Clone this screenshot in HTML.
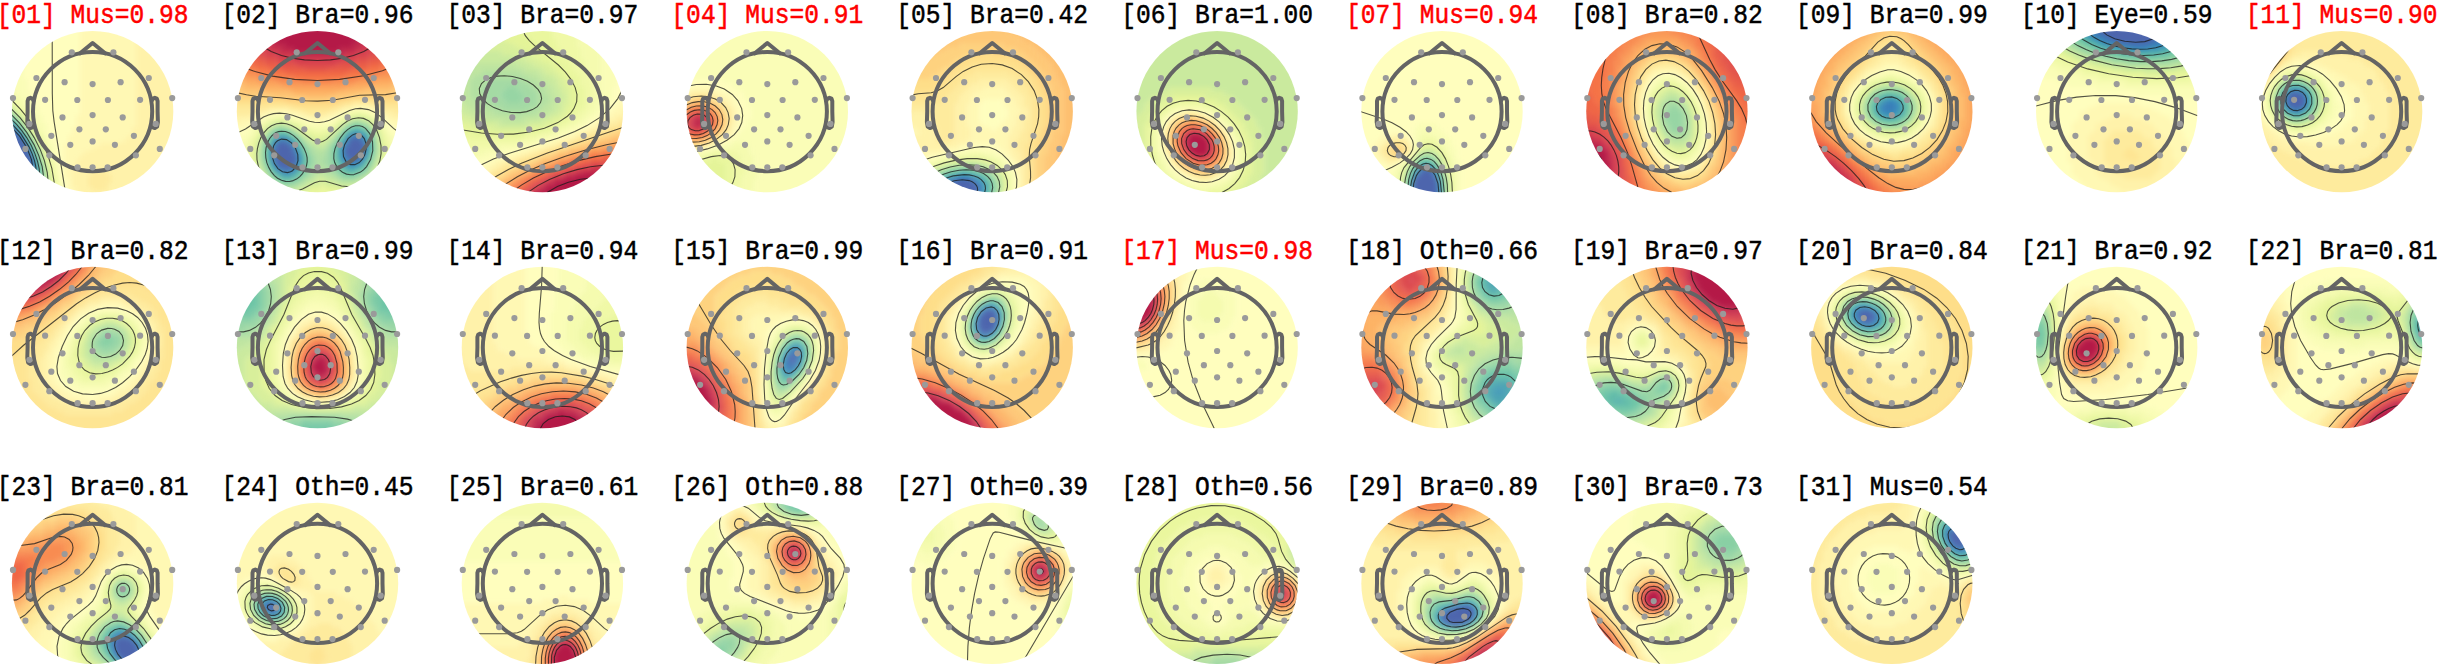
<!DOCTYPE html><html><head><meta charset="utf-8"><style>html,body{margin:0;padding:0;background:#fff;width:2438px;height:667px;overflow:hidden}svg{display:block}.ho{fill:none;stroke:#646464;stroke-width:4;stroke-linejoin:round;stroke-linecap:round}.el{fill:#9a9a9a}.fd path{fill:none;stroke-width:4}.ct{fill:none;stroke:#1a1a1a;stroke-opacity:.75;stroke-width:1.1}.tt{font-family:"Liberation Mono",monospace;font-size:24.6px;text-anchor:middle;fill:#000;stroke:#000;stroke-width:.45}.rd{fill:#f00;stroke:#f00}</style></head><body>
<svg width="2438" height="667" viewBox="0 0 2438 667">
<defs><clipPath id="dc"><circle r="80.7"/></clipPath><filter id="bl" x="-20%" y="-20%" width="140%" height="140%" color-interpolation-filters="sRGB"><feGaussianBlur stdDeviation="2.6"/></filter><g id="hd"><g class="ho"><circle r="59.6"/><path d="M-12.5 -58.3L0 -68.6L12.5 -58.3"/><path d="M-59.2 -11 -60.3 -13 -62.2 -13.8 -64.2 -13 -65 -10.5 -65 0 -65.3 10.5 -64.5 15 -62.2 16.5 -59.6 15.6"/><path d="M59.2 -11 60.3 -13 62.2 -13.8 64.2 -13 65 -10.5 65 0 65.3 10.5 64.5 15 62.2 16.5 59.6 15.6"/></g><g class="el"><circle cx="-20.8" cy="-59.3" r="3.1"/><circle cx="20.8" cy="-59.3" r="3.1"/><circle cx="-56.2" cy="-33.6" r="3.1"/><circle cx="56.2" cy="-33.6" r="3.1"/><circle cx="-28" cy="-29.4" r="3.1"/><circle cx="28" cy="-29.4" r="3.1"/><circle cx="0" cy="-27.5" r="3.1"/><circle cx="-79.6" cy="-13.5" r="3.1"/><circle cx="79.6" cy="-13.5" r="3.1"/><circle cx="-47.5" cy="-11.8" r="3.1"/><circle cx="47.5" cy="-11.8" r="3.1"/><circle cx="-15.3" cy="-11.6" r="3.1"/><circle cx="15.3" cy="-11.6" r="3.1"/><circle cx="-63.2" cy="12.3" r="3.1"/><circle cx="63.2" cy="12.3" r="3.1"/><circle cx="-30.1" cy="5.8" r="3.1"/><circle cx="30.1" cy="5.8" r="3.1"/><circle cx="0" cy="3.5" r="3.1"/><circle cx="-41.3" cy="24.2" r="3.1"/><circle cx="41.3" cy="24.2" r="3.1"/><circle cx="-13.2" cy="17.7" r="3.1"/><circle cx="13.2" cy="17.7" r="3.1"/><circle cx="-67.2" cy="37.3" r="3.1"/><circle cx="67.2" cy="37.3" r="3.1"/><circle cx="-22.3" cy="33.2" r="3.1"/><circle cx="22.3" cy="33.2" r="3.1"/><circle cx="0" cy="29.8" r="3.1"/><circle cx="-43.3" cy="43.7" r="3.1"/><circle cx="43.3" cy="43.7" r="3.1"/><circle cx="-15" cy="55.7" r="3.1"/><circle cx="15" cy="55.7" r="3.1"/><circle cx="0" cy="55.7" r="3.1"/></g></g></defs>
<g transform="translate(92.6 111.6)">
<g clip-path="url(#dc)"><g filter="url(#bl)" class="fd">
<path stroke="#4d65ad" d="M-84.7 17.3h4M-84.7 21.3h8M-84.7 25.3h12M-80.7 29.3h12M-80.7 33.3h12M-76.7 37.3h12M-76.7 41.3h12M-72.7 45.3h12M-72.7 49.3h12M-68.7 53.3h8M-64.7 57.3h4"/>
<path stroke="#4273b3" d="M-80.7 17.3h4M-68.7 33.3h4"/>
<path stroke="#3a7eb8" d="M-84.7 13.3h4M-76.7 21.3h4M-64.7 41.3h4M-60.7 53.3h4M-60.7 57.3h4M-60.7 61.3h4"/>
<path stroke="#3389bd" d="M-72.7 25.3h4M-60.7 49.3h4"/>
<path stroke="#3f97b7" d="M-68.7 29.3h4M-64.7 37.3h4"/>
<path stroke="#49a2b2" d="M-84.7 9.3h4M-80.7 13.3h4M-76.7 17.3h4M-60.7 45.3h4"/>
<path stroke="#54aead" d="M-72.7 21.3h4M-56.7 57.3h4M-56.7 61.3h4M-56.7 65.3h4"/>
<path stroke="#60bba8" d="M-68.7 25.3h4M-64.7 33.3h4M-60.7 41.3h4M-56.7 53.3h4"/>
<path stroke="#6bc4a5" d="M-80.7 9.3h4M-56.7 49.3h4"/>
<path stroke="#79c9a5" d="M-84.7 5.3h4M-76.7 13.3h4M-72.7 17.3h4M-64.7 29.3h4M-60.7 37.3h4"/>
<path stroke="#89d0a4" d="M-68.7 21.3h4M-56.7 45.3h4M-52.7 61.3h4M-52.7 65.3h4M-52.7 69.3h4"/>
<path stroke="#97d5a4" d="M-80.7 5.3h4M-76.7 9.3h4M-60.7 33.3h4M-56.7 41.3h4M-52.7 53.3h4M-52.7 57.3h4"/>
<path stroke="#a4daa4" d="M-84.7 1.3h4M-72.7 13.3h4M-64.7 25.3h4"/>
<path stroke="#b3e0a2" d="M-68.7 17.3h4M-60.7 29.3h4M-56.7 37.3h4M-52.7 49.3h4M-48.7 65.3h4M-48.7 69.3h4"/>
<path stroke="#bfe5a0" d="M-84.7 -2.7h4M-80.7 1.3h4M-76.7 5.3h4M-72.7 9.3h4M-64.7 21.3h4M-52.7 45.3h4M-48.7 57.3h4M-48.7 61.3h4"/>
<path stroke="#caea9e" d="M-68.7 13.3h4M-60.7 25.3h4M-56.7 33.3h4M-52.7 41.3h4M-48.7 53.3h4"/>
<path stroke="#d8ef9b" d="M-84.7 -6.7h4M-80.7 -2.7h4M-76.7 1.3h4M-72.7 5.3h4M-64.7 17.3h4M-56.7 29.3h4M-52.7 37.3h4M-48.7 49.3h4M-44.7 65.3h4M-44.7 69.3h4M-44.7 73.3h4"/>
<path stroke="#e4f498" d="M-68.7 9.3h4M-64.7 13.3h4M-60.7 21.3h4M-52.7 33.3h4M-48.7 45.3h4M-44.7 57.3h4M-44.7 61.3h4"/>
<path stroke="#eaf79e" d="M-84.7 -10.7h4M-80.7 -6.7h4M-76.7 -2.7h4M-72.7 1.3h4M-68.7 5.3h4M-64.7 9.3h4M-60.7 17.3h4M-56.7 25.3h4M-52.7 29.3h4M-48.7 41.3h4M-44.7 49.3h4M-44.7 53.3h4M-40.7 69.3h4M-40.7 73.3h4M-40.7 77.3h4"/>
<path stroke="#f0f9a7" d="M-84.7 -14.7h4M-80.7 -10.7h4M-76.7 -6.7h4M-72.7 -2.7h4M-68.7 1.3h4M-64.7 5.3h4M-60.7 13.3h4M-56.7 21.3h4M-52.7 25.3h4M-48.7 33.3h4M-48.7 37.3h4M-44.7 45.3h4M-40.7 57.3h4M-40.7 61.3h4M-40.7 65.3h4"/>
<path stroke="#f5fbaf" d="M-84.7 -22.7h4M-84.7 -18.7h8M-80.7 -14.7h8M-76.7 -10.7h8M-72.7 -6.7h4M-68.7 -2.7h4M-64.7 1.3h4M-60.7 5.3h4M-60.7 9.3h4M-56.7 13.3h4M-56.7 17.3h4M-52.7 21.3h4M-48.7 29.3h4M-44.7 37.3h4M-44.7 41.3h4M-40.7 49.3h4M-40.7 53.3h4M-36.7 65.3h4M-36.7 69.3h4M-36.7 73.3h4M-36.7 77.3h4"/>
<path stroke="#fafdb7" d="M-72.7 -46.7h4M-76.7 -42.7h8M-76.7 -38.7h8M-80.7 -34.7h12M-80.7 -30.7h16M-80.7 -26.7h16M-80.7 -22.7h16M-76.7 -18.7h16M-72.7 -14.7h12M-68.7 -10.7h12M-68.7 -6.7h12M-64.7 -2.7h12M-60.7 1.3h8M-56.7 5.3h8M-56.7 9.3h8M-52.7 13.3h8M-52.7 17.3h8M-48.7 21.3h4M-48.7 25.3h8M-44.7 29.3h4M-44.7 33.3h8M-40.7 37.3h4M-40.7 41.3h4M-40.7 45.3h4M-36.7 49.3h4M-36.7 53.3h4M-36.7 57.3h4M-36.7 61.3h4M-32.7 73.3h4M-32.7 77.3h4"/>
<path stroke="#fffebe" d="M-24.7 -82.7h12M-36.7 -78.7h24M-44.7 -74.7h32M-48.7 -70.7h36M-56.7 -66.7h44M-60.7 -62.7h48M-64.7 -58.7h52M-68.7 -54.7h56M-68.7 -50.7h56M-68.7 -46.7h56M-68.7 -42.7h56M-68.7 -38.7h56M-68.7 -34.7h56M-64.7 -30.7h52M-64.7 -26.7h52M-64.7 -22.7h52M-60.7 -18.7h48M-60.7 -14.7h48M-56.7 -10.7h44M-56.7 -6.7h44M-52.7 -2.7h40M-52.7 1.3h40M-48.7 5.3h32M-48.7 9.3h32M-44.7 13.3h28M-44.7 17.3h24M-44.7 21.3h24M-40.7 25.3h16M-40.7 29.3h16M-36.7 33.3h8M-36.7 37.3h8M-36.7 41.3h8M-36.7 45.3h8M-32.7 49.3h4M-32.7 53.3h4M-32.7 57.3h4M-32.7 61.3h4M-32.7 65.3h4M-32.7 69.3h8M-28.7 73.3h4M-28.7 77.3h4M-28.7 81.3h4"/>
<path stroke="#fff8b4" d="M-12.7 -82.7h40M-12.7 -78.7h48M-12.7 -74.7h56M-12.7 -70.7h56M-12.7 -66.7h56M-12.7 -62.7h56M-12.7 -58.7h56M-12.7 -54.7h56M-12.7 -50.7h56M-12.7 -46.7h56M-12.7 -42.7h56M-12.7 -38.7h56M-12.7 -34.7h56M-12.7 -30.7h56M-12.7 -26.7h56M-12.7 -22.7h56M-12.7 -18.7h56M-12.7 -14.7h56M-12.7 -10.7h56M-12.7 -6.7h56M-12.7 -2.7h56M-12.7 1.3h56M-16.7 5.3h60M-16.7 9.3h60M-16.7 13.3h60M-20.7 17.3h60M-20.7 21.3h60M-24.7 25.3h60M-24.7 29.3h56M-28.7 33.3h36M-28.7 37.3h28M-28.7 41.3h20M-28.7 45.3h16M-28.7 49.3h12M-28.7 53.3h12M-28.7 57.3h8M-28.7 61.3h8M-28.7 65.3h8M-24.7 69.3h4M-24.7 73.3h4M-24.7 77.3h8M-24.7 81.3h8"/>
<path stroke="#fff2aa" d="M43.3 -70.7h8M43.3 -66.7h12M43.3 -62.7h16M43.3 -58.7h20M43.3 -54.7h24M43.3 -50.7h28M43.3 -46.7h28M43.3 -42.7h32M43.3 -38.7h36M43.3 -34.7h36M43.3 -30.7h36M43.3 -26.7h40M43.3 -22.7h40M43.3 -18.7h40M43.3 -14.7h44M43.3 -10.7h44M43.3 -6.7h44M43.3 -2.7h44M43.3 1.3h44M43.3 5.3h44M43.3 9.3h44M43.3 13.3h44M39.3 17.3h44M39.3 21.3h44M35.3 25.3h48M31.3 29.3h52M7.3 33.3h72M-0.7 37.3h80M-8.7 41.3h84M-12.7 45.3h88M-16.7 49.3h88M-16.7 53.3h84M-20.7 57.3h84M-20.7 61.3h20M15.3 61.3h48M-20.7 65.3h16M19.3 65.3h36M-20.7 69.3h16M19.3 69.3h32M-20.7 73.3h16M15.3 73.3h32M-16.7 77.3h16M15.3 77.3h24M-16.7 81.3h48M-16.7 85.3h32"/>
<path stroke="#feeb9d" d="M-0.7 61.3h16M-4.7 65.3h24M-4.7 69.3h24M-4.7 73.3h20M-0.7 77.3h16"/>
</g>
<path class="ct" d="M-81 64.3 -77 67.3 -73 69.4 -69 70.4 -66 70.2 -63 68.7 -61 66 -59.8 62 -59.5 58 -61.1 48 -65.8 36 -73 24.5 -81 15.9M-81 68.1 -76 71.8 -71 74.2 -67 75.2 -63 74.7 -60 72.9 -57.9 70 -56.7 66 -56.3 61 -56.8 55 -58.1 49 -60.5 42 -63.7 35 -71.8 22 -81 12.1M-81 72.2 -75 76.5 -70 79 -65 80.2 -61 79.9 -57.5 78 -55 74.9 -53.3 70 -52.8 64 -53.4 57 -55 50 -57.7 42 -61.3 34 -65.9 26 -70.8 19 -76 12.8 -81 8M-52.2 81 -49.7 75 -48.9 66 -50.4 55 -53.8 44 -58.6 33 -65.7 21 -73 11.5 -81 3.3M-81 76.8 -75.4 81M-45.3 81 -44.3 72 -45.3 61 -48.2 49 -52.3 38 -58.4 26 -64.7 16 -72.6 6 -81 -2.5M-38.2 81 -38.5 70 -40.7 57 -44.5 44 -49.5 32 -56.5 19 -63.7 8 -72 -2.3 -81 -11.6M-27.1 81 -38.5 10 -39.8 -1 -40.3 -18 -40.4 -81"/>
</g>
<use href="#hd"/>
</g>
<text x="92.6" y="0" class="tt rd" transform="translate(0 22.9) scale(1 1.12) translate(0 0)">[01] Mus=0.98</text>
<g transform="translate(317.5 111.6)">
<g clip-path="url(#dc)"><g filter="url(#bl)" class="fd">
<path stroke="#4d65ad" d="M31.3 29.3h12M-40.7 33.3h12M31.3 33.3h16M-40.7 37.3h16M27.3 37.3h20M-44.7 41.3h20M27.3 41.3h16M-40.7 45.3h20M31.3 45.3h12M-40.7 49.3h20M-40.7 53.3h16M-32.7 57.3h4"/>
<path stroke="#4273b3" d="M35.3 25.3h8M-36.7 29.3h4M43.3 29.3h4M-28.7 33.3h4M27.3 33.3h4M-44.7 37.3h4M-24.7 41.3h4M43.3 41.3h4M-44.7 45.3h4M27.3 45.3h4M-44.7 49.3h4M31.3 49.3h8M-24.7 53.3h4M-36.7 57.3h4M-28.7 57.3h4"/>
<path stroke="#3a7eb8" d="M31.3 25.3h4M-40.7 29.3h4M-32.7 29.3h4M-44.7 33.3h4M-24.7 37.3h4M43.3 45.3h4M27.3 49.3h4M39.3 49.3h4M-40.7 57.3h4"/>
<path stroke="#3389bd" d="M43.3 25.3h4M27.3 29.3h4M47.3 33.3h4M23.3 37.3h4M47.3 37.3h4M23.3 41.3h4M-20.7 45.3h4M23.3 45.3h4M-20.7 49.3h4M-44.7 53.3h4M31.3 53.3h8M-24.7 57.3h4M-32.7 61.3h4"/>
<path stroke="#3f97b7" d="M35.3 21.3h8M-36.7 25.3h4M-44.7 29.3h4M-28.7 29.3h4M47.3 29.3h4M-24.7 33.3h4M23.3 33.3h4M-48.7 41.3h4M-20.7 41.3h4M47.3 41.3h4M-48.7 45.3h4M23.3 49.3h4M43.3 49.3h4M-20.7 53.3h4M27.3 53.3h4M39.3 53.3h4M-36.7 61.3h4M-28.7 61.3h4"/>
<path stroke="#49a2b2" d="M31.3 21.3h4M43.3 21.3h4M-40.7 25.3h4M-32.7 25.3h4M27.3 25.3h4M47.3 25.3h4M-48.7 37.3h4M-20.7 37.3h4M47.3 45.3h4M-48.7 49.3h4M-44.7 57.3h4M-20.7 57.3h4M31.3 57.3h4M-40.7 61.3h4M-24.7 61.3h4"/>
<path stroke="#54aead" d="M-24.7 29.3h4M23.3 29.3h4M-48.7 33.3h4M19.3 37.3h4M19.3 41.3h4M-16.7 45.3h4M19.3 45.3h4M-16.7 49.3h4M-48.7 53.3h4M23.3 53.3h4M43.3 53.3h4M27.3 57.3h4M35.3 57.3h4M-36.7 65.3h12"/>
<path stroke="#60bba8" d="M35.3 17.3h8M27.3 21.3h4M47.3 21.3h4M-44.7 25.3h4M-28.7 25.3h4M-48.7 29.3h4M-20.7 33.3h4M19.3 33.3h4M51.3 33.3h4M51.3 37.3h4M-16.7 41.3h4M19.3 49.3h4M47.3 49.3h4M-16.7 53.3h4M23.3 57.3h4M39.3 57.3h4M-44.7 61.3h4M-20.7 61.3h4M-24.7 65.3h4"/>
<path stroke="#6bc4a5" d="M31.3 17.3h4M43.3 17.3h4M-40.7 21.3h12M23.3 25.3h4M51.3 29.3h4M-52.7 37.3h4M-16.7 37.3h4M-52.7 41.3h4M51.3 41.3h4M-52.7 45.3h4M19.3 53.3h4M-48.7 57.3h4M-16.7 57.3h4M43.3 57.3h4M27.3 61.3h12M-40.7 65.3h4"/>
<path stroke="#79c9a5" d="M-44.7 21.3h4M-48.7 25.3h4M-24.7 25.3h4M51.3 25.3h4M-20.7 29.3h4M19.3 29.3h4M-52.7 33.3h4M15.3 37.3h4M15.3 41.3h4M-12.7 45.3h4M15.3 45.3h4M51.3 45.3h4M-52.7 49.3h4M-12.7 49.3h4M15.3 49.3h4M-12.7 53.3h4M47.3 53.3h4M19.3 57.3h4M-16.7 61.3h4M23.3 61.3h4M39.3 61.3h4M-20.7 65.3h4M-36.7 69.3h12"/>
<path stroke="#89d0a4" d="M35.3 13.3h8M27.3 17.3h4M47.3 17.3h4M-28.7 21.3h4M23.3 21.3h4M51.3 21.3h4M-52.7 29.3h4M-16.7 33.3h4M15.3 33.3h4M-12.7 41.3h4M51.3 49.3h4M-52.7 53.3h4M15.3 53.3h4M-12.7 57.3h4M47.3 57.3h4M-48.7 61.3h4M-44.7 65.3h4M31.3 65.3h4M-40.7 69.3h4M-24.7 69.3h4"/>
<path stroke="#97d5a4" d="M31.3 13.3h4M43.3 13.3h4M-40.7 17.3h8M-48.7 21.3h4M-20.7 25.3h4M19.3 25.3h4M55.3 29.3h4M55.3 33.3h4M-12.7 37.3h4M11.3 37.3h4M55.3 37.3h4M11.3 41.3h4M55.3 41.3h4M-8.7 45.3h4M11.3 45.3h4M-8.7 49.3h4M11.3 49.3h4M-8.7 53.3h4M11.3 53.3h4M51.3 53.3h4M-52.7 57.3h4M15.3 57.3h4M-12.7 61.3h4M19.3 61.3h4M43.3 61.3h4M-16.7 65.3h4M23.3 65.3h8M35.3 65.3h4M-20.7 69.3h4M-32.7 73.3h4"/>
<path stroke="#a4daa4" d="M47.3 13.3h4M-44.7 17.3h4M-32.7 17.3h4M51.3 17.3h4M-24.7 21.3h4M-52.7 25.3h4M55.3 25.3h4M-16.7 29.3h4M15.3 29.3h4M-56.7 33.3h4M-12.7 33.3h4M11.3 33.3h4M-56.7 37.3h4M-8.7 37.3h4M-56.7 41.3h4M-8.7 41.3h4M7.3 41.3h4M-56.7 45.3h4M-4.7 45.3h4M7.3 45.3h4M55.3 45.3h4M-56.7 49.3h4M-4.7 49.3h4M3.3 49.3h8M-4.7 53.3h4M7.3 53.3h4M-8.7 57.3h4M11.3 57.3h4M-8.7 61.3h4M15.3 61.3h4M47.3 61.3h4M-48.7 65.3h4M-12.7 65.3h4M19.3 65.3h4M39.3 65.3h4M-44.7 69.3h4M-16.7 69.3h4M-36.7 73.3h4M-28.7 73.3h8"/>
<path stroke="#b3e0a2" d="M35.3 9.3h8M27.3 13.3h4M-28.7 17.3h4M23.3 17.3h4M19.3 21.3h4M55.3 21.3h4M15.3 25.3h4M-56.7 29.3h4M-4.7 37.3h4M7.3 37.3h4M-4.7 41.3h12M-0.7 45.3h8M-0.7 49.3h4M55.3 49.3h4M-56.7 53.3h4M-0.7 53.3h8M-4.7 57.3h16M51.3 57.3h4M-52.7 61.3h4M-4.7 61.3h4M7.3 61.3h8M-8.7 65.3h4M15.3 65.3h4M43.3 65.3h4M23.3 69.3h16M-40.7 73.3h4M-20.7 73.3h4"/>
<path stroke="#bfe5a0" d="M31.3 9.3h4M43.3 9.3h4M-40.7 13.3h8M51.3 13.3h4M-48.7 17.3h4M-52.7 21.3h4M-20.7 21.3h4M-16.7 25.3h4M-12.7 29.3h4M11.3 29.3h4M-8.7 33.3h8M7.3 33.3h4M59.3 33.3h4M-0.7 37.3h8M59.3 37.3h4M-60.7 41.3h4M59.3 41.3h4M-60.7 45.3h4M55.3 53.3h4M-56.7 57.3h4M-0.7 61.3h8M51.3 61.3h4M-52.7 65.3h4M-4.7 65.3h4M7.3 65.3h8M47.3 65.3h4M-48.7 69.3h4M-12.7 69.3h8M19.3 69.3h4M39.3 69.3h4M-44.7 73.3h4M-16.7 73.3h4M-36.7 77.3h16"/>
<path stroke="#caea9e" d="M47.3 9.3h4M-44.7 13.3h4M-32.7 13.3h4M23.3 13.3h4M-24.7 17.3h4M19.3 17.3h4M55.3 17.3h4M15.3 21.3h4M-56.7 25.3h4M-12.7 25.3h4M11.3 25.3h4M59.3 25.3h4M-8.7 29.3h4M7.3 29.3h4M59.3 29.3h4M-60.7 33.3h4M-0.7 33.3h8M-60.7 37.3h4M59.3 45.3h4M-60.7 49.3h4M59.3 49.3h4M-60.7 53.3h4M55.3 57.3h4M-56.7 61.3h4M-0.7 65.3h8M-4.7 69.3h4M7.3 69.3h12M43.3 69.3h4M-12.7 73.3h4M19.3 73.3h20M-40.7 77.3h4M-20.7 77.3h4"/>
<path stroke="#d8ef9b" d="M39.3 5.3h4M27.3 9.3h4M51.3 9.3h4M-48.7 13.3h4M-28.7 13.3h4M-52.7 17.3h4M-20.7 17.3h4M-56.7 21.3h4M-16.7 21.3h4M59.3 21.3h4M-8.7 25.3h4M7.3 25.3h4M-60.7 29.3h4M-4.7 29.3h12M63.3 37.3h4M63.3 41.3h4M59.3 53.3h4M-60.7 57.3h4M59.3 57.3h4M55.3 61.3h4M-56.7 65.3h4M51.3 65.3h4M-52.7 69.3h4M-0.7 69.3h8M47.3 69.3h4M-8.7 73.3h12M7.3 73.3h12M39.3 73.3h8M-16.7 77.3h8M27.3 77.3h8M-28.7 81.3h12"/>
<path stroke="#e4f498" d="M31.3 5.3h8M43.3 5.3h8M-40.7 9.3h8M-24.7 13.3h4M19.3 13.3h4M55.3 13.3h4M15.3 17.3h4M59.3 17.3h4M-12.7 21.3h4M11.3 21.3h4M-60.7 25.3h4M-4.7 25.3h12M63.3 29.3h4M-64.7 33.3h4M63.3 33.3h4M-64.7 37.3h4M-64.7 41.3h4M-64.7 45.3h4M63.3 45.3h4M-64.7 49.3h4M63.3 49.3h4M-64.7 53.3h4M63.3 53.3h4M-64.7 57.3h4M-60.7 61.3h4M59.3 61.3h4M3.3 73.3h4M-8.7 77.3h12M7.3 77.3h20M35.3 77.3h4M-16.7 81.3h8"/>
<path stroke="#eaf79e" d="M-44.7 9.3h4M-32.7 9.3h4M23.3 9.3h4M55.3 9.3h4M-52.7 13.3h4M-20.7 13.3h4M-56.7 17.3h4M-16.7 17.3h4M11.3 17.3h4M-60.7 21.3h4M-8.7 21.3h8M3.3 21.3h8M63.3 21.3h4M63.3 25.3h4M-64.7 29.3h4M67.3 33.3h4M-68.7 37.3h4M67.3 37.3h4M-68.7 41.3h4M67.3 41.3h4M-68.7 45.3h4M67.3 45.3h4M-68.7 49.3h4M67.3 49.3h4M-68.7 53.3h4M3.3 77.3h4M-8.7 81.3h40M-16.7 85.3h4"/>
<path stroke="#f0f9a7" d="M35.3 1.3h12M27.3 5.3h4M51.3 5.3h4M-48.7 9.3h4M-28.7 9.3h4M19.3 9.3h4M-56.7 13.3h4M-16.7 13.3h4M15.3 13.3h4M59.3 13.3h4M-60.7 17.3h4M-12.7 17.3h8M7.3 17.3h4M63.3 17.3h4M-0.7 21.3h4M-64.7 25.3h4M67.3 25.3h4M-68.7 29.3h4M67.3 29.3h4M-68.7 33.3h4M-72.7 37.3h4M71.3 37.3h4M-72.7 41.3h4M71.3 41.3h4M-72.7 45.3h4M71.3 45.3h4M-72.7 49.3h4M-12.7 85.3h28"/>
<path stroke="#f5fbaf" d="M31.3 1.3h4M47.3 1.3h4M-44.7 5.3h16M23.3 5.3h4M55.3 5.3h4M-52.7 9.3h4M-24.7 9.3h8M59.3 9.3h4M-60.7 13.3h4M-12.7 13.3h4M11.3 13.3h4M63.3 13.3h4M-64.7 17.3h4M-4.7 17.3h12M-64.7 21.3h4M67.3 21.3h4M-68.7 25.3h4M71.3 25.3h4M-72.7 29.3h4M71.3 29.3h4M-76.7 33.3h8M71.3 33.3h8M-76.7 37.3h4M75.3 37.3h4M-76.7 41.3h4"/>
<path stroke="#fafdb7" d="M27.3 1.3h4M51.3 1.3h4M-52.7 5.3h8M-28.7 5.3h4M19.3 5.3h4M59.3 5.3h4M-56.7 9.3h4M-16.7 9.3h4M15.3 9.3h4M63.3 9.3h4M-64.7 13.3h4M-8.7 13.3h20M67.3 13.3h4M-68.7 17.3h4M67.3 17.3h4M-72.7 21.3h8M71.3 21.3h4M-80.7 25.3h12M75.3 25.3h8M-80.7 29.3h8M75.3 29.3h8M-80.7 33.3h4"/>
<path stroke="#fffebe" d="M35.3 -2.7h16M-44.7 1.3h16M23.3 1.3h4M55.3 1.3h4M-56.7 5.3h4M-24.7 5.3h8M15.3 5.3h4M63.3 5.3h4M-64.7 9.3h8M-12.7 9.3h12M3.3 9.3h12M67.3 9.3h4M-68.7 13.3h4M71.3 13.3h4M-80.7 17.3h12M71.3 17.3h12M-84.7 21.3h12M75.3 21.3h8M-84.7 25.3h4"/>
<path stroke="#fff8b4" d="M27.3 -2.7h8M51.3 -2.7h8M-52.7 1.3h8M-28.7 1.3h8M19.3 1.3h4M59.3 1.3h4M-64.7 5.3h8M-16.7 5.3h8M7.3 5.3h8M67.3 5.3h4M-76.7 9.3h12M-0.7 9.3h4M71.3 9.3h12M-84.7 13.3h16M75.3 13.3h12M-84.7 17.3h4"/>
<path stroke="#fff2aa" d="M35.3 -6.7h16M-48.7 -2.7h20M23.3 -2.7h4M59.3 -2.7h4M-64.7 1.3h12M-20.7 1.3h8M11.3 1.3h8M63.3 1.3h12M-84.7 5.3h20M-8.7 5.3h16M71.3 5.3h16M-84.7 9.3h8M83.3 9.3h4"/>
<path stroke="#feeb9d" d="M27.3 -6.7h8M51.3 -6.7h12M-84.7 -2.7h36M-28.7 -2.7h12M15.3 -2.7h8M63.3 -2.7h24M-84.7 1.3h20M-12.7 1.3h24M75.3 1.3h12"/>
<path stroke="#fee593" d="M35.3 -10.7h24M-84.7 -6.7h60M19.3 -6.7h8M63.3 -6.7h24M-16.7 -2.7h32"/>
<path stroke="#fede89" d="M-84.7 -14.7h4M79.3 -14.7h8M-84.7 -10.7h52M23.3 -10.7h12M59.3 -10.7h28M-24.7 -6.7h44"/>
<path stroke="#fed27f" d="M-84.7 -18.7h8M75.3 -18.7h8M-80.7 -14.7h36M31.3 -14.7h48M-32.7 -10.7h56"/>
<path stroke="#fec877" d="M-84.7 -22.7h8M75.3 -22.7h8M-76.7 -18.7h24M39.3 -18.7h36M-44.7 -14.7h32M11.3 -14.7h20"/>
<path stroke="#fdbf6f" d="M-80.7 -26.7h8M75.3 -26.7h8M-76.7 -22.7h20M47.3 -22.7h28M-52.7 -18.7h28M19.3 -18.7h20M-12.7 -14.7h24"/>
<path stroke="#fdb365" d="M-80.7 -30.7h8M75.3 -30.7h4M-72.7 -26.7h16M55.3 -26.7h20M-56.7 -22.7h28M27.3 -22.7h20M-24.7 -18.7h44"/>
<path stroke="#fca85e" d="M-80.7 -34.7h8M75.3 -34.7h4M-72.7 -30.7h12M59.3 -30.7h16M-56.7 -26.7h20M35.3 -26.7h20M-28.7 -22.7h56"/>
<path stroke="#fa9b58" d="M-76.7 -38.7h4M75.3 -38.7h4M-72.7 -34.7h12M59.3 -34.7h16M-60.7 -30.7h20M39.3 -30.7h20M-36.7 -26.7h72"/>
<path stroke="#f88c51" d="M-76.7 -42.7h4M71.3 -42.7h4M-72.7 -38.7h12M63.3 -38.7h12M-60.7 -34.7h16M43.3 -34.7h16M-40.7 -30.7h24M15.3 -30.7h24"/>
<path stroke="#f67f4b" d="M-72.7 -42.7h12M63.3 -42.7h8M-60.7 -38.7h12M47.3 -38.7h16M-44.7 -34.7h20M27.3 -34.7h16M-16.7 -30.7h32"/>
<path stroke="#f57245" d="M-72.7 -46.7h8M63.3 -46.7h8M-60.7 -42.7h12M51.3 -42.7h12M-48.7 -38.7h16M31.3 -38.7h16M-24.7 -34.7h52"/>
<path stroke="#ef6645" d="M-68.7 -50.7h8M63.3 -50.7h8M-64.7 -46.7h12M51.3 -46.7h12M-48.7 -42.7h12M35.3 -42.7h16M-32.7 -38.7h64"/>
<path stroke="#e95c47" d="M-68.7 -54.7h8M63.3 -54.7h4M-60.7 -50.7h8M51.3 -50.7h12M-52.7 -46.7h12M39.3 -46.7h12M-36.7 -42.7h24M11.3 -42.7h24"/>
<path stroke="#e3534a" d="M-64.7 -58.7h4M59.3 -58.7h4M-60.7 -54.7h8M51.3 -54.7h12M-52.7 -50.7h12M39.3 -50.7h12M-40.7 -46.7h20M19.3 -46.7h20M-12.7 -42.7h24"/>
<path stroke="#dc484c" d="M-60.7 -62.7h4M-60.7 -58.7h8M51.3 -58.7h8M-52.7 -54.7h12M39.3 -54.7h12M-40.7 -50.7h16M23.3 -50.7h16M-20.7 -46.7h40"/>
<path stroke="#d63f4f" d="M-56.7 -66.7h4M-56.7 -62.7h8M47.3 -62.7h12M-52.7 -58.7h12M39.3 -58.7h12M-40.7 -54.7h16M27.3 -54.7h12M-24.7 -50.7h48"/>
<path stroke="#cb334d" d="M-52.7 -66.7h8M43.3 -66.7h12M-48.7 -62.7h12M39.3 -62.7h8M-40.7 -58.7h16M27.3 -58.7h12M-24.7 -54.7h52"/>
<path stroke="#be254a" d="M-48.7 -70.7h8M39.3 -70.7h12M-44.7 -66.7h12M35.3 -66.7h8M-36.7 -62.7h12M23.3 -62.7h16M-24.7 -58.7h52"/>
<path stroke="#b41947" d="M-24.7 -82.7h52M-36.7 -78.7h72M-44.7 -74.7h88M-40.7 -70.7h80M-32.7 -66.7h68M-24.7 -62.7h48"/>
</g>
<path class="ct" d="M37.7 53 41.8 51 45 47.6 47.4 43 48.7 37 48.5 32 46.8 27 44 23.7 40 22.1 38 22.2 35 23.3 30.6 27 27.1 33 25.6 39 26 45 28.5 50 30.8 52 33 53 37.7 53M-30 61 -27 60.2 -25 59.1 -21.4 55 -19.5 49 -19.7 43 -22 36.6 -26 31.3 -31 28 -36 27.5 -40 29.2 -42 31.1 -43.8 34 -45.3 40 -45 46 -43.1 52 -39.6 57 -35 60.2 -30 61M36.6 63 43 60.5 46 58.3 49.1 55 53.1 48 55.3 39 55 30 52.3 22 48 16.8 45 14.9 42 14.1 38 14.2 34 15.5 30.1 18 26.8 21 22.9 26 20 31 17.5 37 16.4 42 16.3 47 17.2 51 19.2 55 21.7 58 25 60.7 29 62.5 33 63.2 36.6 63M-24.2 69 -21 67.5 -17.7 65 -15 62 -12.5 58 -11 54 -10.3 50 -10.4 46 -11.3 42 -13.4 37 -16.4 32 -20 27.5 -23.9 24 -28 21.4 -32 19.9 -36 19.6 -39 20 -42 21.2 -45.6 24 -48 27.1 -50 31.1 -51.4 36 -52 41 -51.7 46 -50.7 51 -48.7 56 -46.4 60 -43.1 64 -40 66.6 -36 68.7 -32 69.8 -28 69.9 -24.2 69M-21.7 80 -15 77.5 -3 71.2 2 69.6 8 69.6 24 74.4 32 75.2 37 74.6 42 73.1 47 70.5 51 67.5 56.1 62 59.8 56 62.4 49 63.6 42 63.5 34 62 26 59.3 19 55.4 13 51 9.1 46 6.8 41 6.1 35 7.2 30 9.5 25 13 9 27.8 5 30 2 30.6 -1 30.2 -5 28.4 -21 16.7 -26 14 -31 12.2 -36 11.5 -41 12.1 -46 14.1 -50 17 -53.5 21 -56.6 26 -58.6 31 -60.1 37 -60.7 42 -60.5 48 -59.3 54 -57.4 59 -54.8 64 -51.1 69 -47 73.1 -42 76.8 -37 79.2 -32 80.5 -27 80.8 -21.7 80M81 20.4 76 16.8 64.4 6 58 1.2 51 -2 43 -3.2 38 -2.8 32 -1.2 12 8.6 7 10.2 2 10.9 -3 10.7 -8 9.7 -25 3.7 -31 2.2 -38 1.5 -44 2 -49 3.4 -54 5.5 -72 17.3 -81 21.6M81 -19.1 68 -17 42 -16.4 15 -11.4 0 -10.5 -12 -10.9 -37 -13.9 -62 -15.4 -71 -16.8 -81 -19M81 -47.6 65 -40.9 46 -35.9 22 -32.2 0 -31.1 -23 -32.2 -45 -35.5 -64 -40.5 -73 -43.9 -81 -47.6M64.7 -81 63.5 -75 60.3 -70 54.9 -65 46.3 -60 36 -56.1 25 -53.4 13 -51.7 0 -51.1 -13 -51.7 -25 -53.4 -36 -56.1 -46.3 -60 -54.9 -65 -60.3 -70 -63.5 -75 -64.7 -81"/>
</g>
<use href="#hd"/>
</g>
<text x="317.5" y="0" class="tt" transform="translate(0 22.9) scale(1 1.12) translate(0 0)">[02] Bra=0.96</text>
<g transform="translate(542.4 111.6)">
<g clip-path="url(#dc)"><g filter="url(#bl)" class="fd">
<path stroke="#97d5a4" d="M-36.7 -22.7h12M-40.7 -18.7h20M-40.7 -14.7h24M-36.7 -10.7h16"/>
<path stroke="#a4daa4" d="M-52.7 -30.7h32M-56.7 -26.7h44M-60.7 -22.7h24M-24.7 -22.7h16M-60.7 -18.7h20M-20.7 -18.7h16M-56.7 -14.7h16M-16.7 -14.7h12M-56.7 -10.7h20M-20.7 -10.7h16M-48.7 -6.7h44M-40.7 -2.7h28"/>
<path stroke="#b3e0a2" d="M-60.7 -38.7h40M-68.7 -34.7h56M-72.7 -30.7h20M-20.7 -30.7h16M-72.7 -26.7h16M-12.7 -26.7h12M-72.7 -22.7h12M-8.7 -22.7h12M-72.7 -18.7h12M-4.7 -18.7h8M-72.7 -14.7h16M-4.7 -14.7h12M-68.7 -10.7h12M-4.7 -10.7h12M-64.7 -6.7h16M-4.7 -6.7h8M-56.7 -2.7h16M-12.7 -2.7h12M-48.7 1.3h44M-28.7 5.3h8"/>
<path stroke="#bfe5a0" d="M-72.7 -46.7h48M-76.7 -42.7h60M-76.7 -38.7h16M-20.7 -38.7h16M-80.7 -34.7h12M-12.7 -34.7h12M-80.7 -30.7h8M-4.7 -30.7h8M-80.7 -26.7h8M-0.7 -26.7h8M-84.7 -22.7h12M3.3 -22.7h8M-84.7 -18.7h12M3.3 -18.7h8M-84.7 -14.7h12M7.3 -14.7h8M-80.7 -10.7h12M7.3 -10.7h8M-76.7 -6.7h12M3.3 -6.7h8M-72.7 -2.7h16M-0.7 -2.7h12M-64.7 1.3h16M-4.7 1.3h12M-56.7 5.3h28M-20.7 5.3h20M-40.7 9.3h24"/>
<path stroke="#caea9e" d="M-64.7 -58.7h24M-68.7 -54.7h40M-68.7 -50.7h52M-24.7 -46.7h16M-16.7 -42.7h16M-4.7 -38.7h8M-0.7 -34.7h12M3.3 -30.7h12M7.3 -26.7h8M11.3 -22.7h8M11.3 -18.7h8M15.3 -14.7h8M-84.7 -10.7h4M15.3 -10.7h4M-84.7 -6.7h8M11.3 -6.7h8M-84.7 -2.7h12M11.3 -2.7h8M-80.7 1.3h16M7.3 1.3h8M-72.7 5.3h16M-0.7 5.3h8M-60.7 9.3h20M-16.7 9.3h16M-44.7 13.3h32"/>
<path stroke="#d8ef9b" d="M-44.7 -74.7h4M-48.7 -70.7h12M-56.7 -66.7h28M-60.7 -62.7h40M-40.7 -58.7h28M-28.7 -54.7h20M-16.7 -50.7h16M-8.7 -46.7h16M-0.7 -42.7h12M3.3 -38.7h12M11.3 -34.7h8M15.3 -30.7h8M15.3 -26.7h8M19.3 -22.7h8M19.3 -18.7h8M23.3 -14.7h4M19.3 -10.7h8M19.3 -6.7h8M19.3 -2.7h4M-84.7 1.3h4M15.3 1.3h8M-84.7 5.3h12M7.3 5.3h12M-84.7 9.3h24M-0.7 9.3h12M-72.7 13.3h28M-12.7 13.3h16M-52.7 17.3h40"/>
<path stroke="#e4f498" d="M-24.7 -82.7h8M-36.7 -78.7h20M-40.7 -74.7h28M-36.7 -70.7h28M-28.7 -66.7h24M-20.7 -62.7h20M-12.7 -58.7h16M-8.7 -54.7h16M-0.7 -50.7h12M7.3 -46.7h12M11.3 -42.7h12M15.3 -38.7h8M19.3 -34.7h8M23.3 -30.7h8M23.3 -26.7h8M27.3 -22.7h8M27.3 -18.7h8M27.3 -14.7h8M27.3 -10.7h8M27.3 -6.7h8M23.3 -2.7h8M23.3 1.3h8M19.3 5.3h4M11.3 9.3h8M-84.7 13.3h12M3.3 13.3h8M-84.7 17.3h32M-12.7 17.3h16M-68.7 21.3h52"/>
<path stroke="#eaf79e" d="M-16.7 -82.7h28M-16.7 -78.7h28M-12.7 -74.7h24M-8.7 -70.7h24M-4.7 -66.7h20M-0.7 -62.7h20M3.3 -58.7h16M7.3 -54.7h16M11.3 -50.7h16M19.3 -46.7h12M23.3 -42.7h8M23.3 -38.7h12M27.3 -34.7h12M31.3 -30.7h8M31.3 -26.7h8M35.3 -22.7h8M35.3 -18.7h8M35.3 -14.7h8M35.3 -10.7h8M35.3 -6.7h8M31.3 -2.7h8M31.3 1.3h4M23.3 5.3h8M19.3 9.3h8M11.3 13.3h8M3.3 17.3h8M-84.7 21.3h16M-16.7 21.3h16M-84.7 25.3h68M-80.7 29.3h4"/>
<path stroke="#f0f9a7" d="M11.3 -82.7h16M11.3 -78.7h24M11.3 -74.7h28M15.3 -70.7h20M15.3 -66.7h20M19.3 -62.7h20M19.3 -58.7h20M23.3 -54.7h16M27.3 -50.7h16M31.3 -46.7h12M31.3 -42.7h12M35.3 -38.7h12M39.3 -34.7h8M39.3 -30.7h12M39.3 -26.7h12M43.3 -22.7h8M43.3 -18.7h8M43.3 -14.7h8M43.3 -10.7h8M43.3 -6.7h4M39.3 -2.7h8M35.3 1.3h8M31.3 5.3h8M27.3 9.3h8M19.3 13.3h8M11.3 17.3h8M-0.7 21.3h12M-16.7 25.3h12M-76.7 29.3h56M-80.7 33.3h36M-76.7 37.3h8"/>
<path stroke="#f5fbaf" d="M39.3 -74.7h4M35.3 -70.7h16M35.3 -66.7h20M39.3 -62.7h20M39.3 -58.7h20M39.3 -54.7h20M43.3 -50.7h16M43.3 -46.7h16M43.3 -42.7h16M47.3 -38.7h12M47.3 -34.7h12M51.3 -30.7h8M51.3 -26.7h8M51.3 -22.7h8M51.3 -18.7h8M51.3 -14.7h8M51.3 -10.7h8M47.3 -6.7h8M47.3 -2.7h8M43.3 1.3h8M39.3 5.3h8M35.3 9.3h8M27.3 13.3h8M19.3 17.3h8M11.3 21.3h8M-4.7 25.3h12M-20.7 29.3h16M-44.7 33.3h24M-68.7 37.3h28M-76.7 41.3h20M-72.7 45.3h8"/>
<path stroke="#fafdb7" d="M59.3 -58.7h4M59.3 -54.7h8M59.3 -50.7h12M59.3 -46.7h12M59.3 -42.7h16M59.3 -38.7h16M59.3 -34.7h16M59.3 -30.7h16M59.3 -26.7h16M59.3 -22.7h12M59.3 -18.7h12M59.3 -14.7h12M59.3 -10.7h8M55.3 -6.7h12M55.3 -2.7h8M51.3 1.3h8M47.3 5.3h8M43.3 9.3h4M35.3 13.3h8M27.3 17.3h8M19.3 21.3h8M7.3 25.3h8M-4.7 29.3h8M-20.7 33.3h12M-40.7 37.3h16M-56.7 41.3h20M-64.7 45.3h16M-72.7 49.3h12"/>
<path stroke="#fffebe" d="M75.3 -38.7h4M75.3 -34.7h4M75.3 -30.7h4M75.3 -26.7h8M71.3 -22.7h12M71.3 -18.7h12M71.3 -14.7h12M67.3 -10.7h12M67.3 -6.7h8M63.3 -2.7h8M59.3 1.3h8M55.3 5.3h8M47.3 9.3h8M43.3 13.3h8M35.3 17.3h8M27.3 21.3h4M15.3 25.3h8M3.3 29.3h8M-8.7 33.3h8M-24.7 37.3h12M-36.7 41.3h12M-48.7 45.3h12M-60.7 49.3h12M-68.7 53.3h12"/>
<path stroke="#fff8b4" d="M83.3 -14.7h4M79.3 -10.7h8M75.3 -6.7h12M71.3 -2.7h12M67.3 1.3h12M63.3 5.3h8M55.3 9.3h8M51.3 13.3h4M43.3 17.3h4M31.3 21.3h8M23.3 25.3h8M11.3 29.3h8M-0.7 33.3h8M-12.7 37.3h8M-24.7 41.3h8M-36.7 45.3h8M-48.7 49.3h12M-56.7 53.3h8M-64.7 57.3h12"/>
<path stroke="#fff2aa" d="M83.3 -2.7h4M79.3 1.3h8M71.3 5.3h12M63.3 9.3h12M55.3 13.3h12M47.3 17.3h8M39.3 21.3h8M31.3 25.3h4M19.3 29.3h8M7.3 33.3h8M-4.7 37.3h8M-16.7 41.3h8M-28.7 45.3h8M-36.7 49.3h8M-48.7 53.3h8M-52.7 57.3h8M-60.7 61.3h8"/>
<path stroke="#feeb9d" d="M83.3 5.3h4M75.3 9.3h8M67.3 13.3h8M55.3 17.3h8M47.3 21.3h8M35.3 25.3h8M27.3 29.3h4M15.3 33.3h8M3.3 37.3h8M-8.7 41.3h8M-20.7 45.3h8M-28.7 49.3h4M-40.7 53.3h8M-44.7 57.3h4M-52.7 61.3h4M-56.7 65.3h4"/>
<path stroke="#fee593" d="M83.3 9.3h4M75.3 13.3h12M63.3 17.3h12M55.3 21.3h8M43.3 25.3h8M31.3 29.3h8M23.3 33.3h4M11.3 37.3h4M-0.7 41.3h4M-12.7 45.3h8M-24.7 49.3h8M-32.7 53.3h8M-40.7 57.3h8M-48.7 61.3h8M-52.7 65.3h4"/>
<path stroke="#fede89" d="M75.3 17.3h8M63.3 21.3h8M51.3 25.3h8M39.3 29.3h8M27.3 33.3h8M15.3 37.3h8M3.3 41.3h8M-4.7 45.3h4M-16.7 49.3h8M-24.7 53.3h4M-32.7 57.3h4M-40.7 61.3h4M-48.7 65.3h8M-52.7 69.3h4"/>
<path stroke="#fed27f" d="M71.3 21.3h12M59.3 25.3h8M47.3 29.3h8M35.3 33.3h8M23.3 37.3h4M11.3 41.3h4M-0.7 45.3h8M-8.7 49.3h4M-20.7 53.3h8M-28.7 57.3h4M-36.7 61.3h4M-40.7 65.3h4M-48.7 69.3h4"/>
<path stroke="#fec877" d="M67.3 25.3h12M55.3 29.3h8M43.3 33.3h4M27.3 37.3h8M15.3 41.3h8M7.3 45.3h4M-4.7 49.3h4M-12.7 53.3h4M-24.7 57.3h8M-32.7 61.3h8M-36.7 65.3h4M-44.7 69.3h4"/>
<path stroke="#fdbf6f" d="M79.3 25.3h4M63.3 29.3h8M47.3 33.3h8M35.3 37.3h8M23.3 41.3h4M11.3 45.3h4M-0.7 49.3h8M-8.7 53.3h4M-16.7 57.3h4M-24.7 61.3h4M-32.7 65.3h4M-40.7 69.3h4M-44.7 73.3h4"/>
<path stroke="#fdb365" d="M71.3 29.3h12M55.3 33.3h12M43.3 37.3h4M27.3 41.3h8M15.3 45.3h8M7.3 49.3h4M-4.7 53.3h4M-12.7 57.3h4M-20.7 61.3h4M-28.7 65.3h4M-36.7 69.3h4M-40.7 73.3h4"/>
<path stroke="#fca85e" d="M67.3 33.3h12M47.3 37.3h12M35.3 41.3h8M23.3 45.3h4M11.3 49.3h4M-0.7 53.3h8M-8.7 57.3h4M-16.7 61.3h4M-24.7 65.3h4M-32.7 69.3h4M-36.7 73.3h4"/>
<path stroke="#fa9b58" d="M59.3 37.3h8M43.3 41.3h4M27.3 45.3h8M15.3 49.3h8M7.3 53.3h4M-4.7 57.3h4M-12.7 61.3h4M-20.7 65.3h4M-28.7 69.3h4M-32.7 73.3h4M-40.7 77.3h4"/>
<path stroke="#f88c51" d="M67.3 37.3h12M47.3 41.3h12M35.3 45.3h4M23.3 49.3h4M11.3 53.3h4M-0.7 57.3h4M-8.7 61.3h4M-16.7 65.3h4M-24.7 69.3h4M-28.7 73.3h4M-36.7 77.3h4"/>
<path stroke="#f67f4b" d="M59.3 41.3h12M39.3 45.3h8M27.3 49.3h4M15.3 53.3h4M3.3 57.3h8M-4.7 61.3h4M-12.7 65.3h4M-20.7 69.3h4M-24.7 73.3h4M-32.7 77.3h4"/>
<path stroke="#f57245" d="M71.3 41.3h4M47.3 45.3h12M31.3 49.3h8M19.3 53.3h8M11.3 57.3h4M-0.7 61.3h4M-8.7 65.3h4M-16.7 69.3h4M-20.7 73.3h4M-28.7 77.3h4"/>
<path stroke="#ef6645" d="M59.3 45.3h16M39.3 49.3h8M27.3 53.3h4M15.3 57.3h4M3.3 61.3h4M-4.7 65.3h4M-12.7 69.3h4M-24.7 77.3h4M-28.7 81.3h4"/>
<path stroke="#e95c47" d="M47.3 49.3h12M31.3 53.3h8M19.3 57.3h4M7.3 61.3h4M-0.7 65.3h4M-8.7 69.3h4M-16.7 73.3h4M-20.7 77.3h4M-24.7 81.3h4"/>
<path stroke="#e3534a" d="M59.3 49.3h12M39.3 53.3h8M23.3 57.3h8M11.3 61.3h8M3.3 65.3h4M-4.7 69.3h4M-12.7 73.3h4M-16.7 77.3h4"/>
<path stroke="#dc484c" d="M47.3 53.3h20M31.3 57.3h4M19.3 61.3h4M7.3 65.3h4M-0.7 69.3h4M-8.7 73.3h4M-12.7 77.3h4M-20.7 81.3h4"/>
<path stroke="#d63f4f" d="M35.3 57.3h12M23.3 61.3h8M11.3 65.3h8M3.3 69.3h4M-4.7 73.3h4M-8.7 77.3h4M-16.7 81.3h4"/>
<path stroke="#cb334d" d="M47.3 57.3h16M31.3 61.3h8M19.3 65.3h4M7.3 69.3h4M-0.7 73.3h4M-4.7 77.3h4M-12.7 81.3h4M-16.7 85.3h4"/>
<path stroke="#be254a" d="M39.3 61.3h24M23.3 65.3h8M11.3 69.3h8M3.3 73.3h8M-0.7 77.3h4M-8.7 81.3h4M-12.7 85.3h4"/>
<path stroke="#b41947" d="M31.3 65.3h24M19.3 69.3h32M11.3 73.3h36M3.3 77.3h36M-4.7 81.3h36M-8.7 85.3h24"/>
</g>
<path class="ct" d="M-22.1 1 -15.7 0 -9.9 -2 -5.1 -5 -1.9 -9 -0.8 -13 -1.8 -18 -4.2 -22 -9 -26.6 -15 -30.3 -22 -33.2 -30 -35.1 -38 -35.9 -45 -35.5 -52 -33.8 -57 -31.4 -60.9 -28 -63.1 -23 -62.7 -18 -60 -13 -55 -8 -48.5 -4 -40 -0.8 -31 0.9 -22.1 1M-81 18.2 -61 21.4 -45 22.7 -29 22.5 -13 20.4 2 16.6 15.5 11 25 4.6 28.6 1 31.5 -3 34.3 -10 34.6 -17 32.8 -24 28.7 -32 23 -39.5 16 -46.6 -7.8 -66 -13.1 -71 -17.1 -76 -19.3 -81M-81 65.4 -65 55.2 -49 47.5 -33 41.7 16 26.5 32.4 20 44.6 14 57.2 6 67.6 -3 75.4 -13 81 -24.1M-68.6 81 -58 72.6 -46 64.6 -34 57.8 -21 51.6 5 41.5 81 15.6M-48.3 81 -37.7 73 -25 65.1 -12 58.4 3 51.9 23 44.7 44 38.2 64 33.1 81 29.9M-31.4 81 -21 73.5 -9 66.5 5 59.9 20 54.1 37 48.8 53 45 68 42.6 81 41.8M-14.9 81 -4.6 74 7 67.9 21 62.2 34.6 58 48 55.1 61 53.6 72 53.8 81 55.7M4.6 81 15 75 26 70.6 38 67.6 49 66.5 54 66.8 58 67.7 60.8 69 62.9 71 63.8 73 63.7 76 61.1 81"/>
</g>
<use href="#hd"/>
</g>
<text x="542.4" y="0" class="tt" transform="translate(0 22.9) scale(1 1.12) translate(0 0)">[03] Bra=0.97</text>
<g transform="translate(767.3 111.6)">
<g clip-path="url(#dc)"><g filter="url(#bl)" class="fd">
<path stroke="#e4f498" d="M-56.7 49.3h8M-68.7 53.3h28M-64.7 57.3h24M-60.7 61.3h20M-56.7 65.3h16M-52.7 69.3h12"/>
<path stroke="#eaf79e" d="M-60.7 45.3h24M-72.7 49.3h16M-48.7 49.3h16M-40.7 53.3h8M-40.7 57.3h8M-40.7 61.3h8M-40.7 65.3h8M-40.7 69.3h8M-44.7 73.3h12M-40.7 77.3h4"/>
<path stroke="#f0f9a7" d="M-56.7 41.3h28M-68.7 45.3h8M-36.7 45.3h12M-32.7 49.3h8M-32.7 53.3h8M-32.7 57.3h12M-32.7 61.3h12M-32.7 65.3h8M-32.7 69.3h8M-32.7 73.3h8M-36.7 77.3h8"/>
<path stroke="#f5fbaf" d="M-36.7 33.3h16M-48.7 37.3h32M-64.7 41.3h8M-28.7 41.3h12M-72.7 45.3h4M-24.7 45.3h12M-24.7 49.3h12M-24.7 53.3h12M-20.7 57.3h12M-20.7 61.3h12M-24.7 65.3h16M-24.7 69.3h12M-24.7 73.3h12M-28.7 77.3h16M-28.7 81.3h12"/>
<path stroke="#fafdb7" d="M-24.7 -82.7h52M-36.7 -78.7h72M-44.7 -74.7h88M-48.7 -70.7h100M-56.7 -66.7h112M-60.7 -62.7h120M-64.7 -58.7h128M-68.7 -54.7h136M-68.7 -50.7h140M-72.7 -46.7h144M-76.7 -42.7h152M-76.7 -38.7h156M-80.7 -34.7h160M-44.7 -30.7h124M-36.7 -26.7h120M-32.7 -22.7h116M-24.7 -18.7h108M-24.7 -14.7h112M-20.7 -10.7h108M-20.7 -6.7h108M-16.7 -2.7h104M-16.7 1.3h104M-16.7 5.3h104M-20.7 9.3h108M-20.7 13.3h108M-24.7 17.3h108M-28.7 21.3h112M-32.7 25.3h116M-36.7 29.3h120M-44.7 33.3h8M-20.7 33.3h100M-56.7 37.3h8M-16.7 37.3h96M-72.7 41.3h8M-16.7 41.3h92M-12.7 45.3h88M-12.7 49.3h84M-12.7 53.3h80M-8.7 57.3h72M-8.7 61.3h72M-8.7 65.3h64M-12.7 69.3h64M-12.7 73.3h60M-12.7 77.3h52M-16.7 81.3h48M-16.7 85.3h32"/>
<path stroke="#fffebe" d="M-80.7 -30.7h36M-80.7 -26.7h44M-84.7 -22.7h8M-52.7 -22.7h20M-44.7 -18.7h20M-36.7 -14.7h12M-32.7 -10.7h12M-32.7 -6.7h12M-28.7 -2.7h12M-28.7 1.3h12M-28.7 5.3h12M-28.7 9.3h8M-28.7 13.3h8M-32.7 17.3h8M-32.7 21.3h4M-36.7 25.3h4M-44.7 29.3h8M-52.7 33.3h8M-64.7 37.3h8M-76.7 41.3h4"/>
<path stroke="#fff8b4" d="M-76.7 -22.7h24M-84.7 -18.7h8M-52.7 -18.7h8M-44.7 -14.7h8M-40.7 -10.7h8M-36.7 -6.7h4M-32.7 -2.7h4M-32.7 1.3h4M-32.7 5.3h4M-32.7 9.3h4M-32.7 13.3h4M-36.7 17.3h4M-36.7 21.3h4M-40.7 25.3h4M-48.7 29.3h4M-56.7 33.3h4M-68.7 37.3h4"/>
<path stroke="#fff2aa" d="M-76.7 -18.7h24M-84.7 -14.7h4M-52.7 -14.7h8M-44.7 -10.7h4M-40.7 -6.7h4M-36.7 -2.7h4M-36.7 1.3h4M-36.7 5.3h4M-36.7 9.3h4M-36.7 13.3h4M-40.7 21.3h4M-44.7 25.3h4M-60.7 33.3h4M-76.7 37.3h8"/>
<path stroke="#feeb9d" d="M-80.7 -14.7h4M-56.7 -14.7h4M-48.7 -10.7h4M-44.7 -6.7h4M-40.7 -2.7h4M-40.7 1.3h4M-40.7 13.3h4M-40.7 17.3h4M-44.7 21.3h4M-48.7 25.3h4M-52.7 29.3h4M-64.7 33.3h4"/>
<path stroke="#fee593" d="M-76.7 -14.7h20M-84.7 -10.7h4M-52.7 -10.7h4M-44.7 -2.7h4M-40.7 5.3h4M-40.7 9.3h4M-56.7 29.3h4M-68.7 33.3h4"/>
<path stroke="#fede89" d="M-80.7 -10.7h4M-56.7 -10.7h4M-48.7 -6.7h4M-44.7 1.3h4M-44.7 17.3h4M-48.7 21.3h4M-52.7 25.3h4M-60.7 29.3h4M-80.7 33.3h12"/>
<path stroke="#fed27f" d="M-76.7 -10.7h4M-60.7 -10.7h4M-52.7 -6.7h4M-48.7 -2.7h4M-44.7 5.3h4M-44.7 9.3h4M-44.7 13.3h4"/>
<path stroke="#fec877" d="M-72.7 -10.7h12M-84.7 -6.7h4M-48.7 17.3h4M-52.7 21.3h4M-56.7 25.3h4M-64.7 29.3h4"/>
<path stroke="#fdbf6f" d="M-80.7 -6.7h4M-56.7 -6.7h4M-52.7 -2.7h4M-48.7 1.3h4M-48.7 5.3h4M-48.7 13.3h4M-80.7 29.3h16"/>
<path stroke="#fdb365" d="M-76.7 -6.7h4M-60.7 -6.7h4M-84.7 -2.7h4M-48.7 9.3h4M-60.7 25.3h4"/>
<path stroke="#fca85e" d="M-72.7 -6.7h12M-56.7 -2.7h4M-52.7 1.3h4M-52.7 17.3h4M-56.7 21.3h4M-84.7 25.3h4"/>
<path stroke="#fa9b58" d="M-80.7 -2.7h4M-52.7 5.3h4M-52.7 13.3h4M-80.7 25.3h4M-64.7 25.3h4"/>
<path stroke="#f88c51" d="M-60.7 -2.7h4M-84.7 1.3h4M-56.7 1.3h4M-52.7 9.3h4M-60.7 21.3h4M-76.7 25.3h12"/>
<path stroke="#f67f4b" d="M-76.7 -2.7h8M-64.7 -2.7h4M-56.7 17.3h4M-84.7 21.3h4"/>
<path stroke="#f57245" d="M-68.7 -2.7h4M-80.7 1.3h4M-84.7 5.3h4M-56.7 5.3h4M-56.7 13.3h4M-64.7 21.3h4"/>
<path stroke="#ef6645" d="M-60.7 1.3h4M-56.7 9.3h4M-84.7 17.3h4M-60.7 17.3h4M-80.7 21.3h4"/>
<path stroke="#e95c47" d="M-76.7 1.3h4M-64.7 1.3h4M-84.7 9.3h4M-84.7 13.3h4M-76.7 21.3h12"/>
<path stroke="#e3534a" d="M-72.7 1.3h8M-80.7 5.3h4M-60.7 5.3h4M-60.7 13.3h4M-80.7 17.3h4"/>
<path stroke="#dc484c" d="M-80.7 9.3h4M-60.7 9.3h4M-64.7 17.3h4"/>
<path stroke="#d63f4f" d="M-76.7 5.3h4M-64.7 5.3h4M-80.7 13.3h4M-64.7 13.3h4M-76.7 17.3h12"/>
<path stroke="#cb334d" d="M-72.7 5.3h8M-76.7 9.3h4M-64.7 9.3h4M-76.7 13.3h4"/>
<path stroke="#be254a" d="M-72.7 9.3h8M-72.7 13.3h8"/>
</g>
<path class="ct" d="M-43.1 81 -38 76.6 -34.4 71 -32.4 65 -32.2 58 -33.9 52 -37 47.5 -41 45 -47 43.9 -56 45 -67 48.1 -74.8 52 -78.6 56 -79.9 59 -80.4 62 -79.4 69 -75.4 76 -69.9 81M-81 -25.1 -71 -27.1 -61 -27.3 -51 -25.6 -43 -22.5 -35 -17.1 -29.5 -11 -25.6 -3 -24.6 4 -25.5 11 -28.2 17 -33.1 23 -40 28.4 -49 33.3 -60 37.3 -70 39.7 -81 40.8M-81 -12.6 -74 -14.8 -66 -15.6 -59 -14.9 -52 -12.6 -46 -8.8 -41.6 -4 -39.2 1 -38.1 7 -39 13 -41.1 18 -45 23 -51 27.8 -58 31.4 -66 33.8 -74 34.8 -81 34.4M-81 -6.7 -75 -9 -69 -10 -63 -9.8 -57 -8.3 -52 -5.6 -48 -1.8 -45.4 3 -44.5 8 -45.2 13 -47.6 18 -51 22.1 -56 25.8 -62 28.6 -68 30.2 -75 30.5 -81 29.5M-81 -1.7 -76 -4.3 -71 -5.6 -65 -5.7 -60 -4.6 -55.2 -2 -52.2 1 -50.1 5 -49.5 9 -50.2 13 -52.1 17 -55.7 21 -60.2 24 -65 25.9 -71 26.9 -76 26.6 -81 25.1M-81 3.4 -77 0.4 -73 -1.2 -68 -1.9 -64 -1.5 -60 0 -57 2.4 -55 5.4 -54.2 9 -54.8 13 -57 16.8 -60 19.7 -64 21.9 -68 23 -73 23.3 -77 22.4 -81 20.2M-68 19 -72 19.2 -76 18 -78.4 16 -79.7 13 -79.3 9 -77.3 6 -74 3.6 -70 2.4 -66 2.6 -63 3.7 -60.5 6 -59.3 9 -59.5 12 -61.2 15 -64 17.4 -68 19"/>
</g>
<use href="#hd"/>
</g>
<text x="767.3" y="0" class="tt rd" transform="translate(0 22.9) scale(1 1.12) translate(0 0)">[04] Mus=0.91</text>
<g transform="translate(992.2 111.6)">
<g clip-path="url(#dc)"><g filter="url(#bl)" class="fd">
<path stroke="#4d65ad" d="M-36.7 69.3h16M-44.7 73.3h28M-40.7 77.3h28M-28.7 81.3h12"/>
<path stroke="#4273b3" d="M-40.7 69.3h4M-20.7 69.3h4M-16.7 73.3h4M-16.7 81.3h4"/>
<path stroke="#3a7eb8" d="M-44.7 69.3h4M-16.7 85.3h4"/>
<path stroke="#3389bd" d="M-36.7 65.3h16M-48.7 69.3h4M-16.7 69.3h4M-12.7 73.3h4M-12.7 77.3h4M-12.7 81.3h4"/>
<path stroke="#3f97b7" d="M-40.7 65.3h4M-20.7 65.3h4M-12.7 69.3h4"/>
<path stroke="#49a2b2" d="M-44.7 65.3h4M-16.7 65.3h4M-52.7 69.3h4M-8.7 73.3h4M-8.7 77.3h4M-8.7 81.3h4M-12.7 85.3h4"/>
<path stroke="#54aead" d="M-32.7 61.3h8M-48.7 65.3h4M-12.7 65.3h4M-8.7 69.3h4"/>
<path stroke="#60bba8" d="M-36.7 61.3h4M-24.7 61.3h8M-4.7 73.3h4M-4.7 77.3h4M-8.7 85.3h4"/>
<path stroke="#6bc4a5" d="M-44.7 61.3h8M-16.7 61.3h4M-52.7 65.3h4M-8.7 65.3h4M-4.7 69.3h4M-4.7 81.3h4"/>
<path stroke="#79c9a5" d="M-12.7 61.3h4M-56.7 65.3h4M-4.7 85.3h4"/>
<path stroke="#89d0a4" d="M-32.7 57.3h16M-48.7 61.3h4M-8.7 61.3h4M-4.7 65.3h4M-0.7 69.3h4M-0.7 73.3h4M-0.7 77.3h4M-0.7 81.3h4"/>
<path stroke="#97d5a4" d="M-40.7 57.3h8M-16.7 57.3h4M-52.7 61.3h4"/>
<path stroke="#a4daa4" d="M-44.7 57.3h4M-12.7 57.3h4M-56.7 61.3h4M-4.7 61.3h4M-0.7 65.3h4M3.3 73.3h4M3.3 77.3h4M-0.7 85.3h4"/>
<path stroke="#b3e0a2" d="M-28.7 53.3h12M-48.7 57.3h4M-8.7 57.3h4M-0.7 61.3h4M3.3 69.3h4M3.3 81.3h4"/>
<path stroke="#bfe5a0" d="M-36.7 53.3h8M-16.7 53.3h8M-52.7 57.3h4M-4.7 57.3h4M-60.7 61.3h4M3.3 65.3h4M7.3 73.3h4M3.3 85.3h4"/>
<path stroke="#caea9e" d="M-44.7 53.3h8M-8.7 53.3h4M-56.7 57.3h4M-0.7 57.3h4M3.3 61.3h4M7.3 65.3h4M7.3 69.3h4M7.3 77.3h4M7.3 81.3h4"/>
<path stroke="#d8ef9b" d="M-28.7 49.3h16M-48.7 53.3h4M-4.7 53.3h4M-60.7 57.3h4M3.3 57.3h4M7.3 85.3h4"/>
<path stroke="#e4f498" d="M-40.7 49.3h12M-12.7 49.3h8M-52.7 53.3h4M-0.7 53.3h4M-64.7 57.3h4M7.3 61.3h4M11.3 65.3h4M11.3 69.3h4M11.3 73.3h4M11.3 77.3h4"/>
<path stroke="#eaf79e" d="M-44.7 49.3h4M-4.7 49.3h4M-56.7 53.3h4M3.3 53.3h4M7.3 57.3h4M11.3 61.3h4M11.3 81.3h4"/>
<path stroke="#f0f9a7" d="M-36.7 45.3h32M-52.7 49.3h8M-0.7 49.3h8M-64.7 53.3h8M7.3 53.3h4M11.3 57.3h4M15.3 65.3h4M15.3 69.3h4M15.3 73.3h4M15.3 77.3h4M11.3 85.3h4"/>
<path stroke="#f5fbaf" d="M-24.7 41.3h16M-44.7 45.3h8M-4.7 45.3h8M-56.7 49.3h4M7.3 49.3h4M-68.7 53.3h4M11.3 53.3h4M15.3 61.3h4M15.3 81.3h4"/>
<path stroke="#fafdb7" d="M-36.7 41.3h12M-8.7 41.3h12M-52.7 45.3h8M3.3 45.3h8M-64.7 49.3h8M11.3 49.3h4M15.3 53.3h4M15.3 57.3h4M19.3 61.3h4M19.3 65.3h4M19.3 69.3h4M19.3 73.3h4M19.3 77.3h4M19.3 81.3h4"/>
<path stroke="#fffebe" d="M-8.7 -10.7h20M-12.7 -6.7h24M-12.7 -2.7h28M-12.7 1.3h28M-12.7 5.3h28M-12.7 9.3h24M-8.7 13.3h16M-0.7 17.3h4M-16.7 33.3h20M-32.7 37.3h40M-48.7 41.3h12M3.3 41.3h8M-64.7 45.3h12M11.3 45.3h4M-72.7 49.3h8M15.3 49.3h4M19.3 53.3h4M19.3 57.3h4M23.3 65.3h4M23.3 69.3h4M23.3 73.3h4"/>
<path stroke="#fff8b4" d="M-8.7 -22.7h20M-16.7 -18.7h32M-20.7 -14.7h40M-20.7 -10.7h12M11.3 -10.7h12M-24.7 -6.7h12M11.3 -6.7h12M-24.7 -2.7h12M15.3 -2.7h12M-24.7 1.3h12M15.3 1.3h12M-24.7 5.3h12M15.3 5.3h8M-24.7 9.3h12M11.3 9.3h12M-24.7 13.3h16M7.3 13.3h16M-80.7 17.3h4M-20.7 17.3h20M3.3 17.3h16M-80.7 21.3h8M-20.7 21.3h40M-20.7 25.3h36M-24.7 29.3h40M-32.7 33.3h16M3.3 33.3h12M-48.7 37.3h16M7.3 37.3h8M-72.7 41.3h24M11.3 41.3h8M-72.7 45.3h8M15.3 45.3h4M19.3 49.3h4M23.3 53.3h4M23.3 57.3h4M23.3 61.3h4M23.3 77.3h4M23.3 81.3h4"/>
<path stroke="#fff2aa" d="M-12.7 -30.7h28M-20.7 -26.7h40M-24.7 -22.7h16M11.3 -22.7h12M-28.7 -18.7h12M15.3 -18.7h12M-32.7 -14.7h12M19.3 -14.7h12M-32.7 -10.7h12M23.3 -10.7h8M-36.7 -6.7h12M23.3 -6.7h8M-36.7 -2.7h12M27.3 -2.7h8M-80.7 1.3h12M-36.7 1.3h12M27.3 1.3h8M-84.7 5.3h20M-36.7 5.3h12M23.3 5.3h12M-84.7 9.3h24M-36.7 9.3h12M23.3 9.3h8M-84.7 13.3h24M-36.7 13.3h12M23.3 13.3h8M-84.7 17.3h4M-76.7 17.3h20M-36.7 17.3h16M19.3 17.3h12M-84.7 21.3h4M-72.7 21.3h16M-36.7 21.3h16M19.3 21.3h8M-84.7 25.3h28M-36.7 25.3h16M15.3 25.3h12M-80.7 29.3h24M-40.7 29.3h16M15.3 29.3h8M-80.7 33.3h48M15.3 33.3h8M-76.7 37.3h28M15.3 37.3h8M-76.7 41.3h4M19.3 41.3h8M19.3 45.3h8M23.3 49.3h4M27.3 53.3h4M27.3 57.3h4M27.3 61.3h4M27.3 65.3h4M27.3 69.3h4M27.3 73.3h4M27.3 77.3h4"/>
<path stroke="#feeb9d" d="M-16.7 -38.7h32M-24.7 -34.7h48M-28.7 -30.7h16M15.3 -30.7h12M-32.7 -26.7h12M19.3 -26.7h12M-36.7 -22.7h12M23.3 -22.7h12M-40.7 -18.7h12M27.3 -18.7h8M-44.7 -14.7h12M31.3 -14.7h8M-48.7 -10.7h16M31.3 -10.7h8M-84.7 -6.7h48M31.3 -6.7h8M-84.7 -2.7h48M35.3 -2.7h4M-84.7 1.3h4M-68.7 1.3h32M35.3 1.3h4M-64.7 5.3h28M35.3 5.3h4M-60.7 9.3h24M31.3 9.3h8M-60.7 13.3h24M31.3 13.3h8M-56.7 17.3h20M31.3 17.3h8M-56.7 21.3h20M27.3 21.3h8M-56.7 25.3h20M27.3 25.3h8M-56.7 29.3h16M23.3 29.3h12M23.3 33.3h8M23.3 37.3h8M27.3 41.3h4M27.3 45.3h4M27.3 49.3h4M31.3 53.3h4M31.3 57.3h4M31.3 61.3h4M31.3 65.3h4M31.3 69.3h4M31.3 73.3h4M31.3 77.3h4M27.3 81.3h4"/>
<path stroke="#fee593" d="M-20.7 -46.7h36M-28.7 -42.7h52M-36.7 -38.7h20M15.3 -38.7h16M-40.7 -34.7h16M23.3 -34.7h12M-44.7 -30.7h16M27.3 -30.7h12M-48.7 -26.7h16M31.3 -26.7h8M-56.7 -22.7h20M35.3 -22.7h8M-80.7 -18.7h40M35.3 -18.7h8M-84.7 -14.7h40M39.3 -14.7h8M-84.7 -10.7h36M39.3 -10.7h8M39.3 -6.7h8M39.3 -2.7h8M39.3 1.3h8M39.3 5.3h8M39.3 9.3h8M39.3 13.3h8M39.3 17.3h8M35.3 21.3h8M35.3 25.3h8M35.3 29.3h4M31.3 33.3h8M31.3 37.3h8M31.3 41.3h8M31.3 45.3h8M31.3 49.3h8M35.3 53.3h4M35.3 57.3h4M35.3 61.3h4M35.3 65.3h4M35.3 69.3h4M35.3 73.3h4"/>
<path stroke="#fede89" d="M-8.7 -58.7h8M-28.7 -54.7h48M-36.7 -50.7h64M-40.7 -46.7h20M15.3 -46.7h16M-48.7 -42.7h20M23.3 -42.7h12M-52.7 -38.7h16M31.3 -38.7h8M-60.7 -34.7h20M35.3 -34.7h8M-76.7 -30.7h32M39.3 -30.7h8M-80.7 -26.7h32M39.3 -26.7h8M-84.7 -22.7h28M43.3 -22.7h8M-84.7 -18.7h4M43.3 -18.7h8M47.3 -14.7h8M47.3 -10.7h8M47.3 -6.7h8M47.3 -2.7h8M47.3 1.3h8M47.3 5.3h8M47.3 9.3h8M47.3 13.3h8M47.3 17.3h4M43.3 21.3h8M43.3 25.3h8M39.3 29.3h8M39.3 33.3h8M39.3 37.3h8M39.3 41.3h8M39.3 45.3h4M39.3 49.3h4M39.3 53.3h4M39.3 57.3h4M39.3 61.3h4M39.3 65.3h4M39.3 69.3h4M39.3 73.3h4M35.3 77.3h4"/>
<path stroke="#fed27f" d="M-32.7 -66.7h44M-44.7 -62.7h68M-52.7 -58.7h44M-0.7 -58.7h32M-60.7 -54.7h32M19.3 -54.7h16M-68.7 -50.7h32M27.3 -50.7h12M-72.7 -46.7h32M31.3 -46.7h12M-76.7 -42.7h28M35.3 -42.7h12M-76.7 -38.7h24M39.3 -38.7h12M-80.7 -34.7h20M43.3 -34.7h12M-80.7 -30.7h4M47.3 -30.7h8M47.3 -26.7h12M51.3 -22.7h8M51.3 -18.7h8M55.3 -14.7h8M55.3 -10.7h8M55.3 -6.7h8M55.3 -2.7h8M55.3 1.3h8M55.3 5.3h8M55.3 9.3h8M55.3 13.3h8M51.3 17.3h12M51.3 21.3h8M51.3 25.3h8M47.3 29.3h12M47.3 33.3h8M47.3 37.3h8M47.3 41.3h8M43.3 45.3h8M43.3 49.3h8M43.3 53.3h8M43.3 57.3h8M43.3 61.3h8M43.3 65.3h8M43.3 69.3h4M43.3 73.3h4"/>
<path stroke="#fec877" d="M-24.7 -82.7h32M-36.7 -78.7h56M-44.7 -74.7h72M-48.7 -70.7h80M-56.7 -66.7h24M11.3 -66.7h28M-60.7 -62.7h16M23.3 -62.7h20M-64.7 -58.7h12M31.3 -58.7h16M-68.7 -54.7h8M35.3 -54.7h16M39.3 -50.7h16M43.3 -46.7h16M47.3 -42.7h12M51.3 -38.7h12M55.3 -34.7h8M55.3 -30.7h12M59.3 -26.7h8M59.3 -22.7h12M59.3 -18.7h12M63.3 -14.7h8M63.3 -10.7h8M63.3 -6.7h8M63.3 -2.7h8M63.3 1.3h8M63.3 5.3h8M63.3 9.3h8M63.3 13.3h8M63.3 17.3h8M59.3 21.3h12M59.3 25.3h8M59.3 29.3h8M55.3 33.3h12M55.3 37.3h8M55.3 41.3h8M51.3 45.3h12M51.3 49.3h12M51.3 53.3h8M51.3 57.3h8M51.3 61.3h8M51.3 65.3h4M47.3 69.3h4"/>
<path stroke="#fdbf6f" d="M7.3 -82.7h20M19.3 -78.7h16M27.3 -74.7h16M31.3 -70.7h20M39.3 -66.7h16M43.3 -62.7h16M47.3 -58.7h16M51.3 -54.7h16M55.3 -50.7h16M59.3 -46.7h12M59.3 -42.7h16M63.3 -38.7h12M63.3 -34.7h16M67.3 -30.7h12M67.3 -26.7h12M71.3 -22.7h12M71.3 -18.7h12M71.3 -14.7h12M71.3 -10.7h12M71.3 -6.7h12M71.3 -2.7h12M71.3 1.3h12M71.3 5.3h12M71.3 9.3h12M71.3 13.3h12M71.3 17.3h12M71.3 21.3h12M67.3 25.3h16M67.3 29.3h12M67.3 33.3h12M63.3 37.3h16M63.3 41.3h12M63.3 45.3h12M63.3 49.3h8M59.3 53.3h8M59.3 57.3h4M59.3 61.3h4"/>
<path stroke="#fdb365" d="M75.3 -38.7h4M79.3 -26.7h4M83.3 -14.7h4M83.3 -10.7h4M83.3 -6.7h4M83.3 -2.7h4M83.3 1.3h4M83.3 5.3h4M83.3 9.3h4M83.3 13.3h4M79.3 29.3h4"/>
</g>
<path class="ct" d="M-15.3 81 -14.6 78 -14.8 76 -15.7 74 -17.3 72 -20 70.2 -23 69 -30 68.1 -38 69.2 -45.1 72 -50.3 76 -52 78.4 -52.9 81M-7.6 81 -6.7 77 -7 74 -8.3 71 -11 68 -14 66 -18 64.4 -23 63.3 -28 63 -39 64.3 -45 66.2 -50 68.6 -53.8 71 -57.1 74 -59.3 77 -60.9 81M-0.6 81 0.5 76 0 72 -1.8 68 -4.4 65 -8.6 62 -13.4 60 -19 58.7 -26 58.2 -33 58.6 -41 60.1 -48 62.3 -54 65.1 -59 68.3 -63.2 72 -66.2 76 -68.2 81M6.3 81 7.6 75 7.1 70 4.9 65 1.4 61 -3 57.8 -9 55.2 -16 53.6 -24 53.1 -33 53.7 -42 55.4 -51 58.2 -59 61.9 -65.2 66 -70 70.5 -73.7 76 -75.5 81M13.7 81 15.3 75 15.1 69 13.1 63 10 58.4 5 53.8 -1 50.4 -7 48.3 -15 47 -25 47 -36 48.5 -48 51.3 -58 54.7 -66 58.6 -72 62.9 -77 68 -81 74M22.6 81 24.4 75 24.7 68 23.3 61 20.7 55 16 48.4 10 42.5 4 38.4 -3 35.7 -10 35 -18 35.9 -60 45.6 -66 47.6 -72 50.5 -77 54.2 -81 58.1M35 81 37.3 74 38.4 66 38.3 59 37 45 37.4 38 38.8 32 45.4 12 46.5 5 46.7 -2 45.2 -12 41.9 -21 36.1 -30 29.2 -37 20 -43 10 -46.7 0 -48.1 -11 -47.3 -20 -44.7 -29 -40.2 -36.2 -35 -49 -24 -55 -20.5 -61 -18.9 -74 -17.9 -81 -16.5M81 -30.9 76.5 -43 69.8 -56 61.7 -68 51 -81M64.3 81 69.7 67 81 31.9"/>
</g>
<use href="#hd"/>
</g>
<text x="992.2" y="0" class="tt" transform="translate(0 22.9) scale(1 1.12) translate(0 0)">[05] Bra=0.42</text>
<g transform="translate(1217.1 111.6)">
<g clip-path="url(#dc)"><g filter="url(#bl)" class="fd">
<path stroke="#caea9e" d="M-24.7 -82.7h52M-36.7 -78.7h72M-44.7 -74.7h88M-48.7 -70.7h100M-56.7 -66.7h112M-60.7 -62.7h120M-64.7 -58.7h128M-68.7 -54.7h136M-68.7 -50.7h140M-72.7 -46.7h144M-76.7 -42.7h152M-76.7 -38.7h156M-80.7 -34.7h160M-80.7 -30.7h160M-80.7 -26.7h164M-84.7 -22.7h36M-4.7 -22.7h88M-84.7 -18.7h28M7.3 -18.7h76M-84.7 -14.7h20M15.3 -14.7h72M-84.7 -10.7h16M19.3 -10.7h68M-84.7 -6.7h12M23.3 -6.7h64M-84.7 -2.7h12M27.3 -2.7h60M-84.7 1.3h8M31.3 1.3h56M-84.7 5.3h4M35.3 5.3h52M-84.7 9.3h4M39.3 9.3h48M-84.7 13.3h4M39.3 13.3h48M43.3 17.3h40M43.3 21.3h40M43.3 25.3h40M47.3 29.3h36M47.3 33.3h32M47.3 37.3h32M47.3 41.3h28M47.3 45.3h28M47.3 49.3h24M47.3 53.3h20M47.3 57.3h16M47.3 61.3h16M43.3 65.3h12M43.3 69.3h8M43.3 73.3h4"/>
<path stroke="#d8ef9b" d="M-48.7 -22.7h44M-56.7 -18.7h64M-64.7 -14.7h20M-12.7 -14.7h28M-68.7 -10.7h16M-0.7 -10.7h20M-72.7 -6.7h16M7.3 -6.7h16M-72.7 -2.7h12M11.3 -2.7h16M-76.7 1.3h12M15.3 1.3h16M-80.7 5.3h12M19.3 5.3h16M-80.7 9.3h12M23.3 9.3h16M-80.7 13.3h8M27.3 13.3h12M-84.7 17.3h12M27.3 17.3h16M-84.7 21.3h12M31.3 21.3h12M-84.7 25.3h12M31.3 25.3h12M-80.7 29.3h8M35.3 29.3h12M-80.7 33.3h8M35.3 33.3h12M-76.7 37.3h4M35.3 37.3h12M-76.7 41.3h4M35.3 41.3h12M35.3 45.3h12M35.3 49.3h12M35.3 53.3h12M35.3 57.3h12M35.3 61.3h12M31.3 65.3h12M31.3 69.3h12M27.3 73.3h16M23.3 77.3h16M19.3 81.3h12"/>
<path stroke="#e4f498" d="M-44.7 -14.7h32M-52.7 -10.7h12M-16.7 -10.7h16M-56.7 -6.7h8M-4.7 -6.7h12M-60.7 -2.7h4M3.3 -2.7h8M-64.7 1.3h4M7.3 1.3h8M-68.7 5.3h8M11.3 5.3h8M-68.7 9.3h4M15.3 9.3h8M-72.7 13.3h8M19.3 13.3h8M-72.7 17.3h4M23.3 17.3h4M-72.7 21.3h4M23.3 21.3h8M-72.7 25.3h4M27.3 25.3h4M-72.7 29.3h4M27.3 29.3h8M-72.7 33.3h4M27.3 33.3h8M-72.7 37.3h4M31.3 37.3h4M-72.7 41.3h4M31.3 41.3h4M-72.7 45.3h8M31.3 45.3h4M-72.7 49.3h8M31.3 49.3h4M-68.7 53.3h4M27.3 53.3h8M-64.7 57.3h4M27.3 57.3h8M27.3 61.3h8M23.3 65.3h8M23.3 69.3h8M19.3 73.3h8M15.3 77.3h8M7.3 81.3h12M-0.7 85.3h16"/>
<path stroke="#eaf79e" d="M-40.7 -10.7h24M-48.7 -6.7h8M-12.7 -6.7h8M-56.7 -2.7h8M-4.7 -2.7h8M-60.7 1.3h8M3.3 1.3h4M-60.7 5.3h4M7.3 5.3h4M-64.7 9.3h4M11.3 9.3h4M-64.7 13.3h4M15.3 13.3h4M-68.7 17.3h4M19.3 17.3h4M-68.7 21.3h4M19.3 21.3h4M-68.7 25.3h4M23.3 25.3h4M-68.7 29.3h4M23.3 29.3h4M-68.7 33.3h4M23.3 33.3h4M-68.7 37.3h4M27.3 37.3h4M-68.7 41.3h8M27.3 41.3h4M-64.7 45.3h4M27.3 45.3h4M-64.7 49.3h4M27.3 49.3h4M-64.7 53.3h8M23.3 53.3h4M-60.7 57.3h4M23.3 57.3h4M-60.7 61.3h8M23.3 61.3h4M-56.7 65.3h8M19.3 65.3h4M-52.7 69.3h8M15.3 69.3h8M-44.7 73.3h4M11.3 73.3h8M-40.7 77.3h8M7.3 77.3h8M-28.7 81.3h8M-8.7 81.3h16M-16.7 85.3h16"/>
<path stroke="#f0f9a7" d="M-40.7 -6.7h28M-48.7 -2.7h4M-8.7 -2.7h4M-52.7 1.3h4M-0.7 1.3h4M-56.7 5.3h4M3.3 5.3h4M-60.7 9.3h4M7.3 9.3h4M-60.7 13.3h4M11.3 13.3h4M-64.7 17.3h4M15.3 17.3h4M-64.7 21.3h4M15.3 21.3h4M-64.7 25.3h4M19.3 25.3h4M-64.7 29.3h4M19.3 29.3h4M-64.7 33.3h4M-64.7 37.3h4M23.3 37.3h4M23.3 41.3h4M-60.7 45.3h4M23.3 45.3h4M-60.7 49.3h4M23.3 49.3h4M-56.7 53.3h4M-56.7 57.3h4M19.3 57.3h4M-52.7 61.3h4M19.3 61.3h4M-48.7 65.3h4M15.3 65.3h4M-44.7 69.3h4M11.3 69.3h4M-40.7 73.3h8M3.3 73.3h8M-32.7 77.3h12M-8.7 77.3h16M-20.7 81.3h12"/>
<path stroke="#f5fbaf" d="M-44.7 -2.7h8M-16.7 -2.7h8M-48.7 1.3h4M-4.7 1.3h4M-0.7 5.3h4M-56.7 9.3h4M3.3 9.3h4M7.3 13.3h4M-60.7 17.3h4M11.3 17.3h4M-60.7 21.3h4M-60.7 25.3h4M15.3 25.3h4M-60.7 29.3h4M-60.7 33.3h4M19.3 33.3h4M-60.7 37.3h4M19.3 37.3h4M-60.7 41.3h4M19.3 41.3h4M-56.7 45.3h4M19.3 45.3h4M-56.7 49.3h4M19.3 49.3h4M-52.7 53.3h4M19.3 53.3h4M-52.7 57.3h4M15.3 57.3h4M-48.7 61.3h4M15.3 61.3h4M-44.7 65.3h4M11.3 65.3h4M-40.7 69.3h8M7.3 69.3h4M-32.7 73.3h8M-4.7 73.3h8M-20.7 77.3h12"/>
<path stroke="#fafdb7" d="M-36.7 -2.7h20M-8.7 1.3h4M-52.7 5.3h4M-4.7 5.3h4M-56.7 13.3h4M11.3 21.3h4M15.3 29.3h4M-56.7 41.3h4M-52.7 49.3h4M15.3 53.3h4M-48.7 57.3h4M-44.7 61.3h4M11.3 61.3h4M-40.7 65.3h4M7.3 65.3h4M-32.7 69.3h4M-0.7 69.3h8M-24.7 73.3h20"/>
<path stroke="#fffebe" d="M-44.7 1.3h8M-12.7 1.3h4M-48.7 5.3h4M-52.7 9.3h4M-0.7 9.3h4M3.3 13.3h4M-56.7 17.3h4M7.3 17.3h4M-56.7 21.3h4M-56.7 25.3h4M11.3 25.3h4M-56.7 29.3h4M-56.7 33.3h4M15.3 33.3h4M-56.7 37.3h4M15.3 37.3h4M15.3 41.3h4M-52.7 45.3h4M15.3 45.3h4M15.3 49.3h4M-48.7 53.3h4M-44.7 57.3h4M11.3 57.3h4M-40.7 61.3h4M7.3 61.3h4M-36.7 65.3h8M3.3 65.3h4M-28.7 69.3h8M-4.7 69.3h4"/>
<path stroke="#fff8b4" d="M-36.7 1.3h4M-20.7 1.3h8M-44.7 5.3h4M-8.7 5.3h4M-52.7 13.3h4M7.3 21.3h4M11.3 29.3h4M-52.7 41.3h4M-48.7 49.3h4M11.3 53.3h4M-36.7 61.3h4M-28.7 65.3h4M-0.7 65.3h4M-20.7 69.3h16"/>
<path stroke="#fff2aa" d="M-32.7 1.3h12M-12.7 5.3h4M-48.7 9.3h4M-4.7 9.3h4M-0.7 13.3h4M-52.7 17.3h4M3.3 17.3h4M11.3 33.3h4M-52.7 37.3h4M11.3 37.3h4M-48.7 45.3h4M11.3 45.3h4M11.3 49.3h4M-44.7 53.3h4M-40.7 57.3h4M7.3 57.3h4M-32.7 61.3h4M3.3 61.3h4M-24.7 65.3h4M-4.7 65.3h4"/>
<path stroke="#feeb9d" d="M-40.7 5.3h4M-16.7 5.3h4M-8.7 9.3h4M-48.7 13.3h4M-52.7 21.3h4M-52.7 25.3h4M7.3 25.3h4M-52.7 29.3h4M-52.7 33.3h4M11.3 41.3h4M-44.7 49.3h4M-40.7 53.3h4M7.3 53.3h4M-36.7 57.3h4M-0.7 61.3h4M-20.7 65.3h16"/>
<path stroke="#fee593" d="M-36.7 5.3h4M-20.7 5.3h4M-44.7 9.3h4M-4.7 13.3h4M-0.7 17.3h4M3.3 21.3h4M7.3 29.3h4M-48.7 41.3h4M7.3 49.3h4M3.3 57.3h4M-28.7 61.3h4M-4.7 61.3h4"/>
<path stroke="#fede89" d="M-32.7 5.3h12M-40.7 9.3h4M-12.7 9.3h4M-48.7 17.3h4M7.3 33.3h4M-48.7 37.3h4M7.3 37.3h4M7.3 41.3h4M-44.7 45.3h4M7.3 45.3h4M3.3 53.3h4M-32.7 57.3h4M-0.7 57.3h4M-24.7 61.3h8M-8.7 61.3h4"/>
<path stroke="#fed27f" d="M-44.7 13.3h4M-48.7 21.3h4M-48.7 25.3h4M3.3 25.3h4M-48.7 29.3h4M-48.7 33.3h4M-40.7 49.3h4M-36.7 53.3h4M-28.7 57.3h4M-16.7 61.3h8"/>
<path stroke="#fec877" d="M-36.7 9.3h4M-16.7 9.3h4M-8.7 13.3h4M-44.7 17.3h4M-4.7 17.3h4M-0.7 21.3h4M3.3 29.3h4M-44.7 41.3h4M3.3 49.3h4M-4.7 57.3h4"/>
<path stroke="#fdbf6f" d="M-32.7 9.3h4M-20.7 9.3h4M-40.7 13.3h4M3.3 33.3h4M-44.7 37.3h4M-40.7 45.3h4M3.3 45.3h4M-36.7 49.3h4M-32.7 53.3h4M-0.7 53.3h4M-24.7 57.3h4M-8.7 57.3h4"/>
<path stroke="#fdb365" d="M-28.7 9.3h8M-12.7 13.3h4M-44.7 21.3h4M-0.7 25.3h4M-44.7 33.3h4M3.3 37.3h4M3.3 41.3h4M-20.7 57.3h12"/>
<path stroke="#fca85e" d="M-36.7 13.3h4M-40.7 17.3h4M-8.7 17.3h4M-4.7 21.3h4M-44.7 25.3h4M-44.7 29.3h4M-40.7 41.3h4M-0.7 49.3h4M-28.7 53.3h4M-4.7 53.3h4"/>
<path stroke="#fa9b58" d="M-16.7 13.3h4M-0.7 29.3h4M-36.7 45.3h4M-0.7 45.3h4M-32.7 49.3h4M-24.7 53.3h4M-8.7 53.3h4"/>
<path stroke="#f88c51" d="M-32.7 13.3h4M-20.7 13.3h4M-40.7 21.3h4M-0.7 33.3h4M-40.7 37.3h4M-0.7 41.3h4M-4.7 49.3h4"/>
<path stroke="#f67f4b" d="M-28.7 13.3h8M-36.7 17.3h4M-12.7 17.3h4M-8.7 21.3h4M-40.7 25.3h4M-4.7 25.3h4M-40.7 33.3h4M-0.7 37.3h4M-28.7 49.3h4M-20.7 53.3h12"/>
<path stroke="#f57245" d="M-40.7 29.3h4M-36.7 41.3h4M-32.7 45.3h4"/>
<path stroke="#ef6645" d="M-32.7 17.3h4M-16.7 17.3h4M-36.7 21.3h4M-4.7 29.3h4M-4.7 45.3h4M-24.7 49.3h4M-8.7 49.3h4"/>
<path stroke="#e95c47" d="M-28.7 17.3h4M-20.7 17.3h4M-12.7 21.3h4M-8.7 25.3h4M-4.7 33.3h4M-36.7 37.3h4M-4.7 41.3h4M-20.7 49.3h4M-12.7 49.3h4"/>
<path stroke="#e3534a" d="M-24.7 17.3h4M-36.7 25.3h4M-36.7 33.3h4M-4.7 37.3h4M-32.7 41.3h4M-28.7 45.3h4M-8.7 45.3h4M-16.7 49.3h4"/>
<path stroke="#dc484c" d="M-32.7 21.3h4M-36.7 29.3h4"/>
<path stroke="#d63f4f" d="M-16.7 21.3h4M-12.7 25.3h4M-8.7 29.3h4M-32.7 37.3h4M-8.7 41.3h4M-24.7 45.3h4M-12.7 45.3h4"/>
<path stroke="#cb334d" d="M-28.7 21.3h4M-20.7 21.3h4M-32.7 25.3h4M-8.7 33.3h4M-8.7 37.3h4M-28.7 41.3h4M-20.7 45.3h8"/>
<path stroke="#be254a" d="M-24.7 21.3h4M-32.7 29.3h4M-32.7 33.3h4"/>
<path stroke="#b41947" d="M-28.7 25.3h16M-28.7 29.3h20M-28.7 33.3h20M-28.7 37.3h20M-24.7 41.3h16"/>
</g>
<path class="ct" d="M-35.9 81 -43 77 -49 72 -54.3 66 -58.8 59 -62.4 51 -64.8 43 -66.3 34 -66.4 25 -65.4 18 -63.3 11 -59.5 4 -55.3 -1 -50 -5.3 -44 -8.3 -37 -10.4 -29 -11.2 -21 -10.6 -12 -8.4 -3 -4.5 4 -0.2 11 5.6 16.9 12 21.6 19 25.4 27 27.7 35 28.6 43 28.1 51 26 59 22.5 66 17.7 72 12 76.9 4.8 81M-5 70.1 -11 70.9 -18 70.5 -25 68.9 -31 66.3 -37 62.5 -42 58.2 -46.5 53 -50.3 47 -53.3 40 -54.9 34 -55.6 27 -55.1 21 -53.4 15 -50.8 10 -47 5.5 -42 1.9 -35 -0.8 -28 -1.7 -20 -0.9 -12 1.4 -4 5.6 2 10.2 7.6 16 12.3 23 15.5 30 17.3 38 17.3 46 15.5 53 12.3 59 7.6 64 2 67.7 -5 70.1M-7 63.1 -12 63.7 -17 63.4 -22 62.3 -28 59.9 -33 56.9 -37.7 53 -41.3 49 -44.6 44 -47.3 38 -48.7 33 -49.3 27 -48.8 22 -47.2 17 -44.9 13 -42 9.8 -38 7 -33 5 -27 4.2 -21 4.6 -14 6.5 -8 9.5 -2 13.9 2.9 19 6.9 25 9.5 31 10.8 37 10.9 43 9.6 49 7 54 3.4 58 -1.1 61 -7 63.1M-10 58.1 -14 58.4 -19 57.8 -27 54.9 -31 52.3 -35 48.9 -38.3 45 -40.9 41 -42.6 37 -44 32 -44 24 -42.9 20 -41 16.5 -38 13.2 -35 11.2 -31 9.6 -26 8.8 -21 9.1 -15 10.8 -10 13.2 -5 16.9 -1 21 2.4 26 4.6 31 5.9 37 5.8 42 4.5 47 2.2 51 -1 54.3 -5 56.6 -10 58.1M-10 53.2 -17 53.6 -24 51.6 -31 47 -36.1 41 -39.2 34 -39.9 30 -39.8 26 -37.7 20 -35.2 17 -33 15.3 -30 13.9 -26 13.1 -22 13.1 -17 14.2 -12.8 16 -8.3 19 -5 22.2 -2.1 26 -0.1 30 1.3 35 1.6 39 0.9 43 -1 47 -3 49.4 -6 51.7 -10 53.2M-13 49.2 -19 49 -24.3 47 -29.6 43 -33.3 38 -35.4 32 -35.5 27 -33.4 22 -30 18.9 -27 17.6 -24 17.1 -17 18.2 -10.4 22 -5.3 28 -3.9 31 -2.9 35 -2.9 39 -3.7 42 -5 44.4 -7 46.5 -10 48.3 -13 49.2M-13 44.1 -17 44.6 -21 43.8 -25 41.5 -28.4 38 -30.4 34 -31 30 -30 26 -27.2 23 -23 21.6 -18 22.3 -13.1 25 -10 28.3 -7.8 33 -7.7 38 -9.8 42 -13 44.1"/>
</g>
<use href="#hd"/>
</g>
<text x="1217.1" y="0" class="tt" transform="translate(0 22.9) scale(1 1.12) translate(0 0)">[06] Bra=1.00</text>
<g transform="translate(1442 111.6)">
<g clip-path="url(#dc)"><g filter="url(#bl)" class="fd">
<path stroke="#4d65ad" d="M-20.7 61.3h12M-24.7 65.3h16M-28.7 69.3h24M-28.7 73.3h24M-28.7 77.3h24M-28.7 81.3h24M-16.7 85.3h12"/>
<path stroke="#4273b3" d="M-20.7 57.3h8M-24.7 61.3h4M-8.7 65.3h4"/>
<path stroke="#3a7eb8" d="M-28.7 65.3h4M-4.7 81.3h4"/>
<path stroke="#3389bd" d="M-12.7 57.3h4M-8.7 61.3h4M-4.7 73.3h4M-4.7 77.3h4M-4.7 85.3h4"/>
<path stroke="#3f97b7" d="M-24.7 57.3h4M-32.7 77.3h4"/>
<path stroke="#49a2b2" d="M-20.7 53.3h8M-28.7 61.3h4M-4.7 69.3h4M-32.7 73.3h4"/>
<path stroke="#54aead" d="M-12.7 53.3h4M-8.7 57.3h4M-4.7 65.3h4M-32.7 69.3h4"/>
<path stroke="#60bba8" d="M-24.7 53.3h4M-28.7 57.3h4M-32.7 65.3h4"/>
<path stroke="#6bc4a5" d="M-20.7 49.3h8M-8.7 53.3h4M-4.7 61.3h4"/>
<path stroke="#79c9a5" d="M-12.7 49.3h4M-32.7 61.3h4M-0.7 73.3h4M-0.7 77.3h4M-0.7 81.3h4M-0.7 85.3h4"/>
<path stroke="#89d0a4" d="M-24.7 49.3h4M-28.7 53.3h4M-4.7 57.3h4M-0.7 69.3h4M-36.7 77.3h4"/>
<path stroke="#97d5a4" d="M-16.7 45.3h4M-8.7 49.3h4M-32.7 57.3h4M-0.7 65.3h4M-36.7 69.3h4M-36.7 73.3h4"/>
<path stroke="#a4daa4" d="M-20.7 45.3h4M-12.7 45.3h4M-4.7 53.3h4M-0.7 61.3h4M-36.7 65.3h4"/>
<path stroke="#b3e0a2" d="M-24.7 45.3h4M-8.7 45.3h4M-28.7 49.3h4M-36.7 61.3h4"/>
<path stroke="#bfe5a0" d="M-20.7 41.3h12M-4.7 49.3h4M-32.7 53.3h4M-0.7 57.3h4M3.3 69.3h4M3.3 73.3h4M3.3 77.3h4M3.3 81.3h4M3.3 85.3h4"/>
<path stroke="#caea9e" d="M-8.7 41.3h4M-4.7 45.3h4M-0.7 53.3h4M-36.7 57.3h4M3.3 65.3h4M-40.7 69.3h4M-40.7 73.3h4M-40.7 77.3h4"/>
<path stroke="#d8ef9b" d="M-16.7 37.3h8M-24.7 41.3h4M-28.7 45.3h4M-32.7 49.3h4M-0.7 49.3h4M3.3 61.3h4M-40.7 65.3h4"/>
<path stroke="#e4f498" d="M-20.7 37.3h4M-8.7 37.3h4M-4.7 41.3h4M-0.7 45.3h4M-36.7 53.3h4M3.3 57.3h4M-40.7 61.3h4M7.3 73.3h4M7.3 77.3h4M7.3 81.3h4M7.3 85.3h4"/>
<path stroke="#eaf79e" d="M-20.7 33.3h16M-24.7 37.3h4M-4.7 37.3h4M-0.7 41.3h4M3.3 49.3h4M3.3 53.3h4M-40.7 57.3h4M7.3 65.3h4M-44.7 69.3h4M7.3 69.3h4M-44.7 73.3h4"/>
<path stroke="#f0f9a7" d="M-20.7 29.3h16M-24.7 33.3h4M-4.7 33.3h4M-0.7 37.3h4M-28.7 41.3h4M-32.7 45.3h4M3.3 45.3h4M-36.7 49.3h4M7.3 53.3h4M7.3 57.3h4M-44.7 61.3h4M7.3 61.3h4M-44.7 65.3h4"/>
<path stroke="#f5fbaf" d="M-20.7 21.3h8M-24.7 25.3h20M-24.7 29.3h4M-4.7 29.3h4M-0.7 33.3h4M-28.7 37.3h4M3.3 37.3h4M3.3 41.3h4M7.3 45.3h4M7.3 49.3h4M-40.7 53.3h4M-44.7 57.3h4M11.3 57.3h4M11.3 61.3h4M-48.7 65.3h4M11.3 65.3h4M-48.7 69.3h4M11.3 69.3h4M11.3 73.3h4M11.3 77.3h4M11.3 81.3h4M11.3 85.3h4"/>
<path stroke="#fafdb7" d="M-24.7 13.3h20M-28.7 17.3h28M-28.7 21.3h8M-12.7 21.3h16M-28.7 25.3h4M-4.7 25.3h12M-28.7 29.3h4M-0.7 29.3h12M-28.7 33.3h4M3.3 33.3h8M7.3 37.3h8M7.3 41.3h8M11.3 45.3h4M11.3 49.3h8M-44.7 53.3h4M11.3 53.3h8M-48.7 57.3h4M15.3 57.3h4M-52.7 61.3h8M15.3 61.3h4M-52.7 65.3h4M15.3 65.3h4M-52.7 69.3h4M15.3 69.3h4M15.3 73.3h4M15.3 77.3h4M15.3 81.3h8"/>
<path stroke="#fffebe" d="M-24.7 -82.7h52M-36.7 -78.7h72M-44.7 -74.7h88M-48.7 -70.7h100M-56.7 -66.7h112M-60.7 -62.7h120M-64.7 -58.7h128M-68.7 -54.7h136M-68.7 -50.7h140M-72.7 -46.7h144M-76.7 -42.7h152M-76.7 -38.7h156M-80.7 -34.7h160M-80.7 -30.7h160M-80.7 -26.7h164M-84.7 -22.7h168M-84.7 -18.7h168M-84.7 -14.7h172M-84.7 -10.7h172M-84.7 -6.7h172M-84.7 -2.7h172M-84.7 1.3h172M-84.7 5.3h172M-84.7 9.3h172M-84.7 13.3h60M-4.7 13.3h92M-84.7 17.3h56M-0.7 17.3h84M-84.7 21.3h36M-44.7 21.3h16M3.3 21.3h80M-84.7 25.3h24M-32.7 25.3h4M7.3 25.3h76M-80.7 29.3h16M-32.7 29.3h4M11.3 29.3h72M-80.7 33.3h12M11.3 33.3h68M-76.7 37.3h8M15.3 37.3h64M-76.7 41.3h8M-32.7 41.3h4M15.3 41.3h60M-72.7 45.3h4M-36.7 45.3h4M15.3 45.3h60M-72.7 49.3h8M-40.7 49.3h4M19.3 49.3h52M-68.7 53.3h12M-48.7 53.3h4M19.3 53.3h48M-64.7 57.3h16M19.3 57.3h44M-60.7 61.3h8M19.3 61.3h44M-56.7 65.3h4M19.3 65.3h36M19.3 69.3h32M19.3 73.3h28M19.3 77.3h20M23.3 81.3h8"/>
<path stroke="#fff8b4" d="M-48.7 21.3h4M-60.7 25.3h12M-40.7 25.3h8M-64.7 29.3h8M-68.7 33.3h8M-32.7 33.3h4M-68.7 37.3h4M-32.7 37.3h4M-68.7 41.3h4M-68.7 45.3h8M-64.7 49.3h8M-44.7 49.3h4M-56.7 53.3h8"/>
<path stroke="#fff2aa" d="M-48.7 25.3h8M-56.7 29.3h4M-36.7 29.3h4M-60.7 33.3h4M-64.7 37.3h4M-64.7 41.3h4M-60.7 45.3h4M-40.7 45.3h4M-56.7 49.3h12"/>
<path stroke="#feeb9d" d="M-52.7 29.3h16M-56.7 33.3h4M-36.7 33.3h4M-60.7 37.3h4M-60.7 41.3h4M-36.7 41.3h4M-56.7 45.3h4"/>
<path stroke="#fee593" d="M-52.7 33.3h4M-40.7 33.3h4M-56.7 37.3h4M-36.7 37.3h4M-56.7 41.3h4M-52.7 45.3h12"/>
<path stroke="#fede89" d="M-48.7 33.3h8M-52.7 37.3h4M-40.7 37.3h4M-52.7 41.3h4M-40.7 41.3h4"/>
<path stroke="#fed27f" d="M-48.7 37.3h8M-48.7 41.3h8"/>
</g>
<path class="ct" d="M-3.1 81 -4 72 -7 63.4 -11 58.3 -13 57.1 -16 56.4 -19 57 -21 58.2 -23.7 61 -25.6 64 -28.3 72 -29.1 81M-0.5 81 -1.6 70 -3 65 -5 60.2 -7 57 -10 53.9 -13 52.2 -16 51.7 -19 52.3 -22 54 -25 57 -27.1 60 -30.4 69 -31.4 75 -31.7 81M2.3 81 1 68 -0.7 62 -2.7 57 -5.2 53 -8 49.8 -11 47.8 -15 46.7 -18 47.2 -22 49.1 -26 52.7 -29.2 57 -31.6 62 -33.3 68 -34.6 81M5.6 81 5.3 73 4.2 66 2.3 59 -0.1 53 -3.1 48 -6.8 44 -10 41.9 -14 40.9 -18 41.6 -22 44 -28 49.5 -32.2 55 -34.7 60 -36.4 66 -37.5 73 -37.9 81M10.4 81 9.9 71 8.7 63 6.6 55 3.4 47 -0.1 41 -5 35.7 -10 32.7 -14 32.1 -18 33.2 -21 35.6 -38 56 -40.3 61 -41.5 66 -42.7 81M-81 0.1 -59 7.3 -50 11.2 -42 15.7 -36 20.1 -32 24.4 -29.4 29 -28.6 33 -29.4 38 -31.6 42 -36 46.8 -42 51.3 -50 55.7 -59 59.7 -81 66.8M-44 45.2 -48 45.2 -51.3 44 -53.6 42 -54.7 39 -54 36 -52.5 34 -49.4 32 -46 31.1 -42 31.1 -39.2 32 -37 33.7 -35.8 36 -36 39 -38 42 -41 44.1 -44 45.2"/>
</g>
<use href="#hd"/>
</g>
<text x="1442" y="0" class="tt rd" transform="translate(0 22.9) scale(1 1.12) translate(0 0)">[07] Mus=0.94</text>
<g transform="translate(1666.9 111.6)">
<g clip-path="url(#dc)"><g filter="url(#bl)" class="fd">
<path stroke="#97d5a4" d="M3.3 -2.7h8M-0.7 1.3h16M-0.7 5.3h16M-0.7 9.3h16M3.3 13.3h12M3.3 17.3h12"/>
<path stroke="#a4daa4" d="M-0.7 -6.7h12M-0.7 -2.7h4M11.3 -2.7h4M-4.7 1.3h4M15.3 1.3h4M-4.7 5.3h4M15.3 5.3h4M-4.7 9.3h4M15.3 9.3h4M-0.7 13.3h4M15.3 13.3h4M-0.7 17.3h4M15.3 17.3h4M3.3 21.3h16"/>
<path stroke="#b3e0a2" d="M-0.7 -10.7h12M-4.7 -6.7h4M11.3 -6.7h4M-4.7 -2.7h4M15.3 -2.7h4M19.3 5.3h4M19.3 9.3h4M-4.7 13.3h4M19.3 13.3h4M-4.7 17.3h4M19.3 17.3h4M-0.7 21.3h4M3.3 25.3h16"/>
<path stroke="#bfe5a0" d="M-0.7 -14.7h12M-4.7 -10.7h4M11.3 -10.7h4M-8.7 -6.7h4M15.3 -6.7h4M-8.7 -2.7h4M-8.7 1.3h4M19.3 1.3h4M-8.7 5.3h4M-8.7 9.3h4M-8.7 13.3h4M-4.7 21.3h4M19.3 21.3h4M-0.7 25.3h4M19.3 25.3h4M3.3 29.3h16"/>
<path stroke="#caea9e" d="M-0.7 -18.7h12M-4.7 -14.7h4M11.3 -14.7h4M-8.7 -10.7h4M15.3 -10.7h4M19.3 -6.7h4M-12.7 -2.7h4M19.3 -2.7h4M-12.7 1.3h4M-12.7 5.3h4M23.3 5.3h4M23.3 9.3h4M23.3 13.3h4M-8.7 17.3h4M23.3 17.3h4M23.3 21.3h4M-4.7 25.3h4M23.3 25.3h4M-0.7 29.3h4M19.3 29.3h4M3.3 33.3h16"/>
<path stroke="#d8ef9b" d="M-0.7 -22.7h8M-8.7 -18.7h8M11.3 -18.7h4M-8.7 -14.7h4M15.3 -14.7h4M-12.7 -10.7h4M19.3 -10.7h4M-12.7 -6.7h4M23.3 -2.7h4M23.3 1.3h4M-12.7 9.3h4M-12.7 13.3h4M-8.7 21.3h4M-4.7 29.3h4M23.3 29.3h4M-0.7 33.3h4M19.3 33.3h4M7.3 37.3h12"/>
<path stroke="#e4f498" d="M-4.7 -22.7h4M7.3 -22.7h4M15.3 -18.7h4M-12.7 -14.7h4M23.3 -6.7h4M-16.7 -2.7h4M-16.7 1.3h4M-16.7 5.3h4M27.3 5.3h4M27.3 9.3h4M27.3 13.3h4M-12.7 17.3h4M27.3 17.3h4M27.3 21.3h4M-8.7 25.3h4M27.3 25.3h4M-4.7 33.3h4M23.3 33.3h4M-0.7 37.3h8M19.3 37.3h4M7.3 41.3h12"/>
<path stroke="#eaf79e" d="M-4.7 -26.7h16M-8.7 -22.7h4M11.3 -22.7h4M-12.7 -18.7h4M-16.7 -14.7h4M19.3 -14.7h4M-16.7 -10.7h4M23.3 -10.7h4M-16.7 -6.7h4M27.3 -2.7h4M27.3 1.3h4M-16.7 9.3h4M-16.7 13.3h4M-12.7 21.3h4M-12.7 25.3h4M-8.7 29.3h4M27.3 29.3h4M27.3 33.3h4M23.3 37.3h4M3.3 41.3h4M19.3 41.3h4"/>
<path stroke="#f0f9a7" d="M-4.7 -30.7h12M-8.7 -26.7h4M11.3 -26.7h4M-12.7 -22.7h4M15.3 -22.7h4M-16.7 -18.7h4M19.3 -18.7h4M23.3 -14.7h4M27.3 -6.7h4M-20.7 -2.7h4M-20.7 1.3h4M31.3 5.3h4M31.3 9.3h4M31.3 13.3h4M-16.7 17.3h4M31.3 17.3h4M31.3 21.3h4M31.3 25.3h4M31.3 29.3h4M-8.7 33.3h4M-4.7 37.3h4M27.3 37.3h4M-0.7 41.3h4M23.3 41.3h4M3.3 45.3h20"/>
<path stroke="#f5fbaf" d="M-8.7 -30.7h4M7.3 -30.7h4M-12.7 -26.7h4M15.3 -26.7h4M-16.7 -22.7h4M19.3 -22.7h4M-20.7 -14.7h4M-20.7 -10.7h4M27.3 -10.7h4M-20.7 -6.7h4M31.3 -2.7h4M31.3 1.3h4M-20.7 5.3h4M-20.7 9.3h4M-20.7 13.3h4M-16.7 21.3h4M-12.7 29.3h4M31.3 33.3h4M-8.7 37.3h4M-4.7 41.3h4M27.3 41.3h4M-0.7 45.3h4M23.3 45.3h4M7.3 49.3h12"/>
<path stroke="#fafdb7" d="M-8.7 -34.7h20M-12.7 -30.7h4M11.3 -30.7h4M-16.7 -26.7h4M-20.7 -18.7h4M23.3 -18.7h4M27.3 -14.7h4M31.3 -6.7h4M35.3 5.3h4M35.3 9.3h4M35.3 13.3h4M-20.7 17.3h4M35.3 17.3h4M35.3 21.3h4M-16.7 25.3h4M35.3 25.3h4M35.3 29.3h4M-12.7 33.3h4M31.3 37.3h4M-8.7 41.3h4M31.3 41.3h4M-4.7 45.3h4M27.3 45.3h4M3.3 49.3h4M19.3 49.3h8"/>
<path stroke="#fffebe" d="M-4.7 -38.7h12M-12.7 -34.7h4M11.3 -34.7h4M-16.7 -30.7h4M15.3 -30.7h4M-20.7 -26.7h4M19.3 -26.7h4M-20.7 -22.7h4M23.3 -22.7h4M27.3 -18.7h4M-24.7 -14.7h4M-24.7 -10.7h4M31.3 -10.7h4M-24.7 -6.7h4M-24.7 -2.7h4M-24.7 1.3h4M35.3 1.3h4M-24.7 5.3h4M-24.7 9.3h4M-20.7 21.3h4M-16.7 29.3h4M35.3 33.3h4M-12.7 37.3h4M35.3 37.3h4M31.3 45.3h4M-0.7 49.3h4M27.3 49.3h4M3.3 53.3h24"/>
<path stroke="#fff8b4" d="M-12.7 -38.7h8M7.3 -38.7h4M-16.7 -34.7h4M15.3 -34.7h4M-20.7 -30.7h4M19.3 -30.7h4M23.3 -26.7h4M-24.7 -22.7h4M-24.7 -18.7h4M31.3 -14.7h4M35.3 -6.7h4M35.3 -2.7h4M39.3 9.3h4M-24.7 13.3h4M39.3 13.3h4M-24.7 17.3h4M39.3 17.3h4M39.3 21.3h4M-20.7 25.3h4M39.3 25.3h4M39.3 29.3h4M-16.7 33.3h4M-12.7 41.3h4M35.3 41.3h4M-8.7 45.3h4M-4.7 49.3h4M31.3 49.3h4M-0.7 53.3h4M27.3 53.3h4M7.3 57.3h16"/>
<path stroke="#fff2aa" d="M-12.7 -42.7h24M-16.7 -38.7h4M11.3 -38.7h4M-20.7 -34.7h4M19.3 -34.7h4M-24.7 -26.7h4M27.3 -22.7h4M-28.7 -18.7h4M31.3 -18.7h4M-28.7 -14.7h4M-28.7 -10.7h4M35.3 -10.7h4M-28.7 -6.7h4M-28.7 -2.7h4M-28.7 1.3h4M39.3 1.3h4M-28.7 5.3h4M39.3 5.3h4M-28.7 9.3h4M-24.7 21.3h4M-20.7 29.3h4M39.3 33.3h4M-16.7 37.3h4M39.3 37.3h4M-12.7 45.3h4M35.3 45.3h4M-8.7 49.3h4M-4.7 53.3h4M31.3 53.3h4M3.3 57.3h4M23.3 57.3h8M11.3 61.3h8"/>
<path stroke="#feeb9d" d="M-8.7 -46.7h16M-16.7 -42.7h4M11.3 -42.7h4M-20.7 -38.7h4M15.3 -38.7h4M-24.7 -34.7h4M-24.7 -30.7h4M23.3 -30.7h4M-28.7 -26.7h4M27.3 -26.7h4M-28.7 -22.7h4M35.3 -14.7h4M39.3 -2.7h4M43.3 9.3h4M-28.7 13.3h4M43.3 13.3h4M43.3 17.3h4M43.3 21.3h4M-24.7 25.3h4M43.3 25.3h4M43.3 29.3h4M-20.7 33.3h4M43.3 33.3h4M-16.7 41.3h4M39.3 41.3h4M39.3 45.3h4M35.3 49.3h4M-8.7 53.3h4M35.3 53.3h4M-0.7 57.3h4M31.3 57.3h4M3.3 61.3h8M19.3 61.3h8"/>
<path stroke="#fee593" d="M-4.7 -50.7h8M-16.7 -46.7h8M7.3 -46.7h8M-20.7 -42.7h4M15.3 -42.7h4M-24.7 -38.7h4M19.3 -38.7h4M23.3 -34.7h4M-28.7 -30.7h4M27.3 -30.7h4M31.3 -22.7h4M-32.7 -18.7h4M35.3 -18.7h4M-32.7 -14.7h4M-32.7 -10.7h4M39.3 -10.7h4M-32.7 -6.7h4M39.3 -6.7h4M-32.7 -2.7h4M-32.7 1.3h4M43.3 1.3h4M-32.7 5.3h4M43.3 5.3h4M-28.7 17.3h4M-28.7 21.3h4M-24.7 29.3h4M-20.7 37.3h4M43.3 37.3h4M43.3 41.3h4M-16.7 45.3h4M-12.7 49.3h4M39.3 49.3h4M-4.7 57.3h4M35.3 57.3h4M-0.7 61.3h4M27.3 61.3h8M7.3 65.3h20"/>
<path stroke="#fede89" d="M-16.7 -50.7h12M3.3 -50.7h8M-20.7 -46.7h4M15.3 -46.7h4M-24.7 -42.7h4M19.3 -42.7h4M-28.7 -38.7h4M23.3 -38.7h4M-28.7 -34.7h4M27.3 -34.7h4M-32.7 -26.7h4M31.3 -26.7h4M-32.7 -22.7h4M35.3 -22.7h4M39.3 -14.7h4M43.3 -2.7h4M-32.7 9.3h4M47.3 9.3h4M-32.7 13.3h4M47.3 13.3h4M47.3 17.3h4M47.3 21.3h4M-28.7 25.3h4M47.3 25.3h4M47.3 29.3h4M-24.7 33.3h4M47.3 33.3h4M-20.7 41.3h4M43.3 45.3h4M-16.7 49.3h4M43.3 49.3h4M-12.7 53.3h4M39.3 53.3h4M-8.7 57.3h4M-4.7 61.3h4M35.3 61.3h4M-0.7 65.3h8M27.3 65.3h8M7.3 69.3h20"/>
<path stroke="#fed27f" d="M-16.7 -54.7h28M-20.7 -50.7h4M11.3 -50.7h4M-24.7 -46.7h4M19.3 -46.7h4M-28.7 -42.7h4M23.3 -42.7h4M-32.7 -34.7h4M-32.7 -30.7h4M31.3 -30.7h4M35.3 -26.7h4M-36.7 -22.7h4M-36.7 -18.7h4M39.3 -18.7h4M-36.7 -14.7h4M-36.7 -10.7h4M43.3 -10.7h4M-36.7 -6.7h4M43.3 -6.7h4M-36.7 -2.7h4M-36.7 1.3h4M47.3 1.3h4M-36.7 5.3h4M47.3 5.3h4M-32.7 17.3h4M-32.7 21.3h4M-28.7 29.3h4M-24.7 37.3h4M47.3 37.3h4M47.3 41.3h4M-20.7 45.3h4M47.3 45.3h4M-16.7 53.3h4M43.3 53.3h4M-12.7 57.3h4M39.3 57.3h4M-8.7 61.3h4M39.3 61.3h4M-4.7 65.3h4M35.3 65.3h4M3.3 69.3h4M27.3 69.3h8M11.3 73.3h12"/>
<path stroke="#fec877" d="M-16.7 -58.7h24M-20.7 -54.7h4M11.3 -54.7h4M-24.7 -50.7h4M15.3 -50.7h4M-28.7 -46.7h4M-32.7 -42.7h4M-32.7 -38.7h4M27.3 -38.7h4M-36.7 -34.7h4M31.3 -34.7h4M-36.7 -30.7h4M-36.7 -26.7h4M39.3 -22.7h4M-40.7 -14.7h4M43.3 -14.7h4M-40.7 -10.7h4M-40.7 -6.7h4M47.3 -6.7h4M47.3 -2.7h4M-36.7 9.3h4M51.3 9.3h4M-36.7 13.3h4M51.3 13.3h4M51.3 17.3h4M51.3 21.3h4M-32.7 25.3h4M51.3 25.3h4M51.3 29.3h4M-28.7 33.3h4M51.3 33.3h4M51.3 37.3h4M-24.7 41.3h4M51.3 41.3h4M-24.7 45.3h4M-20.7 49.3h4M47.3 49.3h4M47.3 53.3h4M-16.7 57.3h4M43.3 57.3h4M-12.7 61.3h4M43.3 61.3h4M-8.7 65.3h4M39.3 65.3h4M-4.7 69.3h8M35.3 69.3h4M3.3 73.3h8M23.3 73.3h12M15.3 77.3h8"/>
<path stroke="#fdbf6f" d="M-16.7 -62.7h24M-20.7 -58.7h4M7.3 -58.7h8M-28.7 -54.7h8M15.3 -54.7h4M-28.7 -50.7h4M19.3 -50.7h4M-32.7 -46.7h4M23.3 -46.7h4M-36.7 -42.7h4M27.3 -42.7h4M-36.7 -38.7h4M31.3 -38.7h4M-40.7 -30.7h4M35.3 -30.7h4M-40.7 -26.7h4M39.3 -26.7h4M-40.7 -22.7h4M-40.7 -18.7h4M43.3 -18.7h4M47.3 -10.7h4M-40.7 -2.7h4M51.3 -2.7h4M-40.7 1.3h4M51.3 1.3h4M-40.7 5.3h4M51.3 5.3h4M-40.7 9.3h4M-36.7 17.3h4M55.3 17.3h4M-36.7 21.3h4M55.3 21.3h4M55.3 25.3h4M-32.7 29.3h4M55.3 29.3h4M55.3 33.3h4M-28.7 37.3h4M-28.7 41.3h4M51.3 45.3h4M-24.7 49.3h4M51.3 49.3h4M-20.7 53.3h4M51.3 53.3h4M47.3 57.3h4M-16.7 61.3h4M47.3 61.3h4M-12.7 65.3h4M43.3 65.3h4M-8.7 69.3h4M39.3 69.3h4M-4.7 73.3h8M35.3 73.3h4M3.3 77.3h12M23.3 77.3h12M19.3 81.3h4"/>
<path stroke="#fdb365" d="M-16.7 -66.7h24M-24.7 -62.7h8M7.3 -62.7h8M-28.7 -58.7h8M15.3 -58.7h4M-32.7 -54.7h4M19.3 -54.7h4M-32.7 -50.7h4M23.3 -50.7h4M-36.7 -46.7h4M27.3 -46.7h4M31.3 -42.7h4M-40.7 -38.7h4M-40.7 -34.7h4M35.3 -34.7h4M39.3 -30.7h4M-44.7 -26.7h4M-44.7 -22.7h4M43.3 -22.7h4M-44.7 -18.7h4M-44.7 -14.7h4M47.3 -14.7h4M-44.7 -10.7h4M-44.7 -6.7h4M51.3 -6.7h4M-44.7 -2.7h4M-44.7 1.3h4M55.3 1.3h4M55.3 5.3h4M55.3 9.3h4M-40.7 13.3h4M55.3 13.3h4M-40.7 17.3h4M-36.7 25.3h4M-32.7 33.3h4M-32.7 37.3h4M55.3 37.3h4M55.3 41.3h4M-28.7 45.3h4M55.3 45.3h4M55.3 49.3h4M-24.7 53.3h4M-20.7 57.3h4M51.3 57.3h4M-20.7 61.3h4M51.3 61.3h4M-16.7 65.3h4M47.3 65.3h4M-12.7 69.3h4M43.3 69.3h4M-8.7 73.3h4M39.3 73.3h8M-4.7 77.3h8M35.3 77.3h4M3.3 81.3h16M23.3 81.3h8"/>
<path stroke="#fca85e" d="M-20.7 -70.7h32M-24.7 -66.7h8M7.3 -66.7h8M-32.7 -62.7h8M15.3 -62.7h8M-32.7 -58.7h4M19.3 -58.7h8M-36.7 -54.7h4M23.3 -54.7h4M-40.7 -50.7h8M27.3 -50.7h4M-40.7 -46.7h4M31.3 -46.7h4M-44.7 -42.7h8M35.3 -42.7h4M-44.7 -38.7h4M35.3 -38.7h4M-44.7 -34.7h4M39.3 -34.7h4M-44.7 -30.7h4M-48.7 -26.7h4M43.3 -26.7h4M-48.7 -22.7h4M47.3 -22.7h4M-48.7 -18.7h4M47.3 -18.7h4M-48.7 -14.7h4M51.3 -14.7h4M-48.7 -10.7h4M51.3 -10.7h4M-48.7 -6.7h4M55.3 -6.7h4M55.3 -2.7h4M-44.7 5.3h4M59.3 5.3h4M-44.7 9.3h4M59.3 9.3h4M59.3 13.3h4M59.3 17.3h4M-40.7 21.3h4M59.3 21.3h4M59.3 25.3h4M-36.7 29.3h4M59.3 29.3h4M-36.7 33.3h4M59.3 33.3h4M59.3 37.3h4M-32.7 41.3h4M59.3 41.3h4M59.3 45.3h4M-28.7 49.3h4M59.3 49.3h4M55.3 53.3h4M-24.7 57.3h4M55.3 57.3h4M55.3 61.3h4M-20.7 65.3h4M51.3 65.3h4M-16.7 69.3h4M47.3 69.3h4M-12.7 73.3h4M-8.7 77.3h4M-4.7 81.3h8M-0.7 85.3h16"/>
<path stroke="#fa9b58" d="M-16.7 -78.7h20M-24.7 -74.7h36M-28.7 -70.7h8M11.3 -70.7h8M-32.7 -66.7h8M15.3 -66.7h8M-36.7 -62.7h4M23.3 -62.7h4M-40.7 -58.7h8M27.3 -58.7h4M-44.7 -54.7h8M27.3 -54.7h4M-44.7 -50.7h4M31.3 -50.7h4M-44.7 -46.7h4M35.3 -46.7h4M-48.7 -42.7h4M-48.7 -38.7h4M39.3 -38.7h4M-48.7 -34.7h4M43.3 -34.7h4M-48.7 -30.7h4M43.3 -30.7h4M-52.7 -26.7h4M47.3 -26.7h4M-52.7 -22.7h4M-52.7 -18.7h4M51.3 -18.7h4M-52.7 -14.7h4M-52.7 -10.7h4M55.3 -10.7h4M-52.7 -6.7h4M-48.7 -2.7h4M59.3 -2.7h4M-48.7 1.3h4M59.3 1.3h4M-48.7 5.3h4M63.3 9.3h4M-44.7 13.3h4M63.3 13.3h4M-44.7 17.3h4M63.3 17.3h4M63.3 21.3h4M-40.7 25.3h4M63.3 25.3h4M-40.7 29.3h4M63.3 29.3h4M63.3 33.3h4M-36.7 37.3h4M63.3 37.3h4M63.3 41.3h4M-32.7 45.3h4M63.3 45.3h4M63.3 49.3h4M-28.7 53.3h4M59.3 53.3h4M-28.7 57.3h4M59.3 57.3h4M-24.7 61.3h4M59.3 61.3h4M-24.7 65.3h4M-20.7 69.3h4M-20.7 73.3h8M-16.7 77.3h8M-12.7 81.3h8M-8.7 85.3h8"/>
<path stroke="#f88c51" d="M-24.7 -82.7h36M-32.7 -78.7h16M3.3 -78.7h16M-36.7 -74.7h12M11.3 -74.7h12M-40.7 -70.7h12M19.3 -70.7h8M-44.7 -66.7h12M23.3 -66.7h4M-44.7 -62.7h8M27.3 -62.7h4M-48.7 -58.7h8M31.3 -58.7h4M-48.7 -54.7h4M31.3 -54.7h4M-52.7 -50.7h8M35.3 -50.7h4M-52.7 -46.7h8M-52.7 -42.7h4M39.3 -42.7h4M-52.7 -38.7h4M43.3 -38.7h4M-56.7 -34.7h8M-56.7 -30.7h8M47.3 -30.7h4M-56.7 -26.7h4M51.3 -26.7h4M-56.7 -22.7h4M51.3 -22.7h4M-56.7 -18.7h4M55.3 -18.7h4M-56.7 -14.7h4M55.3 -14.7h4M-56.7 -10.7h4M59.3 -10.7h4M-56.7 -6.7h4M59.3 -6.7h4M-52.7 -2.7h4M63.3 -2.7h4M-52.7 1.3h4M63.3 1.3h4M-52.7 5.3h4M63.3 5.3h8M-48.7 9.3h4M67.3 9.3h4M-48.7 13.3h4M67.3 13.3h4M67.3 17.3h4M-44.7 21.3h4M67.3 21.3h4M-44.7 25.3h4M67.3 25.3h4M67.3 29.3h4M-40.7 33.3h4M67.3 33.3h4M67.3 37.3h4M-36.7 41.3h4M67.3 41.3h4M-36.7 45.3h4M67.3 45.3h4M-32.7 49.3h4M67.3 49.3h4M-32.7 53.3h4M63.3 53.3h4M-28.7 61.3h4M-28.7 65.3h4M-24.7 69.3h4M-24.7 73.3h4M-20.7 77.3h4M-20.7 81.3h8M-16.7 85.3h8"/>
<path stroke="#f67f4b" d="M11.3 -82.7h12M-36.7 -78.7h4M19.3 -78.7h8M-44.7 -74.7h8M23.3 -74.7h8M-48.7 -70.7h8M27.3 -70.7h4M-52.7 -66.7h8M27.3 -66.7h8M-56.7 -62.7h12M31.3 -62.7h4M-56.7 -58.7h8M35.3 -58.7h4M-56.7 -54.7h8M35.3 -54.7h4M-60.7 -50.7h8M39.3 -50.7h4M-60.7 -46.7h8M39.3 -46.7h4M-60.7 -42.7h8M43.3 -42.7h4M-60.7 -38.7h8M-60.7 -34.7h4M47.3 -34.7h4M-64.7 -30.7h8M51.3 -30.7h4M-64.7 -26.7h8M-64.7 -22.7h8M55.3 -22.7h4M-64.7 -18.7h8M59.3 -18.7h4M-60.7 -14.7h4M59.3 -14.7h8M-60.7 -10.7h4M63.3 -10.7h4M-60.7 -6.7h4M63.3 -6.7h8M-60.7 -2.7h8M67.3 -2.7h4M-56.7 1.3h4M67.3 1.3h8M-56.7 5.3h4M71.3 5.3h4M-52.7 9.3h4M71.3 9.3h4M-52.7 13.3h4M71.3 13.3h8M-48.7 17.3h4M71.3 17.3h8M-48.7 21.3h4M71.3 21.3h8M71.3 25.3h8M-44.7 29.3h4M71.3 29.3h8M71.3 33.3h8M-40.7 37.3h4M71.3 37.3h8M71.3 41.3h4M71.3 45.3h4M-36.7 49.3h4M-32.7 57.3h4M-32.7 61.3h4M-32.7 65.3h4M-28.7 69.3h4M-28.7 73.3h4M-28.7 77.3h8M-24.7 81.3h4"/>
<path stroke="#f57245" d="M23.3 -82.7h4M27.3 -78.7h8M31.3 -74.7h8M31.3 -70.7h8M-56.7 -66.7h4M35.3 -66.7h4M-60.7 -62.7h4M35.3 -62.7h8M-64.7 -58.7h8M39.3 -58.7h4M-68.7 -54.7h12M39.3 -54.7h4M-68.7 -50.7h8M43.3 -50.7h4M-72.7 -46.7h12M43.3 -46.7h4M-76.7 -42.7h16M47.3 -42.7h4M-76.7 -38.7h16M47.3 -38.7h4M-76.7 -34.7h16M51.3 -34.7h4M-76.7 -30.7h12M55.3 -30.7h4M-76.7 -26.7h12M55.3 -26.7h8M-76.7 -22.7h12M59.3 -22.7h4M-76.7 -18.7h12M63.3 -18.7h4M-72.7 -14.7h12M67.3 -14.7h4M-72.7 -10.7h12M67.3 -10.7h8M-68.7 -6.7h8M71.3 -6.7h8M-64.7 -2.7h4M71.3 -2.7h12M-64.7 1.3h8M75.3 1.3h12M-60.7 5.3h4M75.3 5.3h12M-56.7 9.3h4M75.3 9.3h12M-56.7 13.3h4M79.3 13.3h8M-52.7 17.3h4M79.3 17.3h4M79.3 21.3h4M-48.7 25.3h4M79.3 25.3h4M79.3 29.3h4M-44.7 33.3h4M-44.7 37.3h4M-40.7 41.3h4M-40.7 45.3h4M-36.7 53.3h4M-36.7 57.3h4M-36.7 61.3h4M-32.7 69.3h4M-32.7 73.3h4M-32.7 77.3h4M-28.7 81.3h4"/>
<path stroke="#ef6645" d="M39.3 -74.7h4M39.3 -70.7h8M39.3 -66.7h8M43.3 -62.7h4M43.3 -58.7h4M43.3 -54.7h4M47.3 -50.7h4M47.3 -46.7h4M51.3 -42.7h4M51.3 -38.7h8M-80.7 -34.7h4M55.3 -34.7h4M-80.7 -30.7h4M59.3 -30.7h4M-80.7 -26.7h4M63.3 -26.7h4M-84.7 -22.7h8M63.3 -22.7h12M-84.7 -18.7h8M67.3 -18.7h16M-84.7 -14.7h12M71.3 -14.7h16M-84.7 -10.7h12M75.3 -10.7h12M-84.7 -6.7h16M79.3 -6.7h8M-84.7 -2.7h20M83.3 -2.7h4M-76.7 1.3h12M-68.7 5.3h8M-64.7 9.3h8M-60.7 13.3h4M-56.7 17.3h4M-52.7 21.3h4M-52.7 25.3h4M-48.7 29.3h4M-48.7 33.3h4M-44.7 41.3h4M-40.7 49.3h4M-40.7 53.3h4M-40.7 57.3h4M-40.7 61.3h4M-36.7 65.3h4M-36.7 69.3h4M-36.7 73.3h4M-36.7 77.3h4"/>
<path stroke="#e95c47" d="M47.3 -70.7h4M47.3 -66.7h8M47.3 -62.7h4M47.3 -58.7h8M47.3 -54.7h8M51.3 -50.7h4M51.3 -46.7h8M55.3 -42.7h4M59.3 -38.7h4M59.3 -34.7h8M63.3 -30.7h12M67.3 -26.7h16M75.3 -22.7h8M-84.7 1.3h8M-84.7 5.3h16M-76.7 9.3h12M-68.7 13.3h8M-60.7 17.3h4M-56.7 21.3h4M-56.7 25.3h4M-52.7 29.3h4M-48.7 37.3h4M-44.7 45.3h4M-44.7 49.3h4M-44.7 53.3h4M-40.7 65.3h4M-40.7 69.3h4M-44.7 73.3h8M-40.7 77.3h4"/>
<path stroke="#e3534a" d="M51.3 -62.7h8M55.3 -58.7h8M55.3 -54.7h8M55.3 -50.7h8M59.3 -46.7h8M59.3 -42.7h12M63.3 -38.7h16M67.3 -34.7h12M75.3 -30.7h4M-84.7 9.3h8M-84.7 13.3h16M-68.7 17.3h8M-64.7 21.3h8M-60.7 25.3h4M-56.7 29.3h4M-52.7 33.3h4M-52.7 37.3h4M-48.7 41.3h4M-48.7 45.3h4M-44.7 57.3h4M-44.7 61.3h4M-44.7 65.3h4M-44.7 69.3h4"/>
<path stroke="#dc484c" d="M63.3 -54.7h4M63.3 -50.7h8M67.3 -46.7h4M71.3 -42.7h4M-84.7 17.3h16M-72.7 21.3h8M-64.7 25.3h4M-60.7 29.3h4M-56.7 33.3h4M-52.7 41.3h4M-48.7 49.3h4M-48.7 53.3h4M-48.7 57.3h4M-48.7 61.3h4M-48.7 65.3h4M-48.7 69.3h4"/>
<path stroke="#d63f4f" d="M-84.7 21.3h12M-72.7 25.3h8M-64.7 29.3h4M-60.7 33.3h4M-56.7 37.3h4M-56.7 41.3h4M-52.7 45.3h4M-52.7 49.3h4M-52.7 53.3h4M-52.7 57.3h4M-52.7 61.3h4M-52.7 65.3h4M-52.7 69.3h4"/>
<path stroke="#cb334d" d="M-84.7 25.3h12M-72.7 29.3h8M-64.7 33.3h4M-60.7 37.3h4M-56.7 45.3h4M-56.7 49.3h4M-56.7 53.3h4M-56.7 57.3h4M-56.7 61.3h4M-56.7 65.3h4"/>
<path stroke="#be254a" d="M-80.7 29.3h8M-72.7 33.3h8M-64.7 37.3h4M-60.7 41.3h4M-60.7 45.3h4M-60.7 49.3h4M-60.7 61.3h4"/>
<path stroke="#b41947" d="M-80.7 33.3h8M-76.7 37.3h12M-76.7 41.3h16M-72.7 45.3h12M-72.7 49.3h12M-68.7 53.3h12M-64.7 57.3h8"/>
</g>
<path class="ct" d="M14.4 26 18 22.8 20.1 18 20.7 11 19.5 4 16.2 -3 12 -7.8 7 -10.3 3 -10.3 -1 -7.7 -2.8 -5 -3.9 -2 -4.6 5 -3.1 13 0.4 20 5 24.7 10 26.7 14.4 26M18.6 41 23 38.3 25.9 35 28.2 31 29.9 26 31 20 31.1 14 30.5 8 29 1.6 27 -4 24 -10 20 -15.7 16 -19.9 11.8 -23 7 -25.1 3 -25.7 -1 -25.3 -5 -23.5 -8.9 -20 -11.5 -16 -13.5 -11 -14.7 -5 -15 1 -14.3 8 -12.7 15 -10.1 22 -7 27.7 -3 33.2 1 37 5 39.7 10 41.6 14 42 18.6 41M20.2 54 25.1 52 30.1 48 34 42.8 37.1 36 39 28 39.7 20 39.2 11 37.5 2 34.5 -7 30.6 -15 26 -22.2 20 -29.1 14 -33.9 8 -37 2 -38.3 -4 -37.8 -9 -35.8 -14 -31.8 -18.2 -26 -21.2 -19 -23 -11 -23.5 -3 -22.9 6 -21 15 -18 24 -14 32.4 -9 40 -4 45.7 2 50.4 8 53.3 14 54.6 20.2 54M23.5 67 30.6 64 36.6 59 41.7 52 45.2 44 47.7 34 48.7 23 48 12 45.8 1 42.1 -10 36.6 -21 29.3 -32 22 -40.3 15 -46 7 -50 -1 -51.5 -8 -50.6 -15 -47.5 -21 -42.2 -26 -35 -29.4 -27 -31.7 -17 -32.4 -7 -31.6 4 -29.3 15 -25.3 27 -19.7 39 -14 48.3 -7 56.5 0 62.2 8 66.1 16 67.7 23.5 67M33.9 81 41 76.3 47.8 69 53 60 56.7 50 59.1 38 59.8 26 59.1 14 56.7 2 52.5 -10 45.4 -24 34.7 -41 25 -53.3 18 -59.7 10 -64.7 2 -67.3 -7 -67.8 -15 -66 -22 -62.4 -29 -56.1 -34.2 -49 -38.5 -40 -41.7 -29 -43.3 -17 -43.1 -6 -41.2 6 -37.4 19 -29.6 39 -22 54.6 -16 63.9 -10 70.8 -3 76.5 5 81M-47.8 -81 -52 -75 -55.8 -68 -59.2 -60 -61.8 -52 -63.9 -43 -65.2 -34 -65.6 -26 -65.1 -18 -63.5 -10 -60.5 -2 -46 25.9 -39.4 41 -35.1 54 -27.5 81M81 15.8 78.5 6 74.6 -3 69.7 -11 56 -29.9 48.2 -42 42.8 -52 33 -73.4 28.8 -81M73.4 81 77.7 69 81 54M-81 19.1 -76 19.4 -72 20.4 -67 22.7 -63 25.5 -59 29.3 -56 33.2 -53 38.3 -50.5 44 -49 49.5 -48.2 55 -48.1 60 -48.7 65 -50.2 70 -52.3 74 -55 77.6 -58.7 81M-81 39.4 -78 38.9 -75 39.3 -72 40.4 -69.5 42 -65.7 47 -64.2 53 -65.4 59 -69 63.7 -72 65.5 -75 66.3 -81 65.9"/>
</g>
<use href="#hd"/>
</g>
<text x="1666.9" y="0" class="tt" transform="translate(0 22.9) scale(1 1.12) translate(0 0)">[08] Bra=0.82</text>
<g transform="translate(1891.8 111.6)">
<g clip-path="url(#dc)"><g filter="url(#bl)" class="fd">
<path stroke="#3a7eb8" d="M-8.7 -6.7h12M-8.7 -2.7h12"/>
<path stroke="#3389bd" d="M-4.7 -10.7h8M3.3 -6.7h4M-12.7 -2.7h4M3.3 -2.7h4M-8.7 1.3h12"/>
<path stroke="#3f97b7" d="M-8.7 -10.7h4M3.3 -10.7h4M-12.7 -6.7h4M-12.7 1.3h4M3.3 1.3h4"/>
<path stroke="#49a2b2" d="M-12.7 -10.7h4M-16.7 -6.7h4M7.3 -6.7h4M-16.7 -2.7h4M7.3 -2.7h4M7.3 1.3h4M-8.7 5.3h12"/>
<path stroke="#54aead" d="M-8.7 -14.7h12M7.3 -10.7h4M-16.7 1.3h4M-12.7 5.3h4M3.3 5.3h4"/>
<path stroke="#60bba8" d="M-12.7 -14.7h4M3.3 -14.7h4M-16.7 -10.7h4M11.3 -6.7h4M11.3 -2.7h4M11.3 1.3h4M7.3 5.3h4M-4.7 9.3h4"/>
<path stroke="#6bc4a5" d="M-4.7 -18.7h4M7.3 -14.7h4M11.3 -10.7h4M-20.7 -6.7h4M-20.7 -2.7h4M-20.7 1.3h4M-16.7 5.3h4M-8.7 9.3h4M-0.7 9.3h8"/>
<path stroke="#79c9a5" d="M-8.7 -18.7h4M-0.7 -18.7h8M-16.7 -14.7h4M-20.7 -10.7h4M15.3 -6.7h4M15.3 -2.7h4M11.3 5.3h4M-12.7 9.3h4"/>
<path stroke="#89d0a4" d="M-12.7 -18.7h4M7.3 -18.7h4M-20.7 -14.7h4M11.3 -14.7h4M15.3 -10.7h4M-24.7 -6.7h4M-24.7 -2.7h4M15.3 1.3h4M-20.7 5.3h4M-16.7 9.3h4M7.3 9.3h4"/>
<path stroke="#97d5a4" d="M-16.7 -18.7h4M-24.7 -10.7h4M-24.7 1.3h4M15.3 5.3h4M11.3 9.3h4M-8.7 13.3h16"/>
<path stroke="#a4daa4" d="M-8.7 -22.7h16M11.3 -18.7h4M15.3 -14.7h4M19.3 -6.7h4M19.3 -2.7h4M19.3 1.3h4M-24.7 5.3h4M-20.7 9.3h4M-12.7 13.3h4M7.3 13.3h4"/>
<path stroke="#b3e0a2" d="M-12.7 -22.7h4M7.3 -22.7h4M-20.7 -18.7h4M-24.7 -14.7h4M19.3 -10.7h4M-28.7 -6.7h4M-28.7 -2.7h4M-28.7 1.3h4M19.3 5.3h4M15.3 9.3h4M-16.7 13.3h4"/>
<path stroke="#bfe5a0" d="M-16.7 -22.7h4M11.3 -22.7h4M15.3 -18.7h4M19.3 -14.7h4M-28.7 -10.7h4M23.3 -6.7h4M23.3 -2.7h4M-28.7 5.3h4M-24.7 9.3h4M-20.7 13.3h4M11.3 13.3h4M-8.7 17.3h16"/>
<path stroke="#caea9e" d="M-12.7 -26.7h20M-20.7 -22.7h4M-24.7 -18.7h4M-28.7 -14.7h4M23.3 -10.7h4M-32.7 -2.7h4M23.3 1.3h4M19.3 9.3h4M15.3 13.3h4M-12.7 17.3h4M7.3 17.3h4"/>
<path stroke="#d8ef9b" d="M-16.7 -26.7h4M7.3 -26.7h4M15.3 -22.7h4M19.3 -18.7h4M23.3 -14.7h4M-32.7 -10.7h4M-32.7 -6.7h4M-32.7 1.3h4M23.3 5.3h4M-28.7 9.3h4M-24.7 13.3h4M-16.7 17.3h4M11.3 17.3h4"/>
<path stroke="#e4f498" d="M-8.7 -30.7h12M-20.7 -26.7h4M11.3 -26.7h4M-24.7 -22.7h4M19.3 -22.7h4M-28.7 -18.7h4M23.3 -18.7h4M-32.7 -14.7h4M27.3 -10.7h4M27.3 -6.7h4M27.3 -2.7h4M27.3 1.3h4M-32.7 5.3h4M23.3 9.3h4M19.3 13.3h4M-20.7 17.3h4M15.3 17.3h4M-12.7 21.3h20"/>
<path stroke="#eaf79e" d="M-12.7 -30.7h4M3.3 -30.7h8M15.3 -26.7h4M-28.7 -22.7h4M-32.7 -18.7h4M27.3 -14.7h4M-36.7 -10.7h4M-36.7 -6.7h4M-36.7 -2.7h4M-36.7 1.3h4M27.3 5.3h4M-32.7 9.3h4M-28.7 13.3h4M23.3 13.3h4M-24.7 17.3h4M-16.7 21.3h4M7.3 21.3h8"/>
<path stroke="#f0f9a7" d="M-4.7 -34.7h8M-20.7 -30.7h8M11.3 -30.7h4M-24.7 -26.7h4M19.3 -26.7h4M23.3 -22.7h4M27.3 -18.7h4M-36.7 -14.7h4M31.3 -10.7h4M31.3 -6.7h4M31.3 -2.7h4M31.3 1.3h4M-36.7 5.3h4M27.3 9.3h4M19.3 17.3h4M-20.7 21.3h4M15.3 21.3h4M-8.7 25.3h16"/>
<path stroke="#f5fbaf" d="M-12.7 -34.7h8M3.3 -34.7h8M-24.7 -30.7h4M15.3 -30.7h4M-28.7 -26.7h4M23.3 -26.7h4M-32.7 -22.7h4M27.3 -22.7h4M-36.7 -18.7h4M31.3 -14.7h4M-40.7 -6.7h4M-40.7 -2.7h4M31.3 5.3h4M-36.7 9.3h4M-32.7 13.3h4M27.3 13.3h4M-28.7 17.3h4M23.3 17.3h4M-24.7 21.3h4M19.3 21.3h4M-16.7 25.3h8M7.3 25.3h8"/>
<path stroke="#fafdb7" d="M-8.7 -38.7h16M-20.7 -34.7h8M11.3 -34.7h8M19.3 -30.7h4M-32.7 -26.7h4M31.3 -18.7h4M-40.7 -14.7h4M-40.7 -10.7h4M35.3 -10.7h4M35.3 -6.7h4M35.3 -2.7h4M-40.7 1.3h4M35.3 1.3h4M-40.7 5.3h4M31.3 9.3h4M-36.7 13.3h4M-32.7 17.3h4M27.3 17.3h4M-28.7 21.3h4M23.3 21.3h4M-20.7 25.3h4M15.3 25.3h4M-8.7 29.3h16"/>
<path stroke="#fffebe" d="M-8.7 -42.7h16M-16.7 -38.7h8M7.3 -38.7h8M-24.7 -34.7h4M19.3 -34.7h4M-28.7 -30.7h4M23.3 -30.7h4M27.3 -26.7h4M-36.7 -22.7h4M31.3 -22.7h4M-40.7 -18.7h4M35.3 -18.7h4M35.3 -14.7h4M-44.7 -6.7h4M-44.7 -2.7h4M-44.7 1.3h4M35.3 5.3h4M-40.7 9.3h4M35.3 9.3h4M31.3 13.3h4M-24.7 25.3h4M19.3 25.3h4M-16.7 29.3h8M7.3 29.3h8"/>
<path stroke="#fff8b4" d="M-8.7 -46.7h16M-16.7 -42.7h8M7.3 -42.7h8M-24.7 -38.7h8M15.3 -38.7h8M-28.7 -34.7h4M23.3 -34.7h4M-32.7 -30.7h4M27.3 -30.7h4M-36.7 -26.7h4M31.3 -26.7h4M-40.7 -22.7h4M35.3 -22.7h4M-44.7 -14.7h4M39.3 -14.7h4M-44.7 -10.7h4M39.3 -10.7h4M39.3 -6.7h4M39.3 -2.7h4M39.3 1.3h4M-44.7 5.3h4M39.3 5.3h4M-40.7 13.3h4M35.3 13.3h4M-36.7 17.3h4M31.3 17.3h4M-32.7 21.3h4M27.3 21.3h4M-28.7 25.3h4M23.3 25.3h4M-20.7 29.3h4M15.3 29.3h8M-12.7 33.3h28"/>
<path stroke="#fff2aa" d="M-0.7 -58.7h4M-8.7 -54.7h16M-12.7 -50.7h24M-16.7 -46.7h8M7.3 -46.7h8M-24.7 -42.7h8M15.3 -42.7h8M-28.7 -38.7h4M23.3 -38.7h4M-32.7 -34.7h4M27.3 -34.7h4M-36.7 -30.7h4M31.3 -30.7h4M-40.7 -26.7h4M35.3 -26.7h4M-44.7 -22.7h4M-44.7 -18.7h4M39.3 -18.7h4M-48.7 -10.7h4M43.3 -10.7h4M-48.7 -6.7h4M43.3 -6.7h4M-48.7 -2.7h4M43.3 -2.7h4M-48.7 1.3h4M43.3 1.3h4M-44.7 9.3h4M39.3 9.3h4M39.3 13.3h4M-40.7 17.3h4M35.3 17.3h4M-36.7 21.3h4M31.3 21.3h4M-32.7 25.3h4M27.3 25.3h4M-24.7 29.3h4M23.3 29.3h4M-20.7 33.3h8M15.3 33.3h8M-8.7 37.3h20"/>
<path stroke="#feeb9d" d="M-8.7 -62.7h16M-12.7 -58.7h12M3.3 -58.7h8M-16.7 -54.7h8M7.3 -54.7h8M-20.7 -50.7h8M11.3 -50.7h8M-24.7 -46.7h8M15.3 -46.7h8M-28.7 -42.7h4M23.3 -42.7h4M-32.7 -38.7h4M27.3 -38.7h4M-36.7 -34.7h4M31.3 -34.7h4M-40.7 -30.7h4M35.3 -30.7h4M-44.7 -26.7h4M39.3 -26.7h4M39.3 -22.7h4M-48.7 -18.7h4M43.3 -18.7h4M-48.7 -14.7h4M43.3 -14.7h4M-48.7 5.3h4M43.3 5.3h4M-48.7 9.3h4M43.3 9.3h4M-44.7 13.3h4M43.3 13.3h4M-44.7 17.3h4M39.3 17.3h4M-40.7 21.3h4M35.3 21.3h4M-36.7 25.3h4M31.3 25.3h8M-32.7 29.3h8M27.3 29.3h8M-24.7 33.3h4M23.3 33.3h4M-16.7 37.3h8M11.3 37.3h12M-4.7 41.3h12"/>
<path stroke="#fee593" d="M-4.7 -70.7h8M-12.7 -66.7h24M-16.7 -62.7h8M7.3 -62.7h8M-16.7 -58.7h4M11.3 -58.7h8M-20.7 -54.7h4M15.3 -54.7h8M-24.7 -50.7h4M19.3 -50.7h4M-28.7 -46.7h4M23.3 -46.7h8M-32.7 -42.7h4M27.3 -42.7h8M-36.7 -38.7h4M31.3 -38.7h8M-40.7 -34.7h4M35.3 -34.7h8M-44.7 -30.7h4M39.3 -30.7h4M-48.7 -26.7h4M43.3 -26.7h4M-48.7 -22.7h4M43.3 -22.7h4M-52.7 -18.7h4M47.3 -18.7h4M-52.7 -14.7h4M47.3 -14.7h4M-52.7 -10.7h4M47.3 -10.7h4M-52.7 -6.7h4M47.3 -6.7h4M-52.7 -2.7h4M47.3 -2.7h4M-52.7 1.3h4M47.3 1.3h4M-52.7 5.3h4M47.3 5.3h4M47.3 9.3h4M-48.7 13.3h4M43.3 17.3h4M39.3 21.3h4M-40.7 25.3h4M39.3 25.3h4M35.3 29.3h4M-28.7 33.3h4M27.3 33.3h8M-24.7 37.3h8M23.3 37.3h8M-16.7 41.3h12M7.3 41.3h16M-0.7 45.3h8"/>
<path stroke="#fede89" d="M-4.7 -74.7h12M-12.7 -70.7h8M3.3 -70.7h8M-16.7 -66.7h4M11.3 -66.7h4M-20.7 -62.7h4M15.3 -62.7h4M-24.7 -58.7h8M19.3 -58.7h4M-28.7 -54.7h8M23.3 -54.7h4M-32.7 -50.7h8M23.3 -50.7h8M-36.7 -46.7h8M31.3 -46.7h4M-40.7 -42.7h8M35.3 -42.7h4M-44.7 -38.7h8M39.3 -38.7h4M-48.7 -34.7h8M43.3 -34.7h4M-48.7 -30.7h4M43.3 -30.7h4M-52.7 -26.7h4M47.3 -26.7h4M-52.7 -22.7h4M47.3 -22.7h4M-56.7 -18.7h4M51.3 -18.7h4M-56.7 -14.7h4M51.3 -14.7h4M-56.7 -10.7h4M51.3 -10.7h4M-56.7 -6.7h4M51.3 -6.7h4M-56.7 -2.7h4M51.3 -2.7h4M-56.7 1.3h4M51.3 1.3h4M-56.7 5.3h4M51.3 5.3h4M-52.7 9.3h4M51.3 9.3h4M-52.7 13.3h4M47.3 13.3h4M-48.7 17.3h4M47.3 17.3h4M-44.7 21.3h4M43.3 21.3h8M43.3 25.3h4M-36.7 29.3h4M39.3 29.3h4M-32.7 33.3h4M35.3 33.3h4M-28.7 37.3h4M31.3 37.3h4M-20.7 41.3h4M23.3 41.3h8M-12.7 45.3h12M7.3 45.3h16M-0.7 49.3h12"/>
<path stroke="#fed27f" d="M-4.7 -78.7h8M-12.7 -74.7h8M7.3 -74.7h8M-16.7 -70.7h4M11.3 -70.7h8M-20.7 -66.7h4M15.3 -66.7h8M-24.7 -62.7h4M19.3 -62.7h8M-28.7 -58.7h4M23.3 -58.7h8M-32.7 -54.7h4M27.3 -54.7h8M-36.7 -50.7h4M31.3 -50.7h8M-40.7 -46.7h4M35.3 -46.7h8M-44.7 -42.7h4M39.3 -42.7h8M-48.7 -38.7h4M43.3 -38.7h4M-52.7 -34.7h4M47.3 -34.7h4M-52.7 -30.7h4M47.3 -30.7h8M-56.7 -26.7h4M51.3 -26.7h4M-56.7 -22.7h4M51.3 -22.7h8M-60.7 -18.7h4M55.3 -18.7h4M-60.7 -14.7h4M55.3 -14.7h4M-60.7 -10.7h4M55.3 -10.7h4M-60.7 -6.7h4M55.3 -6.7h4M-60.7 -2.7h4M55.3 -2.7h4M-60.7 1.3h4M55.3 1.3h4M55.3 5.3h4M-56.7 9.3h4M55.3 9.3h4M-56.7 13.3h4M51.3 13.3h8M-52.7 17.3h4M51.3 17.3h4M-48.7 21.3h4M51.3 21.3h4M-44.7 25.3h4M47.3 25.3h4M-40.7 29.3h4M43.3 29.3h8M-36.7 33.3h4M39.3 33.3h8M-32.7 37.3h4M35.3 37.3h8M-28.7 41.3h8M31.3 41.3h8M-20.7 45.3h8M23.3 45.3h12M-12.7 49.3h12M11.3 49.3h16M-0.7 53.3h16"/>
<path stroke="#fec877" d="M-4.7 -82.7h8M-12.7 -78.7h8M3.3 -78.7h12M-20.7 -74.7h8M15.3 -74.7h4M-24.7 -70.7h8M19.3 -70.7h4M-28.7 -66.7h8M23.3 -66.7h4M-32.7 -62.7h8M27.3 -62.7h4M-36.7 -58.7h8M31.3 -58.7h4M-40.7 -54.7h8M35.3 -54.7h4M-44.7 -50.7h8M39.3 -50.7h4M-48.7 -46.7h8M43.3 -46.7h4M-52.7 -42.7h8M47.3 -42.7h4M-56.7 -38.7h8M47.3 -38.7h8M-56.7 -34.7h4M51.3 -34.7h4M-60.7 -30.7h8M55.3 -30.7h4M-60.7 -26.7h4M55.3 -26.7h4M-60.7 -22.7h4M59.3 -22.7h4M-64.7 -18.7h4M59.3 -18.7h4M-64.7 -14.7h4M59.3 -14.7h4M-64.7 -10.7h4M59.3 -10.7h4M-64.7 -6.7h4M59.3 -6.7h4M-64.7 -2.7h4M59.3 -2.7h4M-64.7 1.3h4M59.3 1.3h4M-60.7 5.3h4M59.3 5.3h4M-60.7 9.3h4M59.3 9.3h4M59.3 13.3h4M-56.7 17.3h4M55.3 17.3h8M-52.7 21.3h4M55.3 21.3h4M-48.7 25.3h4M51.3 25.3h8M-44.7 29.3h4M51.3 29.3h4M-40.7 33.3h4M47.3 33.3h4M-36.7 37.3h4M43.3 37.3h8M-32.7 41.3h4M39.3 41.3h8M-24.7 45.3h4M35.3 45.3h8M-20.7 49.3h8M27.3 49.3h8M-12.7 53.3h12M15.3 53.3h16M-4.7 57.3h24"/>
<path stroke="#fdbf6f" d="M-16.7 -82.7h12M3.3 -82.7h12M-20.7 -78.7h8M15.3 -78.7h4M-24.7 -74.7h4M19.3 -74.7h8M-32.7 -70.7h8M23.3 -70.7h8M-36.7 -66.7h8M27.3 -66.7h8M-40.7 -62.7h8M31.3 -62.7h8M-44.7 -58.7h8M35.3 -58.7h8M-48.7 -54.7h8M39.3 -54.7h8M-52.7 -50.7h8M43.3 -50.7h8M-56.7 -46.7h8M47.3 -46.7h8M-56.7 -42.7h4M51.3 -42.7h8M-60.7 -38.7h4M55.3 -38.7h4M-64.7 -34.7h8M55.3 -34.7h8M-64.7 -30.7h4M59.3 -30.7h4M-64.7 -26.7h4M59.3 -26.7h8M-68.7 -22.7h8M63.3 -22.7h4M-68.7 -18.7h4M63.3 -18.7h4M-68.7 -14.7h4M63.3 -14.7h8M-68.7 -10.7h4M63.3 -10.7h8M-68.7 -6.7h4M63.3 -6.7h8M-68.7 -2.7h4M63.3 -2.7h8M-68.7 1.3h4M63.3 1.3h8M-64.7 5.3h4M63.3 5.3h8M-64.7 9.3h4M63.3 9.3h4M-60.7 13.3h4M63.3 13.3h4M-60.7 17.3h4M63.3 17.3h4M-56.7 21.3h4M59.3 21.3h8M-52.7 25.3h4M59.3 25.3h4M-48.7 29.3h4M55.3 29.3h8M-44.7 33.3h4M51.3 33.3h8M-40.7 37.3h4M51.3 37.3h4M-36.7 41.3h4M47.3 41.3h8M-28.7 45.3h4M43.3 45.3h8M-24.7 49.3h4M35.3 49.3h12M-20.7 53.3h8M31.3 53.3h8M-12.7 57.3h8M19.3 57.3h16M-4.7 61.3h28"/>
<path stroke="#fdb365" d="M-24.7 -82.7h8M15.3 -82.7h8M-28.7 -78.7h8M19.3 -78.7h8M-32.7 -74.7h8M27.3 -74.7h8M-40.7 -70.7h8M31.3 -70.7h8M-44.7 -66.7h8M35.3 -66.7h8M-48.7 -62.7h8M39.3 -62.7h8M-52.7 -58.7h8M43.3 -58.7h8M-56.7 -54.7h8M47.3 -54.7h8M-60.7 -50.7h8M51.3 -50.7h8M-64.7 -46.7h8M55.3 -46.7h8M-64.7 -42.7h8M59.3 -42.7h8M-68.7 -38.7h8M59.3 -38.7h8M-68.7 -34.7h4M63.3 -34.7h8M-72.7 -30.7h8M63.3 -30.7h8M-72.7 -26.7h8M67.3 -26.7h4M-72.7 -22.7h4M67.3 -22.7h8M-72.7 -18.7h4M67.3 -18.7h8M-76.7 -14.7h8M71.3 -14.7h4M-76.7 -10.7h8M71.3 -10.7h4M-72.7 -6.7h4M71.3 -6.7h4M-72.7 -2.7h4M71.3 -2.7h4M-72.7 1.3h4M71.3 1.3h4M-72.7 5.3h8M71.3 5.3h4M-68.7 9.3h4M67.3 9.3h8M-64.7 13.3h4M67.3 13.3h8M-64.7 17.3h4M67.3 17.3h4M-60.7 21.3h4M67.3 21.3h4M-56.7 25.3h4M63.3 25.3h8M-52.7 29.3h4M63.3 29.3h4M-48.7 33.3h4M59.3 33.3h8M-44.7 37.3h4M55.3 37.3h8M55.3 41.3h4M-32.7 45.3h4M51.3 45.3h8M-28.7 49.3h4M47.3 49.3h8M-24.7 53.3h4M39.3 53.3h12M-16.7 57.3h4M35.3 57.3h8M-12.7 61.3h8M23.3 61.3h16M-4.7 65.3h36"/>
<path stroke="#fca85e" d="M23.3 -82.7h4M-36.7 -78.7h8M27.3 -78.7h8M-44.7 -74.7h12M35.3 -74.7h8M-48.7 -70.7h8M39.3 -70.7h12M-52.7 -66.7h8M43.3 -66.7h12M-56.7 -62.7h8M47.3 -62.7h12M-60.7 -58.7h8M51.3 -58.7h12M-64.7 -54.7h8M55.3 -54.7h12M-68.7 -50.7h8M59.3 -50.7h8M-72.7 -46.7h8M63.3 -46.7h8M-72.7 -42.7h8M67.3 -42.7h4M-76.7 -38.7h8M67.3 -38.7h8M-76.7 -34.7h8M71.3 -34.7h4M-76.7 -30.7h4M71.3 -30.7h8M-80.7 -26.7h8M71.3 -26.7h8M-80.7 -22.7h8M75.3 -22.7h4M-80.7 -18.7h8M75.3 -18.7h8M-80.7 -14.7h4M75.3 -14.7h8M-80.7 -10.7h4M75.3 -10.7h8M-80.7 -6.7h8M75.3 -6.7h8M-80.7 -2.7h8M75.3 -2.7h8M-76.7 1.3h4M75.3 1.3h8M-76.7 5.3h4M75.3 5.3h8M-72.7 9.3h4M75.3 9.3h8M-72.7 13.3h8M75.3 13.3h4M-68.7 17.3h4M71.3 17.3h8M-64.7 21.3h4M71.3 21.3h8M-60.7 25.3h4M71.3 25.3h8M-56.7 29.3h4M67.3 29.3h8M-52.7 33.3h4M67.3 33.3h8M63.3 37.3h8M-40.7 41.3h4M59.3 41.3h8M-36.7 45.3h4M59.3 45.3h8M-32.7 49.3h4M55.3 49.3h8M-28.7 53.3h4M51.3 53.3h8M-20.7 57.3h4M43.3 57.3h12M-16.7 61.3h4M39.3 61.3h12M-12.7 65.3h8M31.3 65.3h12M-4.7 69.3h44M3.3 73.3h24"/>
<path stroke="#fa9b58" d="M-56.7 -66.7h4M-60.7 -62.7h4M-64.7 -58.7h4M-68.7 -54.7h4M67.3 -50.7h4M-76.7 -42.7h4M71.3 -42.7h4M75.3 -38.7h4M-80.7 -34.7h4M75.3 -34.7h4M-80.7 -30.7h4M79.3 -26.7h4M-84.7 -22.7h4M79.3 -22.7h4M-84.7 -18.7h4M-84.7 -14.7h4M83.3 -14.7h4M-84.7 -10.7h4M83.3 -10.7h4M-84.7 -6.7h4M83.3 -6.7h4M-84.7 -2.7h4M83.3 -2.7h4M-84.7 1.3h8M83.3 1.3h4M-80.7 5.3h4M83.3 5.3h4M-80.7 9.3h8M83.3 9.3h4M-76.7 13.3h4M79.3 13.3h8M-72.7 17.3h4M79.3 17.3h4M-68.7 21.3h4M79.3 21.3h4M-64.7 25.3h4M79.3 25.3h4M-60.7 29.3h4M75.3 29.3h8M75.3 33.3h4M-48.7 37.3h4M71.3 37.3h8M-44.7 41.3h4M67.3 41.3h8M-40.7 45.3h4M67.3 45.3h8M-36.7 49.3h4M63.3 49.3h8M-32.7 53.3h4M59.3 53.3h8M-24.7 57.3h4M55.3 57.3h8M-20.7 61.3h4M51.3 61.3h12M-16.7 65.3h4M43.3 65.3h12M-12.7 69.3h8M39.3 69.3h12M-4.7 73.3h8M27.3 73.3h20M-0.7 77.3h40M11.3 81.3h16"/>
<path stroke="#f88c51" d="M-84.7 5.3h4M-84.7 9.3h4M-80.7 13.3h4M-76.7 17.3h4M-72.7 21.3h4M-68.7 25.3h4M-64.7 29.3h4M-56.7 33.3h4M-52.7 37.3h4M-48.7 41.3h4M-44.7 45.3h4M-40.7 49.3h4M-28.7 57.3h4M-24.7 61.3h4M-20.7 65.3h4M-16.7 69.3h4M-12.7 73.3h8M-8.7 77.3h8M-0.7 81.3h12M27.3 81.3h4M3.3 85.3h12"/>
<path stroke="#f67f4b" d="M-84.7 13.3h4M-84.7 17.3h8M-76.7 21.3h4M-72.7 25.3h4M-68.7 29.3h4M-60.7 33.3h4M-56.7 37.3h4M-52.7 41.3h4M-36.7 53.3h4M-32.7 57.3h4M-28.7 61.3h4M-24.7 65.3h4M-20.7 69.3h4M-16.7 73.3h4M-12.7 77.3h4M-8.7 81.3h8M-4.7 85.3h8"/>
<path stroke="#f57245" d="M-84.7 21.3h8M-76.7 25.3h4M-72.7 29.3h4M-64.7 33.3h4M-60.7 37.3h4M-48.7 45.3h4M-44.7 49.3h4M-40.7 53.3h4M-36.7 57.3h4M-32.7 61.3h4M-28.7 65.3h4M-24.7 69.3h4M-20.7 73.3h4M-16.7 77.3h4M-16.7 81.3h8M-12.7 85.3h8"/>
<path stroke="#ef6645" d="M-84.7 25.3h8M-76.7 29.3h4M-68.7 33.3h4M-64.7 37.3h4M-56.7 41.3h4M-52.7 45.3h4M-48.7 49.3h4M-44.7 53.3h4M-40.7 57.3h4M-36.7 61.3h4M-32.7 65.3h4M-28.7 69.3h4M-24.7 73.3h4M-20.7 77.3h4M-20.7 81.3h4M-16.7 85.3h4"/>
<path stroke="#e95c47" d="M-80.7 29.3h4M-76.7 33.3h8M-68.7 37.3h4M-60.7 41.3h4M-56.7 45.3h4M-52.7 49.3h4M-36.7 65.3h4M-32.7 69.3h4M-28.7 73.3h4M-24.7 77.3h4M-24.7 81.3h4"/>
<path stroke="#e3534a" d="M-80.7 33.3h4M-72.7 37.3h4M-64.7 41.3h4M-60.7 45.3h4M-48.7 53.3h4M-44.7 57.3h4M-40.7 61.3h4M-36.7 69.3h4M-32.7 73.3h4M-28.7 77.3h4M-28.7 81.3h4"/>
<path stroke="#dc484c" d="M-76.7 37.3h4M-72.7 41.3h8M-64.7 45.3h4M-56.7 49.3h4M-52.7 53.3h4M-48.7 57.3h4M-44.7 61.3h4M-40.7 65.3h4M-36.7 73.3h4M-32.7 77.3h4"/>
<path stroke="#d63f4f" d="M-76.7 41.3h4M-72.7 45.3h8M-64.7 49.3h8M-56.7 53.3h4M-52.7 57.3h4M-48.7 61.3h4M-44.7 65.3h4M-40.7 69.3h4M-40.7 73.3h4M-36.7 77.3h4"/>
<path stroke="#cb334d" d="M-68.7 49.3h4M-60.7 53.3h4M-56.7 57.3h4M-52.7 61.3h4M-48.7 65.3h4M-44.7 69.3h4M-44.7 73.3h4M-40.7 77.3h4"/>
<path stroke="#be254a" d="M-72.7 49.3h4M-68.7 53.3h8M-60.7 57.3h4M-56.7 61.3h4M-52.7 65.3h4M-48.7 69.3h4"/>
<path stroke="#b41947" d="M-64.7 57.3h4M-60.7 61.3h4M-56.7 65.3h4M-52.7 69.3h4"/>
</g>
<path class="ct" d="M2.7 6 8 3.1 10.9 -1 11.4 -3 11.2 -6 9.2 -10 5 -13.2 0 -14.7 -6 -14.3 -11 -12 -13.9 -9 -15.4 -5 -14.9 -1 -13.1 2 -10 4.6 -6 6.2 -2 6.7 2.7 6M5.3 13 10 11.2 13.5 9 16.6 6 19.1 2 20.3 -2 20.3 -6 19.1 -10 17.4 -13 14.8 -16 10.5 -19 6 -20.9 1 -21.9 -4 -22 -9 -21.1 -13 -19.6 -17 -17.3 -21.2 -13 -23.9 -7 -23.8 -1 -21.1 5 -16 9.8 -10 12.7 -2 13.9 5.3 13M3.2 21 9 19.8 15 17.3 19.9 14 23.9 10 27 5 28.7 0 29 -5 28.2 -10 26 -15 23 -19.2 18.8 -23 13 -26.5 7 -28.6 1 -29.6 -5 -29.5 -11 -28.4 -16 -26.6 -21 -23.8 -25.5 -20 -28.8 -16 -30.9 -12 -32.2 -7 -32.3 -2 -31.5 2 -29.8 6 -27 10.1 -23 14 -18.5 17 -13 19.4 -8 20.7 -2 21.3 3.2 21M5.7 31 13 29.3 20 26.3 26 22.4 31.7 17 35.8 11 38.3 5 39.6 -1 39.5 -8 37.7 -15 34.7 -21 30 -27 25 -31.5 17 -36.7 9 -40.2 2 -41.9 -4 -41.8 -12 -39.7 -20 -36 -27 -31.6 -33 -26.3 -37.8 -20 -40.6 -14 -42.1 -7 -42.1 -1 -40.3 6 -37.2 12 -32.3 18 -26 23.2 -19 27.2 -11 30.1 -3 31.3 5.7 31M12.1 49 21 46.5 30 41.9 38 35.8 45.2 28 50.7 19 54.2 10 56 0 55.8 -10 54.2 -18 51.2 -26 46.7 -34 41.2 -41 27 -55 16.5 -67 12.2 -71 9 -73.1 5 -74.8 -2 -75.4 -8 -73.6 -14 -69.5 -27 -55.1 -41 -41.7 -46.6 -35 -51.6 -27 -54.9 -19 -56.7 -10 -56.6 -2 -55.7 3 -54.1 8 -49.1 17 -41 26.5 -30 35.9 -19 43 -8 47.7 2 49.6 12.1 49M-40.5 -81 -55 -70.4 -66 -59.3 -74.6 -47 -78.2 -40 -81 -33M81 -33.2 74.6 -47 70.1 -54 65.4 -60 55 -70.4 40.5 -81M-81 1 -75.6 10 -65.8 21 -51.7 34 -25 56.8 -13 66.2 -4 72 4 75.8 12 77.8 21 78 31 75.8 41 71.6 52 64.5 61 56.7 69.3 47 75.7 37 81 25.1M-81 30.8 -73 34.4 -65 39 -56 45.3 -48 51.8 -40.3 59 -33 67 -27.7 74 -23.5 81M-55 78.1 -58 78 -62 76.8 -66 74.5 -70.1 71 -73.2 67 -75 63 -75.3 60 -74 57.6 -71 56.5 -66 57.5 -61 60.2 -56 64.5 -52.8 69 -51.4 73 -52 76.4 -53 77.4 -55 78.1"/>
</g>
<use href="#hd"/>
</g>
<text x="1891.8" y="0" class="tt" transform="translate(0 22.9) scale(1 1.12) translate(0 0)">[09] Bra=0.99</text>
<g transform="translate(2116.7 111.6)">
<g clip-path="url(#dc)"><g filter="url(#bl)" class="fd">
<path stroke="#4d65ad" d="M-16.7 -82.7h44M-16.7 -78.7h52M-8.7 -74.7h52M-0.7 -70.7h36"/>
<path stroke="#4273b3" d="M-24.7 -82.7h8M-20.7 -78.7h4M-12.7 -74.7h4M-4.7 -70.7h4M35.3 -70.7h8M11.3 -66.7h20"/>
<path stroke="#3a7eb8" d="M-24.7 -78.7h4M-20.7 -74.7h8M-12.7 -70.7h8M43.3 -70.7h4M3.3 -66.7h8M31.3 -66.7h8"/>
<path stroke="#3389bd" d="M-28.7 -78.7h4M-24.7 -74.7h4M-16.7 -70.7h4M47.3 -70.7h4M-4.7 -66.7h8M39.3 -66.7h8M15.3 -62.7h16"/>
<path stroke="#3f97b7" d="M-32.7 -78.7h4M-28.7 -74.7h4M-20.7 -70.7h4M-12.7 -66.7h8M47.3 -66.7h4M3.3 -62.7h12M31.3 -62.7h12"/>
<path stroke="#49a2b2" d="M-36.7 -78.7h4M-32.7 -74.7h4M-24.7 -70.7h4M-16.7 -66.7h4M51.3 -66.7h4M-4.7 -62.7h8M43.3 -62.7h8"/>
<path stroke="#54aead" d="M-28.7 -70.7h4M-20.7 -66.7h4M-8.7 -62.7h4M51.3 -62.7h4M7.3 -58.7h36"/>
<path stroke="#60bba8" d="M-36.7 -74.7h4M-32.7 -70.7h4M-24.7 -66.7h4M-16.7 -62.7h8M55.3 -62.7h4M-0.7 -58.7h8M43.3 -58.7h8"/>
<path stroke="#6bc4a5" d="M-40.7 -74.7h4M-36.7 -70.7h4M-28.7 -66.7h4M-20.7 -62.7h4M-8.7 -58.7h8M51.3 -58.7h8M15.3 -54.7h24"/>
<path stroke="#79c9a5" d="M-44.7 -74.7h4M-40.7 -70.7h4M-32.7 -66.7h4M-24.7 -62.7h4M-12.7 -58.7h4M59.3 -58.7h4M3.3 -54.7h12M39.3 -54.7h12"/>
<path stroke="#89d0a4" d="M-44.7 -70.7h4M-36.7 -66.7h4M-28.7 -62.7h4M-20.7 -58.7h8M-4.7 -54.7h8M51.3 -54.7h8"/>
<path stroke="#97d5a4" d="M-48.7 -70.7h4M-40.7 -66.7h4M-36.7 -62.7h8M-24.7 -58.7h4M-12.7 -54.7h8M59.3 -54.7h8M7.3 -50.7h44"/>
<path stroke="#a4daa4" d="M-48.7 -66.7h8M-40.7 -62.7h4M-32.7 -58.7h8M-20.7 -54.7h8M-4.7 -50.7h12M51.3 -50.7h12"/>
<path stroke="#b3e0a2" d="M-52.7 -66.7h4M-44.7 -62.7h4M-36.7 -58.7h4M-24.7 -54.7h4M-12.7 -50.7h8M63.3 -50.7h8M11.3 -46.7h44"/>
<path stroke="#bfe5a0" d="M-56.7 -66.7h4M-48.7 -62.7h4M-40.7 -58.7h4M-32.7 -54.7h8M-20.7 -50.7h8M-4.7 -46.7h16M55.3 -46.7h12"/>
<path stroke="#caea9e" d="M-56.7 -62.7h8M-48.7 -58.7h8M-40.7 -54.7h8M-28.7 -50.7h8M-12.7 -46.7h8M67.3 -46.7h4M7.3 -42.7h52"/>
<path stroke="#d8ef9b" d="M-60.7 -62.7h4M-52.7 -58.7h4M-44.7 -54.7h4M-36.7 -50.7h8M-24.7 -46.7h12M-4.7 -42.7h12M59.3 -42.7h16M27.3 -38.7h20"/>
<path stroke="#e4f498" d="M-60.7 -58.7h8M-52.7 -54.7h8M-44.7 -50.7h8M-32.7 -46.7h8M-20.7 -42.7h16M3.3 -38.7h24M47.3 -38.7h24"/>
<path stroke="#eaf79e" d="M-64.7 -58.7h4M-60.7 -54.7h8M-52.7 -50.7h8M-44.7 -46.7h12M-32.7 -42.7h12M-16.7 -38.7h20M71.3 -38.7h8M7.3 -34.7h64"/>
<path stroke="#f0f9a7" d="M-68.7 -54.7h8M-64.7 -50.7h12M-56.7 -46.7h12M-44.7 -42.7h12M-32.7 -38.7h16M-16.7 -34.7h24M71.3 -34.7h8M11.3 -30.7h64"/>
<path stroke="#f5fbaf" d="M-68.7 -50.7h4M-72.7 -46.7h16M-60.7 -42.7h16M-52.7 -38.7h20M-36.7 -34.7h20M-20.7 -30.7h32M75.3 -30.7h4M7.3 -26.7h76"/>
<path stroke="#fafdb7" d="M-76.7 -42.7h16M-76.7 -38.7h24M-72.7 -34.7h36M-60.7 -30.7h40M-48.7 -26.7h56M-20.7 -22.7h104M19.3 -18.7h64M47.3 -14.7h40"/>
<path stroke="#fffebe" d="M-80.7 -34.7h8M-80.7 -30.7h20M-80.7 -26.7h32M-84.7 -22.7h64M-84.7 -18.7h104M-84.7 -14.7h132M-84.7 -10.7h172M-84.7 -6.7h64M23.3 -6.7h64M-84.7 -2.7h56M35.3 -2.7h52M-84.7 1.3h48M43.3 1.3h44M-84.7 5.3h48M51.3 5.3h36M-84.7 9.3h44M55.3 9.3h32M-84.7 13.3h40M59.3 13.3h28M-84.7 17.3h40M63.3 17.3h20M-84.7 21.3h40M67.3 21.3h16M-84.7 25.3h36M67.3 25.3h16M-80.7 29.3h32M71.3 29.3h12M-80.7 33.3h32M71.3 33.3h8M-76.7 37.3h28M75.3 37.3h4M-76.7 41.3h28M-72.7 45.3h24M-72.7 49.3h24M-68.7 53.3h24M-64.7 57.3h20M-60.7 61.3h16M-56.7 65.3h16M-52.7 69.3h16M-44.7 73.3h12M-40.7 77.3h12M-28.7 81.3h4"/>
<path stroke="#fff8b4" d="M-20.7 -6.7h44M-28.7 -2.7h64M-36.7 1.3h80M-36.7 5.3h32M15.3 5.3h36M-40.7 9.3h28M27.3 9.3h28M-44.7 13.3h24M35.3 13.3h24M-44.7 17.3h24M39.3 17.3h24M-44.7 21.3h20M43.3 21.3h24M-48.7 25.3h20M47.3 25.3h20M-48.7 29.3h20M51.3 29.3h20M-48.7 33.3h20M51.3 33.3h20M-48.7 37.3h20M55.3 37.3h20M-48.7 41.3h20M55.3 41.3h20M-48.7 45.3h20M55.3 45.3h20M-48.7 49.3h24M59.3 49.3h12M-44.7 53.3h20M59.3 53.3h8M-44.7 57.3h24M59.3 57.3h4M-44.7 61.3h24M55.3 61.3h8M-40.7 65.3h24M-36.7 69.3h28M-32.7 73.3h28M-28.7 77.3h32M-24.7 81.3h48M27.3 81.3h4M-16.7 85.3h32"/>
<path stroke="#fff2aa" d="M-4.7 5.3h20M-12.7 9.3h40M-20.7 13.3h56M-20.7 17.3h60M-24.7 21.3h20M23.3 21.3h20M-28.7 25.3h20M27.3 25.3h20M-28.7 29.3h16M35.3 29.3h16M-28.7 33.3h16M35.3 33.3h16M-28.7 37.3h16M39.3 37.3h16M-28.7 41.3h16M43.3 41.3h12M-28.7 45.3h16M43.3 45.3h12M-24.7 49.3h12M43.3 49.3h16M-24.7 53.3h16M43.3 53.3h16M-20.7 57.3h16M43.3 57.3h16M-20.7 61.3h20M39.3 61.3h16M-16.7 65.3h24M35.3 65.3h20M-8.7 69.3h60M-4.7 73.3h52M3.3 77.3h36M23.3 81.3h4"/>
<path stroke="#feeb9d" d="M-4.7 21.3h28M-8.7 25.3h36M-12.7 29.3h48M-12.7 33.3h48M-12.7 37.3h24M15.3 37.3h24M-12.7 41.3h20M19.3 41.3h24M-12.7 45.3h20M23.3 45.3h20M-12.7 49.3h28M19.3 49.3h24M-8.7 53.3h52M-4.7 57.3h48M-0.7 61.3h40M7.3 65.3h28"/>
<path stroke="#fee593" d="M11.3 37.3h4M7.3 41.3h12M7.3 45.3h16M15.3 49.3h4"/>
</g>
<path class="ct" d="M-15 -81 -10 -76.7 -2 -72.9 8 -70.3 19 -69.3 28.1 -70 36 -72.5 38.3 -74 40.1 -76 40.9 -78 40.7 -81M-30.1 -81 -26.4 -77 -22.4 -74 -17 -71 -9.9 -68 -2 -65.6 6 -63.8 15 -62.7 23 -62.3 31 -62.6 39 -63.8 45 -65.5 50 -67.8 54 -71 56 -74 56.6 -77 55.8 -81M-43.3 -81 -38.9 -76 -33 -71.5 -25 -67.1 -16 -63.4 -6 -60.3 5 -58 16 -56.6 27 -56.1 37 -56.6 46 -57.9 54.1 -60 61 -63 66.4 -67 69.2 -71 70.3 -76 69 -81M-56.8 -81 -52.7 -76 -46.8 -71 -39 -66 -30.7 -62 -21 -58.2 -11 -55.3 0 -52.8 12 -51 24 -50 35 -50 45 -50.7 55 -52.2 64 -54.6 71 -57.5 76.6 -61 81 -65.3M-72.2 -81 -68 -75.7 -62 -70.2 -55 -65.2 -47 -60.7 -38 -56.6 -27 -52.5 -5 -46.8 19 -43.4 31 -42.8 43 -43 54 -43.9 64 -45.5 73 -47.7 81 -50.6M-81 -67.5 -74 -62.4 -66.8 -58 -49 -49.5 -29 -42.7 -8 -37.8 16 -34.4 40 -33 61 -33.9 81 -37.1M-81 -5.5 -60 -11 -40 -14.5 -21 -16.1 -1 -16 18.1 -14 38.2 -10 59.1 -4 81 4.1"/>
</g>
<use href="#hd"/>
</g>
<text x="2116.7" y="0" class="tt" transform="translate(0 22.9) scale(1 1.12) translate(0 0)">[10] Eye=0.59</text>
<g transform="translate(2341.6 111.6)">
<g clip-path="url(#dc)"><g filter="url(#bl)" class="fd">
<path stroke="#4d65ad" d="M-48.7 -18.7h4M-52.7 -14.7h16M-52.7 -10.7h16M-52.7 -6.7h16"/>
<path stroke="#4273b3" d="M-52.7 -18.7h4M-44.7 -18.7h4M-56.7 -10.7h4M-48.7 -2.7h8"/>
<path stroke="#3a7eb8" d="M-40.7 -18.7h4M-56.7 -14.7h4M-56.7 -6.7h4M-52.7 -2.7h4"/>
<path stroke="#3389bd" d="M-36.7 -14.7h4M-36.7 -10.7h4M-36.7 -6.7h4M-40.7 -2.7h4"/>
<path stroke="#3f97b7" d="M-52.7 -22.7h12M-56.7 -18.7h4M-56.7 -2.7h4M-48.7 1.3h8"/>
<path stroke="#49a2b2" d="M-40.7 -22.7h4M-36.7 -18.7h4M-60.7 -14.7h4M-60.7 -10.7h4M-36.7 -2.7h4M-52.7 1.3h4"/>
<path stroke="#54aead" d="M-32.7 -10.7h4M-60.7 -6.7h4M-40.7 1.3h4"/>
<path stroke="#60bba8" d="M-48.7 -26.7h4M-56.7 -22.7h4M-36.7 -22.7h4M-60.7 -18.7h4M-32.7 -14.7h4M-32.7 -6.7h4M-60.7 -2.7h4M-56.7 1.3h4"/>
<path stroke="#6bc4a5" d="M-52.7 -26.7h4M-44.7 -26.7h4M-32.7 -18.7h4M-32.7 -2.7h4M-36.7 1.3h4M-48.7 5.3h8"/>
<path stroke="#79c9a5" d="M-40.7 -26.7h4M-60.7 -22.7h4M-64.7 -14.7h4M-64.7 -10.7h4M-52.7 5.3h4M-40.7 5.3h4"/>
<path stroke="#89d0a4" d="M-56.7 -26.7h4M-32.7 -22.7h4M-28.7 -14.7h4M-28.7 -10.7h4M-64.7 -6.7h4M-28.7 -6.7h4M-60.7 1.3h4M-32.7 1.3h4"/>
<path stroke="#97d5a4" d="M-48.7 -30.7h4M-36.7 -26.7h4M-64.7 -18.7h4M-28.7 -18.7h4M-64.7 -2.7h4M-28.7 -2.7h4M-56.7 5.3h4M-36.7 5.3h4"/>
<path stroke="#a4daa4" d="M-52.7 -30.7h4M-44.7 -30.7h8M-60.7 -26.7h4M-48.7 9.3h8"/>
<path stroke="#b3e0a2" d="M-56.7 -30.7h4M-32.7 -26.7h4M-64.7 -22.7h4M-28.7 -22.7h4M-68.7 -14.7h4M-68.7 -10.7h4M-24.7 -10.7h4M-68.7 -6.7h4M-24.7 -6.7h4M-64.7 1.3h4M-28.7 1.3h4M-60.7 5.3h4M-32.7 5.3h4M-52.7 9.3h4M-40.7 9.3h4"/>
<path stroke="#bfe5a0" d="M-36.7 -30.7h4M-68.7 -18.7h4M-24.7 -18.7h4M-24.7 -14.7h4M-68.7 -2.7h4M-24.7 -2.7h4M-56.7 9.3h4M-36.7 9.3h4"/>
<path stroke="#caea9e" d="M-48.7 -34.7h8M-60.7 -30.7h4M-64.7 -26.7h4M-28.7 -26.7h4M-24.7 1.3h4M-64.7 5.3h4M-28.7 5.3h4M-32.7 9.3h4"/>
<path stroke="#d8ef9b" d="M-52.7 -34.7h4M-40.7 -34.7h4M-32.7 -30.7h4M-68.7 -22.7h4M-24.7 -22.7h4M-20.7 -14.7h4M-20.7 -10.7h4M-20.7 -6.7h4M-68.7 1.3h4M-60.7 9.3h4M-52.7 13.3h16"/>
<path stroke="#e4f498" d="M-56.7 -34.7h4M-36.7 -34.7h4M-64.7 -30.7h4M-28.7 -30.7h4M-24.7 -26.7h4M-20.7 -18.7h4M-72.7 -14.7h4M-72.7 -10.7h4M-72.7 -6.7h4M-20.7 -2.7h4M-24.7 5.3h4M-28.7 9.3h4M-56.7 13.3h4M-36.7 13.3h4"/>
<path stroke="#eaf79e" d="M-48.7 -38.7h8M-60.7 -34.7h4M-32.7 -34.7h4M-68.7 -26.7h4M-20.7 -22.7h4M-72.7 -18.7h4M-16.7 -14.7h4M-16.7 -10.7h4M-16.7 -6.7h4M-72.7 -2.7h4M-20.7 1.3h4M-68.7 5.3h4M-64.7 9.3h4M-24.7 9.3h4M-60.7 13.3h4M-32.7 13.3h4M-48.7 17.3h8"/>
<path stroke="#f0f9a7" d="M-56.7 -38.7h8M-40.7 -38.7h8M-28.7 -34.7h4M-24.7 -30.7h4M-20.7 -26.7h4M-72.7 -22.7h4M-16.7 -18.7h4M-76.7 -10.7h4M-16.7 -2.7h4M-72.7 1.3h4M-16.7 1.3h4M-20.7 5.3h4M-68.7 9.3h4M-28.7 13.3h4M-52.7 17.3h4M-40.7 17.3h8"/>
<path stroke="#f5fbaf" d="M-60.7 -38.7h4M-32.7 -38.7h4M-64.7 -34.7h4M-24.7 -34.7h4M-68.7 -30.7h4M-20.7 -30.7h4M-16.7 -22.7h4M-12.7 -18.7h4M-76.7 -14.7h4M-12.7 -14.7h4M-12.7 -10.7h4M-76.7 -6.7h4M-12.7 -6.7h4M-76.7 -2.7h4M-12.7 -2.7h4M-12.7 1.3h4M-72.7 5.3h4M-16.7 5.3h4M-20.7 9.3h8M-64.7 13.3h4M-24.7 13.3h4M-60.7 17.3h8M-32.7 17.3h8M-44.7 21.3h4"/>
<path stroke="#fafdb7" d="M-56.7 -42.7h24M-28.7 -38.7h4M-20.7 -34.7h4M-16.7 -30.7h4M-72.7 -26.7h4M-16.7 -26.7h4M-12.7 -22.7h4M-76.7 -18.7h4M-8.7 -18.7h4M-8.7 -14.7h4M-8.7 -10.7h4M-8.7 -6.7h8M-8.7 -2.7h8M-76.7 1.3h4M-8.7 1.3h4M-12.7 5.3h8M-72.7 9.3h4M-12.7 9.3h4M-68.7 13.3h4M-20.7 13.3h8M-64.7 17.3h4M-24.7 17.3h8M-56.7 21.3h12M-40.7 21.3h16"/>
<path stroke="#fffebe" d="M-48.7 -46.7h12M-32.7 -42.7h8M-64.7 -38.7h4M-24.7 -38.7h8M-68.7 -34.7h4M-16.7 -34.7h4M-72.7 -30.7h4M-12.7 -30.7h4M-12.7 -26.7h8M-76.7 -22.7h4M-8.7 -22.7h8M-4.7 -18.7h8M-80.7 -14.7h4M-4.7 -14.7h12M-80.7 -10.7h4M-4.7 -10.7h12M-80.7 -6.7h4M-0.7 -6.7h12M-80.7 -2.7h4M-0.7 -2.7h12M-80.7 1.3h4M-4.7 1.3h16M-76.7 5.3h4M-4.7 5.3h16M-76.7 9.3h4M-8.7 9.3h16M-72.7 13.3h4M-12.7 13.3h16M-68.7 17.3h4M-16.7 17.3h16M-60.7 21.3h4M-24.7 21.3h16M-52.7 25.3h32"/>
<path stroke="#fff8b4" d="M-48.7 -50.7h16M-56.7 -46.7h8M-36.7 -46.7h16M-60.7 -42.7h4M-24.7 -42.7h12M-16.7 -38.7h12M-12.7 -34.7h16M-8.7 -30.7h16M-76.7 -26.7h4M-4.7 -26.7h20M-0.7 -22.7h20M-80.7 -18.7h4M3.3 -18.7h16M7.3 -14.7h16M7.3 -10.7h16M-84.7 -6.7h4M11.3 -6.7h16M-84.7 -2.7h4M11.3 -2.7h16M-84.7 1.3h4M11.3 1.3h16M-80.7 5.3h4M11.3 5.3h16M-80.7 9.3h4M7.3 9.3h16M-76.7 13.3h4M3.3 13.3h20M-72.7 17.3h4M-0.7 17.3h24M-68.7 21.3h8M-8.7 21.3h28M-64.7 25.3h12M-20.7 25.3h36M-56.7 29.3h68M-32.7 33.3h32"/>
<path stroke="#fff2aa" d="M-40.7 -58.7h24M-48.7 -54.7h56M-52.7 -50.7h4M-32.7 -50.7h52M-60.7 -46.7h4M-20.7 -46.7h44M-64.7 -42.7h4M-12.7 -42.7h44M-68.7 -38.7h4M-4.7 -38.7h40M-72.7 -34.7h4M3.3 -34.7h32M7.3 -30.7h32M15.3 -26.7h28M-80.7 -22.7h4M19.3 -22.7h24M19.3 -18.7h28M-84.7 -14.7h4M23.3 -14.7h24M-84.7 -10.7h4M23.3 -10.7h24M27.3 -6.7h20M27.3 -2.7h20M27.3 1.3h20M-84.7 5.3h4M27.3 5.3h20M-84.7 9.3h4M23.3 9.3h24M-84.7 13.3h8M23.3 13.3h24M-84.7 17.3h12M23.3 17.3h24M-80.7 21.3h12M19.3 21.3h24M-76.7 25.3h12M15.3 25.3h28M-72.7 29.3h16M11.3 29.3h28M-68.7 33.3h36M-0.7 33.3h40M-60.7 37.3h96M-52.7 41.3h84M-44.7 45.3h72M-36.7 49.3h56M-28.7 53.3h40"/>
<path stroke="#feeb9d" d="M-24.7 -82.7h52M-36.7 -78.7h72M-40.7 -74.7h84M-40.7 -70.7h92M-44.7 -66.7h100M-48.7 -62.7h108M-48.7 -58.7h8M-16.7 -58.7h80M-52.7 -54.7h4M7.3 -54.7h60M-56.7 -50.7h4M19.3 -50.7h52M23.3 -46.7h48M31.3 -42.7h44M35.3 -38.7h44M35.3 -34.7h44M-76.7 -30.7h4M39.3 -30.7h40M43.3 -26.7h40M43.3 -22.7h40M47.3 -18.7h36M47.3 -14.7h40M47.3 -10.7h40M47.3 -6.7h40M47.3 -2.7h40M47.3 1.3h40M47.3 5.3h40M47.3 9.3h40M47.3 13.3h40M47.3 17.3h36M-84.7 21.3h4M43.3 21.3h40M-84.7 25.3h8M43.3 25.3h40M-80.7 29.3h8M39.3 29.3h44M-80.7 33.3h12M39.3 33.3h40M-76.7 37.3h16M35.3 37.3h44M-76.7 41.3h24M31.3 41.3h44M-72.7 45.3h28M27.3 45.3h48M-72.7 49.3h36M19.3 49.3h52M-68.7 53.3h40M11.3 53.3h56M-64.7 57.3h128M-60.7 61.3h124M-56.7 65.3h112M-52.7 69.3h104M-44.7 73.3h92M-40.7 77.3h80M-28.7 81.3h60M-16.7 85.3h32"/>
<path stroke="#fee593" d="M-44.7 -74.7h4M-44.7 -70.7h4M-48.7 -66.7h4M-52.7 -62.7h4M-52.7 -58.7h4M-56.7 -54.7h4M-60.7 -50.7h4M-64.7 -46.7h4M-68.7 -42.7h4M-80.7 -26.7h4M-84.7 -18.7h4"/>
<path stroke="#fede89" d="M-48.7 -70.7h4M-52.7 -66.7h4M-56.7 -58.7h4M-60.7 -54.7h4M-72.7 -38.7h4M-76.7 -34.7h4M-84.7 -22.7h4"/>
<path stroke="#fed27f" d="M-56.7 -62.7h4M-60.7 -58.7h4M-64.7 -50.7h4M-68.7 -46.7h4M-80.7 -30.7h4"/>
<path stroke="#fec877" d="M-56.7 -66.7h4M-64.7 -54.7h4M-72.7 -42.7h4M-76.7 -38.7h4M-80.7 -34.7h4"/>
<path stroke="#fdbf6f" d="M-60.7 -62.7h4M-64.7 -58.7h4M-68.7 -50.7h4M-72.7 -46.7h4M-76.7 -42.7h4"/>
<path stroke="#fdb365" d="M-68.7 -54.7h4"/>
</g>
<path class="ct" d="M-43.8 -1 -40 -2.3 -37 -5 -35.2 -9 -35.2 -13 -36.3 -16 -39 -19.1 -43 -21.1 -47 -21.2 -51 -19.8 -53.9 -17 -55.4 -14 -55.7 -10 -54.3 -6 -51.6 -3 -48 -1.2 -43.8 -1M-41.9 4 -36 1.5 -32 -2.6 -29.8 -8 -29.9 -14 -30.8 -17 -32.6 -20 -37 -24.1 -43 -26.3 -49 -26.1 -52 -25.1 -55 -23.2 -58.8 -19 -60.6 -14 -60.6 -8 -58 -2.2 -54 1.6 -48 4.1 -41.9 4M-40.8 9 -37 7.9 -33 5.9 -29.6 3 -27.2 0 -25.6 -3 -24.4 -7 -24.1 -11 -24.6 -15 -25.9 -19 -28 -22.5 -31 -25.9 -34 -28.2 -38 -30.1 -42 -31.2 -46 -31.4 -50 -30.9 -54 -29.5 -57 -27.8 -60 -25.3 -62.6 -22 -65.4 -15 -65.8 -11 -65.4 -7 -64.1 -3 -62.4 0 -60 3 -56.3 6 -53 7.8 -49 9 -45 9.4 -40.8 9M-39.7 15 -34 13.5 -29 11.1 -24.9 8 -21.4 4 -19.1 0 -17.5 -5 -17 -10 -17.6 -15 -19.2 -20 -22 -25 -25.4 -29 -30 -32.7 -35 -35.2 -40 -36.7 -45 -37.2 -50 -36.7 -55 -35.2 -60 -32.4 -63.8 -29 -67 -25 -69.1 -21 -70.8 -16 -71.4 -11 -70.9 -6 -69.4 -1 -67.2 3 -64 7.1 -60 10.4 -55 13.2 -50 14.7 -45 15.3 -39.7 15M-34.2 25 -26 23.4 -18 20.8 -10.2 17 -4.5 13 -0.7 9 2 4 3 -1 2.5 -7 -0.3 -15 -5.1 -23 -11.7 -31 -19 -37.4 -26 -41.7 -34 -44.7 -42 -46.1 -50 -45.4 -55 -43.7 -61 -39.9 -67 -34.3 -72 -28 -75.9 -21 -78.4 -14 -79.3 -8 -78.8 -2 -76.8 4 -73.1 10 -68.6 15 -63 19.2 -57 22.3 -50 24.4 -42 25.4 -34.2 25M-81 -62.8 -67.6 -81M-43 -81 -48.2 -70 -54.2 -60 -73.4 -36 -81 -25.5"/>
</g>
<use href="#hd"/>
</g>
<text x="2341.6" y="0" class="tt rd" transform="translate(0 22.9) scale(1 1.12) translate(0 0)">[11] Mus=0.90</text>
<g transform="translate(92.6 347.5)">
<g clip-path="url(#dc)"><g filter="url(#bl)" class="fd">
<path stroke="#89d0a4" d="M11.3 -10.7h8M7.3 -6.7h16M7.3 -2.7h12"/>
<path stroke="#97d5a4" d="M11.3 -14.7h8M7.3 -10.7h4M19.3 -10.7h8M3.3 -6.7h4M23.3 -6.7h4M3.3 -2.7h4M19.3 -2.7h8M7.3 1.3h16M11.3 5.3h4"/>
<path stroke="#a4daa4" d="M7.3 -14.7h4M19.3 -14.7h8M3.3 -10.7h4M27.3 -10.7h4M-0.7 -6.7h4M27.3 -6.7h4M-0.7 -2.7h4M27.3 -2.7h4M-0.7 1.3h8M23.3 1.3h4M3.3 5.3h8M15.3 5.3h8"/>
<path stroke="#b3e0a2" d="M7.3 -18.7h20M3.3 -14.7h4M27.3 -14.7h4M-0.7 -10.7h4M-4.7 -2.7h4M27.3 1.3h4M-0.7 5.3h4M23.3 5.3h4M3.3 9.3h20"/>
<path stroke="#bfe5a0" d="M11.3 -22.7h12M3.3 -18.7h4M27.3 -18.7h4M-0.7 -14.7h4M31.3 -14.7h4M-4.7 -10.7h4M31.3 -10.7h4M-4.7 -6.7h4M31.3 -6.7h4M31.3 -2.7h4M-4.7 1.3h4M31.3 1.3h4M-4.7 5.3h4M27.3 5.3h4M-4.7 9.3h8M23.3 9.3h4M-0.7 13.3h20"/>
<path stroke="#caea9e" d="M7.3 -22.7h4M23.3 -22.7h4M-0.7 -18.7h4M31.3 -18.7h4M-4.7 -14.7h4M35.3 -10.7h4M-8.7 -6.7h4M35.3 -6.7h4M-8.7 -2.7h4M35.3 -2.7h4M-8.7 1.3h4M-8.7 5.3h4M31.3 5.3h4M-8.7 9.3h4M27.3 9.3h4M-4.7 13.3h4M19.3 13.3h8M-0.7 17.3h20"/>
<path stroke="#d8ef9b" d="M11.3 -26.7h12M-0.7 -22.7h8M27.3 -22.7h4M-4.7 -18.7h4M-8.7 -14.7h4M35.3 -14.7h4M-8.7 -10.7h4M-12.7 -2.7h4M-12.7 1.3h4M35.3 1.3h4M-12.7 5.3h4M-12.7 9.3h4M31.3 9.3h4M-8.7 13.3h4M27.3 13.3h4M-8.7 17.3h8M19.3 17.3h4M-0.7 21.3h16"/>
<path stroke="#e4f498" d="M3.3 -26.7h8M23.3 -26.7h8M31.3 -22.7h4M35.3 -18.7h4M39.3 -14.7h4M-12.7 -10.7h4M39.3 -10.7h4M-12.7 -6.7h4M39.3 -6.7h4M39.3 -2.7h4M-16.7 1.3h4M39.3 1.3h4M-16.7 5.3h4M35.3 5.3h4M-16.7 9.3h4M35.3 9.3h4M-12.7 13.3h4M31.3 13.3h4M-12.7 17.3h4M23.3 17.3h8M-8.7 21.3h8M15.3 21.3h8M-4.7 25.3h20"/>
<path stroke="#eaf79e" d="M7.3 -30.7h20M-0.7 -26.7h4M31.3 -26.7h4M-4.7 -22.7h4M35.3 -22.7h4M-8.7 -18.7h4M39.3 -18.7h4M-12.7 -14.7h4M43.3 -10.7h4M-16.7 -6.7h4M43.3 -6.7h4M-16.7 -2.7h4M43.3 -2.7h4M-20.7 5.3h4M39.3 5.3h4M-20.7 9.3h4M-16.7 13.3h4M-16.7 17.3h4M31.3 17.3h4M-16.7 21.3h8M23.3 21.3h4M-12.7 25.3h8M15.3 25.3h8M-8.7 29.3h20"/>
<path stroke="#f0f9a7" d="M3.3 -30.7h4M27.3 -30.7h4M-4.7 -26.7h4M35.3 -26.7h4M-8.7 -22.7h4M39.3 -22.7h4M-12.7 -18.7h4M-16.7 -14.7h4M43.3 -14.7h4M-16.7 -10.7h4M-20.7 -6.7h4M-20.7 -2.7h4M-20.7 1.3h4M43.3 1.3h4M43.3 5.3h4M-24.7 9.3h4M39.3 9.3h4M-24.7 13.3h8M35.3 13.3h4M-24.7 17.3h8M-20.7 21.3h4M27.3 21.3h4M-20.7 25.3h8M23.3 25.3h4M-16.7 29.3h8M11.3 29.3h12M-12.7 33.3h24"/>
<path stroke="#f5fbaf" d="M7.3 -34.7h20M-4.7 -30.7h8M31.3 -30.7h4M-8.7 -26.7h4M39.3 -26.7h4M-12.7 -22.7h4M43.3 -22.7h4M-16.7 -18.7h4M43.3 -18.7h4M47.3 -14.7h4M-20.7 -10.7h4M47.3 -10.7h4M47.3 -6.7h4M-24.7 -2.7h4M47.3 -2.7h4M-24.7 1.3h4M47.3 1.3h4M-24.7 5.3h4M-28.7 9.3h4M43.3 9.3h4M-28.7 13.3h4M39.3 13.3h4M-28.7 17.3h4M35.3 17.3h4M-28.7 21.3h8M31.3 21.3h8M-24.7 25.3h4M27.3 25.3h4M-24.7 29.3h8M23.3 29.3h4M-20.7 33.3h8M11.3 33.3h12M-12.7 37.3h28"/>
<path stroke="#fafdb7" d="M-0.7 -34.7h8M27.3 -34.7h8M-8.7 -30.7h4M35.3 -30.7h8M-12.7 -26.7h4M43.3 -26.7h4M-16.7 -22.7h4M-20.7 -18.7h4M47.3 -18.7h4M-20.7 -14.7h4M-24.7 -10.7h4M51.3 -10.7h4M-24.7 -6.7h4M51.3 -6.7h4M-28.7 -2.7h4M51.3 -2.7h4M-28.7 1.3h4M-28.7 5.3h4M47.3 5.3h4M-32.7 9.3h4M47.3 9.3h4M-32.7 13.3h4M43.3 13.3h4M-32.7 17.3h4M39.3 17.3h4M-32.7 21.3h4M39.3 21.3h4M-32.7 25.3h8M31.3 25.3h8M-32.7 29.3h8M27.3 29.3h8M-28.7 33.3h8M23.3 33.3h4M-24.7 37.3h12M15.3 37.3h8M-16.7 41.3h32"/>
<path stroke="#fffebe" d="M3.3 -38.7h28M-4.7 -34.7h4M35.3 -34.7h4M-12.7 -30.7h4M43.3 -30.7h4M-16.7 -26.7h4M47.3 -26.7h4M-20.7 -22.7h4M47.3 -22.7h4M-24.7 -18.7h4M51.3 -18.7h4M-24.7 -14.7h4M51.3 -14.7h4M-28.7 -10.7h4M-28.7 -6.7h4M-32.7 -2.7h4M-32.7 1.3h4M51.3 1.3h4M-36.7 5.3h8M51.3 5.3h4M-36.7 9.3h4M51.3 9.3h4M-36.7 13.3h4M47.3 13.3h4M-36.7 17.3h4M43.3 17.3h4M-40.7 21.3h8M43.3 21.3h4M-36.7 25.3h4M39.3 25.3h4M-36.7 29.3h4M35.3 29.3h4M-36.7 33.3h8M27.3 33.3h8M-32.7 37.3h8M23.3 37.3h8M-28.7 41.3h12M15.3 41.3h8M-20.7 45.3h40M-8.7 49.3h12"/>
<path stroke="#fff8b4" d="M7.3 -42.7h24M-4.7 -38.7h8M31.3 -38.7h8M-12.7 -34.7h8M39.3 -34.7h8M-16.7 -30.7h4M47.3 -30.7h4M-20.7 -26.7h4M51.3 -26.7h4M-24.7 -22.7h4M51.3 -22.7h4M-28.7 -18.7h4M55.3 -18.7h4M-28.7 -14.7h4M55.3 -14.7h4M-32.7 -10.7h4M55.3 -10.7h4M-36.7 -6.7h8M55.3 -6.7h4M-36.7 -2.7h4M55.3 -2.7h4M-40.7 1.3h8M55.3 1.3h4M-40.7 5.3h4M55.3 5.3h4M-44.7 9.3h8M55.3 9.3h4M-44.7 13.3h8M51.3 13.3h4M-44.7 17.3h8M47.3 17.3h8M-44.7 21.3h4M47.3 21.3h4M-44.7 25.3h8M43.3 25.3h4M-44.7 29.3h8M39.3 29.3h8M-44.7 33.3h8M35.3 33.3h8M-40.7 37.3h8M31.3 37.3h8M-36.7 41.3h8M23.3 41.3h12M-32.7 45.3h12M19.3 45.3h8M-28.7 49.3h20M3.3 49.3h16M-16.7 53.3h28"/>
<path stroke="#fff2aa" d="M7.3 -46.7h24M-4.7 -42.7h12M31.3 -42.7h12M-12.7 -38.7h8M39.3 -38.7h8M-16.7 -34.7h4M47.3 -34.7h8M-20.7 -30.7h4M51.3 -30.7h4M-24.7 -26.7h4M55.3 -26.7h4M-28.7 -22.7h4M55.3 -22.7h8M-32.7 -18.7h4M59.3 -18.7h4M-36.7 -14.7h8M59.3 -14.7h4M-36.7 -10.7h4M59.3 -10.7h8M-40.7 -6.7h4M59.3 -6.7h8M-44.7 -2.7h8M59.3 -2.7h8M-44.7 1.3h4M59.3 1.3h4M-48.7 5.3h8M59.3 5.3h4M-48.7 9.3h4M59.3 9.3h4M-52.7 13.3h8M55.3 13.3h8M-52.7 17.3h8M55.3 17.3h4M-52.7 21.3h8M51.3 21.3h8M-52.7 25.3h8M47.3 25.3h8M-52.7 29.3h8M47.3 29.3h4M-52.7 33.3h8M43.3 33.3h8M-48.7 37.3h8M39.3 37.3h8M-48.7 41.3h12M35.3 41.3h8M-44.7 45.3h12M27.3 45.3h12M-40.7 49.3h12M19.3 49.3h16M-32.7 53.3h16M11.3 53.3h16M-24.7 57.3h44"/>
<path stroke="#feeb9d" d="M7.3 -50.7h32M-4.7 -46.7h12M31.3 -46.7h16M-8.7 -42.7h4M43.3 -42.7h12M-16.7 -38.7h4M47.3 -38.7h12M-20.7 -34.7h4M55.3 -34.7h8M-24.7 -30.7h4M55.3 -30.7h8M-28.7 -26.7h4M59.3 -26.7h8M-32.7 -22.7h4M63.3 -22.7h4M-36.7 -18.7h4M63.3 -18.7h8M-40.7 -14.7h4M63.3 -14.7h8M-44.7 -10.7h8M67.3 -10.7h4M-48.7 -6.7h8M67.3 -6.7h4M-52.7 -2.7h8M67.3 -2.7h4M-56.7 1.3h12M63.3 1.3h8M-56.7 5.3h8M63.3 5.3h8M-60.7 9.3h12M63.3 9.3h8M-60.7 13.3h8M63.3 13.3h4M-64.7 17.3h12M59.3 17.3h8M-64.7 21.3h12M59.3 21.3h8M-64.7 25.3h12M55.3 25.3h8M-64.7 29.3h12M51.3 29.3h12M-60.7 33.3h8M51.3 33.3h8M-60.7 37.3h12M47.3 37.3h8M-60.7 41.3h12M43.3 41.3h12M-56.7 45.3h12M39.3 45.3h12M-52.7 49.3h12M35.3 49.3h12M-48.7 53.3h16M27.3 53.3h16M-44.7 57.3h20M19.3 57.3h16M-36.7 61.3h68M-28.7 65.3h48"/>
<path stroke="#fee593" d="M11.3 -58.7h40M3.3 -54.7h56M-4.7 -50.7h12M39.3 -50.7h24M-12.7 -46.7h8M47.3 -46.7h20M-16.7 -42.7h8M55.3 -42.7h16M-20.7 -38.7h4M59.3 -38.7h16M-28.7 -34.7h8M63.3 -34.7h16M-32.7 -30.7h8M63.3 -30.7h16M-36.7 -26.7h8M67.3 -26.7h16M-40.7 -22.7h8M67.3 -22.7h16M-44.7 -18.7h8M71.3 -18.7h12M-52.7 -14.7h12M71.3 -14.7h16M-56.7 -10.7h12M71.3 -10.7h16M-60.7 -6.7h12M71.3 -6.7h16M-64.7 -2.7h12M71.3 -2.7h16M-68.7 1.3h12M71.3 1.3h16M-72.7 5.3h16M71.3 5.3h16M-76.7 9.3h16M71.3 9.3h16M-80.7 13.3h20M67.3 13.3h16M-80.7 17.3h16M67.3 17.3h16M-84.7 21.3h20M67.3 21.3h16M-84.7 25.3h20M63.3 25.3h20M-80.7 29.3h16M63.3 29.3h16M-80.7 33.3h20M59.3 33.3h20M-76.7 37.3h16M55.3 37.3h24M-76.7 41.3h16M55.3 41.3h20M-72.7 45.3h16M51.3 45.3h24M-72.7 49.3h20M47.3 49.3h24M-68.7 53.3h20M43.3 53.3h24M-64.7 57.3h20M35.3 57.3h28M-60.7 61.3h24M31.3 61.3h28M-56.7 65.3h28M19.3 65.3h36M-52.7 69.3h104M-44.7 73.3h88M-40.7 77.3h76M-28.7 81.3h52"/>
<path stroke="#fede89" d="M27.3 -78.7h8M23.3 -74.7h20M19.3 -70.7h32M11.3 -66.7h44M7.3 -62.7h52M-0.7 -58.7h12M51.3 -58.7h12M-4.7 -54.7h8M59.3 -54.7h8M-12.7 -50.7h8M63.3 -50.7h8M-16.7 -46.7h4M67.3 -46.7h4M-20.7 -42.7h4M71.3 -42.7h4M-28.7 -38.7h8M75.3 -38.7h4M-32.7 -34.7h4M-36.7 -30.7h4M-44.7 -26.7h8M-48.7 -22.7h8M-56.7 -18.7h12M-64.7 -14.7h12M-68.7 -10.7h12M-80.7 -6.7h20M-84.7 -2.7h20M-84.7 1.3h16M-84.7 5.3h12M-84.7 9.3h8M-84.7 13.3h4M83.3 13.3h4M-84.7 17.3h4M79.3 29.3h4M59.3 61.3h4M43.3 73.3h4M35.3 77.3h4M23.3 81.3h8M-16.7 85.3h32"/>
<path stroke="#fed27f" d="M19.3 -82.7h8M15.3 -78.7h12M11.3 -74.7h12M7.3 -70.7h12M3.3 -66.7h8M-0.7 -62.7h8M-4.7 -58.7h4M-12.7 -54.7h8M-16.7 -50.7h4M-20.7 -46.7h4M-28.7 -42.7h8M-32.7 -38.7h4M-40.7 -34.7h8M-44.7 -30.7h8M-52.7 -26.7h8M-56.7 -22.7h8M-68.7 -18.7h12M-76.7 -14.7h12M-84.7 -10.7h16M-84.7 -6.7h4"/>
<path stroke="#fec877" d="M11.3 -82.7h8M7.3 -78.7h8M7.3 -74.7h4M3.3 -70.7h4M-0.7 -66.7h4M-4.7 -62.7h4M-12.7 -58.7h8M-16.7 -54.7h4M-20.7 -50.7h4M-28.7 -46.7h8M-32.7 -42.7h4M-36.7 -38.7h4M-44.7 -34.7h4M-52.7 -30.7h8M-60.7 -26.7h8M-68.7 -22.7h12M-80.7 -18.7h12M-84.7 -14.7h8"/>
<path stroke="#fdbf6f" d="M7.3 -82.7h4M3.3 -78.7h4M-0.7 -74.7h8M-0.7 -70.7h4M-4.7 -66.7h4M-12.7 -62.7h8M-16.7 -58.7h4M-20.7 -54.7h4M-24.7 -50.7h4M-32.7 -46.7h4M-36.7 -42.7h4M-44.7 -38.7h8M-48.7 -34.7h4M-56.7 -30.7h4M-68.7 -26.7h8M-76.7 -22.7h8M-84.7 -18.7h4"/>
<path stroke="#fdb365" d="M3.3 -82.7h4M-0.7 -78.7h4M-4.7 -74.7h4M-4.7 -70.7h4M-8.7 -66.7h4M-20.7 -58.7h4M-24.7 -54.7h4M-28.7 -50.7h4M-36.7 -46.7h4M-40.7 -42.7h4M-48.7 -38.7h4M-56.7 -34.7h8M-64.7 -30.7h8M-76.7 -26.7h8M-84.7 -22.7h8"/>
<path stroke="#fca85e" d="M-0.7 -82.7h4M-4.7 -78.7h4M-8.7 -70.7h4M-12.7 -66.7h4M-16.7 -62.7h4M-28.7 -54.7h4M-32.7 -50.7h4M-40.7 -46.7h4M-44.7 -42.7h4M-52.7 -38.7h4M-60.7 -34.7h4M-72.7 -30.7h8M-80.7 -26.7h4"/>
<path stroke="#fa9b58" d="M-4.7 -82.7h4M-8.7 -74.7h4M-12.7 -70.7h4M-16.7 -66.7h4M-20.7 -62.7h4M-24.7 -58.7h4M-32.7 -54.7h4M-36.7 -50.7h4M-48.7 -42.7h4M-56.7 -38.7h4M-68.7 -34.7h8M-80.7 -30.7h8"/>
<path stroke="#f88c51" d="M-8.7 -78.7h4M-12.7 -74.7h4M-16.7 -70.7h4M-20.7 -66.7h4M-24.7 -62.7h4M-28.7 -58.7h4M-40.7 -50.7h4M-44.7 -46.7h4M-52.7 -42.7h4M-60.7 -38.7h4M-76.7 -34.7h8"/>
<path stroke="#f67f4b" d="M-8.7 -82.7h4M-12.7 -78.7h4M-32.7 -58.7h4M-36.7 -54.7h4M-44.7 -50.7h4M-48.7 -46.7h4M-56.7 -42.7h4M-68.7 -38.7h8M-80.7 -34.7h4"/>
<path stroke="#f57245" d="M-12.7 -82.7h4M-16.7 -74.7h4M-20.7 -70.7h4M-24.7 -66.7h4M-28.7 -62.7h4M-40.7 -54.7h4M-52.7 -46.7h4M-60.7 -42.7h4M-76.7 -38.7h8"/>
<path stroke="#ef6645" d="M-16.7 -78.7h4M-20.7 -74.7h4M-24.7 -70.7h4M-28.7 -66.7h4M-32.7 -62.7h4M-36.7 -58.7h4M-48.7 -50.7h4M-56.7 -46.7h4M-68.7 -42.7h8"/>
<path stroke="#e95c47" d="M-16.7 -82.7h4M-40.7 -58.7h4M-44.7 -54.7h4M-52.7 -50.7h4M-60.7 -46.7h4M-76.7 -42.7h8"/>
<path stroke="#e3534a" d="M-20.7 -78.7h4M-24.7 -74.7h4M-28.7 -70.7h4M-32.7 -66.7h4M-36.7 -62.7h4M-48.7 -54.7h4M-56.7 -50.7h4M-68.7 -46.7h8"/>
<path stroke="#dc484c" d="M-20.7 -82.7h4M-24.7 -78.7h4M-40.7 -62.7h4M-44.7 -58.7h4M-52.7 -54.7h4M-60.7 -50.7h4M-72.7 -46.7h4"/>
<path stroke="#d63f4f" d="M-28.7 -74.7h4M-32.7 -70.7h4M-36.7 -66.7h4M-48.7 -58.7h4M-56.7 -54.7h4M-68.7 -50.7h8"/>
<path stroke="#cb334d" d="M-24.7 -82.7h4M-28.7 -78.7h4M-40.7 -66.7h4M-44.7 -62.7h4M-52.7 -58.7h4M-60.7 -54.7h4"/>
<path stroke="#be254a" d="M-32.7 -74.7h4M-36.7 -70.7h4M-48.7 -62.7h4M-56.7 -58.7h4M-68.7 -54.7h8"/>
<path stroke="#b41947" d="M-36.7 -78.7h8M-44.7 -74.7h12M-48.7 -70.7h12M-56.7 -66.7h16M-60.7 -62.7h12M-64.7 -58.7h8"/>
</g>
<path class="ct" d="M12.4 10 18 9 23 6.6 27.1 3 30.1 -2 30.9 -7 29.6 -12 26.3 -16 22 -18.3 19 -19 15 -19.1 9 -17.4 4 -13.7 0.4 -8 -0.3 -5 -0.5 -1 0.2 2 1.8 5 6 8.6 9 9.7 12.4 10M9.3 26 15 24.6 20 22.6 25 19.9 30 16.4 37.1 9 40 4.4 41.8 0 42.8 -5 42.8 -9 41.9 -13 40.2 -17 37.3 -21 34 -24 30 -26.5 26 -28.1 20 -29.3 14 -29.2 8 -28 2 -25.4 -3 -22 -7.7 -17 -10.8 -12 -13.2 -6 -14.6 1 -14.8 8 -13.6 14 -11.2 19 -8 22.5 -3 25.2 3 26.4 9.3 26M-0.1 47 8 45.9 15 43.7 23 39.9 30 35.2 37 29.1 44 21.4 49.2 14 52.7 7 54.6 1 55.5 -6 54.9 -13 53 -19 49.5 -25 45 -30 40 -33.7 34 -36.8 25 -39.4 15 -39.9 5 -38.1 -4 -34.3 -12 -28.7 -19.4 -21 -25.2 -12 -30.4 -1 -34.2 10 -35.7 19 -35.1 26 -32.1 33 -26.8 39 -19 43.8 -10 46.4 -0.1 47M81 -38.9 75.3 -46 68 -52.8 60 -58.3 52 -62.2 44 -64.4 37 -65 30 -64.4 21 -62.3 12 -59.2 2 -54.6 -7 -49.6 -16 -43.8 -69.3 -2 -81 8.7M41 81 54 74 65 65.4 74.3 55 81 44.1M-81 56.4 -74.4 64 -67 70.4 -58 76.4 -49.1 81M3.2 -81 -4.2 -72 -13.4 -63 -25 -53.4 -37 -44.8 -49 -37.4 -59 -32.3 -70 -27.8 -81 -24.6M-10.4 -81 -16.8 -73 -24 -65.7 -33 -58.2 -43 -51.3 -53 -45.6 -63 -41.2 -72 -38.4 -81 -36.9M-81 -76.2 -76.8 -81M-21.2 -81 -26.6 -74 -33.7 -67 -41.4 -61 -50 -55.6 -59 -51.4 -67 -48.8 -75 -47.7 -81 -48.4M-32.6 -81 -35.3 -77 -39 -72.9 -43.4 -69 -49 -65.2 -59 -60.6 -64 -59.4 -68 -59.4 -71 -60.2 -73 -61.7 -74.1 -64 -74.2 -67 -73.4 -70 -71.3 -74 -65.4 -81"/>
</g>
<use href="#hd"/>
</g>
<text x="92.6" y="0" class="tt" transform="translate(0 258.8) scale(1 1.12) translate(0 0)">[12] Bra=0.82</text>
<g transform="translate(317.5 347.5)">
<g clip-path="url(#dc)"><g filter="url(#bl)" class="fd">
<path stroke="#6bc4a5" d="M-68.7 -54.7h4M63.3 -54.7h4M-68.7 -50.7h8M63.3 -50.7h8M-72.7 -46.7h12M63.3 -46.7h8M-76.7 -42.7h16M63.3 -42.7h12M-76.7 -38.7h12M63.3 -38.7h16M-76.7 -34.7h8M71.3 -34.7h4M-8.7 81.3h20"/>
<path stroke="#79c9a5" d="M-64.7 -58.7h4M59.3 -58.7h4M-64.7 -54.7h8M59.3 -54.7h4M-60.7 -50.7h4M55.3 -50.7h8M-60.7 -46.7h4M55.3 -46.7h8M-60.7 -42.7h4M55.3 -42.7h8M-64.7 -38.7h8M59.3 -38.7h4M-80.7 -34.7h4M-68.7 -34.7h8M59.3 -34.7h12M75.3 -34.7h4M-80.7 -30.7h16M67.3 -30.7h12M-16.7 77.3h32M-20.7 81.3h12M11.3 81.3h12M-16.7 85.3h32"/>
<path stroke="#89d0a4" d="M-60.7 -62.7h4M55.3 -62.7h4M-60.7 -58.7h8M55.3 -58.7h4M-56.7 -54.7h4M51.3 -54.7h8M-56.7 -50.7h4M51.3 -50.7h4M-56.7 -46.7h4M51.3 -46.7h4M-56.7 -42.7h4M51.3 -42.7h4M-56.7 -38.7h4M55.3 -38.7h4M-60.7 -34.7h4M55.3 -34.7h4M-64.7 -30.7h4M59.3 -30.7h8M-80.7 -26.7h16M63.3 -26.7h20M-16.7 73.3h32M-28.7 77.3h12M15.3 77.3h12M-28.7 81.3h8M23.3 81.3h8"/>
<path stroke="#97d5a4" d="M-56.7 -66.7h4M-56.7 -62.7h4M51.3 -62.7h4M-52.7 -58.7h4M51.3 -58.7h4M-52.7 -54.7h4M47.3 -54.7h4M-52.7 -50.7h4M47.3 -50.7h4M-52.7 -46.7h4M47.3 -46.7h4M-52.7 -42.7h4M47.3 -42.7h4M-52.7 -38.7h4M51.3 -38.7h4M-56.7 -34.7h4M51.3 -34.7h4M-60.7 -30.7h8M55.3 -30.7h4M-64.7 -26.7h8M59.3 -26.7h4M-84.7 -22.7h24M63.3 -22.7h20M-80.7 -18.7h8M71.3 -18.7h8M-28.7 73.3h12M15.3 73.3h12M-36.7 77.3h8M27.3 77.3h8"/>
<path stroke="#a4daa4" d="M-52.7 -66.7h4M47.3 -66.7h8M-52.7 -62.7h4M47.3 -62.7h4M-48.7 -58.7h4M47.3 -58.7h4M-48.7 -54.7h4M43.3 -54.7h4M-48.7 -50.7h4M43.3 -50.7h4M-48.7 -46.7h4M43.3 -46.7h4M-48.7 -42.7h4M47.3 -38.7h4M-52.7 -34.7h4M47.3 -34.7h4M-52.7 -30.7h4M51.3 -30.7h4M-56.7 -26.7h4M55.3 -26.7h4M-60.7 -22.7h4M55.3 -22.7h8M-84.7 -18.7h4M-72.7 -18.7h12M63.3 -18.7h8M79.3 -18.7h4M-84.7 -14.7h16M71.3 -14.7h16M-28.7 69.3h52M-40.7 73.3h12M27.3 73.3h12M-40.7 77.3h4M35.3 77.3h4"/>
<path stroke="#b3e0a2" d="M-48.7 -70.7h4M43.3 -70.7h8M-48.7 -66.7h4M43.3 -66.7h4M-48.7 -62.7h8M43.3 -62.7h4M-44.7 -58.7h4M43.3 -58.7h4M-44.7 -54.7h4M39.3 -54.7h4M-44.7 -50.7h4M39.3 -50.7h4M-44.7 -46.7h4M-44.7 -42.7h4M43.3 -42.7h4M-48.7 -38.7h4M43.3 -38.7h4M-48.7 -34.7h4M43.3 -34.7h4M47.3 -30.7h4M-52.7 -26.7h4M51.3 -26.7h4M-56.7 -22.7h4M51.3 -22.7h4M-60.7 -18.7h4M55.3 -18.7h8M-68.7 -14.7h8M59.3 -14.7h12M-84.7 -10.7h20M67.3 -10.7h20M-44.7 69.3h16M23.3 69.3h20M-44.7 73.3h4M39.3 73.3h8"/>
<path stroke="#bfe5a0" d="M-44.7 -74.7h4M39.3 -74.7h4M-44.7 -70.7h8M39.3 -70.7h4M-44.7 -66.7h8M39.3 -66.7h4M-40.7 -62.7h4M35.3 -62.7h8M-40.7 -58.7h4M35.3 -58.7h8M-40.7 -54.7h4M35.3 -54.7h4M-40.7 -50.7h4M-40.7 -46.7h4M39.3 -46.7h4M39.3 -42.7h4M-44.7 -38.7h4M39.3 -38.7h4M-44.7 -34.7h4M-48.7 -30.7h4M43.3 -30.7h4M-48.7 -26.7h4M47.3 -26.7h4M-52.7 -22.7h4M47.3 -22.7h4M-56.7 -18.7h4M51.3 -18.7h4M-60.7 -14.7h8M55.3 -14.7h4M-64.7 -10.7h8M59.3 -10.7h8M-84.7 -6.7h20M63.3 -6.7h24M-84.7 -2.7h16M67.3 -2.7h20M-84.7 1.3h8M79.3 1.3h8M-56.7 65.3h112M-52.7 69.3h8M43.3 69.3h8"/>
<path stroke="#caea9e" d="M-36.7 -78.7h4M31.3 -78.7h4M-40.7 -74.7h8M31.3 -74.7h8M-36.7 -70.7h4M31.3 -70.7h8M-36.7 -66.7h4M31.3 -66.7h8M-36.7 -62.7h4M31.3 -62.7h4M-36.7 -58.7h4M31.3 -58.7h4M-36.7 -54.7h4M31.3 -54.7h4M-36.7 -50.7h4M35.3 -50.7h4M-36.7 -46.7h4M35.3 -46.7h4M-40.7 -42.7h4M35.3 -42.7h4M-40.7 -38.7h4M35.3 -38.7h4M-40.7 -34.7h4M39.3 -34.7h4M-44.7 -30.7h4M39.3 -30.7h4M-44.7 -26.7h4M43.3 -26.7h4M-48.7 -22.7h4M43.3 -22.7h4M-52.7 -18.7h4M47.3 -18.7h4M-52.7 -14.7h4M51.3 -14.7h4M-56.7 -10.7h4M55.3 -10.7h4M-64.7 -6.7h8M55.3 -6.7h8M-68.7 -2.7h8M59.3 -2.7h8M-76.7 1.3h16M63.3 1.3h16M-84.7 5.3h20M67.3 5.3h20M-84.7 9.3h16M71.3 9.3h16M-84.7 13.3h12M71.3 13.3h16M-84.7 17.3h12M75.3 17.3h8M-84.7 21.3h12M75.3 21.3h8M-84.7 25.3h12M75.3 25.3h8M-80.7 29.3h8M75.3 29.3h8M-80.7 33.3h8M75.3 33.3h4M-76.7 37.3h8M71.3 37.3h8M-76.7 41.3h8M71.3 41.3h4M-72.7 45.3h8M67.3 45.3h8M-72.7 49.3h12M63.3 49.3h8M-68.7 53.3h12M59.3 53.3h8M-64.7 57.3h20M51.3 57.3h12M-60.7 61.3h36M35.3 61.3h28"/>
<path stroke="#d8ef9b" d="M-24.7 -82.7h16M7.3 -82.7h20M-32.7 -78.7h16M15.3 -78.7h16M-32.7 -74.7h12M19.3 -74.7h12M-32.7 -70.7h12M23.3 -70.7h8M-32.7 -66.7h8M23.3 -66.7h8M-32.7 -62.7h8M27.3 -62.7h4M-32.7 -58.7h4M27.3 -58.7h4M-32.7 -54.7h4M27.3 -54.7h4M-32.7 -50.7h4M31.3 -50.7h4M-32.7 -46.7h4M31.3 -46.7h4M-36.7 -42.7h4M31.3 -42.7h4M-36.7 -38.7h4M35.3 -34.7h4M-40.7 -30.7h4M35.3 -30.7h4M-40.7 -26.7h4M39.3 -26.7h4M-44.7 -22.7h4M-48.7 -18.7h4M43.3 -18.7h4M-48.7 -14.7h4M47.3 -14.7h4M-52.7 -10.7h4M47.3 -10.7h8M-56.7 -6.7h8M51.3 -6.7h4M-60.7 -2.7h8M55.3 -2.7h4M-60.7 1.3h8M55.3 1.3h8M-64.7 5.3h8M59.3 5.3h8M-68.7 9.3h12M59.3 9.3h12M-72.7 13.3h16M59.3 13.3h12M-72.7 17.3h16M59.3 17.3h16M-72.7 21.3h16M63.3 21.3h12M-72.7 25.3h16M63.3 25.3h12M-72.7 29.3h16M63.3 29.3h12M-72.7 33.3h16M59.3 33.3h16M-68.7 37.3h12M59.3 37.3h12M-68.7 41.3h16M59.3 41.3h12M-64.7 45.3h16M55.3 45.3h12M-60.7 49.3h16M51.3 49.3h12M-56.7 53.3h16M47.3 53.3h12M-44.7 57.3h16M35.3 57.3h16M-24.7 61.3h16M19.3 61.3h16"/>
<path stroke="#e4f498" d="M-8.7 -82.7h16M-16.7 -78.7h32M-20.7 -74.7h40M-20.7 -70.7h16M3.3 -70.7h20M-24.7 -66.7h12M11.3 -66.7h12M-24.7 -62.7h8M19.3 -62.7h8M-28.7 -58.7h8M19.3 -58.7h8M-28.7 -54.7h8M23.3 -54.7h4M-28.7 -50.7h4M23.3 -50.7h8M-28.7 -46.7h4M27.3 -46.7h4M-32.7 -42.7h4M27.3 -42.7h4M-32.7 -38.7h4M31.3 -38.7h4M-36.7 -34.7h4M31.3 -34.7h4M-36.7 -30.7h4M35.3 -26.7h4M-40.7 -22.7h4M39.3 -22.7h4M-44.7 -18.7h4M39.3 -18.7h4M-44.7 -14.7h4M43.3 -14.7h4M-48.7 -10.7h4M-48.7 -6.7h4M47.3 -6.7h4M-52.7 -2.7h4M51.3 -2.7h4M-52.7 1.3h4M51.3 1.3h4M-56.7 5.3h8M51.3 5.3h8M-56.7 9.3h8M55.3 9.3h4M-56.7 13.3h8M55.3 13.3h4M-56.7 17.3h4M55.3 17.3h4M-56.7 21.3h8M55.3 21.3h8M-56.7 25.3h8M55.3 25.3h8M-56.7 29.3h8M55.3 29.3h8M-56.7 33.3h8M55.3 33.3h4M-56.7 37.3h8M51.3 37.3h8M-52.7 41.3h8M51.3 41.3h8M-48.7 45.3h8M47.3 45.3h8M-44.7 49.3h8M43.3 49.3h8M-40.7 53.3h8M39.3 53.3h8M-28.7 57.3h8M27.3 57.3h8M-8.7 61.3h28"/>
<path stroke="#eaf79e" d="M-4.7 -70.7h8M-12.7 -66.7h24M-16.7 -62.7h36M-20.7 -58.7h12M7.3 -58.7h12M-20.7 -54.7h8M15.3 -54.7h8M-24.7 -50.7h8M19.3 -50.7h4M-24.7 -46.7h4M19.3 -46.7h8M-28.7 -42.7h4M23.3 -42.7h4M-28.7 -38.7h4M27.3 -38.7h4M-32.7 -34.7h4M27.3 -34.7h4M-32.7 -30.7h4M31.3 -30.7h4M-36.7 -26.7h4M31.3 -26.7h4M-36.7 -22.7h4M35.3 -22.7h4M-40.7 -18.7h4M-40.7 -14.7h4M39.3 -14.7h4M-44.7 -10.7h4M43.3 -10.7h4M-44.7 -6.7h4M43.3 -6.7h4M-48.7 -2.7h4M47.3 -2.7h4M-48.7 1.3h4M47.3 1.3h4M-48.7 5.3h4M47.3 5.3h4M-48.7 9.3h4M47.3 9.3h8M-48.7 13.3h4M51.3 13.3h4M-52.7 17.3h8M51.3 17.3h4M-48.7 21.3h4M51.3 21.3h4M-48.7 25.3h4M51.3 25.3h4M-48.7 29.3h4M51.3 29.3h4M-48.7 33.3h4M51.3 33.3h4M-48.7 37.3h8M47.3 37.3h4M-44.7 41.3h4M47.3 41.3h4M-40.7 45.3h4M43.3 45.3h4M-36.7 49.3h4M39.3 49.3h4M-32.7 53.3h8M31.3 53.3h8M-20.7 57.3h8M19.3 57.3h8"/>
<path stroke="#f0f9a7" d="M-8.7 -58.7h16M-12.7 -54.7h28M-16.7 -50.7h12M7.3 -50.7h12M-20.7 -46.7h8M15.3 -46.7h4M-24.7 -42.7h8M19.3 -42.7h4M-24.7 -38.7h4M19.3 -38.7h8M-28.7 -34.7h4M23.3 -34.7h4M-28.7 -30.7h4M27.3 -30.7h4M-32.7 -26.7h4M-32.7 -22.7h4M31.3 -22.7h4M-36.7 -18.7h4M35.3 -18.7h4M-36.7 -14.7h4M35.3 -14.7h4M-40.7 -10.7h4M39.3 -10.7h4M-40.7 -6.7h4M39.3 -6.7h4M-44.7 -2.7h4M43.3 -2.7h4M-44.7 1.3h4M43.3 1.3h4M-44.7 5.3h4M43.3 5.3h4M-44.7 9.3h4M-44.7 13.3h4M47.3 13.3h4M-44.7 17.3h4M47.3 17.3h4M-44.7 21.3h4M47.3 21.3h4M-44.7 25.3h4M47.3 25.3h4M-44.7 29.3h4M47.3 29.3h4M-44.7 33.3h4M47.3 33.3h4M-40.7 37.3h4M43.3 37.3h4M-40.7 41.3h4M43.3 41.3h4M-36.7 45.3h4M39.3 45.3h4M-32.7 49.3h4M35.3 49.3h4M-24.7 53.3h4M27.3 53.3h4M-12.7 57.3h8M11.3 57.3h8"/>
<path stroke="#f5fbaf" d="M-4.7 -50.7h12M-12.7 -46.7h28M-16.7 -42.7h8M7.3 -42.7h12M-20.7 -38.7h8M15.3 -38.7h4M-24.7 -34.7h8M19.3 -34.7h4M-24.7 -30.7h4M23.3 -30.7h4M-28.7 -26.7h4M27.3 -26.7h4M-28.7 -22.7h4M27.3 -22.7h4M-32.7 -18.7h4M31.3 -18.7h4M-36.7 -10.7h4M35.3 -10.7h4M-40.7 -2.7h4M39.3 -2.7h4M-40.7 1.3h4M-40.7 5.3h4M-40.7 9.3h4M43.3 9.3h4M-40.7 13.3h4M43.3 13.3h4M-40.7 17.3h4M43.3 17.3h4M-40.7 21.3h4M43.3 21.3h4M-40.7 25.3h4M43.3 25.3h4M-40.7 29.3h4M43.3 29.3h4M-40.7 33.3h4M43.3 33.3h4M-36.7 41.3h4M39.3 41.3h4M-32.7 45.3h4M35.3 45.3h4M-28.7 49.3h4M31.3 49.3h4M-20.7 53.3h4M23.3 53.3h4M-4.7 57.3h16"/>
<path stroke="#fafdb7" d="M-8.7 -42.7h16M-12.7 -38.7h28M-16.7 -34.7h4M11.3 -34.7h8M-20.7 -30.7h4M19.3 -30.7h4M-24.7 -26.7h4M23.3 -26.7h4M-28.7 -18.7h4M27.3 -18.7h4M-32.7 -14.7h4M31.3 -14.7h4M-32.7 -10.7h4M-36.7 -6.7h4M35.3 -6.7h4M-36.7 -2.7h4M-36.7 1.3h4M39.3 1.3h4M39.3 5.3h4M39.3 9.3h4M39.3 13.3h4M-36.7 33.3h4M39.3 33.3h4M-36.7 37.3h4M39.3 37.3h4M-32.7 41.3h4M35.3 41.3h4M-24.7 49.3h4M27.3 49.3h4M-16.7 53.3h4M19.3 53.3h4"/>
<path stroke="#fffebe" d="M-12.7 -34.7h24M-16.7 -30.7h8M11.3 -30.7h8M-20.7 -26.7h4M19.3 -26.7h4M-24.7 -22.7h4M23.3 -22.7h4M-24.7 -18.7h4M-28.7 -14.7h4M27.3 -14.7h4M31.3 -10.7h4M-32.7 -6.7h4M35.3 -2.7h4M35.3 1.3h4M-36.7 5.3h4M-36.7 9.3h4M-36.7 13.3h4M-36.7 17.3h4M39.3 17.3h4M-36.7 21.3h4M39.3 21.3h4M-36.7 25.3h4M39.3 25.3h4M-36.7 29.3h4M39.3 29.3h4M35.3 37.3h4M-28.7 45.3h4M31.3 45.3h4M-20.7 49.3h4M23.3 49.3h4M-12.7 53.3h8M11.3 53.3h8"/>
<path stroke="#fff8b4" d="M-8.7 -30.7h20M-16.7 -26.7h8M11.3 -26.7h8M-20.7 -22.7h4M19.3 -22.7h4M23.3 -18.7h4M-24.7 -14.7h4M-28.7 -10.7h4M27.3 -10.7h4M31.3 -6.7h4M-32.7 -2.7h4M-32.7 1.3h4M35.3 5.3h4M35.3 9.3h4M35.3 13.3h4M-32.7 33.3h4M35.3 33.3h4M-32.7 37.3h4M-28.7 41.3h4M31.3 41.3h4M-24.7 45.3h4M27.3 45.3h4M-4.7 53.3h16"/>
<path stroke="#fff2aa" d="M-8.7 -26.7h20M-16.7 -22.7h8M15.3 -22.7h4M-20.7 -18.7h4M19.3 -18.7h4M23.3 -14.7h4M-24.7 -10.7h4M-28.7 -6.7h4M-28.7 -2.7h4M31.3 -2.7h4M31.3 1.3h4M-32.7 5.3h4M-32.7 9.3h4M-32.7 13.3h4M-32.7 17.3h4M35.3 17.3h4M-32.7 21.3h4M35.3 21.3h4M-32.7 25.3h4M35.3 25.3h4M-32.7 29.3h4M35.3 29.3h4M31.3 37.3h4M-16.7 49.3h4M19.3 49.3h4"/>
<path stroke="#feeb9d" d="M-8.7 -22.7h4M7.3 -22.7h8M-16.7 -18.7h4M15.3 -18.7h4M-20.7 -14.7h4M19.3 -14.7h4M23.3 -10.7h4M27.3 -6.7h4M-28.7 1.3h4M31.3 5.3h4M31.3 33.3h4M-28.7 37.3h4M-24.7 41.3h4M27.3 41.3h4M-20.7 45.3h4M23.3 45.3h4M-12.7 49.3h4M15.3 49.3h4"/>
<path stroke="#fee593" d="M-4.7 -22.7h12M-12.7 -18.7h4M11.3 -18.7h4M-16.7 -14.7h4M-20.7 -10.7h4M-24.7 -6.7h4M27.3 -2.7h4M-28.7 5.3h4M-28.7 9.3h4M31.3 9.3h4M-28.7 13.3h4M31.3 13.3h4M31.3 17.3h4M31.3 21.3h4M31.3 25.3h4M-28.7 29.3h4M31.3 29.3h4M-28.7 33.3h4M-8.7 49.3h4M11.3 49.3h4"/>
<path stroke="#fede89" d="M-8.7 -18.7h8M3.3 -18.7h8M-12.7 -14.7h4M15.3 -14.7h4M19.3 -10.7h4M-20.7 -6.7h4M23.3 -6.7h4M-24.7 -2.7h4M-24.7 1.3h4M27.3 1.3h4M-28.7 17.3h4M-28.7 21.3h4M-28.7 25.3h4M-24.7 37.3h4M27.3 37.3h4M-20.7 41.3h4M23.3 41.3h4M-16.7 45.3h4M19.3 45.3h4M-4.7 49.3h16"/>
<path stroke="#fed27f" d="M-0.7 -18.7h4M11.3 -14.7h4M-16.7 -10.7h4M23.3 -2.7h4M-24.7 5.3h4M27.3 5.3h4M27.3 9.3h4M-24.7 33.3h4M27.3 33.3h4M-12.7 45.3h4M15.3 45.3h4"/>
<path stroke="#fec877" d="M-8.7 -14.7h8M3.3 -14.7h8M-12.7 -10.7h4M15.3 -10.7h4M-16.7 -6.7h4M19.3 -6.7h4M-20.7 -2.7h4M23.3 1.3h4M-24.7 9.3h4M-24.7 13.3h4M27.3 13.3h4M27.3 17.3h4M27.3 21.3h4M-24.7 25.3h4M27.3 25.3h4M-24.7 29.3h4M27.3 29.3h4M-20.7 37.3h4M23.3 37.3h4M-16.7 41.3h4M19.3 41.3h4M-8.7 45.3h4"/>
<path stroke="#fdbf6f" d="M-0.7 -14.7h4M11.3 -10.7h4M19.3 -2.7h4M-20.7 1.3h4M23.3 5.3h4M-24.7 17.3h4M-24.7 21.3h4M-4.7 45.3h4M11.3 45.3h4"/>
<path stroke="#fdb365" d="M-8.7 -10.7h8M7.3 -10.7h4M-12.7 -6.7h4M15.3 -6.7h4M-16.7 -2.7h4M-20.7 5.3h4M23.3 9.3h4M-20.7 33.3h4M23.3 33.3h4M-12.7 41.3h4M15.3 41.3h4M-0.7 45.3h12"/>
<path stroke="#fca85e" d="M-0.7 -10.7h8M11.3 -6.7h4M-16.7 1.3h4M19.3 1.3h4M-20.7 9.3h4M-20.7 13.3h4M23.3 13.3h4M23.3 17.3h4M23.3 21.3h4M23.3 25.3h4M-20.7 29.3h4M23.3 29.3h4M-16.7 37.3h4M19.3 37.3h4"/>
<path stroke="#fa9b58" d="M-8.7 -6.7h4M7.3 -6.7h4M-12.7 -2.7h4M15.3 -2.7h4M19.3 5.3h4M-20.7 17.3h4M-20.7 21.3h4M-20.7 25.3h4M-8.7 41.3h4M11.3 41.3h4"/>
<path stroke="#f88c51" d="M-4.7 -6.7h12M11.3 -2.7h4M15.3 1.3h4M-16.7 5.3h4M19.3 9.3h4M-16.7 33.3h4M19.3 33.3h4M-12.7 37.3h4M15.3 37.3h4M-4.7 41.3h4M7.3 41.3h4"/>
<path stroke="#f67f4b" d="M-8.7 -2.7h4M-12.7 1.3h4M-16.7 9.3h4M19.3 13.3h4M-16.7 29.3h4M19.3 29.3h4M-0.7 41.3h8"/>
<path stroke="#f57245" d="M-4.7 -2.7h4M7.3 -2.7h4M-12.7 5.3h4M15.3 5.3h4M-16.7 13.3h4M-16.7 17.3h4M19.3 17.3h4M-16.7 21.3h4M19.3 21.3h4M-16.7 25.3h4M19.3 25.3h4M-12.7 33.3h4M15.3 33.3h4M-8.7 37.3h4M11.3 37.3h4"/>
<path stroke="#ef6645" d="M-0.7 -2.7h8M-8.7 1.3h4M11.3 1.3h4M15.3 9.3h4"/>
<path stroke="#e95c47" d="M-4.7 1.3h4M7.3 1.3h4M11.3 5.3h4M-12.7 9.3h4M15.3 13.3h4M-12.7 29.3h4M15.3 29.3h4M-4.7 37.3h4M7.3 37.3h4"/>
<path stroke="#e3534a" d="M-0.7 1.3h8M-8.7 5.3h4M-12.7 13.3h4M-12.7 17.3h4M15.3 17.3h4M-12.7 21.3h4M15.3 21.3h4M-12.7 25.3h4M15.3 25.3h4M-8.7 33.3h4M11.3 33.3h4M-0.7 37.3h8"/>
<path stroke="#dc484c" d="M-4.7 5.3h4M7.3 5.3h4M-8.7 9.3h4M11.3 9.3h4M11.3 29.3h4M-4.7 33.3h4M7.3 33.3h4"/>
<path stroke="#d63f4f" d="M-0.7 5.3h8M-8.7 13.3h4M11.3 13.3h4M11.3 17.3h4M-8.7 25.3h4M11.3 25.3h4M-8.7 29.3h4M-0.7 33.3h8"/>
<path stroke="#cb334d" d="M-4.7 9.3h4M7.3 9.3h4M-8.7 17.3h4M-8.7 21.3h4M11.3 21.3h4M-4.7 29.3h4M7.3 29.3h4"/>
<path stroke="#be254a" d="M-0.7 9.3h8M-4.7 13.3h4M7.3 13.3h4M7.3 17.3h4M-4.7 25.3h4M7.3 25.3h4M-0.7 29.3h8"/>
<path stroke="#b41947" d="M-0.7 13.3h8M-4.7 17.3h12M-4.7 21.3h16M-0.7 25.3h8"/>
</g>
<path class="ct" d="M-81 -15.7 -74 -15.6 -68 -17.1 -62 -20.2 -57 -24.4 -52.5 -30 -48.8 -37 -46.8 -44 -46.2 -51 -47.1 -58 -49.2 -64 -52.4 -69 -57 -73.3 -62 -76.1 -68 -77.8 -74 -78.1 -81 -76.8M81 -76.8 74 -78.1 68 -77.8 62 -76.1 57 -73.3 52.4 -69 49.2 -64 47.1 -58 46.2 -51 46.9 -44 49 -37 52.7 -30 57 -24.6 62 -20.3 68 -17.1 74 -15.6 81 -15.7M43.2 81 42 78 39 75.3 34.5 73 30 71.6 17 69.8 -6 69.1 -22 69.8 -32.8 72 -37.5 74 -40.4 76 -42.2 78 -43.3 81M12 61 -1 61.2 -14 59.8 -25.9 57 -35.4 53 -42.4 48 -48.2 41 -51.7 33 -53.4 24 -53.5 12 -51.1 2 -47.6 -6 -33.6 -33 -22 -61.9 -18.1 -68 -14 -71.9 -9 -74.6 -3 -76 4 -75.9 10 -74.2 16 -70.3 20 -65.4 23.4 -59 34.3 -33 48.6 -8 52.6 0 55.5 8 57.1 17 57.4 27 56.2 35 53.2 42 48.3 48 41.7 53 34 56.6 24 59.4 12 61M12 54.1 4 54.8 -5 54.2 -13 52.3 -20 49.2 -25 45.9 -29.7 41 -32.5 36 -34.4 29 -35 18 -34.2 6 -32.1 -3 -28.8 -11 -23 -20.4 -16 -28.2 -9 -33.2 -2 -35.4 4 -35.4 10 -33.6 17 -29.4 23 -23.9 29 -16.6 34.2 -8 37.5 0 39.6 9 40.5 19 40.6 28 39.5 34 36.8 40 32.5 45 27 49 20 52.2 12 54.1M9 49 2 49.4 -4 48.7 -10 47 -15 44.5 -19.5 41 -22.7 37 -24.6 33 -25.9 28 -26.4 20 -25.6 10 -24.1 3 -21.3 -4 -17 -10.4 -12.1 -15 -7 -18 -1 -19.7 5 -19.8 10 -18.6 15 -16.1 20 -12.2 24 -7.7 27.5 -2 30.1 5 31.6 12 32.3 20 32.2 27 31.3 32 29.2 37 26 41.1 21 44.9 15 47.6 9 49M8 44.1 3 44.5 -2 44 -7 42.5 -11 40.4 -14 37.9 -17 34 -18.6 30 -19.5 26 -19.8 19 -19.1 12 -17.6 6 -15.4 1 -12.7 -3 -9 -6.6 -5 -9 0 -10.4 5 -10.5 9 -9.5 13 -7.6 17 -4.4 20 -0.7 22.6 4 25.3 14 25.9 20 25.8 26 25.1 30 23.5 34 20.5 38 17 40.8 13 42.8 8 44.1M7 39.1 3 39.4 -0.7 39 -4 38 -7 36.3 -11 32 -12.4 29 -13.4 25 -13.7 20 -13.3 15 -12.1 10 -10.4 6 -8 2.6 -5.2 0 -2 -1.7 1 -2.5 7 -2 10 -0.6 13 1.7 15 4 17.3 8 19.5 16 19.7 25 18 31.1 16.1 34 14 36 11 37.8 7 39.1M7 32 3 32.7 -1 31.8 -4.3 29 -6.2 25 -6.7 19 -5.3 13 -2.6 9 1 6.9 5 6.8 8 8.4 10.9 12 12.4 16 13.1 21 12.3 26 10 29.9 7 32"/>
</g>
<use href="#hd"/>
</g>
<text x="317.5" y="0" class="tt" transform="translate(0 258.8) scale(1 1.12) translate(0 0)">[13] Bra=0.99</text>
<g transform="translate(542.4 347.5)">
<g clip-path="url(#dc)"><g filter="url(#bl)" class="fd">
<path stroke="#eaf79e" d="M67.3 -30.7h12M59.3 -26.7h24M55.3 -22.7h28M51.3 -18.7h32M47.3 -14.7h40M47.3 -10.7h40M47.3 -6.7h40M51.3 -2.7h36M55.3 1.3h32M63.3 5.3h24"/>
<path stroke="#f0f9a7" d="M63.3 -50.7h8M59.3 -46.7h12M55.3 -42.7h20M51.3 -38.7h28M47.3 -34.7h32M43.3 -30.7h24M39.3 -26.7h20M39.3 -22.7h16M35.3 -18.7h16M35.3 -14.7h12M35.3 -10.7h12M35.3 -6.7h12M39.3 -2.7h12M43.3 1.3h12M47.3 5.3h16M55.3 9.3h32M67.3 13.3h20"/>
<path stroke="#f5fbaf" d="M47.3 -70.7h4M43.3 -66.7h12M43.3 -62.7h16M43.3 -58.7h20M39.3 -54.7h28M35.3 -50.7h28M35.3 -46.7h24M31.3 -42.7h24M31.3 -38.7h20M27.3 -34.7h20M27.3 -30.7h16M23.3 -26.7h16M23.3 -22.7h16M23.3 -18.7h12M23.3 -14.7h12M23.3 -10.7h12M23.3 -6.7h12M27.3 -2.7h12M31.3 1.3h12M35.3 5.3h12M39.3 9.3h16M51.3 13.3h16M63.3 17.3h20"/>
<path stroke="#fafdb7" d="M15.3 -82.7h12M15.3 -78.7h20M15.3 -74.7h28M15.3 -70.7h32M15.3 -66.7h28M15.3 -62.7h28M15.3 -58.7h28M11.3 -54.7h28M11.3 -50.7h24M11.3 -46.7h24M11.3 -42.7h20M11.3 -38.7h20M7.3 -34.7h20M7.3 -30.7h20M7.3 -26.7h16M7.3 -22.7h16M7.3 -18.7h16M7.3 -14.7h16M7.3 -10.7h16M11.3 -6.7h12M15.3 -2.7h12M19.3 1.3h12M23.3 5.3h12M31.3 9.3h8M39.3 13.3h12M47.3 17.3h16M63.3 21.3h20M79.3 25.3h4"/>
<path stroke="#fffebe" d="M-16.7 -82.7h32M-16.7 -78.7h32M-16.7 -74.7h32M-16.7 -70.7h32M-16.7 -66.7h32M-16.7 -62.7h32M-16.7 -58.7h32M-16.7 -54.7h28M-16.7 -50.7h28M-16.7 -46.7h28M-16.7 -42.7h28M-16.7 -38.7h28M-16.7 -34.7h24M-16.7 -30.7h24M-16.7 -26.7h24M-16.7 -22.7h24M-16.7 -18.7h24M-16.7 -14.7h24M-12.7 -10.7h20M-12.7 -6.7h24M-8.7 -2.7h24M-0.7 1.3h20M7.3 5.3h16M15.3 9.3h16M23.3 13.3h16M35.3 17.3h12M51.3 21.3h12M63.3 25.3h16M79.3 29.3h4"/>
<path stroke="#fff8b4" d="M-24.7 -82.7h8M-36.7 -78.7h20M-44.7 -74.7h28M-48.7 -70.7h32M-48.7 -66.7h32M-48.7 -62.7h32M-48.7 -58.7h32M-48.7 -54.7h32M-48.7 -50.7h32M-48.7 -46.7h32M-48.7 -42.7h32M-48.7 -38.7h32M-48.7 -34.7h32M-48.7 -30.7h32M-48.7 -26.7h32M-48.7 -22.7h32M-48.7 -18.7h32M-48.7 -14.7h32M-48.7 -10.7h36M-48.7 -6.7h36M-44.7 -2.7h36M-44.7 1.3h44M-36.7 5.3h44M-24.7 9.3h40M3.3 13.3h20M23.3 17.3h12M39.3 21.3h12M51.3 25.3h12M67.3 29.3h12"/>
<path stroke="#fff2aa" d="M-56.7 -66.7h8M-60.7 -62.7h12M-64.7 -58.7h16M-68.7 -54.7h20M-68.7 -50.7h20M-72.7 -46.7h24M-76.7 -42.7h28M-76.7 -38.7h28M-80.7 -34.7h32M-80.7 -30.7h32M-80.7 -26.7h32M-84.7 -22.7h36M-84.7 -18.7h36M-84.7 -14.7h36M-84.7 -10.7h36M-84.7 -6.7h36M-84.7 -2.7h40M-84.7 1.3h40M-80.7 5.3h44M-80.7 9.3h56M-80.7 13.3h84M-76.7 17.3h100M-72.7 21.3h40M23.3 21.3h16M39.3 25.3h12M55.3 29.3h12M67.3 33.3h12"/>
<path stroke="#feeb9d" d="M-84.7 5.3h4M-84.7 9.3h4M-84.7 13.3h4M-84.7 17.3h8M-84.7 21.3h12M-32.7 21.3h56M-84.7 25.3h68M27.3 25.3h12M-80.7 29.3h48M47.3 29.3h8M-80.7 33.3h36M59.3 33.3h8M-76.7 37.3h20M71.3 37.3h8M-76.7 41.3h12"/>
<path stroke="#fee593" d="M-16.7 25.3h44M-32.7 29.3h20M35.3 29.3h12M-44.7 33.3h16M51.3 33.3h8M-56.7 37.3h20M63.3 37.3h8M-64.7 41.3h20M71.3 41.3h4M-72.7 45.3h20M-72.7 49.3h12M-68.7 53.3h4"/>
<path stroke="#fede89" d="M-12.7 29.3h48M-28.7 33.3h16M43.3 33.3h8M-36.7 37.3h12M55.3 37.3h8M-44.7 41.3h8M67.3 41.3h4M-52.7 45.3h8M-60.7 49.3h12M-64.7 53.3h8M-64.7 57.3h4"/>
<path stroke="#fed27f" d="M-12.7 33.3h16M27.3 33.3h16M-24.7 37.3h12M47.3 37.3h8M-36.7 41.3h12M59.3 41.3h8M-44.7 45.3h12M67.3 45.3h8M-48.7 49.3h8M-56.7 53.3h8M-60.7 57.3h8M-60.7 61.3h4"/>
<path stroke="#fec877" d="M3.3 33.3h24M-12.7 37.3h8M39.3 37.3h8M-24.7 41.3h8M55.3 41.3h4M-32.7 45.3h8M63.3 45.3h4M-40.7 49.3h8M-48.7 53.3h8M-52.7 57.3h8M-56.7 61.3h8M-56.7 65.3h4"/>
<path stroke="#fdbf6f" d="M-4.7 37.3h44M-16.7 41.3h8M47.3 41.3h8M-24.7 45.3h4M59.3 45.3h4M-32.7 49.3h4M67.3 49.3h4M-40.7 53.3h8M-44.7 57.3h4M-48.7 61.3h4M-52.7 65.3h4"/>
<path stroke="#fdb365" d="M-8.7 41.3h12M35.3 41.3h12M-20.7 45.3h8M51.3 45.3h8M-28.7 49.3h8M59.3 49.3h8M-32.7 53.3h4M-40.7 57.3h8M-44.7 61.3h4M-48.7 65.3h4M-52.7 69.3h8"/>
<path stroke="#fca85e" d="M3.3 41.3h32M-12.7 45.3h8M47.3 45.3h4M-20.7 49.3h4M55.3 49.3h4M-28.7 53.3h4M63.3 53.3h4M-32.7 57.3h4M-40.7 61.3h8M-44.7 65.3h8M-44.7 69.3h4"/>
<path stroke="#fa9b58" d="M-4.7 45.3h12M35.3 45.3h12M-16.7 49.3h8M51.3 49.3h4M-24.7 53.3h8M59.3 53.3h4M-28.7 57.3h4M-32.7 61.3h4M-36.7 65.3h4M-40.7 69.3h4M-44.7 73.3h4"/>
<path stroke="#f88c51" d="M7.3 45.3h28M-8.7 49.3h8M43.3 49.3h8M-16.7 53.3h4M55.3 53.3h4M-24.7 57.3h4M59.3 57.3h4M-28.7 61.3h4M-32.7 65.3h4M-36.7 69.3h4M-40.7 73.3h4M-40.7 77.3h4"/>
<path stroke="#f67f4b" d="M-0.7 49.3h8M35.3 49.3h8M-12.7 53.3h4M47.3 53.3h8M-20.7 57.3h4M55.3 57.3h4M-24.7 61.3h4M59.3 61.3h4M-28.7 65.3h4M-32.7 69.3h4M-36.7 73.3h4"/>
<path stroke="#f57245" d="M7.3 49.3h28M-8.7 53.3h8M43.3 53.3h4M-16.7 57.3h8M51.3 57.3h4M-20.7 61.3h4M55.3 61.3h4M-24.7 65.3h4M-28.7 69.3h4M-32.7 73.3h4M-36.7 77.3h4"/>
<path stroke="#ef6645" d="M-0.7 53.3h8M35.3 53.3h8M-8.7 57.3h4M47.3 57.3h4M-16.7 61.3h4M-20.7 65.3h4M-24.7 69.3h4M-28.7 73.3h4M-32.7 77.3h4"/>
<path stroke="#e95c47" d="M7.3 53.3h28M-4.7 57.3h4M43.3 57.3h4M-12.7 61.3h4M51.3 61.3h4M-16.7 65.3h4M-24.7 73.3h4M-28.7 77.3h4M-28.7 81.3h4"/>
<path stroke="#e3534a" d="M-0.7 57.3h8M35.3 57.3h8M-8.7 61.3h4M43.3 61.3h8M-12.7 65.3h4M51.3 65.3h4M-20.7 69.3h4M-24.7 77.3h4M-24.7 81.3h4"/>
<path stroke="#dc484c" d="M7.3 57.3h28M-4.7 61.3h8M39.3 61.3h4M-8.7 65.3h4M47.3 65.3h4M-16.7 69.3h4M-20.7 73.3h4M-20.7 77.3h4"/>
<path stroke="#d63f4f" d="M3.3 61.3h8M31.3 61.3h8M-4.7 65.3h4M39.3 65.3h8M-12.7 69.3h4M47.3 69.3h4M-16.7 73.3h4M-16.7 77.3h4M-20.7 81.3h4"/>
<path stroke="#cb334d" d="M11.3 61.3h20M-0.7 65.3h8M35.3 65.3h4M-8.7 69.3h8M43.3 69.3h4M-12.7 73.3h4M43.3 73.3h4M-12.7 77.3h4M-16.7 81.3h4M-16.7 85.3h4"/>
<path stroke="#be254a" d="M7.3 65.3h8M23.3 65.3h12M-0.7 69.3h4M35.3 69.3h8M-8.7 73.3h8M39.3 73.3h4M-8.7 77.3h4M-12.7 81.3h4M-12.7 85.3h4"/>
<path stroke="#b41947" d="M15.3 65.3h8M3.3 69.3h32M-0.7 73.3h40M-4.7 77.3h44M-8.7 81.3h40M-8.7 85.3h24"/>
</g>
<path class="ct" d="M81 -26.6 75 -26.9 70 -26.4 65 -25 61 -23.1 57 -20.1 54.5 -17 53 -14 52.4 -10 52.9 -7 54.4 -4 57.4 -1 61 1.2 65.9 3 71 3.9 81 3.6M-0.2 -81 -0.8 -62 -3.1 -34 -3.4 -25 -2.9 -19 -1.9 -14 -0.3 -10 2 -6 6.5 -1 11.6 3 20.2 8 28.7 12 47.9 19 81 28.4M-81 54.9 -62 43.3 -42 34.3 -31 30.6 -21 27.9 -11 26 -1 24.8 9 24.6 19 25.2 41 28.9 54 32.2 65 35.8 74 39.5 81 43.5M-61.5 81 -58.2 73 -53.5 66 -47 59 -39 52.7 -29.6 47 -19 42.2 -8 38.6 3 36.4 14 35.4 26 35.7 39 37.5 51 40.5 61 44.2 69.8 49 76 54 81 60.4M-44.3 81 -41.5 74 -36.6 67 -29.2 60 -21 54.4 -11 49.6 -1 46.3 10 44.2 21 43.5 33 44.4 44 46.7 54 50.4 61.9 55 68 60.7 71.8 67 73.5 74 72.9 81M-30.7 81 -28.2 75 -24 69.1 -18.5 64 -12 59.7 -4.4 56 4 53.3 13 51.5 22 51 31 51.6 39 53.3 47 56.2 53.4 60 58.5 65 61.4 70 62.5 75 62.1 81M-17.6 81 -16.1 77 -13 72.6 -9 68.7 -4 65.3 2 62.4 8 60.5 15 59.1 21 58.7 28 59.2 34 60.4 39 62.2 44 65.1 47.2 68 49.9 72 51 76 50.8 81M-2 81 0.8 76 6 72 13 69.3 20 68.5 27 69.4 32.5 72 35.8 76 36.4 78 36.3 81"/>
</g>
<use href="#hd"/>
</g>
<text x="542.4" y="0" class="tt" transform="translate(0 258.8) scale(1 1.12) translate(0 0)">[14] Bra=0.94</text>
<g transform="translate(767.3 347.5)">
<g clip-path="url(#dc)"><g filter="url(#bl)" class="fd">
<path stroke="#4d65ad" d="M23.3 9.3h4M23.3 13.3h4"/>
<path stroke="#4273b3" d="M23.3 5.3h8M19.3 9.3h4M27.3 9.3h4M19.3 13.3h4M27.3 13.3h4M19.3 17.3h8"/>
<path stroke="#3a7eb8" d="M27.3 17.3h4M19.3 21.3h8"/>
<path stroke="#3389bd" d="M23.3 1.3h8M19.3 5.3h4M31.3 5.3h4M31.3 9.3h4M15.3 13.3h4M15.3 17.3h4M15.3 21.3h4M19.3 25.3h4"/>
<path stroke="#3f97b7" d="M31.3 1.3h4M15.3 9.3h4M31.3 13.3h4M27.3 21.3h4M15.3 25.3h4M23.3 25.3h4"/>
<path stroke="#49a2b2" d="M27.3 -2.7h4M19.3 1.3h4M31.3 17.3h4"/>
<path stroke="#54aead" d="M23.3 -2.7h4M31.3 -2.7h4M15.3 5.3h4M11.3 17.3h4M11.3 21.3h4M15.3 29.3h8"/>
<path stroke="#60bba8" d="M35.3 1.3h4M35.3 5.3h4M35.3 9.3h4M11.3 13.3h4M31.3 21.3h4M11.3 25.3h4M27.3 25.3h4M23.3 29.3h4"/>
<path stroke="#6bc4a5" d="M27.3 -6.7h4M19.3 -2.7h4M15.3 1.3h4M11.3 9.3h4M35.3 13.3h4M11.3 29.3h4M15.3 33.3h8"/>
<path stroke="#79c9a5" d="M23.3 -6.7h4M31.3 -6.7h4M35.3 -2.7h4M35.3 17.3h4M11.3 33.3h4"/>
<path stroke="#89d0a4" d="M19.3 -6.7h4M15.3 -2.7h4M11.3 5.3h4M7.3 21.3h4M7.3 25.3h4M31.3 25.3h4M27.3 29.3h4M23.3 33.3h4M11.3 37.3h8"/>
<path stroke="#97d5a4" d="M27.3 -10.7h4M35.3 -6.7h4M39.3 1.3h4M39.3 5.3h4M39.3 9.3h4M7.3 13.3h4M7.3 17.3h4M35.3 21.3h4M7.3 29.3h4M7.3 33.3h4M19.3 37.3h4"/>
<path stroke="#a4daa4" d="M23.3 -10.7h4M31.3 -10.7h4M39.3 -2.7h4M11.3 1.3h4M7.3 9.3h4M39.3 13.3h4M7.3 37.3h4M11.3 41.3h8"/>
<path stroke="#b3e0a2" d="M19.3 -10.7h4M35.3 -10.7h4M15.3 -6.7h4M39.3 -6.7h4M31.3 29.3h4M27.3 33.3h4M23.3 37.3h4M7.3 41.3h4M19.3 41.3h4M11.3 45.3h4"/>
<path stroke="#bfe5a0" d="M27.3 -14.7h4M11.3 -2.7h4M7.3 5.3h4M39.3 17.3h4M3.3 25.3h4M35.3 25.3h4M3.3 29.3h4M7.3 45.3h4M15.3 45.3h4"/>
<path stroke="#caea9e" d="M23.3 -14.7h4M31.3 -14.7h4M15.3 -10.7h4M39.3 -10.7h4M7.3 1.3h4M43.3 1.3h4M43.3 5.3h4M43.3 9.3h4M3.3 17.3h4M3.3 21.3h4M3.3 33.3h4M3.3 37.3h4M27.3 37.3h4M23.3 41.3h4M19.3 45.3h4M7.3 49.3h8"/>
<path stroke="#d8ef9b" d="M19.3 -14.7h4M35.3 -14.7h4M11.3 -6.7h4M43.3 -6.7h4M43.3 -2.7h4M3.3 13.3h4M43.3 13.3h4M39.3 21.3h4M35.3 29.3h4M31.3 33.3h4M3.3 41.3h4M3.3 45.3h4M15.3 49.3h4M11.3 53.3h4"/>
<path stroke="#e4f498" d="M23.3 -18.7h12M15.3 -14.7h4M39.3 -14.7h4M11.3 -10.7h4M7.3 -2.7h4M3.3 5.3h4M3.3 9.3h4M3.3 49.3h4M19.3 49.3h4M7.3 53.3h4M15.3 53.3h4"/>
<path stroke="#eaf79e" d="M19.3 -18.7h4M35.3 -18.7h4M43.3 -10.7h4M7.3 -6.7h4M3.3 1.3h4M43.3 17.3h4M-0.7 25.3h4M39.3 25.3h4M-0.7 29.3h4M-0.7 33.3h4M-0.7 37.3h4M31.3 37.3h4M27.3 41.3h4M23.3 45.3h4M3.3 53.3h4M7.3 57.3h8"/>
<path stroke="#f0f9a7" d="M27.3 -22.7h4M15.3 -18.7h4M39.3 -18.7h4M11.3 -14.7h4M43.3 -14.7h4M7.3 -10.7h4M3.3 -2.7h4M47.3 -2.7h4M47.3 1.3h4M47.3 5.3h4M47.3 9.3h4M-0.7 13.3h4M-0.7 17.3h4M-0.7 21.3h4M43.3 21.3h4M35.3 33.3h4M-0.7 41.3h4M-0.7 45.3h4M-0.7 49.3h4M19.3 53.3h4M3.3 57.3h4M15.3 57.3h4M3.3 61.3h12"/>
<path stroke="#f5fbaf" d="M19.3 -22.7h8M31.3 -22.7h8M11.3 -18.7h4M7.3 -14.7h4M47.3 -10.7h4M3.3 -6.7h4M47.3 -6.7h4M-0.7 5.3h4M-0.7 9.3h4M47.3 13.3h4M39.3 29.3h4M31.3 41.3h4M27.3 45.3h4M23.3 49.3h4M-0.7 53.3h4M-0.7 57.3h4M15.3 61.3h4M3.3 65.3h12"/>
<path stroke="#fafdb7" d="M15.3 -22.7h4M39.3 -22.7h4M7.3 -18.7h4M43.3 -18.7h4M47.3 -14.7h4M3.3 -10.7h4M-0.7 -2.7h4M-0.7 1.3h4M47.3 17.3h4M43.3 25.3h4M35.3 37.3h4M23.3 53.3h4M19.3 57.3h4M-0.7 61.3h4M-0.7 65.3h4M15.3 65.3h4M3.3 69.3h12"/>
<path stroke="#fffebe" d="M15.3 -26.7h24M7.3 -22.7h8M43.3 -22.7h4M3.3 -18.7h4M-0.7 -14.7h8M-0.7 -10.7h4M-0.7 -6.7h4M51.3 -6.7h4M51.3 -2.7h4M51.3 1.3h4M51.3 5.3h4M51.3 9.3h4M-4.7 13.3h4M-4.7 17.3h4M-4.7 21.3h4M47.3 21.3h4M-4.7 25.3h4M-4.7 29.3h4M43.3 29.3h4M-4.7 33.3h4M39.3 33.3h4M-4.7 37.3h4M-4.7 41.3h4M-4.7 45.3h4M31.3 45.3h4M-4.7 49.3h4M27.3 49.3h4M-4.7 53.3h4M-4.7 57.3h4M19.3 61.3h4M-0.7 69.3h4M3.3 73.3h12"/>
<path stroke="#fff8b4" d="M-12.7 -30.7h48M-16.7 -26.7h32M39.3 -26.7h4M-16.7 -22.7h24M-16.7 -18.7h20M47.3 -18.7h4M-12.7 -14.7h12M51.3 -14.7h4M-8.7 -10.7h8M51.3 -10.7h4M-4.7 -6.7h4M-4.7 -2.7h4M-4.7 1.3h4M-4.7 5.3h4M-4.7 9.3h4M51.3 13.3h4M47.3 25.3h4M39.3 37.3h4M35.3 41.3h4M27.3 53.3h4M23.3 57.3h4M-4.7 61.3h4M-4.7 65.3h4M19.3 65.3h4M15.3 69.3h4M-0.7 73.3h4M15.3 73.3h4M-0.7 77.3h16"/>
<path stroke="#fff2aa" d="M-12.7 -42.7h12M-20.7 -38.7h32M-24.7 -34.7h56M-24.7 -30.7h12M35.3 -30.7h8M-24.7 -26.7h8M43.3 -26.7h4M-24.7 -22.7h8M47.3 -22.7h4M-24.7 -18.7h8M51.3 -18.7h4M-24.7 -14.7h12M-20.7 -10.7h12M-16.7 -6.7h12M55.3 -6.7h4M-12.7 -2.7h8M55.3 -2.7h4M-8.7 1.3h4M55.3 1.3h4M-8.7 5.3h4M55.3 5.3h4M-8.7 9.3h4M-8.7 13.3h4M-8.7 17.3h4M51.3 17.3h4M-8.7 21.3h4M-8.7 25.3h4M-8.7 29.3h4M47.3 29.3h4M-8.7 33.3h4M43.3 33.3h4M-8.7 37.3h4M-8.7 41.3h4M39.3 41.3h4M-8.7 45.3h4M35.3 45.3h4M-8.7 49.3h4M31.3 49.3h4M27.3 57.3h4M23.3 61.3h4M-4.7 69.3h4M19.3 69.3h4M-4.7 73.3h4M15.3 77.3h4M-0.7 81.3h16M3.3 85.3h8"/>
<path stroke="#feeb9d" d="M-16.7 -50.7h16M-24.7 -46.7h36M-28.7 -42.7h16M-0.7 -42.7h20M-32.7 -38.7h12M11.3 -38.7h24M-32.7 -34.7h8M31.3 -34.7h12M-32.7 -30.7h8M43.3 -30.7h8M-32.7 -26.7h8M47.3 -26.7h4M-32.7 -22.7h8M51.3 -22.7h4M-32.7 -18.7h8M55.3 -18.7h4M-32.7 -14.7h8M55.3 -14.7h4M-28.7 -10.7h8M55.3 -10.7h4M-24.7 -6.7h8M-20.7 -2.7h8M-16.7 1.3h8M-12.7 5.3h4M-12.7 9.3h4M55.3 9.3h4M55.3 13.3h4M51.3 21.3h4M51.3 25.3h4M47.3 33.3h4M43.3 37.3h4M35.3 49.3h4M-8.7 53.3h4M31.3 53.3h4M-8.7 57.3h4M-8.7 61.3h4M27.3 61.3h4M-8.7 65.3h4M23.3 65.3h4M-8.7 69.3h4M23.3 69.3h4M19.3 73.3h4M-4.7 77.3h4M19.3 77.3h4M-4.7 81.3h4M15.3 81.3h4M-4.7 85.3h8M11.3 85.3h4"/>
<path stroke="#fee593" d="M-20.7 -58.7h28M-28.7 -54.7h44M-32.7 -50.7h16M-0.7 -50.7h24M-36.7 -46.7h12M11.3 -46.7h20M-40.7 -42.7h12M19.3 -42.7h20M-40.7 -38.7h8M35.3 -38.7h12M-40.7 -34.7h8M43.3 -34.7h8M-44.7 -30.7h12M51.3 -30.7h4M-40.7 -26.7h8M51.3 -26.7h8M-40.7 -22.7h8M55.3 -22.7h4M-40.7 -18.7h8M59.3 -18.7h4M-40.7 -14.7h8M59.3 -14.7h4M-36.7 -10.7h8M59.3 -10.7h4M-32.7 -6.7h8M59.3 -6.7h4M-32.7 -2.7h12M59.3 -2.7h4M-28.7 1.3h12M59.3 1.3h4M-20.7 5.3h8M59.3 5.3h4M-16.7 9.3h4M59.3 9.3h4M-16.7 13.3h8M59.3 13.3h4M-12.7 17.3h4M55.3 17.3h4M-12.7 21.3h4M55.3 21.3h4M-12.7 25.3h4M55.3 25.3h4M-12.7 29.3h4M51.3 29.3h4M-12.7 33.3h4M51.3 33.3h4M-12.7 37.3h4M47.3 37.3h4M-12.7 41.3h4M43.3 41.3h4M-12.7 45.3h4M39.3 45.3h8M39.3 49.3h4M35.3 53.3h4M31.3 57.3h4M31.3 61.3h4M27.3 65.3h4M27.3 69.3h4M-8.7 73.3h4M23.3 73.3h4M-8.7 77.3h4M23.3 77.3h4M-8.7 81.3h4M19.3 81.3h4"/>
<path stroke="#fede89" d="M-16.7 -74.7h20M-28.7 -70.7h44M-36.7 -66.7h60M-40.7 -62.7h68M-44.7 -58.7h24M7.3 -58.7h28M-48.7 -54.7h20M15.3 -54.7h24M-52.7 -50.7h20M23.3 -50.7h24M-52.7 -46.7h16M31.3 -46.7h20M-52.7 -42.7h12M39.3 -42.7h16M-52.7 -38.7h12M47.3 -38.7h12M-52.7 -34.7h12M51.3 -34.7h12M-52.7 -30.7h8M55.3 -30.7h8M-52.7 -26.7h12M59.3 -26.7h8M-48.7 -22.7h8M59.3 -22.7h8M-48.7 -18.7h8M63.3 -18.7h4M-44.7 -14.7h4M63.3 -14.7h8M-44.7 -10.7h8M63.3 -10.7h8M-40.7 -6.7h8M63.3 -6.7h8M-36.7 -2.7h4M63.3 -2.7h8M-36.7 1.3h8M63.3 1.3h8M-32.7 5.3h12M63.3 5.3h4M-28.7 9.3h12M63.3 9.3h4M-24.7 13.3h8M63.3 13.3h4M-20.7 17.3h8M59.3 17.3h8M-16.7 21.3h4M59.3 21.3h4M-16.7 25.3h4M59.3 25.3h4M-16.7 29.3h4M55.3 29.3h8M55.3 33.3h4M51.3 37.3h8M47.3 41.3h8M47.3 45.3h4M-12.7 49.3h4M43.3 49.3h8M-12.7 53.3h4M39.3 53.3h8M-12.7 57.3h4M35.3 57.3h8M-12.7 61.3h4M35.3 61.3h8M-12.7 65.3h4M31.3 65.3h8M-12.7 69.3h4M31.3 69.3h4M-12.7 73.3h4M27.3 73.3h8M-12.7 77.3h4M27.3 77.3h8M23.3 81.3h8M-8.7 85.3h4"/>
<path stroke="#fed27f" d="M-24.7 -82.7h52M-36.7 -78.7h72M-44.7 -74.7h28M3.3 -74.7h40M-48.7 -70.7h20M15.3 -70.7h36M-56.7 -66.7h20M23.3 -66.7h32M-60.7 -62.7h20M27.3 -62.7h32M-64.7 -58.7h20M35.3 -58.7h28M-68.7 -54.7h20M39.3 -54.7h28M-68.7 -50.7h16M47.3 -50.7h24M-72.7 -46.7h20M51.3 -46.7h20M-76.7 -42.7h24M55.3 -42.7h20M-76.7 -38.7h24M59.3 -38.7h20M-72.7 -34.7h20M63.3 -34.7h16M-68.7 -30.7h16M63.3 -30.7h16M-64.7 -26.7h12M67.3 -26.7h16M-60.7 -22.7h12M67.3 -22.7h16M-56.7 -18.7h8M67.3 -18.7h16M-52.7 -14.7h8M71.3 -14.7h16M-52.7 -10.7h8M71.3 -10.7h16M-48.7 -6.7h8M71.3 -6.7h16M-44.7 -2.7h8M71.3 -2.7h16M-40.7 1.3h4M71.3 1.3h16M-36.7 5.3h4M67.3 5.3h20M-32.7 9.3h4M67.3 9.3h20M-28.7 13.3h4M67.3 13.3h20M-28.7 17.3h8M67.3 17.3h16M-24.7 21.3h8M63.3 21.3h20M-20.7 25.3h4M63.3 25.3h20M-20.7 29.3h4M63.3 29.3h20M-16.7 33.3h4M59.3 33.3h20M-16.7 37.3h4M59.3 37.3h20M-16.7 41.3h4M55.3 41.3h20M-16.7 45.3h4M51.3 45.3h24M-16.7 49.3h4M51.3 49.3h20M-16.7 53.3h4M47.3 53.3h20M-16.7 57.3h4M43.3 57.3h20M-16.7 61.3h4M43.3 61.3h20M39.3 65.3h16M35.3 69.3h16M35.3 73.3h12M35.3 77.3h4M-12.7 81.3h4M-12.7 85.3h4"/>
<path stroke="#fec877" d="M-80.7 -34.7h8M-80.7 -30.7h12M-80.7 -26.7h16M-76.7 -22.7h16M-68.7 -18.7h12M-64.7 -14.7h12M-60.7 -10.7h8M-52.7 -6.7h4M-52.7 -2.7h8M-48.7 1.3h8M-44.7 5.3h8M-40.7 9.3h8M-36.7 13.3h8M-32.7 17.3h4M-28.7 21.3h4M-28.7 25.3h8M-24.7 29.3h4M-24.7 33.3h8M-20.7 37.3h4M-20.7 41.3h4M-20.7 45.3h4M-20.7 49.3h4M-16.7 65.3h4M-16.7 69.3h4M-16.7 73.3h4M-16.7 77.3h4M-16.7 81.3h4M-16.7 85.3h4"/>
<path stroke="#fdbf6f" d="M-84.7 -22.7h8M-84.7 -18.7h16M-72.7 -14.7h8M-68.7 -10.7h8M-60.7 -6.7h8M-56.7 -2.7h4M-52.7 1.3h4M-48.7 5.3h4M-44.7 9.3h4M-40.7 13.3h4M-36.7 17.3h4M-36.7 21.3h8M-32.7 25.3h4M-28.7 29.3h4M-28.7 33.3h4M-24.7 37.3h4M-24.7 41.3h4M-24.7 45.3h4M-20.7 53.3h4M-20.7 57.3h4M-20.7 61.3h4M-20.7 65.3h4M-20.7 69.3h4M-20.7 73.3h4M-20.7 77.3h4M-20.7 81.3h4"/>
<path stroke="#fdb365" d="M-84.7 -14.7h12M-76.7 -10.7h8M-68.7 -6.7h8M-64.7 -2.7h8M-56.7 1.3h4M-52.7 5.3h4M-48.7 9.3h4M-44.7 13.3h4M-40.7 17.3h4M-40.7 21.3h4M-36.7 25.3h4M-32.7 29.3h4M-32.7 33.3h4M-28.7 37.3h4M-28.7 41.3h4M-28.7 45.3h4M-24.7 49.3h4M-24.7 53.3h4M-24.7 57.3h4M-24.7 61.3h4M-24.7 65.3h4M-24.7 69.3h4M-24.7 73.3h4M-24.7 77.3h4M-24.7 81.3h4"/>
<path stroke="#fca85e" d="M-84.7 -10.7h8M-80.7 -6.7h12M-68.7 -2.7h4M-64.7 1.3h8M-56.7 5.3h4M-52.7 9.3h4M-48.7 13.3h4M-44.7 17.3h4M-44.7 21.3h4M-40.7 25.3h4M-36.7 29.3h4M-36.7 33.3h4M-32.7 37.3h4M-32.7 41.3h4M-28.7 49.3h4M-28.7 53.3h4M-28.7 57.3h4M-28.7 61.3h4M-28.7 65.3h4M-28.7 69.3h4M-28.7 73.3h4M-28.7 77.3h4M-28.7 81.3h4"/>
<path stroke="#fa9b58" d="M-84.7 -6.7h4M-80.7 -2.7h12M-68.7 1.3h4M-64.7 5.3h8M-56.7 9.3h4M-52.7 13.3h4M-48.7 17.3h4M-48.7 21.3h4M-44.7 25.3h4M-40.7 29.3h4M-40.7 33.3h4M-36.7 37.3h4M-36.7 41.3h4M-32.7 45.3h4M-32.7 49.3h4M-32.7 53.3h4M-32.7 57.3h4M-32.7 77.3h4"/>
<path stroke="#f88c51" d="M-84.7 -2.7h4M-80.7 1.3h12M-68.7 5.3h4M-60.7 9.3h4M-56.7 13.3h4M-52.7 17.3h4M-48.7 25.3h4M-44.7 29.3h4M-40.7 37.3h4M-36.7 45.3h4M-36.7 49.3h4M-32.7 61.3h4M-32.7 65.3h4M-32.7 69.3h4M-32.7 73.3h4M-36.7 77.3h4"/>
<path stroke="#f67f4b" d="M-84.7 1.3h4M-76.7 5.3h8M-68.7 9.3h8M-60.7 13.3h4M-56.7 17.3h4M-52.7 21.3h4M-48.7 29.3h4M-44.7 33.3h4M-40.7 41.3h4M-40.7 45.3h4M-36.7 53.3h4M-36.7 57.3h4M-36.7 61.3h4M-36.7 65.3h4M-36.7 69.3h4M-36.7 73.3h4"/>
<path stroke="#f57245" d="M-84.7 5.3h8M-72.7 9.3h4M-64.7 13.3h4M-60.7 17.3h4M-56.7 21.3h4M-52.7 25.3h4M-48.7 33.3h4M-44.7 37.3h4M-44.7 41.3h4M-40.7 49.3h4M-40.7 53.3h4M-40.7 57.3h4M-40.7 65.3h4M-40.7 69.3h4M-40.7 73.3h4M-40.7 77.3h4"/>
<path stroke="#ef6645" d="M-84.7 9.3h12M-72.7 13.3h8M-64.7 17.3h4M-60.7 21.3h4M-56.7 25.3h4M-52.7 29.3h4M-48.7 37.3h4M-44.7 45.3h4M-44.7 49.3h4M-40.7 61.3h4M-44.7 73.3h4"/>
<path stroke="#e95c47" d="M-84.7 13.3h12M-68.7 17.3h4M-64.7 21.3h4M-60.7 25.3h4M-56.7 29.3h4M-52.7 33.3h4M-48.7 41.3h4M-44.7 53.3h4M-44.7 57.3h4M-44.7 61.3h4M-44.7 65.3h4M-44.7 69.3h4"/>
<path stroke="#e3534a" d="M-76.7 17.3h8M-68.7 21.3h4M-56.7 33.3h4M-52.7 37.3h4M-48.7 45.3h4M-48.7 49.3h4M-48.7 53.3h4M-48.7 65.3h4M-48.7 69.3h4"/>
<path stroke="#dc484c" d="M-84.7 17.3h8M-72.7 21.3h4M-64.7 25.3h4M-60.7 29.3h4M-56.7 37.3h4M-52.7 41.3h4M-52.7 45.3h4M-48.7 57.3h4M-48.7 61.3h4M-52.7 69.3h4"/>
<path stroke="#d63f4f" d="M-84.7 21.3h12M-72.7 25.3h8M-64.7 29.3h4M-60.7 33.3h4M-56.7 41.3h4M-52.7 49.3h4M-52.7 53.3h4M-52.7 57.3h4M-52.7 61.3h4M-52.7 65.3h4"/>
<path stroke="#cb334d" d="M-84.7 25.3h12M-68.7 29.3h4M-64.7 33.3h4M-60.7 37.3h4M-56.7 45.3h4M-56.7 49.3h4M-56.7 61.3h4M-56.7 65.3h4"/>
<path stroke="#be254a" d="M-80.7 29.3h12M-68.7 33.3h4M-64.7 37.3h4M-60.7 41.3h4M-60.7 45.3h4M-56.7 53.3h4M-56.7 57.3h4M-60.7 61.3h4"/>
<path stroke="#b41947" d="M-80.7 33.3h12M-76.7 37.3h12M-76.7 41.3h16M-72.7 45.3h12M-72.7 49.3h16M-68.7 53.3h12M-64.7 57.3h8"/>
</g>
<path class="ct" d="M21.2 26 24 25.2 28 22.1 31 18.3 33.2 14 34.3 9 34 5 32.6 2 30 0 26 0.1 22.7 2 19.3 6 17.1 11 16 17 16.5 22 18.2 25 21.2 26M19.1 37 25 33.5 31.7 27 36.5 20 39.4 13 40.5 6 39.6 -1 36.5 -6 32 -8.6 29 -8.9 26 -8.3 23 -7 20 -4.8 15 1.5 11.4 10 9.6 21 9.7 26 10.5 31 12 34.6 14 36.8 16 37.5 19.1 37M15.2 51 23 44.6 35.5 31 41.3 22 44.9 13 46.3 3 45.9 -2 44.9 -6 43 -9.9 40.5 -13 37 -15.5 34 -16.6 30 -17 26 -16.5 22 -15 17.5 -12 14 -8.4 11 -4 8.6 1 6.5 7 4.8 15 3.8 24 3.8 33 4.8 41 6.5 47 9 50.9 12 52 15.2 51M9.1 74 13 71.9 17 67.7 28.4 51 42.3 33 48.1 23 51.8 13 53.1 6 53.4 -1 52.8 -7 51.1 -13 48.5 -18 45 -22 41 -24.9 36 -26.9 31 -27.8 25 -27.6 19 -26.3 13.2 -24 8.5 -21 5.5 -18 3 -14 1.3 -9 -1.2 5 -2.8 21 -3.3 37 -2.6 51 -1 61.7 1.5 69 3 71.5 5 73.3 7 74.1 9.1 74M-81 -58.1 -76 -53.9 -71 -47.7 -55.7 -22 -46.1 -8 -37.1 3 -23.3 18 -19.3 24 -17 30.5 -15.3 40 -12.3 81M-81 -0.4 -75 1.2 -70 3.4 -60 10.1 -50 20 -41.5 32 -35.9 44 -32.6 57 -32.1 64 -32.3 70 -33.3 76 -34.8 81M-81 18.7 -75 19.7 -69 22.4 -63 26.8 -58.2 32 -54.1 38 -50.8 45 -48.8 52 -48.2 59 -48.9 65 -51 70.4 -54 74.2 -59 77.2 -64 78.1 -70 77.3 -76 74.7 -81 71.2"/>
</g>
<use href="#hd"/>
</g>
<text x="767.3" y="0" class="tt" transform="translate(0 258.8) scale(1 1.12) translate(0 0)">[15] Bra=0.99</text>
<g transform="translate(992.2 347.5)">
<g clip-path="url(#dc)"><g filter="url(#bl)" class="fd">
<path stroke="#4d65ad" d="M-8.7 -34.7h12M-12.7 -30.7h16M-12.7 -26.7h16M-12.7 -22.7h16M-12.7 -18.7h16M-8.7 -14.7h4"/>
<path stroke="#4273b3" d="M-4.7 -38.7h4M3.3 -30.7h4M3.3 -26.7h4M-16.7 -22.7h4M-12.7 -14.7h4M-4.7 -14.7h4"/>
<path stroke="#3a7eb8" d="M-8.7 -38.7h4M-0.7 -38.7h4M-12.7 -34.7h4M3.3 -34.7h4M-16.7 -26.7h4M3.3 -22.7h4M-16.7 -18.7h4"/>
<path stroke="#3389bd" d="M-16.7 -30.7h4M-0.7 -14.7h4M-8.7 -10.7h4"/>
<path stroke="#3f97b7" d="M3.3 -38.7h4M3.3 -18.7h4M-16.7 -14.7h4M-12.7 -10.7h4"/>
<path stroke="#49a2b2" d="M-4.7 -42.7h8M-12.7 -38.7h4M-4.7 -10.7h4"/>
<path stroke="#54aead" d="M-8.7 -42.7h4M-16.7 -34.7h4M7.3 -34.7h4M7.3 -30.7h4M7.3 -26.7h4M-20.7 -22.7h4M-20.7 -18.7h4M-16.7 -10.7h4"/>
<path stroke="#60bba8" d="M3.3 -42.7h4M-20.7 -26.7h4M7.3 -22.7h4M3.3 -14.7h4M-0.7 -10.7h4"/>
<path stroke="#6bc4a5" d="M7.3 -38.7h4M-20.7 -30.7h4M-20.7 -14.7h4M-12.7 -6.7h8"/>
<path stroke="#79c9a5" d="M-4.7 -46.7h8M-12.7 -42.7h4M-16.7 -38.7h4M7.3 -18.7h4M-16.7 -6.7h4M-4.7 -6.7h4"/>
<path stroke="#89d0a4" d="M3.3 -46.7h4M7.3 -42.7h4M11.3 -30.7h4M-20.7 -10.7h4M3.3 -10.7h4"/>
<path stroke="#97d5a4" d="M-8.7 -46.7h4M11.3 -38.7h4M-20.7 -34.7h4M11.3 -34.7h4M11.3 -26.7h4M-24.7 -22.7h4M-24.7 -18.7h4M7.3 -14.7h4M-0.7 -6.7h4"/>
<path stroke="#a4daa4" d="M7.3 -46.7h4M-16.7 -42.7h4M-24.7 -26.7h4M11.3 -22.7h4M-24.7 -14.7h4M-20.7 -6.7h4M-12.7 -2.7h8"/>
<path stroke="#b3e0a2" d="M-4.7 -50.7h12M-12.7 -46.7h4M11.3 -42.7h4M-20.7 -38.7h4M-24.7 -30.7h4M11.3 -18.7h4M-24.7 -10.7h4M3.3 -6.7h4M-16.7 -2.7h4M-4.7 -2.7h4"/>
<path stroke="#bfe5a0" d="M11.3 -46.7h4M15.3 -34.7h4M15.3 -30.7h4M7.3 -10.7h4M-0.7 -2.7h4"/>
<path stroke="#caea9e" d="M-8.7 -50.7h4M7.3 -50.7h4M15.3 -38.7h4M-24.7 -34.7h4M15.3 -26.7h4M-28.7 -22.7h4M15.3 -22.7h4M-28.7 -18.7h4M11.3 -14.7h4M-24.7 -6.7h4M-20.7 -2.7h4M-12.7 1.3h8"/>
<path stroke="#d8ef9b" d="M-0.7 -54.7h8M-12.7 -50.7h4M11.3 -50.7h4M-16.7 -46.7h4M-20.7 -42.7h4M15.3 -42.7h4M-28.7 -26.7h4M15.3 -18.7h4M-28.7 -14.7h4M11.3 -10.7h4M7.3 -6.7h4M3.3 -2.7h4M-16.7 1.3h4M-4.7 1.3h4"/>
<path stroke="#e4f498" d="M-4.7 -54.7h4M7.3 -54.7h4M15.3 -46.7h4M-24.7 -38.7h4M19.3 -38.7h4M19.3 -34.7h4M-28.7 -30.7h4M19.3 -30.7h4M19.3 -26.7h4M15.3 -14.7h4M-28.7 -10.7h4M-24.7 -2.7h4M-20.7 1.3h4M-0.7 1.3h4"/>
<path stroke="#eaf79e" d="M-8.7 -54.7h4M11.3 -54.7h4M15.3 -50.7h4M-20.7 -46.7h4M19.3 -46.7h4M19.3 -42.7h4M-28.7 -34.7h4M19.3 -22.7h4M-28.7 -6.7h4M11.3 -6.7h4M7.3 -2.7h4M-12.7 5.3h8"/>
<path stroke="#f0f9a7" d="M-0.7 -58.7h12M-12.7 -54.7h4M15.3 -54.7h4M-16.7 -50.7h4M19.3 -50.7h4M-24.7 -42.7h4M23.3 -42.7h4M23.3 -38.7h4M23.3 -34.7h4M23.3 -30.7h4M-32.7 -26.7h4M-32.7 -22.7h4M-32.7 -18.7h4M19.3 -18.7h4M-32.7 -14.7h4M-32.7 -10.7h4M15.3 -10.7h4M-28.7 -2.7h4M-24.7 1.3h4M3.3 1.3h4M-16.7 5.3h4M-4.7 5.3h4"/>
<path stroke="#f5fbaf" d="M-4.7 -58.7h4M11.3 -58.7h8M19.3 -54.7h4M23.3 -50.7h4M23.3 -46.7h4M-28.7 -38.7h4M-32.7 -30.7h4M23.3 -26.7h4M23.3 -22.7h4M23.3 -18.7h4M19.3 -14.7h4M19.3 -10.7h4M-32.7 -6.7h4M15.3 -6.7h4M11.3 -2.7h4M7.3 1.3h4M-20.7 5.3h4M-0.7 5.3h4"/>
<path stroke="#fafdb7" d="M-0.7 -62.7h20M-8.7 -58.7h4M19.3 -58.7h8M-16.7 -54.7h4M23.3 -54.7h8M-20.7 -50.7h4M27.3 -50.7h4M-24.7 -46.7h4M27.3 -46.7h8M-28.7 -42.7h4M27.3 -42.7h8M27.3 -38.7h4M-32.7 -34.7h4M27.3 -34.7h4M27.3 -30.7h4M-36.7 -26.7h4M27.3 -26.7h4M-36.7 -22.7h4M27.3 -22.7h4M-36.7 -18.7h4M-36.7 -14.7h4M23.3 -14.7h4M19.3 -6.7h4M-32.7 -2.7h4M15.3 -2.7h4M-28.7 1.3h4M11.3 1.3h4M-24.7 5.3h4M3.3 5.3h4M-16.7 9.3h16"/>
<path stroke="#fffebe" d="M7.3 -66.7h24M-4.7 -62.7h4M19.3 -62.7h16M-12.7 -58.7h4M27.3 -58.7h12M-20.7 -54.7h4M31.3 -54.7h8M-24.7 -50.7h4M31.3 -50.7h8M-28.7 -46.7h4M35.3 -46.7h4M35.3 -42.7h4M-32.7 -38.7h4M31.3 -38.7h8M31.3 -34.7h8M-36.7 -30.7h4M31.3 -30.7h4M31.3 -26.7h4M31.3 -22.7h4M27.3 -18.7h4M27.3 -14.7h4M-36.7 -10.7h4M23.3 -10.7h4M-36.7 -6.7h4M23.3 -6.7h4M19.3 -2.7h4M-32.7 1.3h4M15.3 1.3h4M-28.7 5.3h4M7.3 5.3h4M-20.7 9.3h4M-0.7 9.3h4"/>
<path stroke="#fff8b4" d="M7.3 -70.7h32M-4.7 -66.7h12M31.3 -66.7h12M-12.7 -62.7h8M35.3 -62.7h12M-16.7 -58.7h4M39.3 -58.7h8M39.3 -54.7h8M39.3 -50.7h8M39.3 -46.7h8M-32.7 -42.7h4M39.3 -42.7h8M-36.7 -38.7h4M39.3 -38.7h4M-36.7 -34.7h4M39.3 -34.7h4M-40.7 -30.7h4M35.3 -30.7h8M-40.7 -26.7h4M35.3 -26.7h4M-40.7 -22.7h4M35.3 -22.7h4M-40.7 -18.7h4M31.3 -18.7h4M-40.7 -14.7h4M31.3 -14.7h4M-40.7 -10.7h4M27.3 -10.7h4M-40.7 -6.7h4M27.3 -6.7h4M-36.7 -2.7h4M23.3 -2.7h4M19.3 1.3h4M-32.7 5.3h4M11.3 5.3h8M-24.7 9.3h4M3.3 9.3h8M-20.7 13.3h24"/>
<path stroke="#fff2aa" d="M15.3 -78.7h20M7.3 -74.7h36M-0.7 -70.7h8M39.3 -70.7h12M-8.7 -66.7h4M43.3 -66.7h8M-16.7 -62.7h4M47.3 -62.7h8M-20.7 -58.7h4M47.3 -58.7h8M-24.7 -54.7h4M47.3 -54.7h8M-28.7 -50.7h4M47.3 -50.7h8M-32.7 -46.7h4M47.3 -46.7h4M-36.7 -42.7h4M47.3 -42.7h4M-40.7 -38.7h4M43.3 -38.7h8M-40.7 -34.7h4M43.3 -34.7h4M-44.7 -30.7h4M43.3 -30.7h4M-44.7 -26.7h4M39.3 -26.7h8M-44.7 -22.7h4M39.3 -22.7h4M-44.7 -18.7h4M35.3 -18.7h8M-44.7 -14.7h4M35.3 -14.7h4M-44.7 -10.7h4M31.3 -10.7h8M31.3 -6.7h4M-40.7 -2.7h4M27.3 -2.7h4M-36.7 1.3h4M23.3 1.3h4M-36.7 5.3h4M19.3 5.3h4M-32.7 9.3h8M11.3 9.3h8M-24.7 13.3h4M3.3 13.3h8M-12.7 17.3h12"/>
<path stroke="#feeb9d" d="M11.3 -82.7h16M3.3 -78.7h12M-4.7 -74.7h12M-8.7 -70.7h8M-16.7 -66.7h8M51.3 -66.7h4M-20.7 -62.7h4M55.3 -62.7h4M-28.7 -58.7h8M55.3 -58.7h8M-32.7 -54.7h8M55.3 -54.7h8M-36.7 -50.7h8M55.3 -50.7h4M-40.7 -46.7h8M51.3 -46.7h8M-44.7 -42.7h8M51.3 -42.7h8M-44.7 -38.7h4M51.3 -38.7h8M-48.7 -34.7h8M47.3 -34.7h8M-48.7 -30.7h4M47.3 -30.7h8M-48.7 -26.7h4M47.3 -26.7h4M-48.7 -22.7h4M43.3 -22.7h8M-48.7 -18.7h4M43.3 -18.7h4M-48.7 -14.7h4M39.3 -14.7h8M-48.7 -10.7h4M39.3 -10.7h4M-48.7 -6.7h8M35.3 -6.7h8M-44.7 -2.7h4M31.3 -2.7h8M-44.7 1.3h8M27.3 1.3h8M-40.7 5.3h4M23.3 5.3h8M-36.7 9.3h4M19.3 9.3h8M-32.7 13.3h8M11.3 13.3h12M-24.7 17.3h12M-0.7 17.3h16M-8.7 21.3h4"/>
<path stroke="#fee593" d="M-4.7 -82.7h16M-8.7 -78.7h12M-12.7 -74.7h8M-20.7 -70.7h12M-24.7 -66.7h8M-32.7 -62.7h12M-36.7 -58.7h8M-40.7 -54.7h8M63.3 -54.7h4M-44.7 -50.7h8M59.3 -50.7h12M-48.7 -46.7h8M59.3 -46.7h8M-52.7 -42.7h8M59.3 -42.7h8M-52.7 -38.7h8M59.3 -38.7h8M-56.7 -34.7h8M55.3 -34.7h8M-56.7 -30.7h8M55.3 -30.7h8M-56.7 -26.7h8M51.3 -26.7h12M-56.7 -22.7h8M51.3 -22.7h8M-56.7 -18.7h8M47.3 -18.7h12M-56.7 -14.7h8M47.3 -14.7h8M-56.7 -10.7h8M43.3 -10.7h12M-56.7 -6.7h8M43.3 -6.7h8M-52.7 -2.7h8M39.3 -2.7h8M-52.7 1.3h8M35.3 1.3h12M-48.7 5.3h8M31.3 5.3h12M-44.7 9.3h8M27.3 9.3h12M-40.7 13.3h8M23.3 13.3h12M-32.7 17.3h8M15.3 17.3h12M-24.7 21.3h16M-4.7 21.3h24M-12.7 25.3h20"/>
<path stroke="#fede89" d="M-24.7 -82.7h20M-28.7 -78.7h20M-36.7 -74.7h24M-40.7 -70.7h20M-48.7 -66.7h24M-52.7 -62.7h20M-56.7 -58.7h20M-60.7 -54.7h20M-64.7 -50.7h20M-64.7 -46.7h16M67.3 -46.7h4M-68.7 -42.7h16M67.3 -42.7h8M-68.7 -38.7h16M67.3 -38.7h12M-68.7 -34.7h12M63.3 -34.7h16M-72.7 -30.7h16M63.3 -30.7h16M-72.7 -26.7h16M63.3 -26.7h12M-72.7 -22.7h16M59.3 -22.7h16M-72.7 -18.7h16M59.3 -18.7h12M-72.7 -14.7h16M55.3 -14.7h16M-68.7 -10.7h12M55.3 -10.7h12M-68.7 -6.7h12M51.3 -6.7h16M-64.7 -2.7h12M47.3 -2.7h16M-60.7 1.3h8M47.3 1.3h16M-56.7 5.3h8M43.3 5.3h16M-52.7 9.3h8M39.3 9.3h16M-48.7 13.3h8M35.3 13.3h20M-40.7 17.3h8M27.3 17.3h24M-36.7 21.3h12M19.3 21.3h24M-28.7 25.3h16M7.3 25.3h32M-16.7 29.3h48M-4.7 33.3h28"/>
<path stroke="#fed27f" d="M-36.7 -78.7h8M-44.7 -74.7h8M-48.7 -70.7h8M-56.7 -66.7h8M-60.7 -62.7h8M-64.7 -58.7h8M-68.7 -54.7h8M-68.7 -50.7h4M-72.7 -46.7h8M-76.7 -42.7h8M-76.7 -38.7h8M-80.7 -34.7h12M-80.7 -30.7h8M-80.7 -26.7h8M75.3 -26.7h8M-84.7 -22.7h12M75.3 -22.7h8M-84.7 -18.7h12M71.3 -18.7h12M-84.7 -14.7h12M71.3 -14.7h16M-84.7 -10.7h16M67.3 -10.7h20M-84.7 -6.7h16M67.3 -6.7h20M-84.7 -2.7h20M63.3 -2.7h24M-84.7 1.3h24M63.3 1.3h24M-72.7 5.3h16M59.3 5.3h28M-64.7 9.3h12M55.3 9.3h32M-56.7 13.3h8M55.3 13.3h32M-52.7 17.3h12M51.3 17.3h32M-44.7 21.3h8M43.3 21.3h40M-36.7 25.3h8M39.3 25.3h44M-28.7 29.3h12M31.3 29.3h52M-20.7 33.3h16M23.3 33.3h56M-12.7 37.3h92M-4.7 41.3h80M3.3 45.3h72M11.3 49.3h60M19.3 53.3h48M23.3 57.3h40M27.3 61.3h36M31.3 65.3h24M35.3 69.3h16M39.3 73.3h8"/>
<path stroke="#fec877" d="M-84.7 5.3h12M-84.7 9.3h20M-72.7 13.3h16M-60.7 17.3h8M-52.7 21.3h8M-44.7 25.3h8M-36.7 29.3h8M-28.7 33.3h8M-20.7 37.3h8M-12.7 41.3h8M-8.7 45.3h12M-0.7 49.3h12M3.3 53.3h16M7.3 57.3h16M15.3 61.3h12M19.3 65.3h12M23.3 69.3h12M27.3 73.3h12M27.3 77.3h12"/>
<path stroke="#fdbf6f" d="M-84.7 13.3h12M-76.7 17.3h16M-64.7 21.3h12M-52.7 25.3h8M-44.7 29.3h8M-36.7 33.3h8M-28.7 37.3h8M-20.7 41.3h8M-16.7 45.3h8M-8.7 49.3h8M-4.7 53.3h8M3.3 57.3h4M7.3 61.3h8M11.3 65.3h8M15.3 69.3h8M19.3 73.3h8M19.3 77.3h8M23.3 81.3h8"/>
<path stroke="#fdb365" d="M-84.7 17.3h8M-76.7 21.3h12M-60.7 25.3h8M-52.7 29.3h8M-44.7 33.3h8M-36.7 37.3h8M-28.7 41.3h8M-20.7 45.3h4M-12.7 49.3h4M-8.7 53.3h4M-4.7 57.3h8M-0.7 61.3h8M3.3 65.3h8M7.3 69.3h8M11.3 73.3h8M15.3 77.3h4M19.3 81.3h4"/>
<path stroke="#fca85e" d="M-84.7 21.3h8M-72.7 25.3h12M-56.7 29.3h4M-48.7 33.3h4M-40.7 37.3h4M-32.7 41.3h4M-24.7 45.3h4M-20.7 49.3h8M-12.7 53.3h4M-8.7 57.3h4M-4.7 61.3h4M-0.7 65.3h4M3.3 69.3h4M7.3 73.3h4M11.3 77.3h4M15.3 81.3h4"/>
<path stroke="#fa9b58" d="M-84.7 25.3h12M-64.7 29.3h8M-52.7 33.3h4M-44.7 37.3h4M-36.7 41.3h4M-28.7 45.3h4M-24.7 49.3h4M-16.7 53.3h4M-12.7 57.3h4M-8.7 61.3h4M-4.7 65.3h4M-0.7 69.3h4M3.3 73.3h4M7.3 77.3h4M11.3 81.3h4M11.3 85.3h4"/>
<path stroke="#f88c51" d="M-80.7 29.3h16M-60.7 33.3h8M-48.7 37.3h4M-40.7 41.3h4M-32.7 45.3h4M-28.7 49.3h4M-20.7 53.3h4M-16.7 57.3h4M-0.7 73.3h4M3.3 77.3h4M7.3 81.3h4"/>
<path stroke="#f67f4b" d="M-68.7 33.3h8M-56.7 37.3h8M-44.7 41.3h4M-36.7 45.3h4M-24.7 53.3h4M-20.7 57.3h4M-12.7 61.3h4M-8.7 65.3h4M-4.7 69.3h4M3.3 81.3h4M7.3 85.3h4"/>
<path stroke="#f57245" d="M-80.7 33.3h12M-60.7 37.3h4M-48.7 41.3h4M-40.7 45.3h4M-32.7 49.3h4M-28.7 53.3h4M-16.7 61.3h4M-12.7 65.3h4M-8.7 69.3h4M-4.7 73.3h4M-0.7 77.3h4M-0.7 81.3h4M3.3 85.3h4"/>
<path stroke="#ef6645" d="M-68.7 37.3h8M-56.7 41.3h8M-44.7 45.3h4M-36.7 49.3h4M-24.7 57.3h4M-20.7 61.3h4M-16.7 65.3h4M-12.7 69.3h4M-8.7 73.3h4M-4.7 77.3h4M-0.7 85.3h4"/>
<path stroke="#e95c47" d="M-76.7 37.3h8M-60.7 41.3h4M-48.7 45.3h4M-40.7 49.3h4M-32.7 53.3h4M-28.7 57.3h4M-8.7 77.3h4M-4.7 81.3h4"/>
<path stroke="#e3534a" d="M-68.7 41.3h8M-52.7 45.3h4M-44.7 49.3h4M-36.7 53.3h4M-24.7 61.3h4M-20.7 65.3h4M-16.7 69.3h4M-12.7 73.3h4M-8.7 81.3h4M-4.7 85.3h4"/>
<path stroke="#dc484c" d="M-76.7 41.3h8M-60.7 45.3h8M-48.7 49.3h4M-40.7 53.3h4M-32.7 57.3h4M-28.7 61.3h4M-16.7 73.3h4M-12.7 77.3h4M-8.7 85.3h4"/>
<path stroke="#d63f4f" d="M-68.7 45.3h8M-52.7 49.3h4M-44.7 53.3h4M-36.7 57.3h4M-24.7 65.3h4M-20.7 69.3h4M-12.7 81.3h4"/>
<path stroke="#cb334d" d="M-72.7 45.3h4M-56.7 49.3h4M-48.7 53.3h4M-40.7 57.3h4M-32.7 61.3h4M-28.7 65.3h4M-24.7 69.3h4M-20.7 73.3h4M-16.7 77.3h4M-12.7 85.3h4"/>
<path stroke="#be254a" d="M-72.7 49.3h16M-52.7 53.3h4M-36.7 61.3h4M-20.7 77.3h4M-16.7 81.3h4M-16.7 85.3h4"/>
<path stroke="#b41947" d="M-68.7 53.3h16M-64.7 57.3h24M-60.7 61.3h24M-56.7 65.3h28M-52.7 69.3h28M-44.7 73.3h24M-40.7 77.3h20M-28.7 81.3h12"/>
</g>
<path class="ct" d="M-3.7 -12 0 -14.2 3.5 -18 5.9 -23 6.9 -28 6.6 -33 5 -36.8 2 -39.7 -1 -40.6 -6 -39.6 -11 -35.8 -14.6 -30 -16.1 -24 -15.5 -18 -13 -13.7 -9 -11.5 -6 -11.4 -3.7 -12M-3.1 -6 2.2 -9 7 -14.1 10.6 -21 12.2 -28 12 -35 9.8 -41 6 -45 1 -46.8 -2 -46.8 -6 -45.6 -10 -43.3 -13 -40.7 -16.1 -37 -18.4 -33 -20.3 -28 -21 -24 -21.2 -20 -20.6 -16 -19.1 -12 -17 -9 -14 -6.6 -11 -5.4 -7 -5.1 -3.1 -6M-3.6 1 4 -2.6 10.8 -9 15.7 -17 17.5 -22 18.7 -27 19.1 -32 18.8 -37 18 -41 16.4 -45 14 -48.6 11.3 -51 8 -52.8 5 -53.7 0 -53.8 -5 -52.6 -10 -50.1 -15 -46.3 -18.9 -42 -22.3 -37 -25 -31 -26.6 -25 -27 -19 -26.2 -13 -24.3 -8 -21.6 -4 -18 -0.8 -13 1.3 -8 1.8 -3.6 1M-4.1 11 1 9.7 6 7.6 11 4.8 16.1 1 20.2 -3 24.3 -8 29.8 -18 32.4 -25 34.8 -34 36.4 -43 36.7 -50 36 -54.3 34.4 -58 31.9 -61 28 -63.3 20 -65.4 10 -65.8 1 -64.4 -7 -61.4 -15 -56.5 -22.5 -50 -29.1 -42 -33.6 -34 -36.3 -25 -36.8 -17 -35.3 -9 -31.6 -1 -26.5 5 -20 9.3 -12 11.4 -4.1 11M-81 0.7 -71 5.7 -33 26.8 2.3 43 16 50.5 23.9 56 32 63 40.5 72 47.7 81M-81 29.9 -70 31.5 -57 35.3 -44 40.7 -31 47.6 -19 55.5 -9 63.6 -0.8 72 6 81M-81 46.1 -77 45 -73 44.6 -64 45.5 -54 48.2 -43 52.9 -32.6 59 -23.5 66 -15.8 74 -11.3 81M-71.3 81 -81 71.3"/>
</g>
<use href="#hd"/>
</g>
<text x="992.2" y="0" class="tt" transform="translate(0 258.8) scale(1 1.12) translate(0 0)">[16] Bra=0.91</text>
<g transform="translate(1217.1 347.5)">
<g clip-path="url(#dc)"><g filter="url(#bl)" class="fd">
<path stroke="#f5fbaf" d="M-12.7 -54.7h12M-16.7 -50.7h20M-20.7 -46.7h28M-20.7 -42.7h28M-20.7 -38.7h28M-20.7 -34.7h28M-20.7 -30.7h24M-16.7 -26.7h16"/>
<path stroke="#fafdb7" d="M-16.7 -66.7h20M-20.7 -62.7h32M-24.7 -58.7h40M-24.7 -54.7h12M-0.7 -54.7h16M-28.7 -50.7h12M3.3 -50.7h16M-28.7 -46.7h8M7.3 -46.7h12M-28.7 -42.7h8M7.3 -42.7h12M-28.7 -38.7h8M7.3 -38.7h12M-28.7 -34.7h8M7.3 -34.7h12M-28.7 -30.7h8M3.3 -30.7h16M-28.7 -26.7h12M-0.7 -26.7h16M-28.7 -22.7h44M-24.7 -18.7h36M-20.7 -14.7h24M-80.7 13.3h8M-84.7 17.3h16M-84.7 21.3h16"/>
<path stroke="#fffebe" d="M-24.7 -82.7h52M-32.7 -78.7h68M-28.7 -74.7h72M-28.7 -70.7h80M-28.7 -66.7h12M3.3 -66.7h52M-32.7 -62.7h12M11.3 -62.7h48M-32.7 -58.7h8M15.3 -58.7h48M-32.7 -54.7h8M15.3 -54.7h52M-32.7 -50.7h4M19.3 -50.7h52M-32.7 -46.7h4M19.3 -46.7h52M-32.7 -42.7h4M19.3 -42.7h56M-36.7 -38.7h8M19.3 -38.7h60M-36.7 -34.7h8M19.3 -34.7h60M-36.7 -30.7h8M19.3 -30.7h60M-36.7 -26.7h8M15.3 -26.7h68M-36.7 -22.7h8M15.3 -22.7h68M-36.7 -18.7h12M11.3 -18.7h72M-40.7 -14.7h20M3.3 -14.7h84M-40.7 -10.7h128M-44.7 -6.7h132M-44.7 -2.7h132M-48.7 1.3h136M-56.7 5.3h144M-84.7 9.3h172M-84.7 13.3h4M-72.7 13.3h160M-68.7 17.3h152M-68.7 21.3h152M-84.7 25.3h168M-80.7 29.3h164M-80.7 33.3h160M-76.7 37.3h156M-76.7 41.3h152M-72.7 45.3h148M-72.7 49.3h144M-68.7 53.3h136M-64.7 57.3h128M-60.7 61.3h124M-56.7 65.3h112M-52.7 69.3h104M-44.7 73.3h92M-40.7 77.3h80M-28.7 81.3h60M-16.7 85.3h32"/>
<path stroke="#fff8b4" d="M-36.7 -78.7h4M-36.7 -74.7h8M-36.7 -70.7h8M-36.7 -66.7h8M-36.7 -62.7h4M-36.7 -58.7h4M-36.7 -54.7h4M-36.7 -50.7h4M-36.7 -46.7h4M-36.7 -42.7h4M-40.7 -34.7h4M-40.7 -30.7h4M-40.7 -26.7h4M-44.7 -22.7h8M-44.7 -18.7h8M-44.7 -14.7h4M-48.7 -10.7h8M-52.7 -6.7h8M-56.7 -2.7h12M-64.7 1.3h16M-84.7 5.3h28"/>
<path stroke="#fff2aa" d="M-40.7 -74.7h4M-40.7 -70.7h4M-40.7 -66.7h4M-40.7 -62.7h4M-40.7 -58.7h4M-40.7 -54.7h4M-40.7 -50.7h4M-40.7 -46.7h4M-40.7 -42.7h4M-40.7 -38.7h4M-44.7 -30.7h4M-44.7 -26.7h4M-48.7 -18.7h4M-48.7 -14.7h4M-52.7 -10.7h4M-56.7 -6.7h4M-60.7 -2.7h4M-72.7 1.3h8"/>
<path stroke="#feeb9d" d="M-44.7 -74.7h4M-44.7 -70.7h4M-44.7 -66.7h4M-44.7 -42.7h4M-44.7 -38.7h4M-44.7 -34.7h4M-48.7 -26.7h4M-48.7 -22.7h4M-52.7 -18.7h4M-52.7 -14.7h4M-56.7 -10.7h4M-60.7 -6.7h4M-68.7 -2.7h8M-84.7 1.3h12"/>
<path stroke="#fee593" d="M-44.7 -62.7h4M-44.7 -58.7h4M-44.7 -54.7h4M-44.7 -50.7h4M-44.7 -46.7h4M-48.7 -30.7h4M-52.7 -22.7h4M-56.7 -14.7h4M-60.7 -10.7h4M-64.7 -6.7h4M-72.7 -2.7h4"/>
<path stroke="#fede89" d="M-48.7 -70.7h4M-48.7 -66.7h4M-48.7 -38.7h4M-48.7 -34.7h4M-52.7 -26.7h4M-56.7 -18.7h4M-60.7 -14.7h4M-68.7 -6.7h4M-84.7 -2.7h12"/>
<path stroke="#fed27f" d="M-48.7 -62.7h4M-48.7 -58.7h4M-48.7 -54.7h4M-48.7 -50.7h4M-48.7 -46.7h4M-48.7 -42.7h4M-52.7 -30.7h4M-56.7 -22.7h4M-64.7 -10.7h4M-72.7 -6.7h4"/>
<path stroke="#fec877" d="M-52.7 -66.7h4M-52.7 -34.7h4M-60.7 -18.7h4M-64.7 -14.7h4M-68.7 -10.7h4M-76.7 -6.7h4"/>
<path stroke="#fdbf6f" d="M-52.7 -62.7h4M-52.7 -38.7h4M-56.7 -26.7h4M-84.7 -6.7h8"/>
<path stroke="#fdb365" d="M-52.7 -58.7h4M-52.7 -54.7h4M-52.7 -50.7h4M-52.7 -46.7h4M-52.7 -42.7h4M-56.7 -30.7h4M-60.7 -22.7h4M-64.7 -18.7h4M-68.7 -14.7h4M-72.7 -10.7h4"/>
<path stroke="#fca85e" d="M-56.7 -66.7h4M-56.7 -34.7h4M-76.7 -10.7h4"/>
<path stroke="#fa9b58" d="M-56.7 -62.7h4M-56.7 -38.7h4M-60.7 -26.7h4M-72.7 -14.7h4M-84.7 -10.7h8"/>
<path stroke="#f88c51" d="M-56.7 -58.7h4M-56.7 -54.7h4M-56.7 -42.7h4M-60.7 -30.7h4M-64.7 -22.7h4M-68.7 -18.7h4"/>
<path stroke="#f67f4b" d="M-56.7 -50.7h4M-56.7 -46.7h4M-76.7 -14.7h4"/>
<path stroke="#f57245" d="M-60.7 -62.7h4M-60.7 -34.7h4M-64.7 -26.7h4M-72.7 -18.7h4M-84.7 -14.7h8"/>
<path stroke="#ef6645" d="M-60.7 -58.7h4M-60.7 -38.7h4M-68.7 -22.7h4"/>
<path stroke="#e95c47" d="M-60.7 -54.7h4M-60.7 -42.7h4M-64.7 -30.7h4M-76.7 -18.7h4"/>
<path stroke="#e3534a" d="M-60.7 -50.7h4M-60.7 -46.7h4M-68.7 -26.7h4M-72.7 -22.7h4M-84.7 -18.7h8"/>
<path stroke="#dc484c" d="M-64.7 -58.7h4M-64.7 -34.7h4"/>
<path stroke="#d63f4f" d="M-64.7 -38.7h4M-76.7 -22.7h4"/>
<path stroke="#cb334d" d="M-64.7 -54.7h4M-64.7 -50.7h4M-64.7 -42.7h4M-68.7 -30.7h4M-72.7 -26.7h4M-84.7 -22.7h8"/>
<path stroke="#be254a" d="M-64.7 -46.7h4"/>
<path stroke="#b41947" d="M-68.7 -54.7h4M-68.7 -50.7h4M-72.7 -46.7h8M-76.7 -42.7h12M-76.7 -38.7h12M-80.7 -34.7h16M-80.7 -30.7h12M-80.7 -26.7h8"/>
</g>
<path class="ct" d="M-19.1 -81 -23 -73.1 -27 -62.8 -31.3 -46 -32.6 -37 -33.3 -27 -32.5 -7 -29 14.7 -24 32.8 -15 55.8 -2.8 81M-81 45.4 -75 47.9 -68 49.2 -63 49.1 -57 47.8 -52 45.1 -48.7 42 -46.4 38 -45.4 33 -46.3 27 -48.2 23 -52.1 18 -57.2 14 -63.2 11 -69 9.5 -75 9 -81 9.8M-49.3 -81 -46.1 -76 -44 -71 -42.4 -65 -41.7 -58 -41.8 -51 -42.8 -43 -44.5 -35 -46.8 -28 -49.5 -22 -52.9 -16 -56.7 -11 -60.9 -7 -65 -4.2 -69 -2.4 -81 0.4M-81 -78 -77 -79.8 -72.4 -81M-66 -81 -61 -79.4 -57 -76.8 -53.6 -73 -50.7 -68 -48.8 -62 -47.9 -56 -47.9 -49 -48.8 -42 -50.5 -35 -53.2 -28 -56.4 -22 -61 -15.7 -65 -11.8 -70 -8.6 -75 -6.5 -81 -5.3M-81 -72 -75 -74.5 -70 -75.1 -65 -74.2 -61 -72.1 -57.1 -68 -54.4 -63 -52.8 -57 -52.2 -51 -52.7 -44 -54.6 -36 -57.4 -29 -60.9 -23 -65.1 -18 -70 -14 -75 -11.5 -81 -10.1M-81 -66.9 -76 -69.2 -72 -70 -68 -69.6 -64 -67.8 -60.9 -65 -58 -60.1 -56.5 -55 -56 -49 -56.5 -43 -58.3 -36 -60.9 -30 -64 -25.1 -68 -20.6 -72 -17.5 -76 -15.6 -81 -14.6M-81 -62.2 -77 -64.3 -73 -65.2 -69 -64.7 -66 -63.3 -63 -60.3 -61.2 -57 -60 -53 -59.5 -48 -59.9 -43 -61.1 -38 -63.1 -33 -66.1 -28 -69 -24.6 -73 -21.5 -77 -19.6 -81 -19M-81 -57.3 -78 -59.2 -75 -60.2 -72 -60.3 -69 -59.4 -67 -57.9 -64.9 -55 -63.5 -51 -63.1 -47 -63.3 -43 -64.6 -38 -66.3 -34 -69 -30 -72 -26.9 -75 -24.9 -78 -23.9 -81 -23.7"/>
</g>
<use href="#hd"/>
</g>
<text x="1217.1" y="0" class="tt rd" transform="translate(0 258.8) scale(1 1.12) translate(0 0)">[17] Mus=0.98</text>
<g transform="translate(1442 347.5)">
<g clip-path="url(#dc)"><g filter="url(#bl)" class="fd">
<path stroke="#3f97b7" d="M55.3 41.3h4M51.3 45.3h12"/>
<path stroke="#49a2b2" d="M47.3 -66.7h8M47.3 -62.7h12M51.3 -58.7h4M51.3 37.3h16M47.3 41.3h8M59.3 41.3h8M47.3 45.3h4M63.3 45.3h4M47.3 49.3h20M51.3 53.3h12"/>
<path stroke="#54aead" d="M43.3 -70.7h8M43.3 -66.7h4M43.3 -62.7h4M43.3 -58.7h8M55.3 -58.7h4M47.3 -54.7h8M47.3 33.3h20M43.3 37.3h8M67.3 37.3h4M43.3 41.3h4M67.3 41.3h4M43.3 45.3h4M67.3 45.3h8M43.3 49.3h4M67.3 49.3h4M47.3 53.3h4M63.3 53.3h4M51.3 57.3h12"/>
<path stroke="#60bba8" d="M39.3 -70.7h4M39.3 -66.7h4M39.3 -62.7h4M39.3 -58.7h4M59.3 -58.7h4M43.3 -54.7h4M55.3 -54.7h8M47.3 29.3h24M43.3 33.3h4M67.3 33.3h8M71.3 37.3h4M39.3 41.3h4M71.3 41.3h4M39.3 45.3h4M39.3 49.3h4M43.3 53.3h4M47.3 57.3h4M51.3 61.3h12"/>
<path stroke="#6bc4a5" d="M39.3 -74.7h4M35.3 -66.7h4M35.3 -62.7h4M39.3 -54.7h4M63.3 -54.7h4M43.3 -50.7h20M47.3 25.3h24M43.3 29.3h4M71.3 29.3h4M39.3 33.3h4M75.3 33.3h4M39.3 37.3h4M75.3 37.3h4M35.3 45.3h4M39.3 53.3h4M43.3 57.3h4M47.3 61.3h4"/>
<path stroke="#79c9a5" d="M35.3 -70.7h4M35.3 -58.7h4M39.3 -50.7h4M63.3 -50.7h4M47.3 -46.7h12M51.3 21.3h20M43.3 25.3h4M71.3 25.3h8M39.3 29.3h4M75.3 29.3h8M35.3 37.3h4M35.3 41.3h4M35.3 49.3h4M35.3 53.3h4M39.3 57.3h4M43.3 61.3h4M47.3 65.3h8"/>
<path stroke="#89d0a4" d="M35.3 -74.7h4M31.3 -66.7h4M31.3 -62.7h4M35.3 -54.7h4M67.3 -50.7h4M43.3 -46.7h4M59.3 -46.7h8M55.3 17.3h16M43.3 21.3h8M71.3 21.3h8M39.3 25.3h4M79.3 25.3h4M35.3 29.3h4M35.3 33.3h4M31.3 37.3h4M31.3 41.3h4M31.3 45.3h4M31.3 49.3h4M35.3 57.3h4M39.3 61.3h4M43.3 65.3h4M47.3 69.3h4"/>
<path stroke="#97d5a4" d="M31.3 -70.7h4M31.3 -58.7h4M31.3 -54.7h4M35.3 -50.7h4M39.3 -46.7h4M67.3 -46.7h4M43.3 -42.7h24M59.3 13.3h12M47.3 17.3h8M71.3 17.3h12M39.3 21.3h4M79.3 21.3h4M35.3 25.3h4M31.3 33.3h4M31.3 53.3h4M31.3 57.3h4M35.3 61.3h4M39.3 65.3h4M43.3 69.3h4"/>
<path stroke="#a4daa4" d="M31.3 -74.7h4M31.3 -50.7h4M35.3 -46.7h4M39.3 -42.7h4M67.3 -42.7h8M47.3 -38.7h20M59.3 9.3h28M47.3 13.3h12M71.3 13.3h16M39.3 17.3h8M35.3 21.3h4M31.3 25.3h4M31.3 29.3h4M27.3 37.3h4M27.3 41.3h4M27.3 45.3h4M27.3 49.3h4M27.3 53.3h4M31.3 61.3h4M35.3 65.3h4M39.3 69.3h4M43.3 73.3h4"/>
<path stroke="#b3e0a2" d="M31.3 -78.7h4M27.3 -70.7h4M27.3 -66.7h4M27.3 -62.7h4M27.3 -58.7h4M31.3 -46.7h4M35.3 -42.7h4M39.3 -38.7h8M67.3 -38.7h12M51.3 -34.7h24M79.3 1.3h8M59.3 5.3h28M47.3 9.3h12M39.3 13.3h8M35.3 17.3h4M31.3 21.3h4M27.3 29.3h4M27.3 33.3h4M27.3 57.3h4M31.3 65.3h4M35.3 69.3h4M39.3 73.3h4"/>
<path stroke="#bfe5a0" d="M27.3 -78.7h4M27.3 -74.7h4M27.3 -54.7h4M27.3 -50.7h4M35.3 -38.7h4M43.3 -34.7h8M75.3 -34.7h4M51.3 -30.7h28M67.3 -26.7h16M75.3 -22.7h8M79.3 -18.7h4M79.3 -14.7h8M75.3 -10.7h12M71.3 -6.7h16M67.3 -2.7h20M11.3 1.3h12M55.3 1.3h24M7.3 5.3h16M43.3 5.3h16M35.3 9.3h12M31.3 13.3h8M31.3 17.3h4M27.3 21.3h4M27.3 25.3h4M23.3 29.3h4M23.3 33.3h4M23.3 37.3h4M23.3 41.3h4M23.3 45.3h4M23.3 49.3h4M23.3 53.3h4M23.3 57.3h4M27.3 61.3h4M27.3 65.3h4M31.3 69.3h4M35.3 73.3h4"/>
<path stroke="#caea9e" d="M23.3 -70.7h4M23.3 -66.7h4M23.3 -62.7h4M23.3 -58.7h4M27.3 -46.7h4M31.3 -42.7h4M35.3 -34.7h8M43.3 -30.7h8M47.3 -26.7h20M55.3 -22.7h20M59.3 -18.7h20M63.3 -14.7h16M59.3 -10.7h16M19.3 -6.7h8M55.3 -6.7h16M11.3 -2.7h24M47.3 -2.7h20M3.3 1.3h8M23.3 1.3h32M3.3 5.3h4M23.3 5.3h20M3.3 9.3h32M11.3 13.3h20M23.3 17.3h8M23.3 21.3h4M23.3 25.3h4M19.3 37.3h4M19.3 41.3h4M19.3 45.3h4M19.3 49.3h4M23.3 61.3h4M27.3 69.3h4M31.3 73.3h4M35.3 77.3h4"/>
<path stroke="#d8ef9b" d="M23.3 -74.7h4M23.3 -54.7h4M23.3 -50.7h4M27.3 -42.7h4M31.3 -38.7h4M31.3 -34.7h4M35.3 -30.7h8M39.3 -26.7h8M43.3 -22.7h12M43.3 -18.7h16M43.3 -14.7h20M19.3 -10.7h40M11.3 -6.7h8M27.3 -6.7h28M3.3 -2.7h8M35.3 -2.7h12M-0.7 5.3h4M-0.7 9.3h4M3.3 13.3h8M11.3 17.3h12M19.3 21.3h4M19.3 25.3h4M19.3 29.3h4M19.3 33.3h4M19.3 53.3h4M19.3 57.3h4M19.3 61.3h4M23.3 65.3h4M23.3 69.3h4M27.3 73.3h4M31.3 77.3h4"/>
<path stroke="#e4f498" d="M23.3 -82.7h4M23.3 -78.7h4M23.3 -46.7h4M27.3 -38.7h4M27.3 -34.7h4M31.3 -30.7h4M31.3 -26.7h8M31.3 -22.7h12M31.3 -18.7h12M23.3 -14.7h20M11.3 -10.7h8M7.3 -6.7h4M-0.7 1.3h4M-4.7 5.3h4M-4.7 9.3h4M-0.7 13.3h4M3.3 17.3h8M11.3 21.3h8M15.3 25.3h4M15.3 29.3h4M15.3 33.3h4M15.3 37.3h4M15.3 41.3h4M15.3 45.3h4M15.3 49.3h4M15.3 53.3h4M15.3 57.3h4M19.3 65.3h4M23.3 73.3h4M27.3 77.3h4"/>
<path stroke="#eaf79e" d="M19.3 -74.7h4M19.3 -70.7h4M19.3 -66.7h4M19.3 -62.7h4M19.3 -58.7h4M19.3 -54.7h4M19.3 -50.7h4M23.3 -42.7h4M23.3 -38.7h4M27.3 -30.7h4M27.3 -26.7h4M27.3 -22.7h4M23.3 -18.7h8M15.3 -14.7h8M7.3 -10.7h4M3.3 -6.7h4M-0.7 -2.7h4M-4.7 1.3h4M-4.7 13.3h4M-4.7 17.3h8M3.3 21.3h8M7.3 25.3h8M11.3 29.3h4M11.3 33.3h4M11.3 37.3h4M11.3 41.3h4M11.3 45.3h4M11.3 49.3h4M11.3 53.3h4M15.3 61.3h4M15.3 65.3h4M19.3 69.3h4M19.3 73.3h4M23.3 77.3h4M23.3 81.3h8"/>
<path stroke="#f0f9a7" d="M19.3 -82.7h4M19.3 -78.7h4M19.3 -46.7h4M19.3 -42.7h4M23.3 -34.7h4M23.3 -30.7h4M23.3 -26.7h4M19.3 -22.7h8M15.3 -18.7h8M11.3 -14.7h4M3.3 -10.7h4M-0.7 -6.7h4M-4.7 -2.7h4M-8.7 5.3h4M-8.7 9.3h4M-8.7 13.3h4M-8.7 17.3h4M-4.7 21.3h8M3.3 25.3h4M7.3 29.3h4M7.3 33.3h4M7.3 37.3h4M7.3 41.3h4M11.3 57.3h4M11.3 61.3h4M11.3 65.3h4M15.3 69.3h4M15.3 73.3h4M19.3 77.3h4M19.3 81.3h4"/>
<path stroke="#f5fbaf" d="M15.3 -70.7h4M15.3 -66.7h4M15.3 -62.7h4M15.3 -58.7h4M15.3 -54.7h4M15.3 -50.7h4M19.3 -38.7h4M19.3 -34.7h4M19.3 -30.7h4M19.3 -26.7h4M15.3 -22.7h4M11.3 -18.7h4M7.3 -14.7h4M-0.7 -10.7h4M-4.7 -6.7h4M-8.7 1.3h4M-12.7 5.3h4M-12.7 9.3h4M-12.7 13.3h4M-8.7 21.3h4M-4.7 25.3h8M-0.7 29.3h8M3.3 33.3h4M3.3 37.3h4M7.3 45.3h4M7.3 49.3h4M7.3 53.3h4M7.3 57.3h4M7.3 61.3h4M7.3 65.3h4M11.3 69.3h4M11.3 73.3h4M11.3 77.3h8M15.3 81.3h4"/>
<path stroke="#fafdb7" d="M15.3 -82.7h4M15.3 -78.7h4M15.3 -74.7h4M15.3 -46.7h4M15.3 -42.7h4M15.3 -38.7h4M15.3 -34.7h4M15.3 -30.7h4M15.3 -26.7h4M11.3 -22.7h4M7.3 -18.7h4M3.3 -14.7h4M-8.7 -2.7h4M-12.7 1.3h4M-12.7 17.3h4M-12.7 21.3h4M-8.7 25.3h4M-4.7 29.3h4M-0.7 33.3h4M-0.7 37.3h4M3.3 41.3h4M3.3 45.3h4M3.3 49.3h4M3.3 53.3h4M3.3 57.3h4M3.3 61.3h4M3.3 65.3h4M3.3 69.3h8M7.3 73.3h4M7.3 77.3h4M7.3 81.3h8M11.3 85.3h4"/>
<path stroke="#fffebe" d="M11.3 -58.7h4M11.3 -54.7h4M11.3 -50.7h4M11.3 -46.7h4M11.3 -42.7h4M11.3 -38.7h4M11.3 -34.7h4M11.3 -30.7h4M7.3 -26.7h8M7.3 -22.7h4M3.3 -18.7h4M-0.7 -14.7h4M-4.7 -10.7h4M-8.7 -6.7h4M-12.7 -2.7h4M-16.7 1.3h4M-16.7 5.3h4M-16.7 9.3h4M-16.7 13.3h4M-16.7 17.3h4M-16.7 21.3h4M-12.7 25.3h4M-8.7 29.3h4M-4.7 33.3h4M-4.7 37.3h4M-4.7 41.3h8M-4.7 45.3h8M-0.7 49.3h4M-0.7 53.3h4M-0.7 57.3h4M-0.7 61.3h4M-0.7 65.3h4M-0.7 69.3h4M-0.7 73.3h8M3.3 77.3h4M3.3 81.3h4M3.3 85.3h8"/>
<path stroke="#fff8b4" d="M11.3 -82.7h4M11.3 -78.7h4M11.3 -74.7h4M11.3 -70.7h4M11.3 -66.7h4M11.3 -62.7h4M7.3 -34.7h4M7.3 -30.7h4M3.3 -26.7h4M3.3 -22.7h4M-0.7 -18.7h4M-4.7 -14.7h4M-8.7 -10.7h4M-12.7 -6.7h4M-16.7 -2.7h4M-20.7 5.3h4M-20.7 9.3h4M-20.7 13.3h4M-20.7 17.3h4M-16.7 25.3h4M-12.7 29.3h4M-12.7 33.3h8M-8.7 37.3h4M-8.7 41.3h4M-8.7 45.3h4M-8.7 49.3h8M-8.7 53.3h8M-8.7 57.3h8M-8.7 61.3h8M-4.7 65.3h4M-4.7 69.3h4M-4.7 73.3h4M-4.7 77.3h8M-4.7 81.3h8M-4.7 85.3h8"/>
<path stroke="#fff2aa" d="M7.3 -50.7h4M7.3 -46.7h4M7.3 -42.7h4M7.3 -38.7h4M3.3 -34.7h4M3.3 -30.7h4M-0.7 -26.7h4M-0.7 -22.7h4M-4.7 -18.7h4M-8.7 -14.7h4M-12.7 -10.7h4M-16.7 -6.7h4M-20.7 -2.7h4M-20.7 1.3h4M-24.7 9.3h4M-24.7 13.3h4M-24.7 17.3h4M-20.7 21.3h4M-20.7 25.3h4M-16.7 29.3h4M-16.7 33.3h4M-16.7 37.3h8M-12.7 41.3h4M-12.7 45.3h4M-12.7 49.3h4M-12.7 53.3h4M-12.7 57.3h4M-12.7 61.3h4M-12.7 65.3h8M-12.7 69.3h8M-12.7 73.3h8M-12.7 77.3h8M-12.7 81.3h8M-12.7 85.3h8"/>
<path stroke="#feeb9d" d="M7.3 -82.7h4M7.3 -78.7h4M7.3 -74.7h4M7.3 -70.7h4M7.3 -66.7h4M7.3 -62.7h4M7.3 -58.7h4M7.3 -54.7h4M3.3 -42.7h4M3.3 -38.7h4M-0.7 -30.7h4M-4.7 -26.7h4M-8.7 -22.7h8M-12.7 -18.7h8M-16.7 -14.7h8M-20.7 -10.7h8M-20.7 -6.7h4M-24.7 -2.7h4M-24.7 1.3h4M-24.7 5.3h4M-24.7 21.3h4M-24.7 25.3h4M-20.7 29.3h4M-20.7 33.3h4M-20.7 37.3h4M-16.7 41.3h4M-16.7 45.3h4M-16.7 49.3h4M-16.7 53.3h4M-16.7 57.3h4M-20.7 61.3h8M-20.7 65.3h8M-20.7 69.3h8M-20.7 73.3h8M-20.7 77.3h8M-20.7 81.3h8M-16.7 85.3h4"/>
<path stroke="#fee593" d="M3.3 -50.7h4M3.3 -46.7h4M-0.7 -38.7h4M-0.7 -34.7h4M-4.7 -30.7h4M-8.7 -26.7h4M-12.7 -22.7h4M-16.7 -18.7h4M-20.7 -14.7h4M-24.7 -10.7h4M-28.7 -6.7h8M-28.7 -2.7h4M-28.7 1.3h4M-28.7 5.3h4M-28.7 9.3h4M-28.7 13.3h4M-28.7 17.3h4M-28.7 21.3h4M-28.7 25.3h4M-24.7 29.3h4M-24.7 33.3h4M-24.7 37.3h4M-24.7 41.3h8M-20.7 45.3h4M-20.7 49.3h4M-24.7 53.3h8M-24.7 57.3h8M-24.7 61.3h4M-24.7 65.3h4M-24.7 69.3h4M-28.7 73.3h8M-28.7 77.3h8M-28.7 81.3h8"/>
<path stroke="#fede89" d="M3.3 -82.7h4M3.3 -78.7h4M3.3 -74.7h4M3.3 -70.7h4M3.3 -66.7h4M3.3 -62.7h4M3.3 -58.7h4M3.3 -54.7h4M-0.7 -42.7h4M-4.7 -34.7h4M-8.7 -30.7h4M-12.7 -26.7h4M-20.7 -22.7h8M-24.7 -18.7h8M-28.7 -14.7h8M-32.7 -10.7h8M-32.7 -6.7h4M-36.7 -2.7h8M-36.7 1.3h8M-36.7 5.3h8M-32.7 9.3h4M-32.7 13.3h4M-32.7 17.3h4M-32.7 21.3h4M-28.7 29.3h4M-28.7 33.3h4M-28.7 37.3h4M-24.7 45.3h4M-24.7 49.3h4M-28.7 53.3h4M-28.7 57.3h4M-28.7 61.3h4M-28.7 65.3h4M-32.7 69.3h8M-32.7 73.3h4M-36.7 77.3h8"/>
<path stroke="#fed27f" d="M-0.7 -50.7h4M-0.7 -46.7h4M-4.7 -42.7h4M-4.7 -38.7h4M-8.7 -34.7h4M-12.7 -30.7h4M-20.7 -26.7h8M-24.7 -22.7h4M-32.7 -18.7h8M-40.7 -14.7h12M-40.7 -10.7h8M-44.7 -6.7h12M-40.7 -2.7h4M-40.7 1.3h4M-40.7 5.3h4M-36.7 9.3h4M-36.7 13.3h4M-36.7 17.3h4M-32.7 25.3h4M-32.7 29.3h4M-32.7 33.3h4M-28.7 41.3h4M-28.7 45.3h4M-28.7 49.3h4M-32.7 53.3h4M-32.7 57.3h4M-32.7 61.3h4M-36.7 65.3h8M-36.7 69.3h4M-40.7 73.3h8M-40.7 77.3h4"/>
<path stroke="#fec877" d="M-0.7 -82.7h4M-0.7 -78.7h4M-0.7 -74.7h4M-0.7 -62.7h4M-0.7 -58.7h4M-0.7 -54.7h4M-4.7 -46.7h4M-8.7 -38.7h4M-12.7 -34.7h4M-20.7 -30.7h8M-28.7 -26.7h8M-36.7 -22.7h12M-48.7 -18.7h16M-52.7 -14.7h12M-52.7 -10.7h12M-52.7 -6.7h8M-48.7 -2.7h8M-48.7 1.3h8M-44.7 5.3h4M-44.7 9.3h8M-40.7 13.3h4M-40.7 17.3h4M-36.7 21.3h4M-36.7 25.3h4M-32.7 37.3h4M-32.7 41.3h4M-32.7 45.3h4M-32.7 49.3h4M-36.7 57.3h4M-36.7 61.3h4M-40.7 65.3h4M-40.7 69.3h4M-44.7 73.3h4"/>
<path stroke="#fdbf6f" d="M-4.7 -82.7h4M-0.7 -70.7h4M-0.7 -66.7h4M-4.7 -50.7h4M-8.7 -42.7h4M-12.7 -38.7h4M-20.7 -34.7h8M-28.7 -30.7h8M-44.7 -26.7h16M-60.7 -22.7h24M-64.7 -18.7h16M-64.7 -14.7h12M-64.7 -10.7h12M-60.7 -6.7h8M-56.7 -2.7h8M-56.7 1.3h8M-52.7 5.3h8M-48.7 9.3h4M-44.7 13.3h4M-40.7 21.3h4M-36.7 29.3h4M-36.7 33.3h4M-36.7 37.3h4M-36.7 41.3h4M-36.7 45.3h4M-36.7 49.3h4M-36.7 53.3h4M-40.7 61.3h4M-44.7 65.3h4M-44.7 69.3h4"/>
<path stroke="#fdb365" d="M-4.7 -78.7h4M-4.7 -74.7h4M-4.7 -58.7h4M-4.7 -54.7h4M-8.7 -46.7h4M-12.7 -42.7h4M-16.7 -38.7h4M-24.7 -34.7h4M-72.7 -30.7h44M-76.7 -26.7h32M-76.7 -22.7h16M-76.7 -18.7h12M-76.7 -14.7h12M-76.7 -10.7h12M-72.7 -6.7h12M-68.7 -2.7h12M-64.7 1.3h8M-56.7 5.3h4M-52.7 9.3h4M-48.7 13.3h4M-44.7 17.3h4M-44.7 21.3h4M-40.7 25.3h4M-40.7 29.3h4M-40.7 49.3h4M-40.7 53.3h4M-40.7 57.3h4M-44.7 61.3h4M-48.7 65.3h4M-48.7 69.3h4"/>
<path stroke="#fca85e" d="M-8.7 -82.7h4M-4.7 -70.7h4M-4.7 -66.7h4M-4.7 -62.7h4M-8.7 -54.7h4M-8.7 -50.7h4M-72.7 -46.7h4M-12.7 -46.7h4M-76.7 -42.7h12M-16.7 -42.7h4M-76.7 -38.7h24M-24.7 -38.7h8M-80.7 -34.7h56M-80.7 -30.7h8M-80.7 -26.7h4M-84.7 -22.7h8M-84.7 -18.7h8M-84.7 -14.7h8M-84.7 -10.7h8M-84.7 -6.7h12M-80.7 -2.7h12M-76.7 1.3h12M-64.7 5.3h8M-56.7 9.3h4M-52.7 13.3h4M-48.7 17.3h4M-44.7 25.3h4M-40.7 33.3h4M-40.7 37.3h4M-40.7 41.3h4M-40.7 45.3h4M-44.7 57.3h4M-48.7 61.3h4M-52.7 65.3h4M-52.7 69.3h4"/>
<path stroke="#fa9b58" d="M-8.7 -78.7h4M-8.7 -74.7h4M-8.7 -58.7h4M-68.7 -54.7h4M-68.7 -50.7h8M-12.7 -50.7h4M-68.7 -46.7h12M-16.7 -46.7h4M-64.7 -42.7h12M-20.7 -42.7h4M-52.7 -38.7h28M-84.7 -2.7h4M-84.7 1.3h8M-84.7 5.3h20M-68.7 9.3h12M-56.7 13.3h4M-52.7 17.3h4M-48.7 21.3h4M-44.7 29.3h4M-44.7 33.3h4M-44.7 45.3h4M-44.7 49.3h4M-44.7 53.3h4M-48.7 57.3h4M-52.7 61.3h4M-56.7 65.3h4"/>
<path stroke="#f88c51" d="M-12.7 -82.7h4M-8.7 -70.7h4M-8.7 -66.7h4M-8.7 -62.7h4M-64.7 -58.7h4M-64.7 -54.7h8M-12.7 -54.7h4M-60.7 -50.7h4M-56.7 -46.7h8M-20.7 -46.7h4M-52.7 -42.7h12M-28.7 -42.7h8M-84.7 9.3h16M-64.7 13.3h8M-56.7 17.3h4M-52.7 21.3h4M-48.7 25.3h4M-48.7 29.3h4M-44.7 37.3h4M-44.7 41.3h4M-48.7 53.3h4M-52.7 57.3h4M-56.7 61.3h4"/>
<path stroke="#f67f4b" d="M-16.7 -82.7h4M-12.7 -78.7h4M-12.7 -74.7h4M-60.7 -62.7h4M-12.7 -62.7h4M-60.7 -58.7h4M-12.7 -58.7h4M-56.7 -54.7h4M-56.7 -50.7h8M-16.7 -50.7h4M-48.7 -46.7h4M-24.7 -46.7h4M-40.7 -42.7h12M-84.7 13.3h20M-64.7 17.3h8M-56.7 21.3h4M-52.7 25.3h4M-48.7 33.3h4M-48.7 37.3h4M-48.7 41.3h4M-48.7 45.3h4M-48.7 49.3h4M-52.7 53.3h4M-60.7 61.3h4"/>
<path stroke="#f57245" d="M-20.7 -82.7h4M-16.7 -78.7h4M-12.7 -70.7h4M-56.7 -66.7h4M-12.7 -66.7h4M-56.7 -62.7h4M-56.7 -58.7h4M-52.7 -54.7h4M-16.7 -54.7h4M-48.7 -50.7h4M-20.7 -50.7h4M-44.7 -46.7h20M-84.7 17.3h20M-84.7 21.3h4M-60.7 21.3h4M-56.7 25.3h4M-52.7 29.3h4M-52.7 33.3h4M-52.7 49.3h4M-56.7 57.3h4"/>
<path stroke="#ef6645" d="M-24.7 -82.7h4M-20.7 -78.7h4M-16.7 -74.7h4M-16.7 -70.7h4M-52.7 -66.7h4M-16.7 -66.7h4M-52.7 -62.7h4M-16.7 -62.7h4M-52.7 -58.7h4M-16.7 -58.7h4M-48.7 -54.7h4M-20.7 -54.7h4M-44.7 -50.7h24M-80.7 21.3h20M-84.7 25.3h4M-60.7 25.3h4M-56.7 29.3h4M-52.7 37.3h4M-52.7 41.3h4M-52.7 45.3h4M-56.7 53.3h4M-64.7 57.3h8"/>
<path stroke="#e95c47" d="M-24.7 -78.7h4M-20.7 -74.7h4M-48.7 -70.7h4M-48.7 -66.7h4M-48.7 -62.7h4M-20.7 -62.7h4M-48.7 -58.7h8M-20.7 -58.7h4M-44.7 -54.7h8M-28.7 -54.7h8M-80.7 25.3h20M-60.7 29.3h4M-56.7 33.3h4M-56.7 37.3h4M-56.7 41.3h4M-56.7 45.3h4M-56.7 49.3h4M-64.7 53.3h8"/>
<path stroke="#e3534a" d="M-36.7 -78.7h12M-44.7 -74.7h8M-24.7 -74.7h4M-44.7 -70.7h4M-20.7 -70.7h4M-44.7 -66.7h4M-20.7 -66.7h4M-44.7 -62.7h4M-24.7 -62.7h4M-40.7 -58.7h4M-28.7 -58.7h8M-36.7 -54.7h8M-80.7 29.3h20M-80.7 33.3h4M-60.7 33.3h4M-60.7 45.3h4M-64.7 49.3h8M-68.7 53.3h4"/>
<path stroke="#dc484c" d="M-36.7 -74.7h12M-40.7 -70.7h20M-40.7 -66.7h8M-28.7 -66.7h8M-40.7 -62.7h16M-36.7 -58.7h8M-76.7 33.3h16M-76.7 37.3h4M-64.7 37.3h8M-76.7 41.3h4M-64.7 41.3h8M-64.7 45.3h4M-72.7 49.3h8"/>
<path stroke="#d63f4f" d="M-32.7 -66.7h4M-72.7 37.3h8M-72.7 41.3h8M-72.7 45.3h8"/>
</g>
<path class="ct" d="M57 -52 61 -54.2 64.4 -58 66.1 -63 65.7 -68 63 -73 59.4 -76 54 -77.7 49 -77.2 44 -74.3 41 -70.1 39.8 -65 40.5 -60 43 -55.8 47 -52.7 52 -51.4 57 -52M61.5 62 68 59.8 71 57.7 73.6 55 75.5 52 76.9 48 77.3 45 76.9 41 76 37.9 74 34.3 69 29.6 66 28 62 26.8 55 26.9 51 28.2 48 29.9 45.5 32 43.1 35 40.7 41 40.7 48 43.3 54 48 58.9 54 61.6 58 62.2 61.5 62M35.5 -81 32.6 -76 30.9 -71 30.2 -66 30.4 -60 31.7 -55 34 -50 37 -46.1 41 -42.6 45 -40.3 50 -38.5 55 -37.8 61 -38 67 -39.4 72 -41.4 76.4 -44 81 -47.7M81 10.9 70 9.8 60 10.3 51 12.5 43 16.3 37 21.3 32.4 28 29.3 36 28.3 44 29.2 52 32.4 60 37.5 67 44 72.3 52 76.2 60 78.3 70 78.9 81 77.8M24.9 -81 23.3 -75 22.3 -68 22.2 -61 23 -54 26.3 -43 34.8 -27 35.7 -24 35.5 -21 34.4 -19 31.7 -17 15 -10.6 6 -5.2 2.4 -2 -0.6 2 -2.2 6 -2.5 9 -1.6 12 0.8 15 4 17 12.7 21 15.6 24 16.8 29 16.6 48 18.3 58 20.4 64 23.3 70 31.1 81M15.1 -81 14.2 -63 14.1 -38 12.8 -30 11 -26.2 8.7 -23 -5 -9.7 -10.7 -3 -14.6 4 -16.1 11 -15.7 16 -13.7 21 -11 25 -4.1 33 -1.7 38 -0.7 43 1.5 63 5.4 81M5.3 -81 6.1 -71 5.6 -60 3.9 -50 1 -41.9 -2.3 -36 -7 -30.1 -26.5 -12 -29.8 -7 -31.5 -2 -32.1 4 -31.4 12 -29.7 20 -25.1 36 -24 46 -24.5 53 -25.8 60 -31.8 81M-5 -81 -3.5 -76 -2.7 -70 -2.9 -64 -4 -58 -6 -52.6 -9 -47.6 -13 -43 -17 -39.8 -22 -37 -27 -35 -32 -33.8 -38 -33 -48 -33.4 -65 -36.6 -70 -36.8 -74.1 -35 -76 -33 -77.7 -30 -79.1 -25 -79.6 -19 -79 -14 -77.2 -9 -75.1 -6 -72 -3 -56 7.8 -48 15.5 -44.2 21 -41.3 27 -39.4 33 -38.5 39 -38.6 45 -39.9 51 -42.3 57 -45.3 62 -49 66.5 -54 71.1 -69 81M-17.9 -81 -14.6 -76 -13 -70.3 -13 -65 -14.9 -59 -18 -54.5 -22 -51.2 -27 -49 -33 -48.2 -39 -49.1 -44 -51.5 -48.2 -55 -51.4 -60 -52.9 -65 -52.8 -71 -51.2 -76 -47.8 -81M-81 21.5 -76 20 -70 19.7 -65 20.6 -60 22.8 -56 25.9 -52.8 30 -50.6 35 -49.9 40 -50.4 45 -52.3 50 -56 54.9 -60 57.9 -65 60.1 -70 61 -76 60.7 -81 59.2"/>
</g>
<use href="#hd"/>
</g>
<text x="1442" y="0" class="tt" transform="translate(0 258.8) scale(1 1.12) translate(0 0)">[18] Oth=0.66</text>
<g transform="translate(1666.9 347.5)">
<g clip-path="url(#dc)"><g filter="url(#bl)" class="fd">
<path stroke="#54aead" d="M-52.7 53.3h8"/>
<path stroke="#60bba8" d="M-56.7 45.3h8M-60.7 49.3h20M-60.7 53.3h8M-44.7 53.3h8M-56.7 57.3h20"/>
<path stroke="#6bc4a5" d="M-64.7 45.3h8M-48.7 45.3h8M-64.7 49.3h4M-40.7 49.3h8M-64.7 53.3h4M-36.7 53.3h8M-60.7 57.3h4M-36.7 57.3h8M-52.7 61.3h20"/>
<path stroke="#79c9a5" d="M-4.7 37.3h4M-64.7 41.3h24M-8.7 41.3h8M-68.7 45.3h4M-40.7 45.3h8M-68.7 49.3h4M-32.7 49.3h4M-68.7 53.3h4M-28.7 53.3h4M-64.7 57.3h4M-28.7 57.3h4M-60.7 61.3h8M-32.7 61.3h4M-48.7 65.3h12"/>
<path stroke="#89d0a4" d="M-4.7 33.3h4M-60.7 37.3h12M-8.7 37.3h4M-0.7 37.3h4M-72.7 41.3h8M-40.7 41.3h4M-12.7 41.3h4M-0.7 41.3h4M-72.7 45.3h4M-32.7 45.3h4M-12.7 45.3h12M-72.7 49.3h4M-28.7 49.3h8M-24.7 53.3h4M-24.7 57.3h4M-28.7 61.3h4M-56.7 65.3h8M-36.7 65.3h8"/>
<path stroke="#97d5a4" d="M-8.7 33.3h4M-0.7 33.3h4M-68.7 37.3h8M-48.7 37.3h8M-12.7 37.3h4M-76.7 41.3h4M-36.7 41.3h4M-16.7 41.3h4M-28.7 45.3h16M-0.7 45.3h4M-20.7 49.3h16M-20.7 53.3h8M-20.7 57.3h4M-24.7 61.3h4M-28.7 65.3h4M-48.7 69.3h16"/>
<path stroke="#a4daa4" d="M-4.7 29.3h4M-64.7 33.3h16M-12.7 33.3h4M-76.7 37.3h8M-40.7 37.3h4M-16.7 37.3h4M3.3 37.3h4M-32.7 41.3h16M3.3 41.3h4M-4.7 49.3h4M-12.7 53.3h8M-16.7 57.3h4M-20.7 61.3h4M-24.7 65.3h8M-52.7 69.3h4M-32.7 69.3h8"/>
<path stroke="#b3e0a2" d="M-8.7 29.3h4M-0.7 29.3h4M-72.7 33.3h8M-48.7 33.3h8M3.3 33.3h4M-36.7 37.3h8M-20.7 37.3h4M3.3 45.3h4M-0.7 49.3h4M-4.7 53.3h4M-12.7 57.3h4M-16.7 61.3h4M-16.7 65.3h4M-24.7 69.3h4M-44.7 73.3h16"/>
<path stroke="#bfe5a0" d="M-68.7 29.3h16M-12.7 29.3h4M3.3 29.3h4M-80.7 33.3h8M-40.7 33.3h4M-16.7 33.3h4M-28.7 37.3h8M-8.7 57.3h4M-12.7 61.3h4M-12.7 65.3h4M-20.7 69.3h8M-28.7 73.3h8"/>
<path stroke="#caea9e" d="M-4.7 25.3h4M-76.7 29.3h8M-52.7 29.3h12M-16.7 29.3h4M-36.7 33.3h20M7.3 33.3h4M7.3 37.3h4M7.3 41.3h4M3.3 49.3h4M-0.7 53.3h4M-4.7 57.3h4M-8.7 61.3h4M-12.7 69.3h4M-20.7 73.3h4M-40.7 77.3h16"/>
<path stroke="#d8ef9b" d="M-72.7 25.3h20M-8.7 25.3h4M-0.7 25.3h4M-80.7 29.3h4M-40.7 29.3h4M7.3 45.3h4M3.3 53.3h4M-0.7 57.3h4M-4.7 61.3h4M-8.7 65.3h4M-8.7 69.3h4M-16.7 73.3h8M-24.7 77.3h8"/>
<path stroke="#e4f498" d="M-80.7 25.3h8M-52.7 25.3h12M-12.7 25.3h4M3.3 25.3h4M-36.7 29.3h20M7.3 29.3h4M7.3 49.3h4M-0.7 61.3h4M-4.7 65.3h4M-4.7 69.3h4M-8.7 73.3h4M-16.7 77.3h4M-28.7 81.3h8"/>
<path stroke="#eaf79e" d="M-28.7 -10.7h8M-28.7 -6.7h8M-28.7 -2.7h8M-76.7 21.3h28M-8.7 21.3h12M-84.7 25.3h4M-40.7 25.3h8M-20.7 25.3h8M11.3 33.3h4M11.3 37.3h4M11.3 41.3h4M7.3 53.3h4M3.3 57.3h4M-0.7 65.3h4M-4.7 73.3h4M-12.7 77.3h8M-20.7 81.3h8"/>
<path stroke="#f0f9a7" d="M-28.7 -14.7h8M-32.7 -10.7h4M-20.7 -10.7h4M-32.7 -6.7h4M-20.7 -6.7h4M-32.7 -2.7h4M-20.7 -2.7h4M-84.7 21.3h8M-48.7 21.3h12M-12.7 21.3h4M3.3 21.3h4M-32.7 25.3h12M7.3 25.3h4M11.3 29.3h4M11.3 45.3h4M7.3 57.3h4M3.3 61.3h4M3.3 65.3h4M-0.7 69.3h4M-0.7 73.3h4M-4.7 77.3h4M-12.7 81.3h8"/>
<path stroke="#f5fbaf" d="M-32.7 -14.7h4M-20.7 -14.7h4M-36.7 -6.7h4M-16.7 -6.7h4M-32.7 1.3h16M-84.7 17.3h40M-36.7 21.3h24M11.3 49.3h4M7.3 61.3h4M3.3 69.3h4M3.3 73.3h4M-0.7 77.3h4M-4.7 81.3h4M-16.7 85.3h12"/>
<path stroke="#fafdb7" d="M-28.7 -18.7h8M-36.7 -14.7h4M-36.7 -10.7h4M-16.7 -10.7h4M-36.7 -2.7h4M-16.7 -2.7h4M-36.7 1.3h4M-32.7 5.3h12M-84.7 13.3h40M-44.7 17.3h52M7.3 21.3h4M11.3 25.3h4M15.3 33.3h4M15.3 37.3h4M15.3 41.3h4M15.3 45.3h4M11.3 53.3h4M11.3 57.3h4M7.3 65.3h4M7.3 69.3h4M7.3 73.3h4M3.3 77.3h4M-0.7 81.3h8M-4.7 85.3h8"/>
<path stroke="#fffebe" d="M-32.7 -18.7h4M-20.7 -18.7h4M-16.7 -14.7h4M-40.7 -10.7h4M-40.7 -6.7h4M-12.7 -6.7h4M-40.7 -2.7h4M-12.7 -2.7h4M-40.7 1.3h4M-16.7 1.3h4M-40.7 5.3h8M-20.7 5.3h8M-84.7 9.3h68M-44.7 13.3h44M7.3 17.3h4M11.3 21.3h4M15.3 25.3h4M15.3 29.3h4M15.3 49.3h4M11.3 61.3h4M11.3 65.3h4M11.3 69.3h4M11.3 73.3h4M7.3 77.3h4M7.3 81.3h4M3.3 85.3h4"/>
<path stroke="#fff8b4" d="M-32.7 -22.7h12M-40.7 -18.7h8M-16.7 -18.7h4M-40.7 -14.7h4M-12.7 -14.7h4M-44.7 -10.7h4M-12.7 -10.7h4M-44.7 -6.7h4M-44.7 -2.7h4M-84.7 1.3h44M-12.7 1.3h4M-84.7 5.3h44M-12.7 5.3h4M-16.7 9.3h16M-0.7 13.3h8M11.3 17.3h4M15.3 21.3h4M19.3 33.3h4M19.3 37.3h4M19.3 41.3h4M15.3 53.3h4M15.3 57.3h4M15.3 61.3h4M15.3 65.3h4M15.3 69.3h4M15.3 73.3h4M11.3 77.3h4M11.3 81.3h4M7.3 85.3h8"/>
<path stroke="#fff2aa" d="M-76.7 -42.7h8M-76.7 -38.7h12M-80.7 -34.7h16M-80.7 -30.7h20M-80.7 -26.7h24M-40.7 -26.7h20M-84.7 -22.7h52M-20.7 -22.7h8M-84.7 -18.7h44M-12.7 -18.7h4M-84.7 -14.7h44M-84.7 -10.7h40M-8.7 -10.7h4M-84.7 -6.7h40M-8.7 -6.7h4M-84.7 -2.7h40M-8.7 -2.7h4M-8.7 1.3h8M-8.7 5.3h12M-0.7 9.3h12M7.3 13.3h8M15.3 17.3h4M19.3 25.3h4M19.3 29.3h4M19.3 45.3h4M19.3 49.3h4M19.3 53.3h4M19.3 73.3h4M15.3 77.3h8M15.3 81.3h8"/>
<path stroke="#feeb9d" d="M-56.7 -66.7h8M-60.7 -62.7h16M-64.7 -58.7h20M-68.7 -54.7h28M-68.7 -50.7h28M-72.7 -46.7h36M-68.7 -42.7h36M-64.7 -38.7h32M-64.7 -34.7h40M-60.7 -30.7h40M-56.7 -26.7h16M-20.7 -26.7h8M-12.7 -22.7h4M-8.7 -18.7h4M-8.7 -14.7h4M-4.7 -10.7h4M-4.7 -6.7h8M-4.7 -2.7h8M-0.7 1.3h8M3.3 5.3h12M11.3 9.3h8M15.3 13.3h8M19.3 17.3h4M19.3 21.3h4M23.3 25.3h4M23.3 29.3h4M23.3 33.3h4M23.3 37.3h4M23.3 41.3h4M19.3 57.3h4M19.3 61.3h4M19.3 65.3h4M19.3 69.3h4M23.3 73.3h4M23.3 77.3h4M23.3 81.3h4"/>
<path stroke="#fee593" d="M-44.7 -74.7h4M-48.7 -70.7h8M-48.7 -66.7h12M-44.7 -62.7h8M-44.7 -58.7h12M-40.7 -54.7h8M-40.7 -50.7h12M-36.7 -46.7h12M-32.7 -42.7h8M-32.7 -38.7h12M-24.7 -34.7h8M-20.7 -30.7h8M-12.7 -26.7h4M-8.7 -22.7h4M-4.7 -18.7h4M-4.7 -14.7h8M-0.7 -10.7h8M3.3 -6.7h8M3.3 -2.7h12M7.3 1.3h12M15.3 5.3h8M19.3 9.3h8M23.3 13.3h8M23.3 17.3h8M23.3 21.3h8M27.3 25.3h4M27.3 29.3h4M27.3 33.3h4M23.3 45.3h4M23.3 49.3h4M23.3 53.3h4M23.3 57.3h4M23.3 61.3h4M23.3 65.3h4M23.3 69.3h4M27.3 73.3h4M27.3 77.3h4M27.3 81.3h4"/>
<path stroke="#fede89" d="M-36.7 -78.7h4M-40.7 -74.7h8M-40.7 -70.7h8M-36.7 -66.7h8M-36.7 -62.7h8M-32.7 -58.7h8M-32.7 -54.7h8M-28.7 -50.7h8M-24.7 -46.7h8M-24.7 -42.7h8M-20.7 -38.7h8M-16.7 -34.7h8M-12.7 -30.7h8M-8.7 -26.7h8M-4.7 -22.7h8M-0.7 -18.7h8M3.3 -14.7h8M7.3 -10.7h8M11.3 -6.7h8M15.3 -2.7h12M19.3 1.3h12M23.3 5.3h12M27.3 9.3h12M31.3 13.3h8M31.3 17.3h12M31.3 21.3h8M31.3 25.3h8M31.3 29.3h4M79.3 29.3h4M31.3 33.3h4M27.3 37.3h4M27.3 41.3h4M27.3 45.3h4M27.3 49.3h4M27.3 53.3h4M27.3 57.3h4M27.3 61.3h4M27.3 65.3h4M27.3 69.3h8M31.3 73.3h4M31.3 77.3h8"/>
<path stroke="#fed27f" d="M-32.7 -78.7h4M-32.7 -74.7h4M-32.7 -70.7h8M-28.7 -66.7h4M-28.7 -62.7h8M-24.7 -58.7h4M-24.7 -54.7h8M-20.7 -50.7h8M-16.7 -46.7h4M-16.7 -42.7h8M-12.7 -38.7h8M-8.7 -34.7h8M-4.7 -30.7h8M-0.7 -26.7h4M3.3 -22.7h8M7.3 -18.7h8M11.3 -14.7h8M15.3 -10.7h8M19.3 -6.7h8M27.3 -2.7h8M31.3 1.3h8M35.3 5.3h12M39.3 9.3h12M39.3 13.3h20M43.3 17.3h40M39.3 21.3h44M39.3 25.3h44M35.3 29.3h44M35.3 33.3h8M63.3 33.3h16M31.3 37.3h8M67.3 37.3h12M31.3 41.3h4M67.3 41.3h8M31.3 45.3h4M71.3 45.3h4M31.3 49.3h4M31.3 53.3h4M31.3 57.3h4M31.3 61.3h4M31.3 65.3h4M35.3 69.3h4M35.3 73.3h8"/>
<path stroke="#fec877" d="M-28.7 -78.7h4M-28.7 -74.7h8M-24.7 -70.7h4M-24.7 -66.7h8M-20.7 -62.7h4M-20.7 -58.7h8M-16.7 -54.7h4M-12.7 -50.7h4M-12.7 -46.7h4M-8.7 -42.7h4M-4.7 -38.7h4M-0.7 -34.7h4M3.3 -30.7h4M3.3 -26.7h8M11.3 -22.7h4M15.3 -18.7h4M19.3 -14.7h8M23.3 -10.7h8M27.3 -6.7h8M35.3 -2.7h8M39.3 1.3h12M47.3 5.3h12M51.3 9.3h36M59.3 13.3h28M43.3 33.3h20M39.3 37.3h28M35.3 41.3h12M55.3 41.3h12M35.3 45.3h8M59.3 45.3h12M35.3 49.3h4M63.3 49.3h8M35.3 53.3h4M63.3 53.3h4M35.3 57.3h4M35.3 61.3h8M59.3 61.3h4M35.3 65.3h12M39.3 69.3h12M43.3 73.3h4"/>
<path stroke="#fdbf6f" d="M-24.7 -82.7h4M-24.7 -78.7h8M-20.7 -74.7h4M-20.7 -70.7h4M-16.7 -66.7h4M-16.7 -62.7h4M-12.7 -58.7h4M-12.7 -54.7h4M-8.7 -50.7h4M-8.7 -46.7h8M-4.7 -42.7h4M-0.7 -38.7h4M3.3 -34.7h4M7.3 -30.7h4M11.3 -26.7h4M15.3 -22.7h4M19.3 -18.7h8M27.3 -14.7h4M31.3 -10.7h8M35.3 -6.7h8M43.3 -2.7h8M51.3 1.3h12M59.3 5.3h28M47.3 41.3h8M43.3 45.3h16M39.3 49.3h24M39.3 53.3h24M39.3 57.3h24M43.3 61.3h16M47.3 65.3h8"/>
<path stroke="#fdb365" d="M-20.7 -82.7h4M-16.7 -78.7h4M-16.7 -74.7h4M-16.7 -70.7h4M-12.7 -66.7h4M-12.7 -62.7h4M-8.7 -58.7h4M-8.7 -54.7h4M-4.7 -50.7h4M-0.7 -46.7h4M-0.7 -42.7h4M3.3 -38.7h4M7.3 -34.7h4M11.3 -30.7h4M15.3 -26.7h4M19.3 -22.7h8M27.3 -18.7h4M31.3 -14.7h8M39.3 -10.7h4M43.3 -6.7h8M51.3 -2.7h12M63.3 1.3h24"/>
<path stroke="#fca85e" d="M-16.7 -82.7h4M-12.7 -74.7h4M-12.7 -70.7h4M-8.7 -62.7h4M-4.7 -54.7h4M-0.7 -50.7h4M3.3 -46.7h4M3.3 -42.7h4M7.3 -38.7h4M11.3 -34.7h4M15.3 -30.7h4M19.3 -26.7h8M27.3 -22.7h4M31.3 -18.7h4M39.3 -14.7h4M43.3 -10.7h8M51.3 -6.7h12M63.3 -2.7h24"/>
<path stroke="#fa9b58" d="M-12.7 -82.7h4M-12.7 -78.7h4M-8.7 -74.7h4M-8.7 -70.7h4M-8.7 -66.7h4M-4.7 -62.7h4M-4.7 -58.7h4M-0.7 -54.7h4M3.3 -50.7h4M7.3 -42.7h4M11.3 -38.7h4M15.3 -34.7h4M19.3 -30.7h4M27.3 -26.7h4M31.3 -22.7h4M35.3 -18.7h8M43.3 -14.7h8M51.3 -10.7h8M63.3 -6.7h24"/>
<path stroke="#f88c51" d="M-8.7 -82.7h4M-8.7 -78.7h4M-4.7 -70.7h4M-4.7 -66.7h4M-0.7 -62.7h4M-0.7 -58.7h4M3.3 -54.7h4M7.3 -46.7h4M11.3 -42.7h4M15.3 -38.7h4M19.3 -34.7h4M23.3 -30.7h4M31.3 -26.7h4M35.3 -22.7h4M43.3 -18.7h4M51.3 -14.7h8M59.3 -10.7h28"/>
<path stroke="#f67f4b" d="M-4.7 -82.7h4M-4.7 -78.7h4M-4.7 -74.7h4M-0.7 -66.7h4M3.3 -58.7h4M7.3 -54.7h4M7.3 -50.7h4M11.3 -46.7h4M15.3 -42.7h4M19.3 -38.7h4M23.3 -34.7h4M27.3 -30.7h4M35.3 -26.7h4M39.3 -22.7h8M47.3 -18.7h8M59.3 -14.7h12M83.3 -14.7h4"/>
<path stroke="#f57245" d="M-0.7 -82.7h4M-0.7 -78.7h4M-0.7 -74.7h4M-0.7 -70.7h4M3.3 -66.7h4M3.3 -62.7h4M7.3 -58.7h4M11.3 -50.7h4M15.3 -46.7h4M19.3 -42.7h4M23.3 -38.7h4M27.3 -34.7h4M31.3 -30.7h4M39.3 -26.7h4M47.3 -22.7h4M55.3 -18.7h8M71.3 -14.7h12"/>
<path stroke="#ef6645" d="M3.3 -74.7h4M3.3 -70.7h4M7.3 -62.7h4M11.3 -54.7h4M15.3 -50.7h4M19.3 -46.7h4M23.3 -42.7h4M27.3 -38.7h4M31.3 -34.7h4M35.3 -30.7h8M43.3 -26.7h4M51.3 -22.7h8M63.3 -18.7h20"/>
<path stroke="#e95c47" d="M3.3 -82.7h4M3.3 -78.7h4M7.3 -70.7h4M7.3 -66.7h4M11.3 -62.7h4M11.3 -58.7h4M15.3 -54.7h4M19.3 -50.7h4M23.3 -46.7h4M27.3 -42.7h4M31.3 -38.7h4M35.3 -34.7h4M43.3 -30.7h4M47.3 -26.7h8M59.3 -22.7h24"/>
<path stroke="#e3534a" d="M7.3 -82.7h4M7.3 -78.7h4M7.3 -74.7h4M11.3 -66.7h4M15.3 -58.7h4M19.3 -54.7h4M35.3 -38.7h4M39.3 -34.7h4M47.3 -30.7h4M55.3 -26.7h12M75.3 -26.7h8"/>
<path stroke="#dc484c" d="M11.3 -82.7h4M11.3 -78.7h4M11.3 -74.7h4M11.3 -70.7h4M15.3 -66.7h4M15.3 -62.7h4M19.3 -58.7h4M23.3 -50.7h4M27.3 -46.7h4M31.3 -42.7h4M39.3 -38.7h4M43.3 -34.7h8M51.3 -30.7h8M75.3 -30.7h4M67.3 -26.7h8"/>
<path stroke="#d63f4f" d="M15.3 -82.7h4M15.3 -78.7h4M15.3 -74.7h4M15.3 -70.7h4M19.3 -62.7h4M23.3 -54.7h4M27.3 -50.7h4M31.3 -46.7h4M35.3 -42.7h4M43.3 -38.7h4M51.3 -34.7h4M75.3 -34.7h4M59.3 -30.7h16"/>
<path stroke="#cb334d" d="M19.3 -82.7h4M19.3 -78.7h4M19.3 -74.7h4M19.3 -70.7h4M19.3 -66.7h4M23.3 -62.7h4M23.3 -58.7h4M27.3 -54.7h4M31.3 -50.7h4M35.3 -46.7h4M39.3 -42.7h8M47.3 -38.7h8M75.3 -38.7h4M55.3 -34.7h20"/>
<path stroke="#be254a" d="M23.3 -82.7h4M23.3 -78.7h4M23.3 -74.7h4M23.3 -70.7h4M23.3 -66.7h4M27.3 -62.7h4M27.3 -58.7h4M31.3 -54.7h4M35.3 -50.7h4M39.3 -46.7h4M47.3 -42.7h4M55.3 -38.7h20"/>
<path stroke="#b41947" d="M27.3 -78.7h8M27.3 -74.7h16M27.3 -70.7h24M27.3 -66.7h28M31.3 -62.7h28M31.3 -58.7h32M35.3 -54.7h32M39.3 -50.7h32M43.3 -46.7h28M51.3 -42.7h24"/>
</g>
<path class="ct" d="M-31.4 69 -26 67 -21.8 64 -19.2 61 -15 54.3 -13 52.4 -3 48.8 2 45.1 4.1 42 4.8 39 4.5 36 2.7 33 1 31.8 -1.9 31 -6.6 32 -10.7 35 -17 42.8 -20 44.2 -25 43.6 -44 36.7 -50 35.4 -56 34.9 -63 35.4 -68.9 37 -73 39.3 -76 42.7 -76.9 45 -77.1 48 -75.6 53 -71.8 58 -65 63.1 -57 66.9 -48 69.3 -39 70 -31.4 69M-81 65.7 -74.5 70 -67 73.8 -59 76.8 -51 78.9 -42 80.3 -34 80.7 -27 80.2 -20 78.7 -11.7 75 -8 72.1 -5.2 69 9 48.7 11.3 43 12 38 11.3 33 8.5 28 4 24.7 -1 23.3 -8 24.1 -20 29.4 -25 30.5 -31 29.8 -48 25.6 -58 24.3 -70 24.7 -76 25.8 -81 27.4M-24.3 10 -19 7.5 -15 3.6 -12.4 -1 -11.5 -7 -12.6 -12 -16 -16.9 -21 -19.9 -26 -20.7 -31 -19.5 -35.5 -16 -38.1 -11 -38.8 -5 -37 1.6 -33 7.5 -29 10.2 -27 10.5 -24.3 10M8.8 81 11.7 73 14.2 60 18.3 45 19.1 38 18.6 32 17.1 27 14.7 23 11 19.1 5 15.7 -2 14.1 -21 14.4 -30 12.4 -40 11.9 -63 9.2 -72 9.1 -81 9.7M41.9 81 37 76.8 33.3 71 30.7 64 29.5 56 29.8 48 31.7 38 34 30.8 38.9 19 39.1 16 37.9 12 35.3 8 30.6 3 12 -12.7 4 -20.1 -15.3 -41 -21.7 -50 -27.6 -60 -32.4 -70 -36.3 -81M81 32.4 80.1 37 79.8 54 77.5 64 75.3 69 71.9 74 68 77.9 63.3 81M81 -4.2 74 -4.6 67 -5.7 53 -10.2 45 -14 37 -18.6 23 -28.8 10.4 -41 0.4 -54 -3.8 -61 -7.2 -68 -11.3 -81M81 -22.4 76 -21.6 70 -21.6 64 -22.4 58 -24 46 -29.1 33.8 -37 22.9 -47 14.5 -58 11.1 -64 8.5 -70 6.8 -76 6.1 -81M64.4 -81 70.8 -75 76 -68 79.4 -61 80.8 -54 80.2 -48 77.4 -43 73 -39.9 66 -38.3 58 -39.2 50 -42.1 42 -47 35.2 -53 29.6 -60 26 -67 24.2 -74 24.7 -81"/>
</g>
<use href="#hd"/>
</g>
<text x="1666.9" y="0" class="tt" transform="translate(0 258.8) scale(1 1.12) translate(0 0)">[19] Bra=0.97</text>
<g transform="translate(1891.8 347.5)">
<g clip-path="url(#dc)"><g filter="url(#bl)" class="fd">
<path stroke="#4d65ad" d="M-32.7 -34.7h12M-32.7 -30.7h16M-28.7 -26.7h8"/>
<path stroke="#4273b3" d="M-20.7 -34.7h4M-32.7 -26.7h4M-20.7 -26.7h4"/>
<path stroke="#3a7eb8" d="M-32.7 -38.7h12M-36.7 -34.7h4M-36.7 -30.7h4M-16.7 -30.7h4M-28.7 -22.7h8"/>
<path stroke="#3389bd" d="M-36.7 -38.7h4M-16.7 -34.7h4M-36.7 -26.7h4M-16.7 -26.7h4M-32.7 -22.7h4M-20.7 -22.7h4"/>
<path stroke="#3f97b7" d="M-20.7 -38.7h4M-40.7 -34.7h4M-40.7 -30.7h4M-16.7 -22.7h4"/>
<path stroke="#49a2b2" d="M-32.7 -42.7h8M-40.7 -38.7h4M-12.7 -30.7h4M-40.7 -26.7h4M-12.7 -26.7h4M-36.7 -22.7h4M-24.7 -18.7h4"/>
<path stroke="#54aead" d="M-36.7 -42.7h4M-24.7 -42.7h4M-16.7 -38.7h4M-12.7 -34.7h4M-12.7 -22.7h4M-28.7 -18.7h4M-20.7 -18.7h4"/>
<path stroke="#60bba8" d="M-20.7 -42.7h4M-44.7 -34.7h4M-44.7 -30.7h4M-32.7 -18.7h4M-16.7 -18.7h4"/>
<path stroke="#6bc4a5" d="M-40.7 -42.7h4M-44.7 -38.7h4M-12.7 -38.7h4M-8.7 -30.7h4M-44.7 -26.7h4M-8.7 -26.7h4M-40.7 -22.7h4M-8.7 -22.7h4M-12.7 -18.7h4"/>
<path stroke="#79c9a5" d="M-32.7 -46.7h8M-16.7 -42.7h4M-8.7 -34.7h4M-36.7 -18.7h4M-28.7 -14.7h12"/>
<path stroke="#89d0a4" d="M-36.7 -46.7h4M-24.7 -46.7h4M-44.7 -42.7h4M-48.7 -34.7h4M-48.7 -30.7h4M-4.7 -26.7h4M-44.7 -22.7h4M-8.7 -18.7h4M-32.7 -14.7h4M-16.7 -14.7h4"/>
<path stroke="#97d5a4" d="M-40.7 -46.7h4M-20.7 -46.7h4M-12.7 -42.7h4M-48.7 -38.7h4M-8.7 -38.7h4M-4.7 -30.7h4M-4.7 -22.7h4M-40.7 -18.7h4M-12.7 -14.7h4"/>
<path stroke="#a4daa4" d="M-44.7 -46.7h4M-16.7 -46.7h4M-48.7 -42.7h4M-4.7 -34.7h4M-48.7 -26.7h4M-4.7 -18.7h4M-36.7 -14.7h4M-8.7 -14.7h4"/>
<path stroke="#b3e0a2" d="M-36.7 -50.7h12M-8.7 -42.7h4M-4.7 -38.7h4M-52.7 -34.7h4M-0.7 -30.7h4M-0.7 -26.7h4M-48.7 -22.7h4M-44.7 -18.7h4M-28.7 -10.7h16"/>
<path stroke="#bfe5a0" d="M-40.7 -50.7h4M-24.7 -50.7h4M-48.7 -46.7h4M-12.7 -46.7h4M-52.7 -38.7h4M-0.7 -34.7h4M-52.7 -30.7h4M-0.7 -22.7h4M-40.7 -14.7h4M-4.7 -14.7h4M-32.7 -10.7h4M-12.7 -10.7h4"/>
<path stroke="#caea9e" d="M-44.7 -50.7h4M-20.7 -50.7h4M-52.7 -42.7h4M-52.7 -26.7h4M-0.7 -18.7h4M-36.7 -10.7h4M-8.7 -10.7h4"/>
<path stroke="#d8ef9b" d="M-16.7 -50.7h4M-8.7 -46.7h4M-4.7 -42.7h4M-0.7 -38.7h4M-56.7 -34.7h4M3.3 -30.7h4M3.3 -26.7h4M-52.7 -22.7h4M3.3 -22.7h4M-48.7 -18.7h4M-44.7 -14.7h4M-0.7 -14.7h4M-4.7 -10.7h4M-24.7 -6.7h12"/>
<path stroke="#e4f498" d="M-40.7 -54.7h20M-48.7 -50.7h4M-12.7 -50.7h4M-52.7 -46.7h4M-56.7 -42.7h4M-56.7 -38.7h4M3.3 -34.7h4M-56.7 -30.7h4M-56.7 -26.7h4M3.3 -18.7h4M-40.7 -10.7h4M-0.7 -10.7h4M-32.7 -6.7h8M-12.7 -6.7h8"/>
<path stroke="#eaf79e" d="M-44.7 -54.7h4M-20.7 -54.7h4M-4.7 -46.7h4M-0.7 -42.7h4M3.3 -38.7h4M7.3 -30.7h4M7.3 -26.7h4M7.3 -22.7h4M-52.7 -18.7h4M7.3 -18.7h4M-48.7 -14.7h4M3.3 -14.7h4M-36.7 -6.7h4M-4.7 -6.7h4"/>
<path stroke="#f0f9a7" d="M-48.7 -54.7h4M-16.7 -54.7h4M-52.7 -50.7h4M-8.7 -50.7h4M-56.7 -46.7h4M-60.7 -38.7h4M-60.7 -34.7h4M7.3 -34.7h4M-60.7 -30.7h4M-56.7 -22.7h4M7.3 -14.7h4M-44.7 -10.7h4M3.3 -10.7h4M-0.7 -6.7h4M-28.7 -2.7h24"/>
<path stroke="#f5fbaf" d="M-40.7 -58.7h20M-12.7 -54.7h4M-56.7 -50.7h4M-4.7 -50.7h4M-0.7 -46.7h4M-60.7 -42.7h4M3.3 -42.7h4M7.3 -38.7h4M11.3 -30.7h4M-60.7 -26.7h4M11.3 -26.7h4M11.3 -22.7h4M-56.7 -18.7h4M11.3 -18.7h4M-52.7 -14.7h4M-48.7 -10.7h4M7.3 -10.7h4M-40.7 -6.7h4M3.3 -6.7h4M-32.7 -2.7h4M-4.7 -2.7h8"/>
<path stroke="#fafdb7" d="M-44.7 -58.7h4M-20.7 -58.7h4M-52.7 -54.7h4M-8.7 -54.7h4M-60.7 -46.7h4M3.3 -46.7h4M7.3 -42.7h4M-64.7 -38.7h4M-64.7 -34.7h4M11.3 -34.7h4M-64.7 -30.7h4M15.3 -26.7h4M-60.7 -22.7h4M15.3 -22.7h4M15.3 -18.7h4M11.3 -14.7h4M11.3 -10.7h4M-44.7 -6.7h4M7.3 -6.7h4M-36.7 -2.7h4M3.3 -2.7h4M-28.7 1.3h32"/>
<path stroke="#fffebe" d="M-36.7 -62.7h12M-52.7 -58.7h8M-16.7 -58.7h8M-56.7 -54.7h4M-4.7 -54.7h4M-60.7 -50.7h4M-0.7 -50.7h4M-64.7 -46.7h4M-64.7 -42.7h4M11.3 -38.7h4M15.3 -34.7h4M15.3 -30.7h4M-64.7 -26.7h4M19.3 -22.7h4M-60.7 -18.7h4M19.3 -18.7h4M-56.7 -14.7h4M15.3 -14.7h4M-52.7 -10.7h4M15.3 -10.7h4M-48.7 -6.7h4M11.3 -6.7h8M-40.7 -2.7h4M7.3 -2.7h8M-36.7 1.3h8M3.3 1.3h8M-24.7 5.3h28"/>
<path stroke="#fff8b4" d="M-48.7 -62.7h12M-24.7 -62.7h8M-56.7 -58.7h4M-8.7 -58.7h4M-60.7 -54.7h4M-0.7 -54.7h4M-64.7 -50.7h4M3.3 -50.7h4M7.3 -46.7h4M-68.7 -42.7h4M11.3 -42.7h4M-68.7 -38.7h4M15.3 -38.7h4M-68.7 -34.7h4M19.3 -34.7h4M-68.7 -30.7h4M19.3 -30.7h4M19.3 -26.7h4M-64.7 -22.7h4M23.3 -22.7h4M-64.7 -18.7h4M23.3 -18.7h4M-60.7 -14.7h4M19.3 -14.7h8M-56.7 -10.7h4M19.3 -10.7h8M-52.7 -6.7h4M19.3 -6.7h4M-48.7 -2.7h8M15.3 -2.7h8M-40.7 1.3h4M11.3 1.3h12M-32.7 5.3h8M3.3 5.3h16M-24.7 9.3h44M-12.7 13.3h28"/>
<path stroke="#fff2aa" d="M-44.7 -66.7h24M-56.7 -62.7h8M-16.7 -62.7h8M-60.7 -58.7h4M-4.7 -58.7h4M-64.7 -54.7h4M3.3 -54.7h4M-68.7 -50.7h4M7.3 -50.7h4M-68.7 -46.7h4M11.3 -46.7h8M15.3 -42.7h8M-72.7 -38.7h4M19.3 -38.7h4M-72.7 -34.7h4M23.3 -34.7h4M23.3 -30.7h8M-68.7 -26.7h4M23.3 -26.7h8M-68.7 -22.7h4M27.3 -22.7h4M27.3 -18.7h4M-64.7 -14.7h4M27.3 -14.7h8M-60.7 -10.7h4M27.3 -10.7h8M-56.7 -6.7h4M23.3 -6.7h12M-52.7 -2.7h4M23.3 -2.7h12M-48.7 1.3h8M23.3 1.3h12M-40.7 5.3h8M19.3 5.3h16M-36.7 9.3h12M19.3 9.3h16M-28.7 13.3h16M15.3 13.3h20M-24.7 17.3h60M-20.7 21.3h52M-16.7 25.3h48M-12.7 29.3h40M-8.7 33.3h32M-0.7 37.3h16"/>
<path stroke="#feeb9d" d="M-40.7 -70.7h16M-56.7 -66.7h12M-20.7 -66.7h12M-60.7 -62.7h4M-8.7 -62.7h12M-64.7 -58.7h4M-0.7 -58.7h8M-68.7 -54.7h4M7.3 -54.7h8M11.3 -50.7h8M-72.7 -46.7h4M19.3 -46.7h8M-76.7 -42.7h8M23.3 -42.7h8M-76.7 -38.7h4M23.3 -38.7h8M-76.7 -34.7h4M27.3 -34.7h8M-76.7 -30.7h8M31.3 -30.7h8M-72.7 -26.7h4M31.3 -26.7h8M-72.7 -22.7h4M31.3 -22.7h12M-68.7 -18.7h4M31.3 -18.7h12M-68.7 -14.7h4M35.3 -14.7h12M-64.7 -10.7h4M35.3 -10.7h12M-60.7 -6.7h4M35.3 -6.7h12M-56.7 -2.7h4M35.3 -2.7h16M-52.7 1.3h4M35.3 1.3h16M-48.7 5.3h8M35.3 5.3h16M-44.7 9.3h8M35.3 9.3h16M-40.7 13.3h12M35.3 13.3h16M-36.7 17.3h12M35.3 17.3h16M-36.7 21.3h16M31.3 21.3h20M-32.7 25.3h16M31.3 25.3h16M-32.7 29.3h20M27.3 29.3h20M-28.7 33.3h20M23.3 33.3h24M-28.7 37.3h28M15.3 37.3h28M-24.7 41.3h64M-20.7 45.3h56M-12.7 49.3h44M-4.7 53.3h24"/>
<path stroke="#fee593" d="M-44.7 -74.7h28M-48.7 -70.7h8M-24.7 -70.7h24M-8.7 -66.7h16M3.3 -62.7h16M7.3 -58.7h16M15.3 -54.7h16M19.3 -50.7h20M27.3 -46.7h16M31.3 -42.7h16M31.3 -38.7h20M-80.7 -34.7h4M35.3 -34.7h20M-80.7 -30.7h4M39.3 -30.7h16M-80.7 -26.7h8M39.3 -26.7h20M-80.7 -22.7h8M43.3 -22.7h20M-76.7 -18.7h8M43.3 -18.7h20M-76.7 -14.7h8M47.3 -14.7h20M-72.7 -10.7h8M47.3 -10.7h20M-72.7 -6.7h12M47.3 -6.7h20M-68.7 -2.7h12M51.3 -2.7h20M-64.7 1.3h12M51.3 1.3h20M-64.7 5.3h16M51.3 5.3h20M-60.7 9.3h16M51.3 9.3h20M-56.7 13.3h16M51.3 13.3h20M-56.7 17.3h20M51.3 17.3h20M-56.7 21.3h20M51.3 21.3h20M-52.7 25.3h20M47.3 25.3h24M-52.7 29.3h20M47.3 29.3h20M-52.7 33.3h24M47.3 33.3h20M-48.7 37.3h20M43.3 37.3h24M-48.7 41.3h24M39.3 41.3h24M-44.7 45.3h24M35.3 45.3h28M-44.7 49.3h32M31.3 49.3h28M-40.7 53.3h36M19.3 53.3h36M-36.7 57.3h88M-32.7 61.3h80M-24.7 65.3h68M-20.7 69.3h56M-8.7 73.3h32"/>
<path stroke="#fede89" d="M-24.7 -82.7h52M-36.7 -78.7h72M-16.7 -74.7h60M-0.7 -70.7h52M7.3 -66.7h48M19.3 -62.7h40M23.3 -58.7h40M31.3 -54.7h36M39.3 -50.7h32M43.3 -46.7h28M47.3 -42.7h28M51.3 -38.7h28M55.3 -34.7h24M55.3 -30.7h24M59.3 -26.7h24M-84.7 -22.7h4M63.3 -22.7h20M-84.7 -18.7h8M63.3 -18.7h20M-84.7 -14.7h8M67.3 -14.7h20M-84.7 -10.7h12M67.3 -10.7h20M-84.7 -6.7h12M67.3 -6.7h20M-84.7 -2.7h16M71.3 -2.7h16M-84.7 1.3h20M71.3 1.3h16M-84.7 5.3h20M71.3 5.3h16M-84.7 9.3h24M71.3 9.3h16M-84.7 13.3h28M71.3 13.3h16M-84.7 17.3h28M71.3 17.3h12M-84.7 21.3h28M71.3 21.3h12M-84.7 25.3h32M71.3 25.3h12M-80.7 29.3h28M67.3 29.3h16M-80.7 33.3h28M67.3 33.3h12M-76.7 37.3h28M67.3 37.3h12M-76.7 41.3h28M63.3 41.3h12M-72.7 45.3h28M63.3 45.3h12M-72.7 49.3h28M59.3 49.3h12M-68.7 53.3h28M55.3 53.3h12M-64.7 57.3h28M51.3 57.3h12M-60.7 61.3h28M47.3 61.3h16M-56.7 65.3h32M43.3 65.3h12M-52.7 69.3h32M35.3 69.3h16M-44.7 73.3h36M23.3 73.3h24M-40.7 77.3h80M-28.7 81.3h60M-16.7 85.3h32"/>
</g>
<path class="ct" d="M-18.2 -22 -14.2 -25 -12.8 -29 -13.7 -33 -17 -37 -22 -39.8 -27 -40.7 -32 -40 -36 -37.3 -37.5 -34 -37.5 -31 -36.3 -28 -33.8 -25 -30 -22.6 -26 -21.3 -22 -21.1 -18.2 -22M-18.3 -16 -14.5 -17 -11 -18.8 -8.6 -21 -6.8 -24 -6 -27 -6.1 -30 -7.4 -34 -9.3 -37 -12.3 -40 -16 -42.5 -20 -44.3 -25 -45.6 -29 -45.9 -33 -45.4 -37 -44.1 -40 -42.1 -43 -38.2 -44 -34 -43.2 -29 -40.3 -24 -35.8 -20 -30 -17.1 -24 -15.8 -18.3 -16M-15.7 -11 -10 -12.6 -6 -14.8 -2.6 -18 -0.3 -22 0.6 -26 0.3 -30 -1.4 -35 -4.1 -39 -8.2 -43 -13 -46.2 -18 -48.4 -24 -50.1 -30 -50.5 -35 -50 -40 -48.5 -44.1 -46 -48.2 -41 -49.9 -35 -49.7 -32 -48.7 -28 -45.2 -22 -39 -16.4 -32 -12.8 -24 -10.9 -15.7 -11M-13.2 -5 -7 -6.4 -1 -9.4 3.2 -13 6.5 -18 8 -23 7.9 -29 5.9 -35 2.7 -40 -2.1 -45 -9 -49.8 -16 -53 -23 -54.9 -30 -55.6 -37 -55.1 -43 -53.3 -48.7 -50 -51.8 -47 -53.8 -44 -55.5 -40 -56.1 -36 -55.9 -32 -55 -28 -53.2 -24 -50.6 -20 -47 -16 -43.3 -13 -34 -7.9 -24 -5.1 -18 -4.7 -13.2 -5M-4.2 5 4 2.6 10 -1.2 15.1 -7 18.4 -14 19.6 -21 18.7 -29 15.9 -36 11 -43 4 -49.5 -4 -54.7 -13 -58.8 -23 -61.5 -32 -62.2 -41 -61.3 -49 -58.7 -56 -54.1 -59.8 -50 -62.6 -45 -64 -40 -64.3 -35 -63.4 -29 -61.7 -24 -58.9 -19 -55 -14 -50 -9.2 -45 -5.5 -38 -1.4 -31 1.5 -24 3.7 -17 5 -10 5.4 -4.2 5M-81 -20.2 -76.7 -11 -64.3 10 -61.9 16 -55.7 37 -52.5 44 -48.2 51 -41.8 59 -34 66.1 -25 72 -15 76.5 -2 79.8 11 80.5 24 78.7 37 74.1 43 71 48.9 67 58.8 58 66.9 47 72.6 35 75.8 22 76.4 9 74.6 -4 70.2 -17 63.7 -29 55 -40 45 -49.3 32 -58.1 13 -67.3 -6 -74.2 -22 -77.7 -37 -78.6 -45 -77.8 -51 -76.6 -58 -74.3 -64 -71.4 -69.1 -68 -74 -63.6 -77.7 -59 -81 -53.1"/>
</g>
<use href="#hd"/>
</g>
<text x="1891.8" y="0" class="tt" transform="translate(0 258.8) scale(1 1.12) translate(0 0)">[20] Bra=0.84</text>
<g transform="translate(2116.7 347.5)">
<g clip-path="url(#dc)"><g filter="url(#bl)" class="fd">
<path stroke="#6bc4a5" d="M-80.7 -14.7h4M-80.7 -10.7h4"/>
<path stroke="#79c9a5" d="M-80.7 -22.7h8M-80.7 -18.7h8M-76.7 -14.7h4M-76.7 -10.7h4M-80.7 -6.7h8M-80.7 -2.7h8"/>
<path stroke="#89d0a4" d="M-80.7 -26.7h8M-84.7 -22.7h4M-84.7 -18.7h4M-84.7 -14.7h4M-72.7 -14.7h4M-84.7 -10.7h4M-72.7 -10.7h4M-84.7 -6.7h4M-84.7 -2.7h4M-80.7 1.3h8"/>
<path stroke="#97d5a4" d="M-80.7 -30.7h8M-72.7 -22.7h4M-72.7 -18.7h4M-72.7 -6.7h4M-72.7 -2.7h4M-84.7 1.3h4M-80.7 5.3h8"/>
<path stroke="#a4daa4" d="M-80.7 -34.7h8M-72.7 -30.7h4M-72.7 -26.7h4M-72.7 1.3h4M-84.7 5.3h4M-80.7 9.3h8"/>
<path stroke="#b3e0a2" d="M-76.7 -38.7h4M-72.7 -34.7h4M-68.7 -18.7h4M-68.7 -14.7h4M-68.7 -10.7h4M-72.7 5.3h4M-84.7 9.3h4M-72.7 9.3h4M-80.7 13.3h8"/>
<path stroke="#bfe5a0" d="M-76.7 -42.7h4M-72.7 -38.7h4M-68.7 -26.7h4M-68.7 -22.7h4M-68.7 -6.7h4M-68.7 -2.7h4M-84.7 13.3h4M-72.7 13.3h4M-80.7 17.3h8"/>
<path stroke="#caea9e" d="M-72.7 -42.7h4M-68.7 -34.7h4M-68.7 -30.7h4M-68.7 1.3h4M-68.7 5.3h4M-84.7 17.3h4M-72.7 17.3h4M-80.7 21.3h8M-16.7 77.3h20M-20.7 81.3h24M-16.7 85.3h16"/>
<path stroke="#d8ef9b" d="M-72.7 -46.7h4M-68.7 -38.7h4M-68.7 9.3h4M-84.7 21.3h4M-72.7 21.3h4M-80.7 25.3h8M-20.7 73.3h24M-28.7 77.3h12M3.3 77.3h8M-28.7 81.3h8M3.3 81.3h8M-0.7 85.3h12"/>
<path stroke="#e4f498" d="M-68.7 -46.7h4M-68.7 -42.7h4M-64.7 -30.7h4M-64.7 -26.7h4M-64.7 -22.7h4M-64.7 -18.7h4M-64.7 -14.7h4M-64.7 -10.7h4M-64.7 -6.7h4M-64.7 -2.7h4M-68.7 13.3h4M-68.7 17.3h4M-84.7 25.3h4M-72.7 25.3h4M-80.7 29.3h8M-12.7 69.3h8M-28.7 73.3h8M3.3 73.3h8M-32.7 77.3h4M11.3 77.3h8M11.3 81.3h8M11.3 85.3h4"/>
<path stroke="#eaf79e" d="M-68.7 -50.7h4M-64.7 -42.7h4M-64.7 -38.7h4M-64.7 -34.7h4M-64.7 1.3h4M-64.7 5.3h4M-68.7 21.3h4M-72.7 29.3h4M-80.7 33.3h8M-28.7 69.3h16M-4.7 69.3h16M-36.7 73.3h8M11.3 73.3h8M-40.7 77.3h8M19.3 77.3h4M19.3 81.3h8"/>
<path stroke="#f0f9a7" d="M-68.7 -54.7h4M-64.7 -50.7h4M-64.7 -46.7h4M-64.7 9.3h4M-64.7 13.3h4M-68.7 25.3h4M-68.7 29.3h4M-72.7 33.3h4M-76.7 37.3h4M-24.7 65.3h36M-40.7 69.3h12M11.3 69.3h12M-44.7 73.3h8M19.3 73.3h8M23.3 77.3h8M27.3 81.3h4"/>
<path stroke="#f5fbaf" d="M-64.7 -58.7h4M-64.7 -54.7h4M-60.7 -46.7h4M-60.7 -42.7h4M-60.7 -38.7h4M-60.7 -34.7h4M-60.7 -30.7h4M-60.7 -26.7h4M-60.7 -22.7h4M-60.7 -18.7h4M-60.7 -14.7h4M-60.7 -10.7h4M-64.7 17.3h4M-64.7 21.3h4M-64.7 25.3h4M-64.7 29.3h4M-68.7 33.3h4M-72.7 37.3h8M-76.7 41.3h8M-24.7 61.3h36M-40.7 65.3h16M11.3 65.3h16M-48.7 69.3h8M23.3 69.3h12M27.3 73.3h12M31.3 77.3h8"/>
<path stroke="#fafdb7" d="M-60.7 -62.7h4M-60.7 -58.7h4M-60.7 -54.7h8M-60.7 -50.7h8M-56.7 -46.7h4M-56.7 -42.7h4M-56.7 -38.7h4M-56.7 -34.7h4M-60.7 -6.7h4M-60.7 -2.7h4M-60.7 1.3h4M-64.7 33.3h4M-64.7 37.3h4M-68.7 41.3h8M-72.7 45.3h12M-72.7 49.3h12M-68.7 53.3h4M-32.7 57.3h60M-56.7 61.3h32M11.3 61.3h28M-56.7 65.3h16M27.3 65.3h20M-52.7 69.3h4M35.3 69.3h16M39.3 73.3h8"/>
<path stroke="#fffebe" d="M-24.7 -82.7h52M-36.7 -78.7h72M-44.7 -74.7h88M-48.7 -70.7h100M-56.7 -66.7h112M-56.7 -62.7h116M-56.7 -58.7h20M-12.7 -58.7h76M-52.7 -54.7h8M-0.7 -54.7h68M-52.7 -50.7h8M7.3 -50.7h64M-52.7 -46.7h4M11.3 -46.7h60M-52.7 -42.7h4M15.3 -42.7h60M19.3 -38.7h60M23.3 -34.7h56M-56.7 -30.7h4M23.3 -30.7h56M-56.7 -26.7h4M27.3 -26.7h56M-56.7 -22.7h4M27.3 -22.7h56M-56.7 -18.7h4M31.3 -18.7h52M31.3 -14.7h56M31.3 -10.7h56M31.3 -6.7h56M31.3 -2.7h56M31.3 1.3h56M-60.7 5.3h4M31.3 5.3h56M-60.7 9.3h4M31.3 9.3h56M-60.7 13.3h4M27.3 13.3h60M-60.7 17.3h4M27.3 17.3h56M-60.7 21.3h4M27.3 21.3h56M-60.7 25.3h4M23.3 25.3h60M-60.7 29.3h4M19.3 29.3h64M-60.7 33.3h4M19.3 33.3h60M-60.7 37.3h8M11.3 37.3h68M-60.7 41.3h8M7.3 41.3h68M-60.7 45.3h12M-0.7 45.3h76M-60.7 49.3h132M-64.7 53.3h132M-64.7 57.3h32M27.3 57.3h36M-60.7 61.3h4M39.3 61.3h24M47.3 65.3h8"/>
<path stroke="#fff8b4" d="M-36.7 -58.7h24M-44.7 -54.7h44M-44.7 -50.7h52M-48.7 -46.7h20M-20.7 -46.7h32M-48.7 -42.7h8M-4.7 -42.7h20M-52.7 -38.7h8M-0.7 -38.7h20M-52.7 -34.7h4M7.3 -34.7h16M-52.7 -30.7h4M11.3 -30.7h12M-52.7 -26.7h4M11.3 -26.7h16M15.3 -22.7h12M15.3 -18.7h16M-56.7 -14.7h4M19.3 -14.7h12M-56.7 -10.7h4M19.3 -10.7h12M19.3 -6.7h12M19.3 -2.7h12M19.3 1.3h12M19.3 5.3h12M15.3 9.3h16M15.3 13.3h12M11.3 17.3h16M11.3 21.3h16M-56.7 25.3h4M7.3 25.3h16M-56.7 29.3h4M3.3 29.3h16M-56.7 33.3h8M-0.7 33.3h20M-52.7 37.3h8M-12.7 37.3h24M-52.7 41.3h60M-48.7 45.3h48"/>
<path stroke="#fff2aa" d="M-28.7 -46.7h8M-40.7 -42.7h36M-44.7 -38.7h12M-16.7 -38.7h16M-48.7 -34.7h8M-4.7 -34.7h12M-48.7 -30.7h4M-0.7 -30.7h12M3.3 -26.7h8M-52.7 -22.7h4M7.3 -22.7h8M7.3 -18.7h8M11.3 -14.7h8M11.3 -10.7h8M-56.7 -6.7h4M11.3 -6.7h8M11.3 -2.7h8M11.3 1.3h8M11.3 5.3h8M7.3 9.3h8M7.3 13.3h8M3.3 17.3h8M-56.7 21.3h4M3.3 21.3h8M-0.7 25.3h8M-52.7 29.3h4M-8.7 29.3h12M-48.7 33.3h4M-16.7 33.3h16M-44.7 37.3h32"/>
<path stroke="#feeb9d" d="M-32.7 -38.7h16M-40.7 -34.7h16M-20.7 -34.7h16M-44.7 -30.7h4M-8.7 -30.7h8M-48.7 -26.7h4M-4.7 -26.7h8M-48.7 -22.7h4M-0.7 -22.7h8M-52.7 -18.7h4M3.3 -18.7h4M-52.7 -14.7h4M3.3 -14.7h8M7.3 -10.7h4M7.3 -6.7h4M-56.7 -2.7h4M7.3 -2.7h4M-56.7 1.3h4M7.3 1.3h4M-56.7 5.3h4M3.3 5.3h8M-56.7 9.3h4M3.3 9.3h4M-56.7 13.3h4M3.3 13.3h4M-56.7 17.3h4M-0.7 17.3h4M-4.7 21.3h8M-52.7 25.3h4M-8.7 25.3h8M-48.7 29.3h4M-16.7 29.3h8M-44.7 33.3h28"/>
<path stroke="#fee593" d="M-24.7 -34.7h4M-40.7 -30.7h12M-20.7 -30.7h12M-44.7 -26.7h4M-8.7 -26.7h4M-4.7 -22.7h4M-48.7 -18.7h4M-0.7 -18.7h4M-0.7 -14.7h4M-52.7 -10.7h4M3.3 -10.7h4M3.3 -6.7h4M3.3 -2.7h4M3.3 1.3h4M-0.7 9.3h4M-0.7 13.3h4M-4.7 17.3h4M-52.7 21.3h4M-8.7 21.3h4M-12.7 25.3h4M-44.7 29.3h4M-20.7 29.3h4"/>
<path stroke="#fede89" d="M-28.7 -30.7h8M-40.7 -26.7h8M-16.7 -26.7h8M-44.7 -22.7h4M-8.7 -22.7h4M-4.7 -18.7h4M-0.7 -10.7h4M-52.7 -6.7h4M-0.7 -6.7h4M-0.7 -2.7h4M-0.7 1.3h4M-0.7 5.3h4M-4.7 9.3h4M-4.7 13.3h4M-8.7 17.3h4M-12.7 21.3h4M-48.7 25.3h4M-16.7 25.3h4M-40.7 29.3h20"/>
<path stroke="#fed27f" d="M-32.7 -26.7h16M-40.7 -22.7h4M-12.7 -22.7h4M-44.7 -18.7h4M-8.7 -18.7h4M-48.7 -14.7h4M-4.7 -14.7h4M-4.7 -10.7h4M-52.7 -2.7h4M-4.7 5.3h4M-8.7 13.3h4M-52.7 17.3h4M-16.7 21.3h4M-44.7 25.3h4M-20.7 25.3h4"/>
<path stroke="#fec877" d="M-36.7 -22.7h4M-16.7 -22.7h4M-12.7 -18.7h4M-8.7 -14.7h4M-48.7 -10.7h4M-4.7 -6.7h4M-4.7 -2.7h4M-52.7 1.3h4M-4.7 1.3h4M-52.7 5.3h4M-52.7 9.3h4M-8.7 9.3h4M-52.7 13.3h4M-12.7 17.3h4M-48.7 21.3h4M-40.7 25.3h4M-24.7 25.3h4"/>
<path stroke="#fdbf6f" d="M-32.7 -22.7h16M-40.7 -18.7h4M-44.7 -14.7h4M-8.7 -10.7h4M-8.7 5.3h4M-12.7 13.3h4M-20.7 21.3h4M-36.7 25.3h12"/>
<path stroke="#fdb365" d="M-36.7 -18.7h4M-16.7 -18.7h4M-12.7 -14.7h4M-48.7 -6.7h4M-8.7 -6.7h4M-8.7 -2.7h4M-8.7 1.3h4M-48.7 17.3h4M-16.7 17.3h4M-44.7 21.3h4"/>
<path stroke="#fca85e" d="M-32.7 -18.7h4M-20.7 -18.7h4M-40.7 -14.7h4M-44.7 -10.7h4M-48.7 -2.7h4M-12.7 9.3h4M-48.7 13.3h4M-24.7 21.3h4"/>
<path stroke="#fa9b58" d="M-28.7 -18.7h8M-16.7 -14.7h4M-12.7 -10.7h4M-12.7 5.3h4M-16.7 13.3h4M-20.7 17.3h4M-40.7 21.3h4M-28.7 21.3h4"/>
<path stroke="#f88c51" d="M-12.7 -6.7h4M-12.7 -2.7h4M-48.7 1.3h4M-12.7 1.3h4M-48.7 5.3h4M-48.7 9.3h4M-44.7 17.3h4M-36.7 21.3h8"/>
<path stroke="#f67f4b" d="M-36.7 -14.7h4M-20.7 -14.7h4M-40.7 -10.7h4M-16.7 -10.7h4M-44.7 -6.7h4"/>
<path stroke="#f57245" d="M-32.7 -14.7h4M-24.7 -14.7h4M-16.7 9.3h4M-44.7 13.3h4M-20.7 13.3h4M-40.7 17.3h4M-24.7 17.3h4"/>
<path stroke="#ef6645" d="M-28.7 -14.7h4M-16.7 -6.7h4M-44.7 -2.7h4M-16.7 5.3h4"/>
<path stroke="#e95c47" d="M-36.7 -10.7h4M-20.7 -10.7h4M-16.7 -2.7h4M-16.7 1.3h4M-44.7 9.3h4M-36.7 17.3h4M-28.7 17.3h4"/>
<path stroke="#e3534a" d="M-40.7 -6.7h4M-44.7 1.3h4M-44.7 5.3h4M-32.7 17.3h4"/>
<path stroke="#dc484c" d="M-32.7 -10.7h4M-24.7 -10.7h4M-20.7 9.3h4M-40.7 13.3h4M-24.7 13.3h4"/>
<path stroke="#d63f4f" d="M-28.7 -10.7h4M-20.7 -6.7h4"/>
<path stroke="#cb334d" d="M-36.7 -6.7h4M-40.7 -2.7h4M-20.7 5.3h4M-36.7 13.3h4M-28.7 13.3h4"/>
<path stroke="#be254a" d="M-20.7 -2.7h4M-20.7 1.3h4M-40.7 9.3h4M-24.7 9.3h4M-32.7 13.3h4"/>
<path stroke="#b41947" d="M-32.7 -6.7h12M-36.7 -2.7h16M-40.7 1.3h20M-40.7 5.3h20M-36.7 9.3h12"/>
</g>
<path class="ct" d="M-81 8 -79 9.5 -77 9.8 -75 9 -72.4 6 -70.7 2 -69.4 -3 -68.4 -14 -69.4 -24 -72 -31.3 -74 -33.7 -76 -34.9 -79 -34.5 -81 -32.9M-81 26.8 -77 27.7 -74 26.8 -71 24.2 -68 19.1 -66 13 -64 3.1 -62.6 -8 -62.2 -18 -62.5 -26 -63.6 -34 -65.5 -41 -67.8 -46 -71 -50.1 -74 -52.1 -77 -52.7 -81 -51.5M15.8 81 15.5 79 14.2 77 9 73.6 1 71.3 -8 70.6 -17 71.4 -25 73.7 -30.2 77 -31.5 79 -31.9 81M81 38.7 31.2 47 -11.3 52 -43 54 -49 53.3 -53 51.1 -55.1 47 -57 36.2 -58.6 21 -58.7 9 -57.8 -1 -51 -51.3 -46.1 -81M-26 29.2 -32 29.9 -37 29.5 -42 27.9 -46 25.3 -49 22 -51.5 17 -52.8 11 -53 5 -52.2 -2 -50.2 -9 -47.6 -15 -44 -20.3 -40 -24.2 -35 -27.1 -29 -29 -23 -29.4 -18 -28.7 -13 -26.9 -9 -24.4 -5.3 -21 -2.4 -17 -0.2 -12 0.9 -7 1.1 -2 0.4 3 -1.6 9 -4.3 14 -7.4 18 -11.6 22 -16 25.1 -21 27.6 -26 29.2M-30 23.1 -34 23.1 -38 22.3 -41 20.8 -44.2 18 -46.3 15 -47.8 11 -48.4 6 -48 1 -46.6 -4 -44.7 -8 -42 -11.9 -38.8 -15 -35 -17.5 -31 -19.2 -27 -19.9 -22 -19.7 -19 -18.8 -15.5 -17 -13 -14.9 -10.8 -12 -9.3 -9 -8.2 -5 -8.3 2 -10.6 9 -15.8 16 -22 20.6 -26 22.3 -30 23.1M-28 18.1 -32 18.5 -35 18.1 -40 15.5 -42.2 13 -43.6 10 -44.2 7 -44.2 3 -42.1 -4 -38 -9.4 -32 -13.2 -28 -14.2 -25 -14.3 -20 -12.7 -16 -9.2 -13.7 -4 -13.4 1 -15.1 7 -18.3 12 -23 15.9 -28 18.1M-29 14 -33.4 14 -37.3 12 -39.9 8 -40.3 3 -38.8 -2 -35 -6.6 -31 -8.9 -26 -9.5 -23 -8.6 -19.8 -6 -18 -2 -17.9 2 -19.1 6 -21.9 10 -25 12.5 -29 14"/>
</g>
<use href="#hd"/>
</g>
<text x="2116.7" y="0" class="tt" transform="translate(0 258.8) scale(1 1.12) translate(0 0)">[21] Bra=0.92</text>
<g transform="translate(2341.6 347.5)">
<g clip-path="url(#dc)"><g filter="url(#bl)" class="fd">
<path stroke="#49a2b2" d="M79.3 -26.7h4M79.3 -22.7h4M79.3 -18.7h4M79.3 -14.7h4"/>
<path stroke="#54aead" d="M75.3 -26.7h4M75.3 -22.7h4M75.3 -18.7h4M75.3 -14.7h4M83.3 -14.7h4M79.3 -10.7h4"/>
<path stroke="#60bba8" d="M75.3 -30.7h4M75.3 -10.7h4M83.3 -10.7h4"/>
<path stroke="#6bc4a5" d="M75.3 -34.7h4M71.3 -26.7h4M71.3 -22.7h4M71.3 -18.7h4M79.3 -6.7h8"/>
<path stroke="#79c9a5" d="M75.3 -38.7h4M71.3 -30.7h4M71.3 -14.7h4M75.3 -6.7h4"/>
<path stroke="#89d0a4" d="M71.3 -34.7h4M71.3 -10.7h4M79.3 -2.7h8"/>
<path stroke="#97d5a4" d="M71.3 -38.7h4M67.3 -30.7h4M67.3 -26.7h4M67.3 -22.7h4M67.3 -18.7h4M71.3 -6.7h4M75.3 -2.7h4"/>
<path stroke="#a4daa4" d="M71.3 -42.7h4M67.3 -34.7h4M67.3 -14.7h4M71.3 -2.7h4M79.3 1.3h8"/>
<path stroke="#b3e0a2" d="M67.3 -38.7h4M67.3 -10.7h4M75.3 1.3h4"/>
<path stroke="#bfe5a0" d="M67.3 -42.7h4M7.3 -38.7h16M3.3 -34.7h28M63.3 -34.7h4M-0.7 -30.7h32M63.3 -30.7h4M7.3 -26.7h20M63.3 -26.7h4M63.3 -22.7h4M63.3 -18.7h4M67.3 -6.7h4M71.3 1.3h4M79.3 5.3h4"/>
<path stroke="#caea9e" d="M67.3 -46.7h4M7.3 -42.7h20M-4.7 -38.7h12M23.3 -38.7h12M63.3 -38.7h4M-4.7 -34.7h8M31.3 -34.7h8M-8.7 -30.7h8M31.3 -30.7h8M59.3 -30.7h4M-4.7 -26.7h12M27.3 -26.7h8M59.3 -26.7h4M3.3 -22.7h24M63.3 -14.7h4M63.3 -10.7h4M67.3 -2.7h4M75.3 5.3h4M83.3 5.3h4"/>
<path stroke="#d8ef9b" d="M7.3 -46.7h16M-4.7 -42.7h12M27.3 -42.7h12M63.3 -42.7h4M-8.7 -38.7h4M35.3 -38.7h8M59.3 -38.7h4M-12.7 -34.7h8M39.3 -34.7h8M59.3 -34.7h4M-12.7 -30.7h4M39.3 -30.7h8M55.3 -30.7h4M-12.7 -26.7h8M35.3 -26.7h8M-4.7 -22.7h8M27.3 -22.7h12M59.3 -22.7h4M3.3 -18.7h24M59.3 -18.7h4M63.3 -6.7h4M67.3 1.3h4M71.3 5.3h4"/>
<path stroke="#e4f498" d="M67.3 -50.7h4M-4.7 -46.7h12M23.3 -46.7h16M63.3 -46.7h4M-12.7 -42.7h8M39.3 -42.7h8M59.3 -42.7h4M-16.7 -38.7h8M43.3 -38.7h16M-20.7 -34.7h8M47.3 -34.7h12M-20.7 -30.7h8M47.3 -30.7h8M-16.7 -26.7h4M43.3 -26.7h16M-12.7 -22.7h8M39.3 -22.7h20M-8.7 -18.7h12M27.3 -18.7h12M55.3 -18.7h4M7.3 -14.7h16M59.3 -14.7h4M59.3 -10.7h4M63.3 -2.7h4M75.3 9.3h12"/>
<path stroke="#eaf79e" d="M-4.7 -50.7h44M63.3 -50.7h4M-16.7 -46.7h12M39.3 -46.7h12M55.3 -46.7h8M-20.7 -42.7h8M47.3 -42.7h12M-24.7 -38.7h8M-24.7 -34.7h4M-24.7 -30.7h4M-24.7 -26.7h8M-20.7 -22.7h8M-16.7 -18.7h8M39.3 -18.7h16M-8.7 -14.7h16M23.3 -14.7h16M55.3 -14.7h4M59.3 -6.7h4M63.3 1.3h4M67.3 5.3h4M71.3 9.3h4"/>
<path stroke="#f0f9a7" d="M-4.7 -54.7h44M59.3 -54.7h8M-16.7 -50.7h12M39.3 -50.7h24M-24.7 -46.7h8M51.3 -46.7h4M-28.7 -42.7h8M-32.7 -38.7h8M-32.7 -34.7h8M-32.7 -30.7h8M-32.7 -26.7h8M-28.7 -22.7h8M-24.7 -18.7h8M-20.7 -14.7h12M39.3 -14.7h16M-8.7 -10.7h52M51.3 -10.7h8M55.3 -6.7h4M59.3 -2.7h4M63.3 5.3h4M67.3 9.3h4M75.3 13.3h12"/>
<path stroke="#f5fbaf" d="M-12.7 -58.7h60M55.3 -58.7h8M-24.7 -54.7h20M39.3 -54.7h20M-28.7 -50.7h12M-36.7 -46.7h12M-36.7 -42.7h8M-40.7 -38.7h8M-40.7 -34.7h8M-40.7 -30.7h8M-40.7 -26.7h8M-36.7 -22.7h8M-36.7 -18.7h12M-32.7 -14.7h12M-24.7 -10.7h16M43.3 -10.7h8M-16.7 -6.7h72M7.3 -2.7h16M55.3 -2.7h4M59.3 1.3h4M71.3 13.3h4"/>
<path stroke="#fafdb7" d="M-16.7 -66.7h72M-28.7 -62.7h88M-36.7 -58.7h24M47.3 -58.7h8M-40.7 -54.7h16M-44.7 -50.7h16M-44.7 -46.7h8M-48.7 -42.7h12M-48.7 -38.7h8M-48.7 -34.7h8M-44.7 -30.7h4M-44.7 -26.7h4M-44.7 -22.7h8M-44.7 -18.7h8M-40.7 -14.7h8M-36.7 -10.7h12M-32.7 -6.7h16M-28.7 -2.7h36M23.3 -2.7h32M-20.7 1.3h80M3.3 5.3h16M55.3 5.3h8M59.3 9.3h8M67.3 13.3h4"/>
<path stroke="#fffebe" d="M-24.7 -82.7h52M-36.7 -78.7h72M-44.7 -74.7h88M-48.7 -70.7h100M-56.7 -66.7h40M-60.7 -62.7h32M-60.7 -58.7h24M-56.7 -54.7h16M-56.7 -50.7h12M-56.7 -46.7h12M-52.7 -42.7h4M-52.7 -38.7h4M-52.7 -34.7h4M-52.7 -30.7h8M-52.7 -26.7h8M-48.7 -22.7h4M-48.7 -18.7h4M-48.7 -14.7h8M-44.7 -10.7h8M-44.7 -6.7h12M-44.7 -2.7h16M-44.7 1.3h24M-44.7 5.3h48M19.3 5.3h36M-44.7 9.3h104M-44.7 13.3h84M59.3 13.3h8M-44.7 17.3h76M71.3 17.3h12M-44.7 21.3h68M-44.7 25.3h60M-48.7 29.3h60M-48.7 33.3h52M-52.7 37.3h52M-52.7 41.3h48M-56.7 45.3h48M-60.7 49.3h48M-68.7 53.3h48M-64.7 57.3h40M-60.7 61.3h32M-56.7 65.3h24M-52.7 69.3h16M-44.7 73.3h4"/>
<path stroke="#fff8b4" d="M-64.7 -58.7h4M-68.7 -54.7h12M-68.7 -50.7h12M-64.7 -46.7h8M-60.7 -42.7h8M-60.7 -38.7h8M-56.7 -34.7h4M-56.7 -30.7h4M-56.7 -26.7h4M-56.7 -22.7h8M-52.7 -18.7h4M-52.7 -14.7h4M-52.7 -10.7h8M-52.7 -6.7h8M-52.7 -2.7h8M-52.7 1.3h8M-52.7 5.3h8M-52.7 9.3h8M-52.7 13.3h8M39.3 13.3h20M-52.7 17.3h8M31.3 17.3h16M63.3 17.3h8M-56.7 21.3h12M23.3 21.3h16M-56.7 25.3h12M15.3 25.3h16M-60.7 29.3h12M11.3 29.3h16M-64.7 33.3h16M3.3 33.3h16M-68.7 37.3h16M-0.7 37.3h16M-76.7 41.3h24M-4.7 41.3h12M-72.7 45.3h16M-8.7 45.3h12M-72.7 49.3h12M-12.7 49.3h12M-20.7 53.3h16M-24.7 57.3h16M-28.7 61.3h16M-32.7 65.3h16M-36.7 69.3h16M-40.7 73.3h16M-40.7 77.3h12"/>
<path stroke="#fff2aa" d="M-72.7 -46.7h8M-72.7 -42.7h12M-68.7 -38.7h8M-64.7 -34.7h8M-60.7 -30.7h4M-60.7 -26.7h4M-60.7 -22.7h4M-56.7 -18.7h4M-56.7 -14.7h4M-56.7 -10.7h4M-56.7 -6.7h4M-56.7 -2.7h4M-56.7 1.3h4M-56.7 5.3h4M-56.7 9.3h4M-60.7 13.3h8M-60.7 17.3h8M47.3 17.3h16M-64.7 21.3h8M39.3 21.3h12M71.3 21.3h12M-68.7 25.3h12M31.3 25.3h12M-80.7 29.3h20M27.3 29.3h8M-80.7 33.3h16M19.3 33.3h8M-76.7 37.3h8M15.3 37.3h8M7.3 41.3h8M3.3 45.3h8M-0.7 49.3h8M-4.7 53.3h8M-8.7 57.3h4M-12.7 61.3h4M-16.7 65.3h4M-20.7 69.3h4M-24.7 73.3h4M-28.7 77.3h8M-28.7 81.3h4"/>
<path stroke="#feeb9d" d="M-76.7 -42.7h4M-76.7 -38.7h8M-72.7 -34.7h8M-68.7 -30.7h8M-64.7 -26.7h4M-64.7 -22.7h4M-60.7 -18.7h4M-60.7 -14.7h4M-60.7 -10.7h4M-60.7 -6.7h4M-60.7 -2.7h4M-60.7 1.3h4M-60.7 5.3h4M-64.7 9.3h8M-64.7 13.3h4M-68.7 17.3h8M-84.7 21.3h20M51.3 21.3h20M-84.7 25.3h16M43.3 25.3h8M35.3 29.3h8M27.3 33.3h8M23.3 37.3h4M15.3 41.3h8M11.3 45.3h4M7.3 49.3h4M3.3 53.3h4M-4.7 57.3h8M-8.7 61.3h8M-12.7 65.3h8M-16.7 69.3h8M-20.7 73.3h8M-20.7 77.3h4M-24.7 81.3h4"/>
<path stroke="#fee593" d="M-80.7 -34.7h8M-80.7 -30.7h12M-72.7 -26.7h8M-68.7 -22.7h4M-68.7 -18.7h8M-64.7 -14.7h4M-64.7 -10.7h4M-64.7 -6.7h4M-64.7 -2.7h4M-64.7 1.3h4M-68.7 5.3h8M-68.7 9.3h4M-84.7 13.3h20M-84.7 17.3h16M51.3 25.3h8M43.3 29.3h4M35.3 33.3h4M27.3 37.3h8M23.3 41.3h4M15.3 45.3h8M11.3 49.3h4M7.3 53.3h4M3.3 57.3h4M-0.7 61.3h4M-4.7 65.3h4M-8.7 69.3h4M-12.7 73.3h4M-16.7 77.3h4M-20.7 81.3h4"/>
<path stroke="#fede89" d="M-80.7 -26.7h8M-84.7 -22.7h16M-84.7 -18.7h16M-84.7 -14.7h4M-72.7 -14.7h8M-72.7 -10.7h8M-68.7 -6.7h4M-84.7 -2.7h4M-72.7 -2.7h8M-84.7 1.3h4M-72.7 1.3h8M-84.7 5.3h16M-84.7 9.3h16M59.3 25.3h24M47.3 29.3h8M39.3 33.3h4M35.3 37.3h4M27.3 41.3h4M23.3 45.3h4M15.3 49.3h4M11.3 53.3h4M7.3 57.3h4M-8.7 73.3h4M-12.7 77.3h4M-16.7 81.3h4"/>
<path stroke="#fed27f" d="M-80.7 -14.7h8M-84.7 -10.7h12M-84.7 -6.7h16M-80.7 -2.7h8M-80.7 1.3h8M55.3 29.3h8M43.3 33.3h8M39.3 37.3h4M31.3 41.3h4M19.3 49.3h4M15.3 53.3h4M3.3 61.3h4M-0.7 65.3h4M-4.7 69.3h4M-12.7 81.3h4M-16.7 85.3h4"/>
<path stroke="#fec877" d="M63.3 29.3h20M51.3 33.3h4M43.3 37.3h4M35.3 41.3h4M27.3 45.3h4M23.3 49.3h4M11.3 57.3h4M7.3 61.3h4M3.3 65.3h4M-0.7 69.3h4M-4.7 73.3h4M-8.7 77.3h4M-12.7 85.3h4"/>
<path stroke="#fdbf6f" d="M55.3 33.3h4M47.3 37.3h4M39.3 41.3h4M31.3 45.3h4M27.3 49.3h4M19.3 53.3h4M15.3 57.3h4M11.3 61.3h4M7.3 65.3h4M3.3 69.3h4M-0.7 73.3h4M-4.7 77.3h4M-8.7 81.3h4"/>
<path stroke="#fdb365" d="M59.3 33.3h20M51.3 37.3h4M43.3 41.3h4M35.3 45.3h4M23.3 53.3h4M-4.7 81.3h4M-8.7 85.3h4"/>
<path stroke="#fca85e" d="M55.3 37.3h4M47.3 41.3h4M39.3 45.3h4M31.3 49.3h4M19.3 57.3h4M15.3 61.3h4M11.3 65.3h4M7.3 69.3h4M3.3 73.3h4M-0.7 77.3h4"/>
<path stroke="#fa9b58" d="M59.3 37.3h8M51.3 41.3h4M35.3 49.3h4M27.3 53.3h4M23.3 57.3h4M-0.7 81.3h4M-4.7 85.3h4"/>
<path stroke="#f88c51" d="M67.3 37.3h12M55.3 41.3h4M43.3 45.3h4M31.3 53.3h4M19.3 61.3h4M15.3 65.3h4M11.3 69.3h4M7.3 73.3h4M3.3 77.3h4M-0.7 85.3h4"/>
<path stroke="#f67f4b" d="M59.3 41.3h4M47.3 45.3h4M39.3 49.3h4M27.3 57.3h4M23.3 61.3h4M7.3 77.3h4M3.3 81.3h4"/>
<path stroke="#f57245" d="M63.3 41.3h12M51.3 45.3h4M43.3 49.3h4M35.3 53.3h4M19.3 65.3h4M15.3 69.3h4M11.3 73.3h4M3.3 85.3h4"/>
<path stroke="#ef6645" d="M55.3 45.3h8M47.3 49.3h4M39.3 53.3h4M31.3 57.3h4M27.3 61.3h4M11.3 77.3h4M7.3 81.3h4"/>
<path stroke="#e95c47" d="M63.3 45.3h12M51.3 49.3h4M35.3 57.3h4M23.3 65.3h4M19.3 69.3h4M15.3 73.3h4M7.3 85.3h4"/>
<path stroke="#e3534a" d="M55.3 49.3h4M43.3 53.3h4M31.3 61.3h4M27.3 65.3h4M15.3 77.3h4M11.3 81.3h4"/>
<path stroke="#dc484c" d="M59.3 49.3h12M47.3 53.3h4M39.3 57.3h4M35.3 61.3h4M23.3 69.3h4M19.3 73.3h4M15.3 81.3h4M11.3 85.3h4"/>
<path stroke="#d63f4f" d="M51.3 53.3h16M43.3 57.3h4M31.3 65.3h4M27.3 69.3h4M23.3 73.3h4M19.3 77.3h4"/>
<path stroke="#cb334d" d="M47.3 57.3h4M39.3 61.3h4M35.3 65.3h4M19.3 81.3h4"/>
<path stroke="#be254a" d="M51.3 57.3h12M43.3 61.3h4M31.3 69.3h4M27.3 73.3h4M23.3 77.3h4M23.3 81.3h4"/>
<path stroke="#b41947" d="M47.3 61.3h16M39.3 65.3h16M35.3 69.3h16M31.3 73.3h16M27.3 77.3h12M27.3 81.3h4"/>
</g>
<path class="ct" d="M81 -32.2 79 -31.1 77.5 -29 76.5 -26 76.1 -22 76.7 -18 77.7 -15 79 -13 81 -11.6M81 -45.3 78 -44.4 76 -43.1 72 -38.3 69.4 -32 68.5 -25 69.4 -16 72.5 -7 76 -2 78 -0.5 81 0.5M81 -57.9 78 -57.3 75 -55.8 69.3 -51 58.3 -37 56.4 -34 55.4 -31 56.4 -27 63.8 -8 68.1 1 71 4.7 74 7.3 77 8.8 81 9.5M21.7 -17 33 -19.2 38 -21.2 43.1 -24 46.8 -27 49.3 -30 49.7 -32 48.6 -35 43.6 -40 36 -44.3 27 -46.8 17 -47.8 6.2 -47 -3 -44.5 -9.6 -41 -12 -38.9 -14 -36 -14.9 -32 -14 -28.6 -11.3 -25 -7 -21.9 -1 -19.3 6 -17.6 14 -16.8 21.7 -17M-40.9 -81 -46 -69.4 -49.8 -56 -50.9 -44 -49.9 -33 -46.8 -21 -41 -7.1 -31 10.3 -26 17.5 -23 20.5 -21 21.7 -18 22.2 -11 21.4 12 15.6 41 7.1 47 6.1 51 6.4 54 7.4 65.8 14 71 16.3 76 17.6 81 18M-81 -19.3 -79 -20.7 -77 -21.2 -75 -20.6 -73 -19.1 -70.2 -14 -69 -7 -70 -0.6 -71.1 2 -73 4.5 -75 5.7 -77 6.1 -79 5.5 -81 3.9M-13.7 81 -3.4 69 9 57.3 23 46.4 38 36.7 50 30.4 59 27.2 66 26.2 81 26.4M0.3 81 8.6 71 18.1 62 30 52.8 42 45.3 53 39.8 62 36.8 71 35.4 81 35.7M81 76.6 76.7 81M11.7 81 18.9 72 28.8 63 40 55.2 51 49.5 61 46.2 70 45.4 74 46 77 47.2 79.4 49 81 51.6M81 59.1 79 64 75.3 70 71 75.3 65.3 81M24.6 81 27 77 31.3 72 36 67.8 42 63.7 47.1 61 53 58.8 58 58 62 58.6 64 60 65 62 65.1 64 64.3 67 59.8 74 52.3 81"/>
</g>
<use href="#hd"/>
</g>
<text x="2341.6" y="0" class="tt" transform="translate(0 258.8) scale(1 1.12) translate(0 0)">[22] Bra=0.81</text>
<g transform="translate(92.6 583.4)">
<g clip-path="url(#dc)"><g filter="url(#bl)" class="fd">
<path stroke="#4d65ad" d="M23.3 57.3h16M23.3 61.3h20M23.3 65.3h20M23.3 69.3h24M27.3 73.3h20M31.3 77.3h8"/>
<path stroke="#4273b3" d="M23.3 53.3h12M19.3 61.3h4M43.3 65.3h4"/>
<path stroke="#3a7eb8" d="M35.3 53.3h4M19.3 57.3h4M39.3 57.3h4M43.3 61.3h4M19.3 65.3h4M23.3 73.3h4M27.3 77.3h4"/>
<path stroke="#3389bd" d="M27.3 49.3h4M19.3 53.3h4M19.3 69.3h4M47.3 69.3h4"/>
<path stroke="#3f97b7" d="M23.3 49.3h4M31.3 49.3h4M15.3 57.3h4M15.3 61.3h4M47.3 65.3h4"/>
<path stroke="#49a2b2" d="M19.3 49.3h4M35.3 49.3h4M15.3 53.3h4M39.3 53.3h4M43.3 57.3h4M15.3 65.3h4M19.3 73.3h4M23.3 77.3h4M27.3 81.3h4"/>
<path stroke="#54aead" d="M23.3 45.3h8M47.3 61.3h4M15.3 69.3h4"/>
<path stroke="#60bba8" d="M19.3 45.3h4M31.3 45.3h4M15.3 49.3h4M11.3 53.3h4M11.3 57.3h4M11.3 61.3h4M11.3 65.3h4M19.3 77.3h4"/>
<path stroke="#6bc4a5" d="M15.3 45.3h4M39.3 49.3h4M43.3 53.3h4M51.3 65.3h4M11.3 69.3h4M15.3 73.3h4M23.3 81.3h4"/>
<path stroke="#79c9a5" d="M23.3 41.3h8M35.3 45.3h4M11.3 49.3h4M7.3 57.3h4M47.3 57.3h4M7.3 61.3h4"/>
<path stroke="#89d0a4" d="M27.3 5.3h8M27.3 9.3h8M19.3 41.3h4M31.3 41.3h4M11.3 45.3h4M7.3 53.3h4M51.3 61.3h4M7.3 65.3h4M11.3 73.3h4M15.3 77.3h4M19.3 81.3h4"/>
<path stroke="#97d5a4" d="M27.3 1.3h8M23.3 5.3h4M23.3 9.3h4M27.3 13.3h4M15.3 41.3h4M39.3 45.3h4M7.3 49.3h4M43.3 49.3h4M47.3 53.3h4M3.3 57.3h4M3.3 61.3h4M3.3 65.3h4M7.3 69.3h4"/>
<path stroke="#a4daa4" d="M23.3 1.3h4M35.3 5.3h4M35.3 9.3h4M23.3 13.3h4M31.3 13.3h4M19.3 37.3h12M11.3 41.3h4M35.3 41.3h4M7.3 45.3h4M3.3 53.3h4M51.3 57.3h4M3.3 69.3h4M7.3 73.3h4M11.3 77.3h4M15.3 81.3h4"/>
<path stroke="#b3e0a2" d="M27.3 -2.7h8M35.3 1.3h4M19.3 5.3h4M19.3 9.3h4M35.3 13.3h4M27.3 17.3h4M15.3 37.3h4M31.3 37.3h4M43.3 45.3h4M3.3 49.3h4M47.3 49.3h4M-0.7 53.3h4M-0.7 57.3h4M-0.7 61.3h4M-0.7 65.3h4M-0.7 69.3h4M3.3 73.3h4M7.3 77.3h4"/>
<path stroke="#bfe5a0" d="M23.3 -2.7h4M35.3 -2.7h4M19.3 1.3h4M39.3 5.3h4M39.3 9.3h4M19.3 13.3h4M23.3 17.3h4M31.3 17.3h4M19.3 33.3h12M11.3 37.3h4M35.3 37.3h4M7.3 41.3h4M39.3 41.3h4M3.3 45.3h4M-0.7 49.3h4M51.3 53.3h4M-4.7 57.3h4M-4.7 61.3h4M55.3 61.3h4M-4.7 65.3h4M-0.7 73.3h4M3.3 77.3h4M11.3 81.3h4"/>
<path stroke="#caea9e" d="M39.3 1.3h4M39.3 13.3h4M19.3 17.3h4M35.3 17.3h4M23.3 21.3h12M19.3 29.3h12M15.3 33.3h4M31.3 33.3h4M7.3 37.3h4M3.3 41.3h4M-0.7 45.3h4M-4.7 53.3h4M55.3 57.3h4M-8.7 61.3h4M-8.7 65.3h4M-4.7 69.3h4M-4.7 73.3h4M-0.7 77.3h4M7.3 81.3h4"/>
<path stroke="#d8ef9b" d="M23.3 -6.7h12M19.3 -2.7h4M39.3 -2.7h4M15.3 5.3h4M15.3 9.3h4M15.3 13.3h4M19.3 21.3h4M35.3 21.3h4M19.3 25.3h16M15.3 29.3h4M31.3 29.3h4M11.3 33.3h4M35.3 33.3h4M3.3 37.3h4M39.3 37.3h4M-0.7 41.3h4M43.3 41.3h4M47.3 45.3h4M-4.7 49.3h4M51.3 49.3h4M-8.7 53.3h4M-8.7 57.3h4M-12.7 65.3h4M-8.7 69.3h4M-8.7 73.3h4M-4.7 77.3h4M3.3 81.3h4M11.3 85.3h4"/>
<path stroke="#e4f498" d="M35.3 -6.7h4M15.3 1.3h4M43.3 1.3h4M43.3 5.3h4M43.3 9.3h4M15.3 17.3h4M39.3 17.3h4M15.3 21.3h4M15.3 25.3h4M35.3 25.3h4M11.3 29.3h4M35.3 29.3h4M7.3 33.3h4M-4.7 45.3h4M-8.7 49.3h4M-12.7 53.3h4M55.3 53.3h4M-12.7 57.3h4M-12.7 61.3h4M59.3 61.3h4M-12.7 69.3h4M-12.7 73.3h4M-8.7 77.3h4M-4.7 81.3h8M3.3 85.3h8"/>
<path stroke="#eaf79e" d="M27.3 -10.7h8M19.3 -6.7h4M39.3 -6.7h4M15.3 -2.7h4M43.3 -2.7h4M11.3 5.3h4M11.3 9.3h4M11.3 13.3h4M43.3 13.3h4M11.3 17.3h4M11.3 21.3h4M39.3 21.3h4M11.3 25.3h4M7.3 29.3h4M39.3 29.3h4M3.3 33.3h4M39.3 33.3h4M-0.7 37.3h4M43.3 37.3h4M-4.7 41.3h4M47.3 41.3h4M-8.7 45.3h4M51.3 45.3h4M-12.7 49.3h4M55.3 49.3h4M-16.7 53.3h4M-16.7 57.3h4M59.3 57.3h4M-16.7 61.3h4M-16.7 65.3h4M-16.7 69.3h4M-16.7 73.3h4M-12.7 77.3h4M-8.7 81.3h4M-4.7 85.3h8"/>
<path stroke="#f0f9a7" d="M23.3 -10.7h4M35.3 -10.7h4M43.3 -6.7h4M11.3 1.3h4M47.3 1.3h4M47.3 5.3h4M47.3 9.3h4M43.3 17.3h4M7.3 21.3h4M43.3 21.3h4M7.3 25.3h4M39.3 25.3h4M3.3 29.3h4M-0.7 33.3h4M43.3 33.3h4M-8.7 37.3h8M47.3 37.3h4M-12.7 41.3h8M51.3 41.3h4M-12.7 45.3h4M-16.7 49.3h4M-20.7 53.3h4M59.3 53.3h4M-20.7 57.3h4M-20.7 61.3h4M-20.7 65.3h4M-20.7 69.3h4M-20.7 73.3h4M-16.7 77.3h4M-16.7 81.3h8M-12.7 85.3h8"/>
<path stroke="#f5fbaf" d="M27.3 -14.7h8M19.3 -10.7h4M39.3 -10.7h4M15.3 -6.7h4M11.3 -2.7h4M47.3 -2.7h4M7.3 9.3h4M7.3 13.3h4M47.3 13.3h4M7.3 17.3h4M47.3 17.3h4M3.3 21.3h4M3.3 25.3h4M43.3 25.3h4M-4.7 29.3h8M43.3 29.3h4M-8.7 33.3h8M47.3 33.3h4M-12.7 37.3h4M51.3 37.3h4M-16.7 41.3h4M-20.7 45.3h8M55.3 45.3h4M-20.7 49.3h4M59.3 49.3h4M-24.7 53.3h4M-24.7 57.3h4M-24.7 61.3h4M-24.7 65.3h4M-24.7 69.3h4M-24.7 73.3h4M-24.7 77.3h8M-20.7 81.3h4M-16.7 85.3h4"/>
<path stroke="#fafdb7" d="M23.3 -14.7h4M35.3 -14.7h8M15.3 -10.7h4M43.3 -10.7h4M11.3 -6.7h4M47.3 -6.7h4M51.3 -2.7h4M7.3 1.3h4M51.3 1.3h4M7.3 5.3h4M51.3 5.3h4M51.3 9.3h4M3.3 13.3h4M51.3 13.3h4M3.3 17.3h4M-0.7 21.3h4M47.3 21.3h4M-4.7 25.3h8M47.3 25.3h4M-8.7 29.3h4M47.3 29.3h4M-12.7 33.3h4M51.3 33.3h4M-20.7 37.3h8M55.3 37.3h4M-24.7 41.3h8M55.3 41.3h4M-24.7 45.3h4M59.3 45.3h4M-28.7 49.3h8M63.3 49.3h4M-28.7 53.3h4M63.3 53.3h4M-32.7 57.3h8M-32.7 61.3h8M-32.7 65.3h8M-32.7 69.3h8M-32.7 73.3h8M-28.7 77.3h4M-28.7 81.3h8"/>
<path stroke="#fffebe" d="M23.3 -18.7h20M19.3 -14.7h4M43.3 -14.7h8M47.3 -10.7h8M51.3 -6.7h4M7.3 -2.7h4M55.3 -2.7h4M55.3 1.3h4M3.3 5.3h4M55.3 5.3h4M3.3 9.3h4M55.3 9.3h4M-0.7 13.3h4M55.3 13.3h4M-4.7 17.3h8M51.3 17.3h8M-8.7 21.3h8M51.3 21.3h8M-12.7 25.3h8M51.3 25.3h8M-20.7 29.3h12M51.3 29.3h8M-24.7 33.3h12M55.3 33.3h8M-28.7 37.3h8M59.3 37.3h4M-32.7 41.3h8M59.3 41.3h8M-32.7 45.3h8M63.3 45.3h8M-36.7 49.3h8M67.3 49.3h4M-36.7 53.3h8M-40.7 57.3h8M-40.7 61.3h8M-40.7 65.3h8M-40.7 69.3h8M-40.7 73.3h8M-40.7 77.3h12"/>
<path stroke="#fff8b4" d="M39.3 -74.7h4M39.3 -70.7h12M43.3 -66.7h12M43.3 -62.7h16M43.3 -58.7h20M43.3 -54.7h24M43.3 -50.7h28M43.3 -46.7h28M43.3 -42.7h32M43.3 -38.7h36M43.3 -34.7h36M39.3 -30.7h40M31.3 -26.7h52M23.3 -22.7h60M19.3 -18.7h4M43.3 -18.7h40M15.3 -14.7h4M51.3 -14.7h36M11.3 -10.7h4M55.3 -10.7h32M7.3 -6.7h4M55.3 -6.7h32M3.3 -2.7h4M59.3 -2.7h28M3.3 1.3h4M59.3 1.3h28M-0.7 5.3h4M59.3 5.3h28M-4.7 9.3h8M59.3 9.3h28M-8.7 13.3h8M59.3 13.3h28M-12.7 17.3h8M59.3 17.3h24M-20.7 21.3h12M59.3 21.3h24M-28.7 25.3h16M59.3 25.3h24M-32.7 29.3h12M59.3 29.3h24M-36.7 33.3h12M63.3 33.3h16M-40.7 37.3h12M63.3 37.3h16M-44.7 41.3h12M67.3 41.3h8M-48.7 45.3h16M71.3 45.3h4M-52.7 49.3h16M-52.7 53.3h16M-56.7 57.3h16M-60.7 61.3h20M-56.7 65.3h16M-52.7 69.3h12M-44.7 73.3h4"/>
<path stroke="#fff2aa" d="M-0.7 -82.7h28M7.3 -78.7h28M15.3 -74.7h24M19.3 -70.7h20M19.3 -66.7h24M23.3 -62.7h20M23.3 -58.7h20M27.3 -54.7h16M27.3 -50.7h16M27.3 -46.7h16M27.3 -42.7h16M27.3 -38.7h16M23.3 -34.7h20M23.3 -30.7h16M19.3 -26.7h12M15.3 -22.7h8M11.3 -18.7h8M7.3 -14.7h8M7.3 -10.7h4M3.3 -6.7h4M-0.7 -2.7h4M-4.7 1.3h8M-8.7 5.3h8M-12.7 9.3h8M-20.7 13.3h12M-28.7 17.3h16M-36.7 21.3h16M-44.7 25.3h16M-48.7 29.3h16M-52.7 33.3h16M-52.7 37.3h12M-56.7 41.3h12M-60.7 45.3h12M-64.7 49.3h12M-68.7 53.3h16M-64.7 57.3h8"/>
<path stroke="#feeb9d" d="M-24.7 -82.7h24M-36.7 -78.7h8M-20.7 -78.7h28M-4.7 -74.7h20M3.3 -70.7h16M7.3 -66.7h12M11.3 -62.7h12M15.3 -58.7h8M15.3 -54.7h12M15.3 -50.7h12M15.3 -46.7h12M15.3 -42.7h12M15.3 -38.7h12M15.3 -34.7h8M15.3 -30.7h8M11.3 -26.7h8M11.3 -22.7h4M7.3 -18.7h4M3.3 -14.7h4M-0.7 -10.7h8M-0.7 -6.7h4M-4.7 -2.7h4M-12.7 1.3h8M-16.7 5.3h8M-24.7 9.3h12M-36.7 13.3h16M-44.7 17.3h16M-48.7 21.3h12M-52.7 25.3h8M-56.7 29.3h8M-60.7 33.3h8M-60.7 37.3h8M-68.7 41.3h12M-72.7 45.3h12M-72.7 49.3h8"/>
<path stroke="#fee593" d="M-28.7 -78.7h8M-44.7 -74.7h40M-48.7 -70.7h8M-8.7 -70.7h12M-56.7 -66.7h4M-0.7 -66.7h8M3.3 -62.7h8M7.3 -58.7h8M7.3 -54.7h8M11.3 -50.7h4M11.3 -46.7h4M11.3 -42.7h4M11.3 -38.7h4M11.3 -34.7h4M7.3 -30.7h8M7.3 -26.7h4M3.3 -22.7h8M3.3 -18.7h4M-0.7 -14.7h4M-4.7 -10.7h4M-8.7 -6.7h8M-12.7 -2.7h8M-20.7 1.3h8M-28.7 5.3h12M-40.7 9.3h16M-44.7 13.3h8M-52.7 17.3h8M-52.7 21.3h4M-56.7 25.3h4M-60.7 29.3h4M-64.7 33.3h4M-68.7 37.3h8M-76.7 41.3h8"/>
<path stroke="#fede89" d="M-40.7 -70.7h32M-52.7 -66.7h16M-16.7 -66.7h16M-60.7 -62.7h8M-4.7 -62.7h8M-64.7 -58.7h4M-0.7 -58.7h8M3.3 -54.7h4M3.3 -50.7h8M3.3 -46.7h8M3.3 -42.7h8M3.3 -38.7h8M3.3 -34.7h8M3.3 -30.7h4M3.3 -26.7h4M-0.7 -22.7h4M-4.7 -18.7h8M-4.7 -14.7h4M-8.7 -10.7h4M-16.7 -6.7h8M-20.7 -2.7h8M-28.7 1.3h8M-40.7 5.3h12M-48.7 9.3h8M-52.7 13.3h8M-56.7 17.3h4M-60.7 21.3h8M-60.7 25.3h4M-64.7 29.3h4M-72.7 33.3h8M-76.7 37.3h8"/>
<path stroke="#fed27f" d="M-36.7 -66.7h20M-52.7 -62.7h16M-16.7 -62.7h12M-60.7 -58.7h12M-8.7 -58.7h8M-68.7 -54.7h8M-4.7 -54.7h8M-0.7 -50.7h4M-0.7 -46.7h4M-0.7 -42.7h4M-0.7 -38.7h4M-0.7 -34.7h4M-0.7 -30.7h4M-4.7 -26.7h8M-4.7 -22.7h4M-8.7 -18.7h4M-12.7 -14.7h8M-16.7 -10.7h8M-24.7 -6.7h8M-32.7 -2.7h12M-40.7 1.3h12M-48.7 5.3h8M-52.7 9.3h4M-56.7 13.3h4M-60.7 17.3h4M-64.7 21.3h4M-68.7 25.3h8M-72.7 29.3h8M-80.7 33.3h8"/>
<path stroke="#fec877" d="M-36.7 -62.7h20M-48.7 -58.7h12M-20.7 -58.7h12M-60.7 -54.7h12M-12.7 -54.7h8M-68.7 -50.7h8M-8.7 -50.7h8M-4.7 -46.7h4M-4.7 -42.7h4M-4.7 -38.7h4M-4.7 -34.7h4M-4.7 -30.7h4M-8.7 -26.7h4M-8.7 -22.7h4M-12.7 -18.7h4M-16.7 -14.7h4M-24.7 -10.7h8M-32.7 -6.7h8M-40.7 -2.7h8M-48.7 1.3h8M-52.7 5.3h4M-56.7 9.3h4M-60.7 13.3h4M-64.7 17.3h4M-68.7 21.3h4M-72.7 25.3h4M-80.7 29.3h8"/>
<path stroke="#fdbf6f" d="M-36.7 -58.7h16M-48.7 -54.7h12M-20.7 -54.7h8M-60.7 -50.7h12M-16.7 -50.7h8M-72.7 -46.7h8M-12.7 -46.7h8M-8.7 -42.7h4M-8.7 -38.7h4M-8.7 -34.7h4M-8.7 -30.7h4M-12.7 -26.7h4M-16.7 -22.7h8M-20.7 -18.7h8M-24.7 -14.7h8M-32.7 -10.7h8M-40.7 -6.7h8M-48.7 -2.7h8M-52.7 1.3h4M-56.7 5.3h4M-60.7 9.3h4M-64.7 13.3h4M-68.7 17.3h4M-72.7 21.3h4M-84.7 25.3h12"/>
<path stroke="#fdb365" d="M-36.7 -54.7h16M-48.7 -50.7h12M-24.7 -50.7h8M-64.7 -46.7h16M-16.7 -46.7h4M-76.7 -42.7h12M-16.7 -42.7h8M-12.7 -38.7h4M-12.7 -34.7h4M-16.7 -30.7h8M-16.7 -26.7h4M-20.7 -22.7h4M-24.7 -18.7h4M-32.7 -14.7h8M-40.7 -10.7h8M-48.7 -6.7h8M-52.7 -2.7h4M-56.7 1.3h4M-60.7 5.3h4M-64.7 9.3h4M-68.7 13.3h4M-72.7 17.3h4M-84.7 21.3h12"/>
<path stroke="#fca85e" d="M-36.7 -50.7h12M-48.7 -46.7h12M-28.7 -46.7h12M-64.7 -42.7h16M-20.7 -42.7h4M-76.7 -38.7h12M-20.7 -38.7h8M-20.7 -34.7h8M-20.7 -30.7h4M-24.7 -26.7h8M-24.7 -22.7h4M-32.7 -18.7h8M-44.7 -14.7h12M-48.7 -10.7h8M-56.7 -6.7h8M-56.7 -2.7h4M-60.7 1.3h4M-64.7 5.3h4M-68.7 9.3h4M-72.7 13.3h4M-84.7 17.3h12"/>
<path stroke="#fa9b58" d="M-36.7 -46.7h8M-48.7 -42.7h28M-64.7 -38.7h20M-28.7 -38.7h8M-80.7 -34.7h24M-28.7 -34.7h8M-28.7 -30.7h8M-28.7 -26.7h4M-36.7 -22.7h12M-48.7 -18.7h16M-52.7 -14.7h8M-56.7 -10.7h8M-60.7 -6.7h4M-60.7 -2.7h4M-64.7 1.3h4M-68.7 5.3h4M-84.7 13.3h4M-76.7 13.3h4"/>
<path stroke="#f88c51" d="M-44.7 -38.7h16M-56.7 -34.7h28M-80.7 -30.7h52M-56.7 -26.7h28M-56.7 -22.7h20M-56.7 -18.7h8M-60.7 -14.7h8M-60.7 -10.7h4M-64.7 -6.7h4M-64.7 -2.7h4M-68.7 1.3h4M-72.7 5.3h4M-84.7 9.3h4M-76.7 9.3h8M-80.7 13.3h4"/>
<path stroke="#f67f4b" d="M-80.7 -26.7h24M-84.7 -22.7h4M-64.7 -22.7h8M-64.7 -18.7h8M-64.7 -14.7h4M-64.7 -10.7h4M-68.7 -2.7h4M-72.7 1.3h4M-84.7 5.3h4M-76.7 5.3h4M-80.7 9.3h4"/>
<path stroke="#f57245" d="M-80.7 -22.7h16M-84.7 -18.7h4M-68.7 -18.7h4M-84.7 -14.7h4M-68.7 -14.7h4M-68.7 -10.7h4M-68.7 -6.7h4M-84.7 -2.7h4M-72.7 -2.7h4M-84.7 1.3h12M-80.7 5.3h4"/>
<path stroke="#ef6645" d="M-80.7 -18.7h12M-80.7 -14.7h12M-84.7 -10.7h16M-84.7 -6.7h16M-80.7 -2.7h8"/>
</g>
<path class="ct" d="M44.2 81 47 78 47.8 73 46.9 68 44.1 62 40 57.1 36 54.2 31 52.5 27 53 24.2 55 22.5 58 22 62 22.9 66 25.4 71 28.7 75 33 78.7 37.4 81M53.4 81 53.8 75 52.7 69 50.3 63 46.6 57 42 51.8 37 48 32 45.8 27 45.1 22 46.3 18 49.3 15.1 54 14.1 60 15 65 17.3 70 21.9 76 27 81M32.5 13 34.2 12 36 9.9 37 7 36.9 5 36 2.7 34 0.7 32 -0.1 29 0 27 1 25 3.2 24.1 6 24.4 9 26 11.8 27.7 13 30 13.5 32.5 13M59.7 81 59.2 74 56.9 66 53.6 59 48.9 52 43 45.8 37 41.3 31 38.5 25 37.5 21 38.1 18 39.3 12 43.5 7.1 50 5.4 54 4.4 58 4.6 64 6.7 69 10.6 74 18.2 81M66.7 81 65.7 74 64.1 68 61.3 61 58.1 55 51 45.1 38.8 33 35.7 29 35.2 27 35.7 25 42 16.4 44.2 12 45.2 8 45.1 4 43.5 -1 40.3 -5 36 -7.6 31 -8.4 26 -7.4 22 -5.1 19 -2 16.9 2 15.7 9 16.3 14 18.3 22 18.2 24 17.3 26 14.3 29 5 36.4 -1.6 43 -7 50 -10.5 57 -11.7 64 -11.2 68 -10.2 71 -6 77 -0.6 81M80.1 81 77.2 69 72.5 57 67.6 48 57 32.7 54.6 28 54.2 23 56.5 13 57.3 7 56.8 1 54.9 -5 51 -11 46 -15.4 40 -18.1 34 -19 29 -18.5 24 -16.9 19 -14 15 -10.6 11.9 -7 8.7 -2 3 12.7 0 17.7 -4.4 22 -22 36 -26 40.1 -29.7 45 -33.6 53 -35.6 63 -35 72 -32.2 81M-81 -53.9 -39 -67.7 -29 -69.3 -20 -69 -14 -67.7 -9 -65.7 -4.5 -63 -1 -60 2.2 -56 4.7 -51 6 -46 6.4 -41 5.2 -33 2 -25 -3.2 -17 -10 -9.8 -16 -5.1 -22 -1.5 -40 6.2 -46 9.5 -52 14.5 -63 27.1 -68 31.9 -74 35.5 -78 36.7 -81 36.8M-81 -34.7 -74 -37.6 -58 -39.8 -41 -45.7 -33 -47 -28 -46.4 -23.4 -44 -20.4 -40 -19.6 -36 -20 -32.6 -21.4 -29 -26.2 -23 -32.2 -19 -46 -13.4 -51 -10.4 -56 -5.5 -65.9 8 -70 12.6 -73 15 -76 16.5 -81 17"/>
</g>
<use href="#hd"/>
</g>
<text x="92.6" y="0" class="tt" transform="translate(0 494.7) scale(1 1.12) translate(0 0)">[23] Bra=0.81</text>
<g transform="translate(317.5 583.4)">
<g clip-path="url(#dc)"><g filter="url(#bl)" class="fd">
<path stroke="#4d65ad" d="M-48.7 21.3h4M-48.7 25.3h8"/>
<path stroke="#4273b3" d="M-52.7 21.3h4M-44.7 21.3h4M-52.7 25.3h4"/>
<path stroke="#3a7eb8" d="M-40.7 25.3h4M-48.7 29.3h8"/>
<path stroke="#3389bd" d="M-52.7 17.3h8M-56.7 21.3h4M-40.7 21.3h4M-56.7 25.3h4M-52.7 29.3h4"/>
<path stroke="#3f97b7" d="M-44.7 17.3h4M-40.7 29.3h4"/>
<path stroke="#49a2b2" d="M-56.7 17.3h4M-48.7 33.3h8"/>
<path stroke="#54aead" d="M-40.7 17.3h4M-36.7 25.3h4M-56.7 29.3h4M-36.7 29.3h4"/>
<path stroke="#60bba8" d="M-52.7 13.3h8M-60.7 21.3h4M-36.7 21.3h4M-60.7 25.3h4M-52.7 33.3h4M-40.7 33.3h4"/>
<path stroke="#6bc4a5" d="M-56.7 13.3h4M-44.7 13.3h4M-60.7 17.3h4"/>
<path stroke="#79c9a5" d="M-36.7 17.3h4M-60.7 29.3h4M-56.7 33.3h4M-36.7 33.3h4"/>
<path stroke="#89d0a4" d="M-40.7 13.3h4M-64.7 21.3h4M-32.7 21.3h4M-32.7 25.3h4M-32.7 29.3h4M-48.7 37.3h8"/>
<path stroke="#97d5a4" d="M-60.7 13.3h4M-64.7 17.3h4M-64.7 25.3h4M-52.7 37.3h4M-40.7 37.3h4"/>
<path stroke="#a4daa4" d="M-56.7 9.3h12M-64.7 29.3h4M-60.7 33.3h4M-32.7 33.3h4M-36.7 37.3h4"/>
<path stroke="#b3e0a2" d="M-44.7 9.3h4M-64.7 13.3h4M-36.7 13.3h4M-32.7 17.3h4M-28.7 25.3h4M-56.7 37.3h4"/>
<path stroke="#bfe5a0" d="M-60.7 9.3h4M-40.7 9.3h4M-68.7 21.3h4M-28.7 21.3h4M-68.7 25.3h4M-28.7 29.3h4M-44.7 41.3h4"/>
<path stroke="#caea9e" d="M-68.7 17.3h4M-64.7 33.3h4M-28.7 33.3h4M-60.7 37.3h4M-32.7 37.3h4M-52.7 41.3h8M-40.7 41.3h4"/>
<path stroke="#d8ef9b" d="M-56.7 5.3h12M-64.7 9.3h4M-36.7 9.3h4M-68.7 13.3h4M-32.7 13.3h4M-28.7 17.3h4M-68.7 29.3h4M-36.7 41.3h4"/>
<path stroke="#e4f498" d="M-60.7 5.3h4M-44.7 5.3h4M-72.7 17.3h4M-72.7 21.3h4M-24.7 21.3h4M-72.7 25.3h4M-24.7 25.3h4M-24.7 29.3h4M-68.7 33.3h4M-64.7 37.3h4M-28.7 37.3h4M-56.7 41.3h4M-32.7 41.3h4"/>
<path stroke="#eaf79e" d="M-64.7 5.3h4M-40.7 5.3h4M-68.7 9.3h4M-72.7 13.3h4M-28.7 13.3h4M-72.7 29.3h4M-24.7 33.3h4M-60.7 41.3h4M-48.7 45.3h12"/>
<path stroke="#f0f9a7" d="M-60.7 1.3h16M-68.7 5.3h4M-72.7 9.3h4M-32.7 9.3h4M-24.7 17.3h4M-76.7 21.3h4M-20.7 25.3h4M-20.7 29.3h4M-68.7 37.3h4M-24.7 37.3h4M-28.7 41.3h4M-52.7 45.3h4M-36.7 45.3h4"/>
<path stroke="#f5fbaf" d="M-64.7 1.3h4M-44.7 1.3h4M-72.7 5.3h4M-36.7 5.3h4M-76.7 13.3h4M-24.7 13.3h4M-76.7 17.3h4M-20.7 21.3h4M-76.7 25.3h4M-76.7 29.3h4M-72.7 33.3h4M-20.7 33.3h4M-64.7 41.3h4M-60.7 45.3h8M-32.7 45.3h4"/>
<path stroke="#fafdb7" d="M-64.7 -2.7h16M-72.7 1.3h8M-40.7 1.3h4M-76.7 5.3h4M-76.7 9.3h4M-28.7 9.3h4M-80.7 13.3h4M-80.7 17.3h4M-20.7 17.3h4M-80.7 21.3h4M-80.7 25.3h4M-16.7 25.3h4M-16.7 29.3h4M-76.7 33.3h4M-72.7 37.3h4M-20.7 37.3h4M-68.7 41.3h4M-24.7 41.3h4M-64.7 45.3h4M-28.7 45.3h4M-56.7 49.3h24"/>
<path stroke="#fffebe" d="M-64.7 -6.7h16M-72.7 -2.7h8M-48.7 -2.7h8M-76.7 1.3h4M-80.7 5.3h4M-32.7 5.3h4M-84.7 9.3h8M-24.7 9.3h4M-84.7 13.3h4M-20.7 13.3h4M-84.7 17.3h4M-16.7 17.3h4M-84.7 21.3h4M-16.7 21.3h4M-84.7 25.3h4M-80.7 29.3h4M-80.7 33.3h4M-16.7 33.3h4M-76.7 37.3h4M-16.7 37.3h4M-76.7 41.3h8M-20.7 41.3h4M-72.7 45.3h8M-24.7 45.3h4M-64.7 49.3h8M-32.7 49.3h4M-52.7 53.3h12"/>
<path stroke="#fff8b4" d="M-24.7 -82.7h52M-36.7 -78.7h72M-44.7 -74.7h88M-48.7 -70.7h100M-56.7 -66.7h112M-60.7 -62.7h120M-64.7 -58.7h128M-68.7 -54.7h136M-68.7 -50.7h140M-72.7 -46.7h144M-76.7 -42.7h152M-76.7 -38.7h156M-80.7 -34.7h160M-80.7 -30.7h160M-80.7 -26.7h32M-28.7 -26.7h112M-84.7 -22.7h32M-20.7 -22.7h104M-84.7 -18.7h32M-16.7 -18.7h100M-84.7 -14.7h32M-12.7 -14.7h100M-84.7 -10.7h36M-8.7 -10.7h96M-84.7 -6.7h20M-48.7 -6.7h4M-8.7 -6.7h96M-84.7 -2.7h12M-4.7 -2.7h92M-84.7 1.3h8M-36.7 1.3h4M-4.7 1.3h92M-84.7 5.3h4M-28.7 5.3h4M-0.7 5.3h88M-20.7 9.3h12M19.3 9.3h68M-16.7 13.3h12M27.3 13.3h60M-12.7 17.3h8M35.3 17.3h48M-12.7 21.3h8M39.3 21.3h44M-12.7 25.3h8M47.3 25.3h36M-12.7 29.3h8M51.3 29.3h32M-12.7 33.3h4M51.3 33.3h28M-12.7 37.3h4M55.3 37.3h24M-16.7 41.3h4M59.3 41.3h16M-20.7 45.3h4M59.3 45.3h16M-72.7 49.3h8M-28.7 49.3h8M63.3 49.3h8M-68.7 53.3h16M-40.7 53.3h12M63.3 53.3h4M-64.7 57.3h24"/>
<path stroke="#fff2aa" d="M-48.7 -26.7h20M-52.7 -22.7h32M-52.7 -18.7h12M-28.7 -18.7h12M-52.7 -14.7h8M-20.7 -14.7h8M-48.7 -10.7h4M-20.7 -10.7h12M-44.7 -6.7h4M-16.7 -6.7h8M-40.7 -2.7h4M-16.7 -2.7h12M-32.7 1.3h4M-16.7 1.3h12M-24.7 5.3h24M-8.7 9.3h28M-4.7 13.3h32M-4.7 17.3h40M-4.7 21.3h44M-4.7 25.3h52M-4.7 29.3h56M-8.7 33.3h60M-8.7 37.3h64M-12.7 41.3h12M15.3 41.3h44M-16.7 45.3h8M23.3 45.3h36M-20.7 49.3h8M27.3 49.3h36M-28.7 53.3h12M31.3 53.3h32M-40.7 57.3h16M31.3 57.3h32M-60.7 61.3h32M35.3 61.3h28M-56.7 65.3h24M35.3 65.3h20M-52.7 69.3h16M35.3 69.3h16M-44.7 73.3h8M35.3 73.3h12M-40.7 77.3h4M35.3 77.3h4"/>
<path stroke="#feeb9d" d="M-40.7 -18.7h12M-44.7 -14.7h8M-28.7 -14.7h8M-44.7 -10.7h4M-24.7 -10.7h4M-40.7 -6.7h4M-20.7 -6.7h4M-36.7 -2.7h4M-20.7 -2.7h4M-28.7 1.3h12M-0.7 41.3h16M-8.7 45.3h32M-12.7 49.3h40M-16.7 53.3h48M-24.7 57.3h56M-28.7 61.3h64M-32.7 65.3h28M7.3 65.3h28M-36.7 69.3h28M7.3 69.3h28M-36.7 73.3h28M11.3 73.3h24M-36.7 77.3h28M7.3 77.3h28M-28.7 81.3h24M3.3 81.3h28M-16.7 85.3h32"/>
<path stroke="#fee593" d="M-36.7 -14.7h8M-40.7 -10.7h16M-36.7 -6.7h16M-32.7 -2.7h12M-4.7 65.3h12M-8.7 69.3h16M-8.7 73.3h20M-8.7 77.3h16M-4.7 81.3h8"/>
</g>
<path class="ct" d="M-43.4 27 -42 25 -42.5 23 -43.3 22 -45 21 -47 20.7 -49.7 22 -50.2 24 -49 26.2 -46 27.5 -43.4 27M-43 32 -39 30.3 -37.1 28 -36.5 25 -37.9 21 -41 18 -45 16.3 -49 16.1 -53 17.6 -55 19.8 -55.7 22 -55.5 25 -54.5 27 -52.9 29 -49.9 31 -46 32.1 -43 32M-40.8 35 -36 32.7 -33.3 29 -32.8 24 -35.1 19 -39.8 15 -45 13.1 -51 13 -56 15.1 -58.6 18 -59.7 21 -59.4 25 -57.4 29 -54 32.3 -50 34.4 -45 35.4 -40.8 35M-39.6 38 -36 36.7 -33.3 35 -31.3 33 -29.7 30 -29 27 -29.2 24 -30.1 21 -31.8 18 -37.4 13 -41 11.2 -45 10 -49 9.6 -53 10 -56 11 -59 12.8 -62 16.2 -63.5 21 -62.9 26 -60 31 -56 34.7 -51 37.2 -45 38.4 -39.6 38M-37.6 41 -34 39.7 -30 37.1 -27.3 34 -25.8 31 -25.1 27 -25.5 23 -26.6 20 -29 16.2 -32.2 13 -36.5 10 -41 7.9 -46 6.5 -51 6.3 -55 6.8 -59 8.3 -62 10.1 -66 14.9 -67.6 20 -66.9 26 -63.8 32 -58.5 37 -52 40.3 -45 41.7 -37.6 41M-36.9 45 -32 43.4 -27 40.3 -23.8 37 -21.5 33 -20.5 29 -20.6 24 -21.7 20 -24 16 -27.7 12 -33 8.1 -39 4.9 -45 2.8 -50 2 -56 2.4 -61 4 -65 6.2 -70 11.3 -71.5 14 -72.6 18 -72.3 25 -71 29 -68.7 33 -62.9 39 -55 43.5 -46 45.6 -41 45.6 -36.9 45M-81 28.3 -78.9 33 -75.4 38 -71.5 42 -67 45.5 -62 48.2 -56 50.5 -50 51.7 -43 52.1 -37 51.4 -31 49.7 -26 47.3 -21.3 44 -17.5 40 -15.1 36 -13.3 31 -12.7 26 -13.1 22 -14.5 18 -17.2 14 -20.4 11 -26.6 7 -42 -1.5 -47 -3.8 -52 -5.3 -56 -5.7 -60 -5.4 -64 -4.4 -69 -2.2 -73 0.4 -76 3.1 -79 7 -81 10.9M-24 -1.7 -26 -1.3 -29 -1.8 -34.7 -5 -36.6 -7 -38.3 -10 -38.5 -12 -37.7 -14 -36 -15.2 -33 -15.5 -29 -14.1 -26.1 -12 -23.6 -9 -22.4 -6 -22.6 -3 -24 -1.7"/>
</g>
<use href="#hd"/>
</g>
<text x="317.5" y="0" class="tt" transform="translate(0 494.7) scale(1 1.12) translate(0 0)">[24] Oth=0.45</text>
<g transform="translate(542.4 583.4)">
<g clip-path="url(#dc)"><g filter="url(#bl)" class="fd">
<path stroke="#f5fbaf" d="M-24.7 -82.7h52M-36.7 -78.7h72M-44.7 -74.7h88M-48.7 -70.7h100M-56.7 -66.7h112"/>
<path stroke="#fafdb7" d="M-60.7 -62.7h120M-64.7 -58.7h128M-68.7 -54.7h136M-68.7 -50.7h140M-72.7 -46.7h144M-76.7 -42.7h152M-76.7 -38.7h156M-80.7 -34.7h160M-80.7 -30.7h160M-80.7 -26.7h164M-84.7 -22.7h168"/>
<path stroke="#fffebe" d="M-84.7 -18.7h168M-84.7 -14.7h172M-84.7 -10.7h172M-84.7 -6.7h172M-84.7 -2.7h172M-84.7 1.3h172M-84.7 5.3h172M-84.7 9.3h172M-84.7 13.3h100M27.3 13.3h60M-84.7 17.3h84M47.3 17.3h36"/>
<path stroke="#fff8b4" d="M15.3 13.3h12M-0.7 17.3h48M-84.7 21.3h168M-84.7 25.3h100M31.3 25.3h52M-80.7 29.3h88M39.3 29.3h44M-80.7 33.3h80M43.3 33.3h36M-76.7 37.3h72M51.3 37.3h28M-76.7 41.3h68M51.3 41.3h24M-72.7 45.3h60M55.3 45.3h20M-72.7 49.3h60M59.3 49.3h12M-68.7 53.3h52M63.3 53.3h4M-64.7 57.3h44M-60.7 61.3h36"/>
<path stroke="#fff2aa" d="M15.3 25.3h16M7.3 29.3h32M-0.7 33.3h8M35.3 33.3h8M-4.7 37.3h8M43.3 37.3h8M-8.7 41.3h8M43.3 41.3h8M-12.7 45.3h8M47.3 45.3h8M-12.7 49.3h8M51.3 49.3h8M-16.7 53.3h8M51.3 53.3h12M-20.7 57.3h12M55.3 57.3h8M-24.7 61.3h12M55.3 61.3h8M-56.7 65.3h44M-52.7 69.3h40M-44.7 73.3h32M-40.7 77.3h24M-28.7 81.3h12"/>
<path stroke="#feeb9d" d="M7.3 33.3h12M23.3 33.3h12M3.3 37.3h8M35.3 37.3h8M-0.7 41.3h4M39.3 41.3h4M-4.7 45.3h4M43.3 45.3h4M-4.7 49.3h4M47.3 49.3h4M-8.7 53.3h4M47.3 53.3h4M-8.7 57.3h4M51.3 57.3h4M-12.7 61.3h4M51.3 61.3h4M-12.7 65.3h4M51.3 65.3h4M-12.7 69.3h4M-12.7 73.3h4M-16.7 77.3h8M-16.7 81.3h8M-16.7 85.3h8"/>
<path stroke="#fee593" d="M19.3 33.3h4M11.3 37.3h4M31.3 37.3h4M3.3 41.3h4M35.3 41.3h4M-0.7 45.3h4M39.3 45.3h4M-0.7 49.3h4M43.3 49.3h4M-4.7 53.3h4M47.3 57.3h4M-8.7 61.3h4M-8.7 65.3h4M-8.7 69.3h4"/>
<path stroke="#fede89" d="M15.3 37.3h16M7.3 41.3h4M31.3 41.3h4M3.3 45.3h4M-0.7 53.3h4M43.3 53.3h4M-4.7 57.3h4M-4.7 61.3h4M47.3 61.3h4M47.3 65.3h4M-8.7 73.3h4M-8.7 77.3h4M-8.7 81.3h4M-8.7 85.3h4"/>
<path stroke="#fed27f" d="M11.3 41.3h8M27.3 41.3h4M7.3 45.3h4M35.3 45.3h4M3.3 49.3h4M39.3 49.3h4M43.3 57.3h4M-4.7 65.3h4M-4.7 69.3h4M47.3 69.3h4"/>
<path stroke="#fec877" d="M19.3 41.3h8M31.3 45.3h4M35.3 49.3h4M39.3 53.3h4M-0.7 57.3h4M43.3 61.3h4M-4.7 73.3h4M-4.7 77.3h4M-4.7 81.3h4M-4.7 85.3h4"/>
<path stroke="#fdbf6f" d="M11.3 45.3h4M27.3 45.3h4M7.3 49.3h4M3.3 53.3h4M39.3 57.3h4M-0.7 61.3h4M43.3 65.3h4M43.3 69.3h4"/>
<path stroke="#fdb365" d="M15.3 45.3h12M31.3 49.3h4M35.3 53.3h4M3.3 57.3h4M-0.7 65.3h4M-0.7 69.3h4M43.3 73.3h4"/>
<path stroke="#fca85e" d="M11.3 49.3h4M7.3 53.3h4M39.3 61.3h4M-0.7 73.3h4M-0.7 77.3h4M-0.7 81.3h4M-0.7 85.3h4"/>
<path stroke="#fa9b58" d="M15.3 49.3h4M27.3 49.3h4M35.3 57.3h4M3.3 61.3h4M39.3 65.3h4"/>
<path stroke="#f88c51" d="M19.3 49.3h8M11.3 53.3h4M31.3 53.3h4M7.3 57.3h4M3.3 65.3h4M39.3 69.3h4M39.3 73.3h4"/>
<path stroke="#f67f4b" d="M35.3 61.3h4M3.3 69.3h4M3.3 85.3h4"/>
<path stroke="#f57245" d="M15.3 53.3h4M27.3 53.3h4M31.3 57.3h4M7.3 61.3h4M3.3 73.3h4M3.3 77.3h4M3.3 81.3h4"/>
<path stroke="#ef6645" d="M19.3 53.3h8M11.3 57.3h4M35.3 65.3h4"/>
<path stroke="#e95c47" d="M7.3 65.3h4M35.3 69.3h4"/>
<path stroke="#e3534a" d="M27.3 57.3h4M31.3 61.3h4M35.3 73.3h4M35.3 77.3h4"/>
<path stroke="#dc484c" d="M15.3 57.3h4M23.3 57.3h4M11.3 61.3h4M7.3 69.3h4M7.3 85.3h4"/>
<path stroke="#d63f4f" d="M19.3 57.3h4M31.3 65.3h4M7.3 73.3h4M7.3 77.3h4M7.3 81.3h4"/>
<path stroke="#cb334d" d="M27.3 61.3h4M11.3 65.3h4"/>
<path stroke="#be254a" d="M15.3 61.3h4M31.3 69.3h4"/>
<path stroke="#b41947" d="M19.3 61.3h8M15.3 65.3h16M11.3 69.3h20M11.3 73.3h24M11.3 77.3h24M11.3 81.3h20M11.3 85.3h4"/>
</g>
<path class="ct" d="M-81 50.4 -35 50.4 -25 49.3 -21 47.8 -18 45.9 -3 32.3 5 26.7 14 22.9 23 21.8 32 23.2 41 27.2 49 33 62 45 67 48.2 73 49.9 81 50.4M-6.8 81 -6.4 73 -4.7 64 -1.9 56 2 49 7 43.1 12 39.4 17 37.2 23 36.4 29 37.5 34 39.9 39.1 44 43.9 50 47.5 57 49.9 64 51.5 72 52 81M-1 81 -0.8 73 0.5 66 2.4 60 5.6 54 9.7 49 14 45.8 18 44 23 43.4 28 44.3 32 46.3 36.5 50 40.2 55 43.1 61 45 67 46 74 46.2 81M2.9 81 2.9 75 3.7 69 5.5 63 8 58 11 54 15 50.7 19 49 23 48.5 27 49.2 31 51.2 34.2 54 37.2 58 39.7 63 41.5 69 42.3 75 42.3 81M6.1 81 6 75 6.7 70 8.2 65 10.2 61 13 57.3 16 54.9 19 53.4 23 52.9 27 53.7 30 55.4 33 58.2 35.6 62 37.4 66 38.7 71 39.2 76 39.1 81M9 81 9.3 72 10.3 68 12.1 64 14.3 61 17 58.7 20 57.3 23 56.9 26 57.6 28.6 59 31 61.1 33.1 64 34.9 68 35.9 72 36.2 81M12 81 11.9 74 14.1 67 18 62.6 20 61.5 23 61.1 25 61.5 27.8 63 31.1 67 33.3 74 33.2 81"/>
</g>
<use href="#hd"/>
</g>
<text x="542.4" y="0" class="tt" transform="translate(0 494.7) scale(1 1.12) translate(0 0)">[25] Bra=0.61</text>
<g transform="translate(767.3 583.4)">
<g clip-path="url(#dc)"><g filter="url(#bl)" class="fd">
<path stroke="#6bc4a5" d="M23.3 -78.7h8M27.3 -74.7h8"/>
<path stroke="#79c9a5" d="M19.3 -78.7h4M31.3 -78.7h4M19.3 -74.7h8M35.3 -74.7h4"/>
<path stroke="#89d0a4" d="M19.3 -82.7h8M15.3 -78.7h4M39.3 -74.7h4M27.3 -70.7h8M-44.7 61.3h4M-52.7 65.3h12M-52.7 69.3h12"/>
<path stroke="#97d5a4" d="M15.3 -82.7h4M11.3 -78.7h4M15.3 -74.7h4M23.3 -70.7h4M35.3 -70.7h8M-48.7 57.3h16M-52.7 61.3h8M-40.7 61.3h8M-56.7 65.3h4M-40.7 65.3h8M-40.7 69.3h4M-44.7 73.3h4"/>
<path stroke="#a4daa4" d="M11.3 -82.7h4M11.3 -74.7h4M19.3 -70.7h4M-44.7 53.3h16M-52.7 57.3h4M-32.7 57.3h4M-56.7 61.3h4M-32.7 61.3h4M-32.7 65.3h4M-36.7 69.3h4M-40.7 73.3h4"/>
<path stroke="#b3e0a2" d="M7.3 -82.7h4M7.3 -78.7h4M15.3 -70.7h4M43.3 -70.7h4M-44.7 49.3h20M-52.7 53.3h8M-28.7 53.3h8M-56.7 57.3h4M-28.7 57.3h4M-60.7 61.3h4M-28.7 61.3h4M-28.7 65.3h4M-32.7 69.3h4M-36.7 73.3h4M-40.7 77.3h4"/>
<path stroke="#bfe5a0" d="M3.3 -82.7h4M3.3 -78.7h4M7.3 -74.7h4M11.3 -70.7h4M47.3 -70.7h4M27.3 -66.7h16M-44.7 45.3h24M-48.7 49.3h4M-24.7 49.3h8M-56.7 53.3h4M-20.7 53.3h4M-60.7 57.3h4M-24.7 57.3h4M-24.7 61.3h4M-28.7 69.3h4M-32.7 73.3h4M-36.7 77.3h4"/>
<path stroke="#caea9e" d="M3.3 -74.7h4M19.3 -66.7h8M43.3 -66.7h8M-40.7 41.3h24M-48.7 45.3h4M-20.7 45.3h8M-56.7 49.3h8M-16.7 49.3h4M-60.7 53.3h4M-16.7 53.3h4M-64.7 57.3h4M-20.7 57.3h4M-20.7 61.3h4M-24.7 65.3h4M-24.7 69.3h4M-28.7 73.3h4M-32.7 77.3h4"/>
<path stroke="#d8ef9b" d="M-0.7 -82.7h4M-0.7 -78.7h4M7.3 -70.7h4M15.3 -66.7h4M51.3 -66.7h4M-36.7 37.3h24M-48.7 41.3h8M-16.7 41.3h8M-52.7 45.3h4M-12.7 45.3h4M-60.7 49.3h4M-12.7 49.3h4M-64.7 53.3h4M-12.7 53.3h4M-16.7 57.3h4M-16.7 61.3h4M-20.7 65.3h4M-24.7 73.3h4M-28.7 77.3h4"/>
<path stroke="#e4f498" d="M-4.7 -82.7h4M-4.7 -78.7h4M-0.7 -74.7h4M3.3 -70.7h4M11.3 -66.7h4M31.3 -62.7h20M79.3 17.3h4M75.3 21.3h8M75.3 25.3h8M75.3 29.3h8M-36.7 33.3h24M75.3 33.3h4M-44.7 37.3h8M-12.7 37.3h4M-52.7 41.3h4M-8.7 41.3h4M-60.7 45.3h8M-8.7 45.3h4M-64.7 49.3h4M-8.7 49.3h4M-68.7 53.3h4M-8.7 53.3h4M-12.7 57.3h4M-12.7 61.3h4M-16.7 65.3h4M-20.7 69.3h4M-20.7 73.3h4M-24.7 77.3h4M-28.7 81.3h4"/>
<path stroke="#eaf79e" d="M-8.7 -82.7h4M-8.7 -78.7h4M-4.7 -74.7h4M-0.7 -70.7h4M7.3 -66.7h4M23.3 -62.7h8M51.3 -62.7h8M79.3 9.3h8M75.3 13.3h12M71.3 17.3h8M71.3 21.3h4M71.3 25.3h4M-32.7 29.3h20M71.3 29.3h4M-44.7 33.3h8M-12.7 33.3h8M71.3 33.3h4M-52.7 37.3h8M-8.7 37.3h8M71.3 37.3h8M-60.7 41.3h8M-4.7 41.3h4M-64.7 45.3h4M-4.7 45.3h8M-68.7 49.3h4M-4.7 49.3h4M-4.7 53.3h4M-8.7 57.3h8M-8.7 61.3h4M-12.7 65.3h4M-16.7 69.3h8M-16.7 73.3h4M-20.7 77.3h4M-24.7 81.3h4"/>
<path stroke="#f0f9a7" d="M-12.7 -82.7h4M-12.7 -78.7h4M-8.7 -74.7h4M-4.7 -70.7h4M3.3 -66.7h4M19.3 -62.7h4M43.3 -58.7h12M79.3 5.3h8M75.3 9.3h4M71.3 13.3h4M67.3 21.3h4M-36.7 25.3h24M67.3 25.3h4M-48.7 29.3h16M-12.7 29.3h12M67.3 29.3h4M-56.7 33.3h12M-4.7 33.3h8M67.3 33.3h4M-60.7 37.3h8M-0.7 37.3h8M67.3 37.3h4M-68.7 41.3h8M-0.7 41.3h8M67.3 41.3h8M-72.7 45.3h8M3.3 45.3h4M67.3 45.3h8M-72.7 49.3h4M-0.7 49.3h8M-0.7 53.3h8M-0.7 57.3h4M-4.7 61.3h8M-8.7 65.3h8M-8.7 69.3h4M-12.7 73.3h8M-16.7 77.3h8M-20.7 81.3h8"/>
<path stroke="#f5fbaf" d="M-20.7 -82.7h8M-16.7 -78.7h4M-12.7 -74.7h4M-8.7 -70.7h4M-0.7 -66.7h4M11.3 -62.7h8M35.3 -58.7h8M55.3 -58.7h8M59.3 -54.7h4M79.3 -2.7h8M75.3 1.3h12M75.3 5.3h4M71.3 9.3h4M67.3 13.3h4M67.3 17.3h4M-44.7 21.3h32M63.3 21.3h4M-56.7 25.3h20M-12.7 25.3h12M63.3 25.3h4M-64.7 29.3h16M-0.7 29.3h8M59.3 29.3h8M-72.7 33.3h16M3.3 33.3h8M59.3 33.3h8M-76.7 37.3h16M7.3 37.3h8M59.3 37.3h8M-76.7 41.3h8M7.3 41.3h12M59.3 41.3h8M7.3 45.3h12M59.3 45.3h8M7.3 49.3h12M59.3 49.3h12M7.3 53.3h12M59.3 53.3h8M3.3 57.3h16M59.3 57.3h4M3.3 61.3h12M-0.7 65.3h12M-4.7 69.3h16M-4.7 73.3h12M-8.7 77.3h12M-12.7 81.3h12M-16.7 85.3h12"/>
<path stroke="#fafdb7" d="M-24.7 -82.7h4M-20.7 -78.7h4M-16.7 -74.7h4M-12.7 -70.7h4M-56.7 -66.7h8M-4.7 -66.7h4M-60.7 -62.7h12M3.3 -62.7h8M-64.7 -58.7h12M27.3 -58.7h8M-68.7 -54.7h20M47.3 -54.7h12M63.3 -54.7h4M-68.7 -50.7h20M55.3 -50.7h16M-72.7 -46.7h24M59.3 -46.7h12M-76.7 -42.7h32M63.3 -42.7h12M-76.7 -38.7h32M67.3 -38.7h12M-80.7 -34.7h40M71.3 -34.7h8M-80.7 -30.7h40M75.3 -30.7h4M-80.7 -26.7h44M79.3 -26.7h4M-84.7 -22.7h52M79.3 -22.7h4M-84.7 -18.7h52M-84.7 -14.7h52M83.3 -14.7h4M-84.7 -10.7h52M79.3 -10.7h8M-84.7 -6.7h52M79.3 -6.7h8M-84.7 -2.7h48M75.3 -2.7h4M-84.7 1.3h48M71.3 1.3h4M-84.7 5.3h48M71.3 5.3h4M-84.7 9.3h52M67.3 9.3h4M-84.7 13.3h60M-84.7 17.3h72M63.3 17.3h4M-84.7 21.3h40M-12.7 21.3h12M59.3 21.3h4M-84.7 25.3h28M-0.7 25.3h8M55.3 25.3h8M-80.7 29.3h16M7.3 29.3h8M51.3 29.3h8M-80.7 33.3h8M11.3 33.3h20M43.3 33.3h16M15.3 37.3h44M19.3 41.3h40M19.3 45.3h40M19.3 49.3h40M19.3 53.3h40M19.3 57.3h40M15.3 61.3h48M11.3 65.3h44M11.3 69.3h40M7.3 73.3h40M3.3 77.3h36M-0.7 81.3h32M-4.7 85.3h20"/>
<path stroke="#fffebe" d="M-36.7 -78.7h16M-44.7 -74.7h8M-20.7 -74.7h4M-48.7 -70.7h8M-16.7 -70.7h4M-48.7 -66.7h4M-12.7 -66.7h8M-48.7 -62.7h4M-4.7 -62.7h8M-52.7 -58.7h8M15.3 -58.7h12M-48.7 -54.7h4M39.3 -54.7h8M-48.7 -50.7h4M47.3 -50.7h8M-48.7 -46.7h8M51.3 -46.7h8M-44.7 -42.7h8M55.3 -42.7h8M-44.7 -38.7h12M59.3 -38.7h8M-40.7 -34.7h12M59.3 -34.7h12M-40.7 -30.7h16M63.3 -30.7h12M-36.7 -26.7h12M67.3 -26.7h12M-32.7 -22.7h12M71.3 -22.7h8M-32.7 -18.7h16M71.3 -18.7h12M-32.7 -14.7h16M75.3 -14.7h8M-32.7 -10.7h16M75.3 -10.7h4M-32.7 -6.7h12M71.3 -6.7h8M-36.7 -2.7h16M71.3 -2.7h4M-36.7 1.3h16M-36.7 5.3h16M67.3 5.3h4M-32.7 9.3h16M63.3 9.3h4M-24.7 13.3h16M63.3 13.3h4M-12.7 17.3h12M59.3 17.3h4M-0.7 21.3h8M55.3 21.3h4M7.3 25.3h12M47.3 25.3h8M15.3 29.3h36M31.3 33.3h12"/>
<path stroke="#fff8b4" d="M-36.7 -74.7h16M-40.7 -70.7h4M-20.7 -70.7h4M-44.7 -66.7h4M-16.7 -66.7h4M-44.7 -62.7h4M-12.7 -62.7h8M-44.7 -58.7h4M-8.7 -58.7h24M-44.7 -54.7h4M35.3 -54.7h4M-44.7 -50.7h4M43.3 -50.7h4M-40.7 -46.7h4M47.3 -46.7h4M-36.7 -42.7h4M51.3 -42.7h4M-32.7 -38.7h8M55.3 -38.7h4M-28.7 -34.7h8M55.3 -34.7h4M-24.7 -30.7h8M59.3 -30.7h4M-24.7 -26.7h12M59.3 -26.7h8M-20.7 -22.7h12M63.3 -22.7h8M-16.7 -18.7h8M67.3 -18.7h4M-16.7 -14.7h8M67.3 -14.7h8M-16.7 -10.7h8M71.3 -10.7h4M-20.7 -6.7h12M-20.7 -2.7h12M67.3 -2.7h4M-20.7 1.3h12M67.3 1.3h4M-20.7 5.3h12M63.3 5.3h4M-16.7 9.3h12M-8.7 13.3h8M59.3 13.3h4M-0.7 17.3h8M55.3 17.3h4M7.3 21.3h16M43.3 21.3h12M19.3 25.3h28"/>
<path stroke="#fff2aa" d="M-36.7 -70.7h4M-24.7 -70.7h4M-40.7 -66.7h4M-16.7 -62.7h4M-12.7 -58.7h4M-40.7 -54.7h4M-12.7 -54.7h20M31.3 -54.7h4M-40.7 -50.7h4M39.3 -50.7h4M-36.7 -46.7h8M-32.7 -42.7h16M47.3 -42.7h4M-24.7 -38.7h12M51.3 -38.7h4M-20.7 -34.7h12M51.3 -34.7h4M-16.7 -30.7h8M55.3 -30.7h4M-12.7 -26.7h8M55.3 -26.7h4M-8.7 -22.7h4M59.3 -22.7h4M-8.7 -18.7h8M59.3 -18.7h8M-8.7 -14.7h8M63.3 -14.7h4M-8.7 -10.7h8M67.3 -10.7h4M-8.7 -6.7h8M67.3 -6.7h4M-8.7 -2.7h8M63.3 -2.7h4M-8.7 1.3h8M63.3 1.3h4M-8.7 5.3h8M59.3 5.3h4M-4.7 9.3h8M59.3 9.3h4M-0.7 13.3h12M51.3 13.3h8M7.3 17.3h16M43.3 17.3h12M23.3 21.3h20"/>
<path stroke="#feeb9d" d="M-32.7 -70.7h8M-36.7 -66.7h4M-20.7 -66.7h4M-40.7 -62.7h4M-40.7 -58.7h4M-16.7 -58.7h4M-16.7 -54.7h4M7.3 -54.7h24M-36.7 -50.7h4M-20.7 -50.7h24M-28.7 -46.7h28M43.3 -46.7h4M-16.7 -42.7h12M-12.7 -38.7h8M47.3 -38.7h4M-8.7 -34.7h4M-8.7 -30.7h4M51.3 -30.7h4M-4.7 -26.7h4M51.3 -26.7h4M-4.7 -22.7h4M55.3 -22.7h4M-0.7 -18.7h4M55.3 -18.7h4M-0.7 -14.7h4M59.3 -14.7h4M-0.7 -10.7h4M59.3 -10.7h8M-0.7 -6.7h4M63.3 -6.7h4M-0.7 -2.7h4M-0.7 1.3h4M59.3 1.3h4M-0.7 5.3h8M55.3 5.3h4M3.3 9.3h8M51.3 9.3h8M11.3 13.3h8M43.3 13.3h8M23.3 17.3h20"/>
<path stroke="#fee593" d="M-32.7 -66.7h12M-36.7 -62.7h4M-20.7 -62.7h4M-36.7 -58.7h4M-20.7 -58.7h4M-36.7 -54.7h4M-20.7 -54.7h4M-32.7 -50.7h12M3.3 -50.7h8M35.3 -50.7h4M-0.7 -46.7h4M-4.7 -42.7h4M43.3 -42.7h4M-4.7 -38.7h4M-4.7 -34.7h4M47.3 -34.7h4M-4.7 -30.7h4M-0.7 -26.7h4M-0.7 -22.7h4M51.3 -22.7h4M51.3 -18.7h4M3.3 -14.7h4M55.3 -14.7h4M3.3 -10.7h4M55.3 -10.7h4M3.3 -6.7h8M55.3 -6.7h8M3.3 -2.7h8M55.3 -2.7h8M3.3 1.3h8M55.3 1.3h4M7.3 5.3h8M51.3 5.3h4M11.3 9.3h12M43.3 9.3h8M19.3 13.3h24"/>
<path stroke="#fede89" d="M-32.7 -62.7h12M-32.7 -58.7h4M-24.7 -58.7h4M-32.7 -54.7h12M11.3 -50.7h4M31.3 -50.7h4M3.3 -46.7h4M39.3 -46.7h4M-0.7 -42.7h4M-0.7 -38.7h4M-0.7 -34.7h4M-0.7 -30.7h4M47.3 -30.7h4M47.3 -26.7h4M47.3 -22.7h4M3.3 -18.7h4M47.3 -18.7h4M51.3 -14.7h4M7.3 -10.7h4M51.3 -10.7h4M11.3 -6.7h4M51.3 -6.7h4M11.3 -2.7h4M51.3 -2.7h4M11.3 1.3h8M47.3 1.3h8M15.3 5.3h12M43.3 5.3h8M23.3 9.3h20"/>
<path stroke="#fed27f" d="M-28.7 -58.7h4M15.3 -50.7h16M7.3 -46.7h4M3.3 -42.7h4M43.3 -38.7h4M3.3 -26.7h4M3.3 -22.7h4M7.3 -14.7h4M47.3 -14.7h4M11.3 -10.7h4M47.3 -10.7h4M15.3 -6.7h4M43.3 -6.7h8M15.3 -2.7h8M43.3 -2.7h8M19.3 1.3h28M27.3 5.3h16"/>
<path stroke="#fec877" d="M11.3 -46.7h4M35.3 -46.7h4M7.3 -42.7h4M39.3 -42.7h4M3.3 -38.7h4M3.3 -34.7h4M43.3 -34.7h4M3.3 -30.7h4M7.3 -18.7h4M43.3 -18.7h4M11.3 -14.7h4M43.3 -14.7h4M15.3 -10.7h4M43.3 -10.7h4M19.3 -6.7h4M39.3 -6.7h4M23.3 -2.7h20"/>
<path stroke="#fdbf6f" d="M31.3 -46.7h4M43.3 -30.7h4M43.3 -26.7h4M7.3 -22.7h4M43.3 -22.7h4M39.3 -14.7h4M39.3 -10.7h4M23.3 -6.7h16"/>
<path stroke="#fdb365" d="M15.3 -46.7h4M11.3 -42.7h4M7.3 -38.7h4M39.3 -38.7h4M7.3 -26.7h4M11.3 -18.7h4M15.3 -14.7h4M19.3 -10.7h8M31.3 -10.7h8"/>
<path stroke="#fca85e" d="M19.3 -46.7h12M35.3 -42.7h4M7.3 -34.7h4M7.3 -30.7h4M39.3 -18.7h4M35.3 -14.7h4M27.3 -10.7h4"/>
<path stroke="#fa9b58" d="M11.3 -38.7h4M39.3 -34.7h4M11.3 -22.7h4M39.3 -22.7h4M19.3 -14.7h4M31.3 -14.7h4"/>
<path stroke="#f88c51" d="M15.3 -42.7h4M31.3 -42.7h4M39.3 -30.7h4M11.3 -26.7h4M39.3 -26.7h4M15.3 -18.7h4M35.3 -18.7h4M23.3 -14.7h8"/>
<path stroke="#f67f4b" d="M19.3 -42.7h4M35.3 -38.7h4M11.3 -34.7h4M11.3 -30.7h4"/>
<path stroke="#f57245" d="M23.3 -42.7h8M15.3 -38.7h4M15.3 -22.7h4M35.3 -22.7h4M19.3 -18.7h4M31.3 -18.7h4"/>
<path stroke="#ef6645" d="M35.3 -34.7h4M35.3 -26.7h4M23.3 -18.7h8"/>
<path stroke="#e95c47" d="M31.3 -38.7h4M15.3 -34.7h4M35.3 -30.7h4M15.3 -26.7h4"/>
<path stroke="#e3534a" d="M19.3 -38.7h4M15.3 -30.7h4M19.3 -22.7h4M31.3 -22.7h4"/>
<path stroke="#dc484c" d="M23.3 -38.7h8M31.3 -34.7h4M23.3 -22.7h8"/>
<path stroke="#d63f4f" d="M19.3 -34.7h4M31.3 -30.7h4M19.3 -26.7h4M31.3 -26.7h4"/>
<path stroke="#cb334d" d="M27.3 -34.7h4M19.3 -30.7h4"/>
<path stroke="#be254a" d="M23.3 -34.7h4M23.3 -26.7h8"/>
<path stroke="#b41947" d="M23.3 -30.7h8"/>
</g>
<path class="ct" d="M10.2 -81 9.9 -79 11.3 -76 16.6 -72 25 -69 34 -68 41.5 -69 44 -70.1 46.1 -72 46.8 -74 46.6 -76 44.6 -79 42.2 -81M-45.8 81 -36.4 73 -32.9 69 -29.7 64 -28 60 -27.4 56 -28.2 53 -30.3 51 -35 50 -41 51.2 -47.4 54 -54 58.4 -60.3 64 -65.2 70 -68.5 76 -69.5 81M-3.1 -81 -1.6 -77 0.9 -74 4.8 -71 10.7 -68 17 -65.8 24 -64.2 33 -62.8 41 -62.3 47 -62.6 52 -63.8 56 -65.7 58.6 -68 60 -71 60.1 -74 58.4 -78 55.8 -81M81 17 78 20.3 77 23 76.7 26 77 28.7 78 31 79 32.1 81 32.8M-26.5 81 -19 73 -13 65 -8.4 57 -6 50 -5.7 44 -7.6 39 -12 35.1 -17 33.2 -24 32.4 -32 33.3 -40 35.7 -48 39.5 -57 45.1 -65.8 52 -74.1 60 -81 68.1M43 29.1 37 29.8 31 29.7 25 28.9 19 27.3 -17.1 13 -22.8 10 -26 7 -27.4 4 -27.6 1 -24 -12 -24 -16 -24.8 -19 -27.3 -24 -31.2 -30 -43.3 -45 -46 -50 -47.5 -55 -47.8 -61 -46.8 -66 -44.3 -71 -40.6 -75 -37 -77.3 -34 -78.4 -30 -78.9 -26 -78.4 -19 -75.2 -8 -66 -2 -62.7 7 -60.7 33 -57.2 40 -55.5 46.7 -53 51.8 -50 55.2 -47 64 -34.7 73.1 -25 76.6 -19 77.3 -14 75.5 -7 71 2 63 14.9 57 22 51 26.5 43 29.1M-25 -53.8 -29 -54.1 -31 -55.4 -32.2 -57 -32.8 -59 -32.6 -61 -31.6 -63 -30 -64.3 -28 -64.8 -26 -64.5 -23.6 -63 -22.1 -61 -21.6 -59 -22 -56.4 -23 -55 -25 -53.8M39 9.1 30 9.5 22.5 8 17 5 15 3 13.2 0 9.9 -9 2.3 -26 0.3 -35 0.6 -39 2.2 -43 5.9 -47 10 -49.6 15 -51.5 21 -52.5 27 -52.3 32 -51.4 37 -49.4 41 -46.7 44.5 -43 46.8 -39 49.4 -31 51.5 -17 55.2 -7 55.3 -3 53.7 1 50 4.9 45 7.5 39 9.1M32 -10.9 26 -10.8 20 -13.3 14.8 -18 10.6 -25 9.2 -32 10.3 -38 13.9 -43 19 -46.1 26 -47.2 33 -45.6 38.2 -42 40.6 -39 42.1 -36 43.2 -32 43.5 -28 43 -24 41.8 -20 38 -14.3 35 -12.1 32 -10.9M30 -17.9 25 -18 21 -19.8 17.6 -23 15.4 -27 14.7 -32 15.6 -36 18 -39.4 22 -41.8 27 -42.5 32 -41 35.7 -38 38 -34 38.7 -29 37.4 -24 34.3 -20 30 -17.9M29 -23.8 26 -23.7 24 -24.4 22 -26 20.7 -28 20.1 -31 20.4 -33 22 -35.5 24 -36.8 26 -37.3 29 -36.9 31.7 -35 33 -33 33.6 -30 33 -27.5 31.2 -25 29 -23.8"/>
</g>
<use href="#hd"/>
</g>
<text x="767.3" y="0" class="tt" transform="translate(0 494.7) scale(1 1.12) translate(0 0)">[26] Oth=0.88</text>
<g transform="translate(992.2 583.4)">
<g clip-path="url(#dc)"><g filter="url(#bl)" class="fd">
<path stroke="#97d5a4" d="M47.3 -58.7h4"/>
<path stroke="#a4daa4" d="M43.3 -66.7h4M43.3 -62.7h8M43.3 -58.7h4M51.3 -58.7h4M47.3 -54.7h4"/>
<path stroke="#b3e0a2" d="M39.3 -66.7h4M47.3 -66.7h4M39.3 -62.7h4M51.3 -62.7h4M51.3 -54.7h4"/>
<path stroke="#bfe5a0" d="M39.3 -70.7h8M35.3 -66.7h4M51.3 -66.7h4M39.3 -58.7h4M55.3 -58.7h4M43.3 -54.7h4M55.3 -54.7h4M51.3 -50.7h4"/>
<path stroke="#caea9e" d="M35.3 -70.7h4M47.3 -70.7h4M35.3 -62.7h4M55.3 -62.7h4M39.3 -54.7h4M59.3 -54.7h4M47.3 -50.7h4M55.3 -50.7h4"/>
<path stroke="#d8ef9b" d="M35.3 -74.7h8M31.3 -66.7h4M35.3 -58.7h4M59.3 -58.7h4M43.3 -50.7h4M59.3 -50.7h4"/>
<path stroke="#e4f498" d="M31.3 -74.7h4M31.3 -70.7h4M31.3 -62.7h4M35.3 -54.7h4M63.3 -54.7h4M39.3 -50.7h4M63.3 -50.7h4M47.3 -46.7h16M79.3 25.3h4M79.3 29.3h4"/>
<path stroke="#eaf79e" d="M31.3 -78.7h4M27.3 -70.7h4M27.3 -66.7h4M31.3 -58.7h4M43.3 -46.7h4M63.3 -46.7h4M79.3 17.3h4M75.3 21.3h8M75.3 25.3h4M75.3 29.3h4M75.3 33.3h4M75.3 37.3h4"/>
<path stroke="#f0f9a7" d="M27.3 -78.7h4M27.3 -74.7h4M27.3 -62.7h4M-68.7 -54.7h8M31.3 -54.7h4M-68.7 -50.7h12M35.3 -50.7h4M67.3 -50.7h4M-72.7 -46.7h16M67.3 -46.7h4M-72.7 -42.7h16M55.3 -42.7h12M79.3 9.3h4M75.3 13.3h12M75.3 17.3h4M71.3 21.3h4M71.3 25.3h4M71.3 29.3h4M71.3 33.3h4M71.3 37.3h4M71.3 41.3h4M71.3 45.3h4"/>
<path stroke="#f5fbaf" d="M23.3 -82.7h4M23.3 -78.7h4M23.3 -74.7h4M23.3 -70.7h4M23.3 -66.7h4M-60.7 -62.7h8M23.3 -62.7h4M-64.7 -58.7h16M27.3 -58.7h4M-60.7 -54.7h12M27.3 -54.7h4M-56.7 -50.7h12M31.3 -50.7h4M-56.7 -46.7h12M39.3 -46.7h4M-76.7 -42.7h4M-56.7 -42.7h8M47.3 -42.7h8M67.3 -42.7h4M-76.7 -38.7h28M-76.7 -34.7h24M-68.7 -30.7h8M79.3 5.3h8M75.3 9.3h4M83.3 9.3h4M71.3 13.3h4M71.3 17.3h4M67.3 25.3h4M67.3 29.3h4M67.3 33.3h4M67.3 37.3h4M67.3 41.3h4M67.3 45.3h4"/>
<path stroke="#fafdb7" d="M15.3 -82.7h8M15.3 -78.7h8M15.3 -74.7h8M-48.7 -70.7h4M15.3 -70.7h8M-56.7 -66.7h16M15.3 -66.7h8M-52.7 -62.7h16M19.3 -62.7h4M-48.7 -58.7h12M19.3 -58.7h8M-48.7 -54.7h12M23.3 -54.7h4M-44.7 -50.7h12M27.3 -50.7h4M-44.7 -46.7h12M31.3 -46.7h8M-48.7 -42.7h12M43.3 -42.7h4M71.3 -42.7h4M-48.7 -38.7h12M59.3 -38.7h16M-80.7 -34.7h4M-52.7 -34.7h16M-80.7 -30.7h12M-60.7 -30.7h20M-80.7 -26.7h36M-80.7 -22.7h32M-68.7 -18.7h8M83.3 -6.7h4M79.3 -2.7h8M79.3 1.3h8M75.3 5.3h4M71.3 9.3h4M67.3 17.3h4M67.3 21.3h4M63.3 29.3h4M63.3 33.3h4M63.3 37.3h4M63.3 41.3h4M63.3 45.3h4M63.3 49.3h8M63.3 53.3h4"/>
<path stroke="#fffebe" d="M-24.7 -82.7h40M-36.7 -78.7h52M-44.7 -74.7h60M-44.7 -70.7h60M-40.7 -66.7h56M-36.7 -62.7h56M-36.7 -58.7h56M-36.7 -54.7h60M-32.7 -50.7h60M-32.7 -46.7h64M-36.7 -42.7h80M-36.7 -38.7h60M55.3 -38.7h4M75.3 -38.7h4M-36.7 -34.7h56M71.3 -34.7h8M-40.7 -30.7h56M75.3 -30.7h4M-44.7 -26.7h60M79.3 -26.7h4M-84.7 -22.7h4M-48.7 -22.7h60M-84.7 -18.7h16M-60.7 -18.7h72M-84.7 -14.7h96M83.3 -14.7h4M-84.7 -10.7h96M79.3 -10.7h8M-84.7 -6.7h96M79.3 -6.7h4M-84.7 -2.7h96M75.3 -2.7h4M-84.7 1.3h96M75.3 1.3h4M-84.7 5.3h100M71.3 5.3h4M-84.7 9.3h100M-84.7 13.3h104M67.3 13.3h4M-84.7 17.3h108M63.3 17.3h4M-84.7 21.3h116M63.3 21.3h4M-84.7 25.3h128M55.3 25.3h12M-80.7 29.3h144M-80.7 33.3h144M-76.7 37.3h140M-76.7 41.3h140M-72.7 45.3h136M-72.7 49.3h136M-68.7 53.3h132M-64.7 57.3h128M-60.7 61.3h124M-56.7 65.3h112M-52.7 69.3h104M-44.7 73.3h92M-40.7 77.3h80M-28.7 81.3h60M-16.7 85.3h32"/>
<path stroke="#fff8b4" d="M23.3 -38.7h8M47.3 -38.7h8M19.3 -34.7h8M63.3 -34.7h8M15.3 -30.7h8M71.3 -30.7h4M15.3 -26.7h4M75.3 -26.7h4M11.3 -22.7h8M75.3 -22.7h8M11.3 -18.7h4M79.3 -18.7h4M11.3 -14.7h4M79.3 -14.7h4M11.3 -10.7h4M11.3 -6.7h4M75.3 -6.7h4M11.3 -2.7h8M11.3 1.3h8M71.3 1.3h4M15.3 5.3h8M15.3 9.3h8M67.3 9.3h4M19.3 13.3h8M63.3 13.3h4M23.3 17.3h12M59.3 17.3h4M31.3 21.3h32M43.3 25.3h12"/>
<path stroke="#fff2aa" d="M31.3 -38.7h16M27.3 -34.7h4M59.3 -34.7h4M23.3 -30.7h4M67.3 -30.7h4M19.3 -26.7h4M71.3 -26.7h4M19.3 -22.7h4M15.3 -18.7h4M75.3 -18.7h4M15.3 -14.7h4M75.3 -14.7h4M15.3 -10.7h4M75.3 -10.7h4M15.3 -6.7h4M71.3 -2.7h4M19.3 1.3h4M23.3 5.3h4M67.3 5.3h4M23.3 9.3h4M27.3 13.3h8M59.3 13.3h4M35.3 17.3h24"/>
<path stroke="#feeb9d" d="M31.3 -34.7h4M55.3 -34.7h4M27.3 -30.7h4M63.3 -30.7h4M23.3 -26.7h4M71.3 -22.7h4M19.3 -18.7h4M19.3 -14.7h4M19.3 -10.7h4M19.3 -6.7h4M71.3 -6.7h4M19.3 -2.7h4M23.3 1.3h4M27.3 9.3h4M63.3 9.3h4M35.3 13.3h4M55.3 13.3h4"/>
<path stroke="#fee593" d="M35.3 -34.7h4M51.3 -34.7h4M67.3 -26.7h4M23.3 -22.7h4M71.3 -18.7h4M71.3 -14.7h4M71.3 -10.7h4M23.3 -2.7h4M67.3 1.3h4M27.3 5.3h4M63.3 5.3h4M31.3 9.3h4M59.3 9.3h4M39.3 13.3h16"/>
<path stroke="#fede89" d="M39.3 -34.7h12M31.3 -30.7h4M59.3 -30.7h4M27.3 -26.7h4M67.3 -22.7h4M23.3 -18.7h4M23.3 -14.7h4M23.3 -10.7h4M23.3 -6.7h4M67.3 -2.7h4M27.3 1.3h4M35.3 9.3h4M55.3 9.3h4"/>
<path stroke="#fed27f" d="M35.3 -30.7h4M63.3 -26.7h4M27.3 -22.7h4M67.3 -18.7h4M67.3 -6.7h4M63.3 1.3h4M31.3 5.3h4M59.3 5.3h4M39.3 9.3h4M51.3 9.3h4"/>
<path stroke="#fec877" d="M55.3 -30.7h4M31.3 -26.7h4M67.3 -14.7h4M67.3 -10.7h4M27.3 -2.7h4M35.3 5.3h4M43.3 9.3h8"/>
<path stroke="#fdbf6f" d="M39.3 -30.7h4M51.3 -30.7h4M59.3 -26.7h4M63.3 -22.7h4M27.3 -18.7h4M27.3 -14.7h4M27.3 -6.7h4M63.3 -2.7h4M31.3 1.3h4M55.3 5.3h4"/>
<path stroke="#fdb365" d="M43.3 -30.7h8M35.3 -26.7h4M31.3 -22.7h4M63.3 -18.7h4M27.3 -10.7h4M59.3 1.3h4M39.3 5.3h4"/>
<path stroke="#fca85e" d="M55.3 -26.7h4M63.3 -14.7h4M63.3 -10.7h4M63.3 -6.7h4M31.3 -2.7h4M35.3 1.3h4M43.3 5.3h12"/>
<path stroke="#fa9b58" d="M39.3 -26.7h4M59.3 -22.7h4M31.3 -18.7h4M31.3 -6.7h4M55.3 1.3h4"/>
<path stroke="#f88c51" d="M51.3 -26.7h4M35.3 -22.7h4M31.3 -14.7h4M31.3 -10.7h4M59.3 -2.7h4M39.3 1.3h4"/>
<path stroke="#f67f4b" d="M43.3 -26.7h8M59.3 -18.7h4M35.3 -2.7h4M51.3 1.3h4"/>
<path stroke="#f57245" d="M55.3 -22.7h4M59.3 -14.7h4M59.3 -6.7h4M43.3 1.3h8"/>
<path stroke="#ef6645" d="M39.3 -22.7h4M35.3 -18.7h4M59.3 -10.7h4M35.3 -6.7h4M55.3 -2.7h4"/>
<path stroke="#e95c47" d="M43.3 -22.7h4M51.3 -22.7h4M55.3 -18.7h4M35.3 -14.7h4M35.3 -10.7h4M39.3 -2.7h4"/>
<path stroke="#e3534a" d="M47.3 -22.7h4M55.3 -6.7h4M51.3 -2.7h4"/>
<path stroke="#dc484c" d="M39.3 -18.7h4M55.3 -14.7h4M55.3 -10.7h4M39.3 -6.7h4M43.3 -2.7h8"/>
<path stroke="#d63f4f" d="M51.3 -18.7h4"/>
<path stroke="#cb334d" d="M43.3 -18.7h8M39.3 -14.7h4M39.3 -10.7h4M51.3 -6.7h4"/>
<path stroke="#be254a" d="M51.3 -14.7h4M51.3 -10.7h4M43.3 -6.7h8"/>
<path stroke="#b41947" d="M43.3 -14.7h8M43.3 -10.7h8"/>
</g>
<path class="ct" d="M52.1 -53 55 -53.9 56.2 -56 56.1 -59 54.8 -62 52 -65.3 48 -67.9 45 -68.7 42 -68 40.5 -66 40.3 -64 42.2 -59 44 -56.8 47 -54.5 52.1 -53M61.6 -46 63.2 -47 65 -49.2 65.8 -52 65.7 -55 63.2 -62 58.1 -69 52 -74.1 45 -77.4 39 -78.2 36 -77.5 33.6 -76 31.2 -72 31 -66 33.1 -60 37.3 -54 43 -49.3 49 -46.5 56 -45.2 61.6 -46M81 23.9 80 24.2 78.8 26 78 29 77.7 33 79 39.8 80 41.1 81 41.3M-24.8 81 -24.3 63 -22.8 44 -20.6 27 -17.6 10 -13.5 -8 -8.7 -25 -2 -44.8 1 -50.5 3 -51.5 7 -51.1 42.8 -42 74 -35.2 81 -32.8M81 -7.2 29.1 81M53 12.2 49 12.7 44 12.3 40 11.2 36 9.3 32 6.4 28.8 3 26.3 -1 24.7 -5 23.7 -10 23.7 -14 24.6 -19 26.2 -23 28.6 -27 31.4 -30 35 -32.7 39 -34.5 44 -35.3 49 -35.1 55 -33.9 60.1 -32 64 -29.7 67.2 -27 70 -23 71.6 -19 72.3 -14 72 -9 70.6 -4 68.2 1 65.4 5 62 8.2 58 10.6 53 12.2M53 6.1 46 6.5 42 5.5 39 4.1 36 2 33.3 -1 30.4 -7 29.7 -14 30.6 -18 31.9 -21 36 -26.1 42 -29.6 49 -30.4 53 -29.7 57 -28.2 62.6 -24 64.7 -21 66 -18 66.9 -14 66.8 -10 64.5 -3 60 2.5 57 4.5 53 6.1M49 2 44 1.3 39 -1.6 35.7 -6 34.3 -11 34.8 -16 37.5 -21 42 -24.6 47 -26 52 -25.6 57.2 -23 61 -18.3 62.4 -13 61.9 -8 59 -2.8 54 0.9 49 2M51 -2.9 47 -2.7 43.4 -4 41 -6.1 39.1 -10 39.1 -14 40.2 -17 43 -20 46 -21.3 50 -21.5 53 -20.4 55.9 -18 57.5 -15 57.9 -11 57 -7.9 54.8 -5 51 -2.9M50 -9.9 48 -9.5 46 -10.9 45.9 -13 47 -14.4 49 -14.7 50.3 -14 51.1 -12 50 -9.9"/>
</g>
<use href="#hd"/>
</g>
<text x="992.2" y="0" class="tt" transform="translate(0 494.7) scale(1 1.12) translate(0 0)">[27] Oth=0.39</text>
<g transform="translate(1217.1 583.4)">
<g clip-path="url(#dc)"><g filter="url(#bl)" class="fd">
<path stroke="#a4daa4" d="M-4.7 77.3h28M-8.7 81.3h36M-4.7 85.3h20"/>
<path stroke="#b3e0a2" d="M79.3 -26.7h4M-4.7 73.3h28M-20.7 77.3h16M23.3 77.3h12M-20.7 81.3h12M27.3 81.3h4M-16.7 85.3h12"/>
<path stroke="#bfe5a0" d="M75.3 -34.7h4M75.3 -30.7h4M75.3 -26.7h4M79.3 -22.7h4M3.3 69.3h16M-20.7 73.3h16M23.3 73.3h20M-28.7 77.3h8M35.3 77.3h4M-28.7 81.3h8"/>
<path stroke="#caea9e" d="M75.3 -38.7h4M71.3 -34.7h4M71.3 -30.7h4M75.3 -22.7h4M79.3 -18.7h4M-24.7 69.3h28M19.3 69.3h24M-36.7 73.3h16M43.3 73.3h4M-40.7 77.3h12"/>
<path stroke="#d8ef9b" d="M71.3 -42.7h4M71.3 -38.7h4M71.3 -26.7h4M71.3 -22.7h4M75.3 -18.7h4M79.3 -14.7h8M-24.7 65.3h76M-44.7 69.3h20M43.3 69.3h8M-44.7 73.3h8"/>
<path stroke="#e4f498" d="M67.3 -50.7h4M67.3 -46.7h4M67.3 -42.7h4M67.3 -38.7h4M67.3 -34.7h4M67.3 -30.7h4M67.3 -26.7h4M-60.7 61.3h124M-56.7 65.3h32M51.3 65.3h4M-52.7 69.3h8"/>
<path stroke="#eaf79e" d="M-24.7 -82.7h52M-36.7 -78.7h72M-44.7 -74.7h88M-48.7 -70.7h100M-56.7 -66.7h112M-60.7 -62.7h44M19.3 -62.7h40M-64.7 -58.7h36M27.3 -58.7h36M-68.7 -54.7h32M35.3 -54.7h32M-68.7 -50.7h28M39.3 -50.7h28M-72.7 -46.7h28M47.3 -46.7h20M-76.7 -42.7h28M51.3 -42.7h16M-76.7 -38.7h24M55.3 -38.7h12M-80.7 -34.7h24M59.3 -34.7h8M-80.7 -30.7h24M59.3 -30.7h8M-80.7 -26.7h20M63.3 -26.7h4M-84.7 -22.7h24M67.3 -22.7h4M-84.7 -18.7h24M71.3 -18.7h4M-84.7 -14.7h20M75.3 -14.7h4M-84.7 -10.7h20M83.3 -10.7h4M-84.7 -6.7h20M-84.7 -2.7h20M-84.7 1.3h20M-84.7 5.3h20M-84.7 9.3h20M-84.7 13.3h20M-84.7 17.3h20M-84.7 21.3h24M-84.7 25.3h24M-80.7 29.3h24M-80.7 33.3h24M-76.7 37.3h24M-76.7 41.3h28M-72.7 45.3h28M-72.7 49.3h32M43.3 49.3h28M-68.7 53.3h40M23.3 53.3h44M-64.7 57.3h128"/>
<path stroke="#f0f9a7" d="M-16.7 -62.7h36M-28.7 -58.7h56M-36.7 -54.7h72M-40.7 -50.7h80M-44.7 -46.7h32M15.3 -46.7h32M-48.7 -42.7h24M23.3 -42.7h28M-52.7 -38.7h24M31.3 -38.7h24M-56.7 -34.7h24M35.3 -34.7h24M-56.7 -30.7h20M39.3 -30.7h20M-60.7 -26.7h20M43.3 -26.7h20M-60.7 -22.7h16M63.3 -22.7h4M-60.7 -18.7h16M-64.7 -14.7h20M-64.7 -10.7h16M79.3 -10.7h4M-64.7 -6.7h16M83.3 -6.7h4M-64.7 -2.7h16M-64.7 1.3h16M-64.7 5.3h16M-64.7 9.3h16M-64.7 13.3h16M-64.7 17.3h20M-60.7 21.3h16M-60.7 25.3h20M-56.7 29.3h16M-56.7 33.3h20M-52.7 37.3h20M-48.7 41.3h24M27.3 41.3h20M-44.7 45.3h28M15.3 45.3h60M-40.7 49.3h36M3.3 49.3h40M-28.7 53.3h52"/>
<path stroke="#f5fbaf" d="M-12.7 -46.7h28M-24.7 -42.7h48M-28.7 -38.7h60M-32.7 -34.7h24M7.3 -34.7h28M-36.7 -30.7h20M19.3 -30.7h20M-40.7 -26.7h16M23.3 -26.7h20M-44.7 -22.7h16M27.3 -22.7h36M-44.7 -18.7h16M31.3 -18.7h16M67.3 -18.7h4M-44.7 -14.7h12M71.3 -14.7h4M-48.7 -10.7h16M-48.7 -6.7h16M-48.7 -2.7h12M-48.7 1.3h12M-48.7 5.3h16M-48.7 9.3h16M-48.7 13.3h16M-44.7 17.3h16M-44.7 21.3h16M-40.7 25.3h16M27.3 25.3h4M-40.7 29.3h20M19.3 29.3h20M-36.7 33.3h20M15.3 33.3h28M-32.7 37.3h20M11.3 37.3h36M-24.7 41.3h16M7.3 41.3h20M47.3 41.3h28M-16.7 45.3h32M-4.7 49.3h8"/>
<path stroke="#fafdb7" d="M-8.7 -34.7h16M-16.7 -30.7h36M-24.7 -26.7h48M-28.7 -22.7h16M11.3 -22.7h16M-28.7 -18.7h12M15.3 -18.7h16M47.3 -18.7h20M-32.7 -14.7h12M19.3 -14.7h28M-32.7 -10.7h12M19.3 -10.7h24M75.3 -10.7h4M-32.7 -6.7h12M23.3 -6.7h16M79.3 -6.7h4M-36.7 -2.7h16M23.3 -2.7h12M83.3 -2.7h4M-36.7 1.3h16M23.3 1.3h12M-32.7 5.3h12M19.3 5.3h16M-32.7 9.3h16M19.3 9.3h16M-32.7 13.3h16M15.3 13.3h20M-28.7 17.3h20M11.3 17.3h24M-28.7 21.3h24M3.3 21.3h36M-24.7 25.3h20M3.3 25.3h24M31.3 25.3h8M-20.7 29.3h16M7.3 29.3h12M39.3 29.3h4M-16.7 33.3h8M7.3 33.3h8M43.3 33.3h4M-12.7 37.3h8M7.3 37.3h4M47.3 37.3h8M75.3 37.3h4M-8.7 41.3h16"/>
<path stroke="#fffebe" d="M-12.7 -22.7h24M-16.7 -18.7h12M7.3 -18.7h8M-20.7 -14.7h8M11.3 -14.7h8M47.3 -14.7h8M67.3 -14.7h4M-20.7 -10.7h8M11.3 -10.7h8M43.3 -10.7h4M-20.7 -6.7h8M15.3 -6.7h8M39.3 -6.7h4M-20.7 -2.7h8M15.3 -2.7h8M35.3 -2.7h4M-20.7 1.3h8M11.3 1.3h12M35.3 1.3h4M-20.7 5.3h12M7.3 5.3h12M35.3 5.3h4M-16.7 9.3h36M35.3 9.3h4M-16.7 13.3h32M35.3 13.3h4M-8.7 17.3h20M35.3 17.3h4M-4.7 21.3h8M-4.7 25.3h8M39.3 25.3h4M-4.7 29.3h12M43.3 29.3h4M-8.7 33.3h16M47.3 33.3h4M-4.7 37.3h12M55.3 37.3h20"/>
<path stroke="#fff8b4" d="M-4.7 -18.7h12M-12.7 -14.7h8M3.3 -14.7h8M55.3 -14.7h12M-12.7 -10.7h4M7.3 -10.7h4M47.3 -10.7h4M71.3 -10.7h4M-12.7 -6.7h4M7.3 -6.7h8M43.3 -6.7h4M-12.7 -2.7h4M7.3 -2.7h8M39.3 -2.7h4M-12.7 1.3h24M39.3 1.3h4M83.3 1.3h4M-8.7 5.3h16M39.3 17.3h4M39.3 21.3h4M43.3 25.3h4M47.3 29.3h4M79.3 29.3h4M51.3 33.3h4M75.3 33.3h4"/>
<path stroke="#fff2aa" d="M-4.7 -14.7h8M-8.7 -10.7h16M51.3 -10.7h4M-8.7 -6.7h16M75.3 -6.7h4M-8.7 -2.7h16M43.3 -2.7h4M79.3 -2.7h4M39.3 5.3h4M83.3 5.3h4M39.3 9.3h4M39.3 13.3h4M43.3 21.3h4M55.3 33.3h4M71.3 33.3h4"/>
<path stroke="#feeb9d" d="M55.3 -10.7h4M67.3 -10.7h4M47.3 -6.7h4M43.3 1.3h4M83.3 9.3h4M83.3 13.3h4M43.3 17.3h4M47.3 25.3h4M79.3 25.3h4M51.3 29.3h4M75.3 29.3h4M59.3 33.3h12"/>
<path stroke="#fee593" d="M59.3 -10.7h8M51.3 -6.7h4M47.3 -2.7h4M79.3 1.3h4M43.3 5.3h4M43.3 9.3h4M43.3 13.3h4"/>
<path stroke="#fede89" d="M71.3 -6.7h4M75.3 -2.7h4M47.3 21.3h4M79.3 21.3h4M55.3 29.3h4M71.3 29.3h4"/>
<path stroke="#fed27f" d="M55.3 -6.7h4M47.3 1.3h4M79.3 5.3h4M47.3 17.3h4M79.3 17.3h4M51.3 25.3h4M75.3 25.3h4M59.3 29.3h4M67.3 29.3h4"/>
<path stroke="#fec877" d="M67.3 -6.7h4M51.3 -2.7h4M47.3 5.3h4M79.3 9.3h4M47.3 13.3h4M79.3 13.3h4M63.3 29.3h4"/>
<path stroke="#fdbf6f" d="M59.3 -6.7h8M71.3 -2.7h4M75.3 1.3h4M47.3 9.3h4M51.3 21.3h4M75.3 21.3h4M55.3 25.3h4M71.3 25.3h4"/>
<path stroke="#fdb365" d="M55.3 -2.7h4M51.3 1.3h4"/>
<path stroke="#fca85e" d="M51.3 17.3h4M59.3 25.3h12"/>
<path stroke="#fa9b58" d="M59.3 -2.7h4M67.3 -2.7h4M51.3 5.3h4M75.3 5.3h4M51.3 13.3h4M75.3 17.3h4M55.3 21.3h4"/>
<path stroke="#f88c51" d="M63.3 -2.7h4M55.3 1.3h4M71.3 1.3h4M51.3 9.3h4M75.3 9.3h4M75.3 13.3h4M71.3 21.3h4"/>
<path stroke="#f67f4b" d="M59.3 21.3h4"/>
<path stroke="#f57245" d="M55.3 17.3h4M71.3 17.3h4M63.3 21.3h8"/>
<path stroke="#ef6645" d="M59.3 1.3h4M67.3 1.3h4M55.3 5.3h4M71.3 5.3h4M55.3 13.3h4"/>
<path stroke="#e95c47" d="M63.3 1.3h4M55.3 9.3h4M71.3 9.3h4M71.3 13.3h4"/>
<path stroke="#e3534a" d="M59.3 17.3h4M67.3 17.3h4"/>
<path stroke="#dc484c" d="M59.3 5.3h4M67.3 5.3h4M63.3 17.3h4"/>
<path stroke="#d63f4f" d="M63.3 5.3h4M59.3 9.3h4M67.3 9.3h4M59.3 13.3h4M67.3 13.3h4"/>
<path stroke="#cb334d" d="M63.3 9.3h4M63.3 13.3h4"/>
</g>
<path class="ct" d="M81 -34.9 80 -34.5 78.7 -33 77.8 -29 78.8 -25 81 -22.7M44.1 81 43.2 79 41.2 77 34 73.8 23 71.6 10 70.9 -4 71.7 -15.8 74 -22.9 77 -25.3 79 -26.3 81M81 48 73 51.5 65 53.1 17 57.1 -4 57.9 -25 57.9 -38 57 -48.1 55 -54 52.7 -59.5 49 -64.1 44 -68.6 37 -72.8 28 -75.7 19 -77.4 10 -78 0 -77.6 -8 -76.6 -15 -72.4 -29 -65.7 -42 -57.2 -53 -47 -62.3 -41 -66.4 -34 -70.2 -27 -73.2 -20 -75.4 -6 -77.8 8 -77.6 22 -74.8 35 -69.7 47 -62.3 54.2 -56 58.8 -50 61 -44.5 64.5 -32 68.7 -24 74.7 -17 81 -12M5 12 2 12.7 -2 12.7 -6 11.7 -9 10.2 -14 5.4 -16.9 -1 -17.2 -8 -16.1 -12 -14.5 -15 -10 -19.8 -4 -22.6 0 -23.1 3 -22.8 9 -20.5 13.9 -16 16.8 -10 17.3 -3 15.5 3 13.6 6 11 8.7 5 12M81 31.6 75 35.7 68 37.8 60 37.6 53 35.1 46.1 30 41.2 24 37.6 16 36.4 8 37.7 1 39.4 -3 42.1 -7 48.7 -13 56 -16.5 62 -17.1 67 -15.8 73 -12.1 81 -5.7M2 38.2 -1 38.6 -3 37.4 -3.9 36 -4 33 -2 30.3 1 29.9 3.6 32 4.2 34 4 35.6 2 38.2M81 23.4 76.8 28 71 31.2 65 32.1 59 30.9 53.8 28 49.1 23 46.2 17 45.1 10 46.2 3 49.2 -3 54 -7.8 60 -10.6 65 -10.9 70 -9.3 76 -5.1 81 0.4M69 27.3 63 27.4 60 26.5 57 24.8 52.5 20 50.2 14 50.1 7 52.3 1 56.7 -4 62 -6.3 67 -6.2 70 -5.2 73 -3.3 77.9 2 80.4 8 80.5 14 78.4 20 74 24.9 69 27.3M69 23.1 64 23.5 60 22 56.6 19 54.2 14 53.8 9 55.2 4 58.3 0 63 -2.4 67 -2.3 71.8 0 75 3.6 76.9 8 77.1 13 75.9 17 73 20.8 69 23.1M67 19.2 64 19.1 61 17.6 58.9 15 57.9 12 57.8 9 59 5.6 61 3.3 64 1.9 67 1.9 70 3.5 72.1 6 73.3 9 73.2 13 72 15.8 70 17.9 67 19.2M66 11.1 65.5 11 65.5 10 66 9.9 66 11.1"/>
</g>
<use href="#hd"/>
</g>
<text x="1217.1" y="0" class="tt" transform="translate(0 494.7) scale(1 1.12) translate(0 0)">[28] Oth=0.56</text>
<g transform="translate(1442 583.4)">
<g clip-path="url(#dc)"><g filter="url(#bl)" class="fd">
<path stroke="#4d65ad" d="M11.3 25.3h20M3.3 29.3h28M-0.7 33.3h32M3.3 37.3h24M11.3 41.3h4"/>
<path stroke="#4273b3" d="M7.3 25.3h4M-0.7 37.3h4M7.3 41.3h4M15.3 41.3h4"/>
<path stroke="#3a7eb8" d="M19.3 21.3h8M-0.7 29.3h4M31.3 29.3h4M27.3 37.3h4M3.3 41.3h4M19.3 41.3h4"/>
<path stroke="#3389bd" d="M15.3 21.3h4M27.3 21.3h4M3.3 25.3h4M31.3 25.3h4M-4.7 33.3h4M31.3 33.3h4"/>
<path stroke="#3f97b7" d="M11.3 21.3h4M-0.7 25.3h4M-4.7 29.3h4M-4.7 37.3h4M-0.7 41.3h4M23.3 41.3h4"/>
<path stroke="#49a2b2" d="M7.3 21.3h4"/>
<path stroke="#54aead" d="M23.3 17.3h4M31.3 21.3h4M-4.7 25.3h4M35.3 29.3h4M-8.7 33.3h4M31.3 37.3h4"/>
<path stroke="#60bba8" d="M19.3 17.3h4M27.3 17.3h4M-0.7 21.3h8M35.3 25.3h4M-8.7 29.3h4M35.3 33.3h4M-8.7 37.3h4M-4.7 41.3h4M27.3 41.3h4M7.3 45.3h12"/>
<path stroke="#6bc4a5" d="M15.3 17.3h4M31.3 17.3h4M-4.7 21.3h4M35.3 21.3h4M-8.7 25.3h4M3.3 45.3h4"/>
<path stroke="#79c9a5" d="M11.3 17.3h4M-8.7 21.3h4M-12.7 29.3h4M-12.7 33.3h4M-0.7 45.3h4M19.3 45.3h4"/>
<path stroke="#89d0a4" d="M23.3 13.3h8M3.3 17.3h8M-12.7 25.3h4M39.3 29.3h4M-12.7 37.3h4M35.3 37.3h4M-8.7 41.3h4"/>
<path stroke="#97d5a4" d="M19.3 13.3h4M31.3 13.3h4M-8.7 17.3h12M35.3 17.3h4M-12.7 21.3h4M39.3 25.3h4M31.3 41.3h4M-4.7 45.3h4M23.3 45.3h4"/>
<path stroke="#a4daa4" d="M15.3 13.3h4M-12.7 17.3h4M39.3 21.3h4M-16.7 25.3h4M-16.7 29.3h4M-16.7 33.3h4M39.3 33.3h4M-12.7 41.3h4"/>
<path stroke="#b3e0a2" d="M23.3 9.3h8M-8.7 13.3h12M7.3 13.3h8M35.3 13.3h4M39.3 17.3h4M-16.7 21.3h4M-16.7 37.3h4M-8.7 45.3h4M27.3 45.3h4M3.3 49.3h12"/>
<path stroke="#bfe5a0" d="M19.3 9.3h4M31.3 9.3h4M-12.7 13.3h4M3.3 13.3h4M-16.7 17.3h4M-20.7 25.3h4M43.3 25.3h4M-0.7 49.3h4M15.3 49.3h4"/>
<path stroke="#caea9e" d="M27.3 5.3h4M-12.7 9.3h12M15.3 9.3h4M35.3 9.3h4M-16.7 13.3h4M39.3 13.3h4M-20.7 17.3h4M-20.7 21.3h4M43.3 21.3h4M-20.7 29.3h4M43.3 29.3h4M-20.7 33.3h4M39.3 37.3h4M-16.7 41.3h4M35.3 41.3h4M-12.7 45.3h4M-4.7 49.3h4M19.3 49.3h4"/>
<path stroke="#d8ef9b" d="M23.3 5.3h4M31.3 5.3h4M-16.7 9.3h4M-0.7 9.3h4M11.3 9.3h4M-20.7 13.3h4M43.3 17.3h4M43.3 33.3h4M-20.7 37.3h4M31.3 45.3h4"/>
<path stroke="#e4f498" d="M-12.7 5.3h8M19.3 5.3h4M35.3 5.3h4M-20.7 9.3h4M3.3 9.3h8M39.3 9.3h4M43.3 13.3h4M-24.7 17.3h4M-24.7 21.3h4M-24.7 25.3h4M-24.7 29.3h4M-24.7 33.3h4M-20.7 41.3h4M-16.7 45.3h4M-8.7 49.3h4M23.3 49.3h4"/>
<path stroke="#eaf79e" d="M23.3 1.3h16M-20.7 5.3h8M-4.7 5.3h8M15.3 5.3h4M39.3 5.3h4M-24.7 13.3h4M47.3 17.3h4M47.3 21.3h4M47.3 25.3h4M47.3 29.3h4M-24.7 37.3h4M-12.7 49.3h4M3.3 53.3h8"/>
<path stroke="#f0f9a7" d="M27.3 -2.7h8M-16.7 1.3h12M19.3 1.3h4M39.3 1.3h4M3.3 5.3h12M-24.7 9.3h4M43.3 9.3h4M47.3 13.3h4M-28.7 17.3h4M-28.7 21.3h4M-28.7 25.3h4M-28.7 29.3h4M-28.7 33.3h4M43.3 37.3h4M-24.7 41.3h4M39.3 41.3h4M-20.7 45.3h4M-16.7 49.3h4M27.3 49.3h4M-4.7 53.3h8M11.3 53.3h8"/>
<path stroke="#f5fbaf" d="M-16.7 -2.7h8M23.3 -2.7h4M35.3 -2.7h4M-20.7 1.3h4M-4.7 1.3h4M15.3 1.3h4M-24.7 5.3h4M43.3 5.3h4M-28.7 9.3h4M47.3 9.3h4M-28.7 13.3h4M51.3 17.3h4M51.3 21.3h4M51.3 25.3h4M47.3 33.3h4M-28.7 37.3h4M-24.7 45.3h4M35.3 45.3h4M-8.7 53.3h4M19.3 53.3h4"/>
<path stroke="#fafdb7" d="M23.3 -6.7h16M-20.7 -2.7h4M-8.7 -2.7h8M19.3 -2.7h4M39.3 -2.7h8M-24.7 1.3h4M-0.7 1.3h8M11.3 1.3h4M43.3 1.3h4M-28.7 5.3h4M47.3 5.3h4M-32.7 9.3h4M51.3 9.3h4M-32.7 13.3h4M51.3 13.3h4M-32.7 17.3h4M-32.7 21.3h4M-32.7 25.3h4M-32.7 29.3h4M51.3 29.3h4M-32.7 33.3h4M-32.7 37.3h4M-28.7 41.3h4M-20.7 49.3h4M-12.7 53.3h4"/>
<path stroke="#fffebe" d="M-16.7 -10.7h4M23.3 -10.7h20M-24.7 -6.7h20M19.3 -6.7h4M39.3 -6.7h8M-28.7 -2.7h8M-0.7 -2.7h4M15.3 -2.7h4M47.3 -2.7h4M-32.7 1.3h8M7.3 1.3h4M47.3 1.3h8M-32.7 5.3h4M51.3 5.3h4M-36.7 9.3h4M55.3 9.3h4M-36.7 13.3h4M55.3 13.3h4M-36.7 17.3h4M55.3 17.3h4M-36.7 21.3h4M55.3 21.3h4M-36.7 25.3h4M55.3 25.3h4M-36.7 29.3h4M-36.7 33.3h4M-36.7 37.3h4M47.3 37.3h4M-32.7 41.3h4M43.3 41.3h4M-32.7 45.3h8M-28.7 49.3h8M31.3 49.3h4M-20.7 53.3h8M23.3 53.3h4M-0.7 57.3h12"/>
<path stroke="#fff8b4" d="M27.3 -18.7h16M-24.7 -14.7h20M23.3 -14.7h28M-32.7 -10.7h16M-12.7 -10.7h12M19.3 -10.7h4M43.3 -10.7h12M-36.7 -6.7h12M-4.7 -6.7h4M15.3 -6.7h4M47.3 -6.7h12M-40.7 -2.7h12M3.3 -2.7h12M51.3 -2.7h8M-40.7 1.3h8M55.3 1.3h8M-40.7 5.3h8M55.3 5.3h8M-44.7 9.3h8M59.3 9.3h4M-44.7 13.3h8M59.3 13.3h4M-44.7 17.3h8M59.3 17.3h4M-44.7 21.3h8M59.3 21.3h4M-44.7 25.3h8M-44.7 29.3h8M55.3 29.3h4M-44.7 33.3h8M51.3 33.3h4M-44.7 37.3h8M-40.7 41.3h8M-36.7 45.3h4M39.3 45.3h4M-32.7 49.3h4M-28.7 53.3h8M-12.7 57.3h12M11.3 57.3h4"/>
<path stroke="#fff2aa" d="M67.3 -42.7h8M-76.7 -38.7h8M51.3 -38.7h28M-80.7 -34.7h32M27.3 -34.7h52M-80.7 -30.7h80M15.3 -30.7h64M-80.7 -26.7h84M15.3 -26.7h68M-84.7 -22.7h84M15.3 -22.7h68M-84.7 -18.7h84M19.3 -18.7h8M43.3 -18.7h40M-84.7 -14.7h60M-4.7 -14.7h4M15.3 -14.7h8M51.3 -14.7h36M-84.7 -10.7h52M-0.7 -10.7h4M15.3 -10.7h4M55.3 -10.7h32M-84.7 -6.7h48M-0.7 -6.7h8M11.3 -6.7h4M59.3 -6.7h28M-84.7 -2.7h44M59.3 -2.7h28M-84.7 1.3h44M63.3 1.3h24M-84.7 5.3h44M63.3 5.3h24M-84.7 9.3h40M63.3 9.3h24M-84.7 13.3h40M63.3 13.3h16M-84.7 17.3h40M63.3 17.3h8M-84.7 21.3h40M63.3 21.3h4M-84.7 25.3h40M59.3 25.3h4M-80.7 29.3h36M-80.7 33.3h36M-76.7 37.3h32M-76.7 41.3h36M-72.7 45.3h36M-72.7 49.3h40M-68.7 53.3h40M27.3 53.3h4M-24.7 57.3h12M15.3 57.3h4"/>
<path stroke="#feeb9d" d="M63.3 -54.7h4M55.3 -50.7h16M-72.7 -46.7h16M39.3 -46.7h32M-76.7 -42.7h44M19.3 -42.7h48M-68.7 -38.7h120M-48.7 -34.7h76M-0.7 -30.7h16M3.3 -26.7h12M-0.7 -22.7h16M-0.7 -18.7h20M-0.7 -14.7h16M3.3 -10.7h12M7.3 -6.7h4M79.3 13.3h8M71.3 17.3h12M67.3 21.3h8M63.3 25.3h4M59.3 29.3h4M55.3 33.3h4M51.3 37.3h4M47.3 41.3h4M35.3 49.3h4M-64.7 57.3h40M19.3 57.3h4M-60.7 61.3h12M-8.7 61.3h16"/>
<path stroke="#fee593" d="M55.3 -58.7h8M-68.7 -54.7h8M43.3 -54.7h20M-68.7 -50.7h20M31.3 -50.7h24M-56.7 -46.7h40M-0.7 -46.7h40M-32.7 -42.7h52M75.3 21.3h8M67.3 25.3h16M63.3 29.3h4M43.3 45.3h4M31.3 53.3h4M23.3 57.3h4M-48.7 61.3h40M7.3 61.3h8M-56.7 65.3h8"/>
<path stroke="#fede89" d="M51.3 -62.7h8M-64.7 -58.7h8M39.3 -58.7h16M-60.7 -54.7h16M27.3 -54.7h16M-48.7 -50.7h80M-16.7 -46.7h16M67.3 29.3h8M79.3 29.3h4M59.3 33.3h4M55.3 37.3h4M15.3 61.3h4M-48.7 65.3h20M-52.7 69.3h4"/>
<path stroke="#fed27f" d="M47.3 -66.7h8M-60.7 -62.7h8M39.3 -62.7h12M-56.7 -58.7h12M27.3 -58.7h12M-44.7 -54.7h24M3.3 -54.7h24M75.3 29.3h4M63.3 33.3h4M51.3 41.3h4M39.3 49.3h4M27.3 57.3h4M19.3 61.3h4M-28.7 65.3h40M-48.7 69.3h8"/>
<path stroke="#fec877" d="M43.3 -70.7h8M-56.7 -66.7h4M35.3 -66.7h12M-52.7 -62.7h8M27.3 -62.7h12M-44.7 -58.7h20M11.3 -58.7h16M-20.7 -54.7h24M67.3 33.3h12M59.3 37.3h4M47.3 45.3h4M35.3 53.3h4M11.3 65.3h4M-40.7 69.3h16M-44.7 73.3h4"/>
<path stroke="#fdbf6f" d="M39.3 -74.7h4M35.3 -70.7h8M-52.7 -66.7h12M27.3 -66.7h8M-44.7 -62.7h16M15.3 -62.7h12M-24.7 -58.7h36M63.3 37.3h4M71.3 37.3h8M55.3 41.3h4M43.3 49.3h4M23.3 61.3h4M15.3 65.3h4M-24.7 69.3h28M-40.7 73.3h8"/>
<path stroke="#fdb365" d="M31.3 -78.7h4M31.3 -74.7h8M-48.7 -70.7h8M23.3 -70.7h12M-40.7 -66.7h8M15.3 -66.7h12M-28.7 -62.7h44M67.3 37.3h4M51.3 45.3h4M31.3 57.3h4M3.3 69.3h8M-32.7 73.3h12M-40.7 77.3h8"/>
<path stroke="#fca85e" d="M23.3 -82.7h4M23.3 -78.7h8M-44.7 -74.7h8M23.3 -74.7h8M-40.7 -70.7h12M15.3 -70.7h8M-32.7 -66.7h48M59.3 41.3h16M39.3 53.3h4M27.3 61.3h4M19.3 65.3h4M11.3 69.3h4M-20.7 73.3h24M-32.7 77.3h8"/>
<path stroke="#fa9b58" d="M15.3 -82.7h8M-36.7 -78.7h4M15.3 -78.7h8M-36.7 -74.7h8M11.3 -74.7h12M-28.7 -70.7h44M55.3 45.3h4M71.3 45.3h4M47.3 49.3h4M35.3 57.3h4M23.3 65.3h4M15.3 69.3h4M3.3 73.3h8M-24.7 77.3h20M-28.7 81.3h12M-16.7 85.3h8"/>
<path stroke="#f88c51" d="M-24.7 -82.7h8M-0.7 -82.7h16M-32.7 -78.7h16M-0.7 -78.7h16M-28.7 -74.7h40M59.3 45.3h12M43.3 53.3h4M31.3 61.3h4M11.3 73.3h4M-4.7 77.3h8M-16.7 81.3h16M-8.7 85.3h12"/>
<path stroke="#f67f4b" d="M-16.7 -82.7h16M-16.7 -78.7h16M51.3 49.3h4M67.3 49.3h4M27.3 65.3h4M19.3 69.3h4M3.3 77.3h8M-0.7 81.3h8M3.3 85.3h4"/>
<path stroke="#f57245" d="M55.3 49.3h12M47.3 53.3h4M39.3 57.3h4M23.3 69.3h4M15.3 73.3h4M11.3 77.3h4M7.3 81.3h4M7.3 85.3h4"/>
<path stroke="#ef6645" d="M63.3 53.3h4M35.3 61.3h4M19.3 73.3h4M11.3 81.3h4M11.3 85.3h4"/>
<path stroke="#e95c47" d="M51.3 53.3h12M43.3 57.3h4M59.3 61.3h4M31.3 65.3h4M27.3 69.3h4M15.3 77.3h4M15.3 81.3h4"/>
<path stroke="#e3534a" d="M47.3 57.3h4M59.3 57.3h4M39.3 61.3h4M23.3 73.3h4M19.3 77.3h4"/>
<path stroke="#dc484c" d="M51.3 57.3h8M43.3 61.3h4M55.3 61.3h4M35.3 65.3h4M31.3 69.3h4M19.3 81.3h4"/>
<path stroke="#d63f4f" d="M47.3 61.3h8M39.3 65.3h4M51.3 65.3h4M27.3 73.3h4M23.3 77.3h4M23.3 81.3h8"/>
<path stroke="#cb334d" d="M43.3 65.3h8M35.3 69.3h4M47.3 69.3h4M31.3 73.3h4M43.3 73.3h4M27.3 77.3h4"/>
<path stroke="#be254a" d="M39.3 69.3h8M35.3 73.3h8M31.3 77.3h8"/>
</g>
<path class="ct" d="M19.8 39 26 36 28 33.7 29 31.5 29 29.6 28 27.7 26 26 21 25 14.7 26 8 28.9 5 32 4.8 35 7.6 38 11 39.1 19.8 39M19.6 43 24 41.7 28 39.8 31.7 37 34.1 34 35.3 31 35.2 27 33.7 24 31 21.5 28 20.1 25 19.6 17 20.5 3 24.7 -0.9 27 -2.7 29 -3.8 32 -3.6 35 -2.1 38 1 40.7 5 42.5 9 43.4 14 43.7 19.6 43M16.6 47 24 45.4 31 42.2 36.4 38 39.9 33 41.1 28 40.1 23 36.9 18 32 14.4 28 13.3 24 13.4 9.3 17 -3 18.5 -8 20.7 -10.6 24 -12 29 -11.6 34 -10 38 -6.6 42 -2 44.8 3 46.4 10 47.3 16.6 47M15.5 51 24 49.2 32 45.8 39 41 44.4 35 46.7 30 47.3 24 45.6 18 42 12 39 8.6 36 6.3 33 4.9 30 4.3 25 4.8 15 8.8 10 10 4 9.8 -8 7.1 -12 7.8 -15 9.4 -17.5 12 -19.3 15 -20.7 19 -21.2 23 -21.2 28 -20.4 33 -19.1 37 -16.9 41 -11.7 46 -4 49.6 5 51.2 15.5 51M15.6 56 27 52.6 37 47.4 45.5 41 52.7 33 56.3 26 57.4 19 56.2 12 52.2 3 48.7 -2 44 -6.6 39 -9.6 34 -11 30 -10.9 27 -9.9 15 -1.2 10 0.6 7 0.4 4 -0.5 -6 -6.7 -10 -8.2 -15 -8.3 -21 -6 -26 -2.2 -29.6 2 -32.8 8 -34.6 14 -35.3 21 -34.8 29 -33.2 36 -30.7 42 -27.9 46 -24 49.5 -19.9 52 -14 54.3 -7 55.9 1 56.8 9 56.8 15.6 56M59.8 -81 59.5 -78 58.4 -75 54.7 -70 48.3 -65 40 -60.8 30 -57.3 18 -54.6 5 -53 -8 -52.4 -21 -53 -34 -54.6 -46 -57.3 -56 -60.7 -64.5 -65 -70.9 -70 -74.5 -75 -75.6 -78 -75.9 -81M-61.1 81 -60.8 79 -59.6 77 -56.2 74 -50 71 -41 68.3 -25 66 5 65.2 11 64.3 17 62.6 25 59.2 35 53.7 65 33.5 70 31.5 74 30.6 78 30.6 81 31.3M81 59.1 72.3 73 66.3 81M10.7 -81 9.6 -78 5 -75.1 -1 -73.5 -8 -72.9 -15 -73.4 -21 -75 -25.7 -78 -26.8 -81M-7.6 81 -4.8 79 9 74.3 19 69.6 47 51.9 56 46.9 63 44.6 66 44.4 68.5 45 70.9 47 71.8 50 71.4 54 70.1 58 67 64 62.3 71 53.3 81M22.2 81 23 78 26.5 74 41 63 46 60 51 57.8 54 57.2 56.7 58 57.6 60 57.4 62 54.1 69 48.1 76 41.4 81"/>
</g>
<use href="#hd"/>
</g>
<text x="1442" y="0" class="tt" transform="translate(0 494.7) scale(1 1.12) translate(0 0)">[29] Bra=0.89</text>
<g transform="translate(1666.9 583.4)">
<g clip-path="url(#dc)"><g filter="url(#bl)" class="fd">
<path stroke="#89d0a4" d="M51.3 -46.7h20M47.3 -42.7h24M47.3 -38.7h24M51.3 -34.7h20M59.3 -30.7h4"/>
<path stroke="#97d5a4" d="M59.3 -54.7h4M47.3 -50.7h24M43.3 -46.7h8M43.3 -42.7h4M71.3 -42.7h4M43.3 -38.7h4M71.3 -38.7h8M43.3 -34.7h8M71.3 -34.7h4M47.3 -30.7h12M63.3 -30.7h8M55.3 -26.7h12"/>
<path stroke="#a4daa4" d="M47.3 -54.7h12M63.3 -54.7h4M43.3 -50.7h4M39.3 -46.7h4M39.3 -42.7h4M39.3 -38.7h4M39.3 -34.7h4M75.3 -34.7h4M43.3 -30.7h4M71.3 -30.7h8M47.3 -26.7h8M67.3 -26.7h8M55.3 -22.7h12"/>
<path stroke="#b3e0a2" d="M47.3 -58.7h16M43.3 -54.7h4M39.3 -50.7h4M35.3 -46.7h4M35.3 -42.7h4M35.3 -38.7h4M35.3 -34.7h4M39.3 -30.7h4M39.3 -26.7h8M75.3 -26.7h4M47.3 -22.7h8M67.3 -22.7h8M59.3 -18.7h4"/>
<path stroke="#bfe5a0" d="M47.3 -62.7h12M39.3 -58.7h8M35.3 -54.7h8M35.3 -50.7h4M31.3 -46.7h4M31.3 -42.7h4M31.3 -38.7h4M31.3 -34.7h4M31.3 -30.7h8M35.3 -26.7h4M79.3 -26.7h4M39.3 -22.7h8M75.3 -22.7h4M43.3 -18.7h16M63.3 -18.7h12"/>
<path stroke="#caea9e" d="M47.3 -66.7h8M39.3 -62.7h8M35.3 -58.7h4M31.3 -54.7h4M31.3 -50.7h4M27.3 -46.7h4M27.3 -42.7h4M27.3 -38.7h4M27.3 -34.7h4M27.3 -30.7h4M31.3 -26.7h4M31.3 -22.7h8M79.3 -22.7h4M35.3 -18.7h8M75.3 -18.7h8M43.3 -14.7h32"/>
<path stroke="#d8ef9b" d="M47.3 -70.7h4M39.3 -66.7h8M35.3 -62.7h4M31.3 -58.7h4M27.3 -54.7h4M23.3 -50.7h8M23.3 -46.7h4M23.3 -42.7h4M23.3 -38.7h4M23.3 -34.7h4M23.3 -30.7h4M23.3 -26.7h8M27.3 -22.7h4M27.3 -18.7h8M27.3 -14.7h16M75.3 -14.7h8M43.3 -10.7h32"/>
<path stroke="#e4f498" d="M39.3 -70.7h8M31.3 -66.7h8M27.3 -62.7h8M23.3 -58.7h8M23.3 -54.7h4M19.3 -50.7h4M19.3 -46.7h4M19.3 -42.7h4M19.3 -38.7h4M19.3 -34.7h4M19.3 -30.7h4M19.3 -26.7h4M19.3 -22.7h8M15.3 -18.7h12M15.3 -14.7h12M83.3 -14.7h4M15.3 -10.7h28M75.3 -10.7h8M15.3 -6.7h20M39.3 -6.7h36M15.3 -2.7h12"/>
<path stroke="#eaf79e" d="M35.3 -74.7h8M31.3 -70.7h8M23.3 -66.7h8M23.3 -62.7h4M19.3 -58.7h4M15.3 -54.7h8M15.3 -50.7h4M15.3 -46.7h4M15.3 -42.7h4M15.3 -38.7h4M15.3 -34.7h4M15.3 -30.7h4M11.3 -26.7h8M11.3 -22.7h8M11.3 -18.7h4M11.3 -14.7h4M11.3 -10.7h4M83.3 -10.7h4M11.3 -6.7h4M35.3 -6.7h4M75.3 -6.7h12M11.3 -2.7h4M27.3 -2.7h48M15.3 1.3h16M-0.7 45.3h8M-4.7 49.3h12"/>
<path stroke="#f0f9a7" d="M31.3 -78.7h4M27.3 -74.7h8M19.3 -70.7h12M15.3 -66.7h8M15.3 -62.7h8M11.3 -58.7h8M11.3 -54.7h4M7.3 -50.7h8M7.3 -46.7h8M7.3 -42.7h8M7.3 -38.7h8M7.3 -34.7h8M7.3 -30.7h8M7.3 -26.7h4M7.3 -22.7h4M7.3 -18.7h4M7.3 -14.7h4M7.3 -10.7h4M7.3 -6.7h4M75.3 -2.7h12M11.3 1.3h4M31.3 1.3h52M15.3 5.3h24M55.3 5.3h8M19.3 9.3h8M7.3 37.3h4M-0.7 41.3h16M-8.7 45.3h8M7.3 45.3h8M-12.7 49.3h8M7.3 49.3h8M-12.7 53.3h28M-8.7 57.3h20M-0.7 61.3h4"/>
<path stroke="#f5fbaf" d="M23.3 -82.7h4M15.3 -78.7h16M11.3 -74.7h16M7.3 -70.7h12M7.3 -66.7h8M3.3 -62.7h12M3.3 -58.7h8M-0.7 -54.7h12M-0.7 -50.7h8M-0.7 -46.7h8M-0.7 -42.7h8M-0.7 -38.7h8M-0.7 -34.7h8M-0.7 -30.7h8M-0.7 -26.7h8M3.3 -22.7h4M3.3 -18.7h4M3.3 -14.7h4M3.3 -10.7h4M7.3 -2.7h4M83.3 1.3h4M11.3 5.3h4M39.3 5.3h16M63.3 5.3h24M15.3 9.3h4M27.3 9.3h56M19.3 13.3h20M55.3 13.3h8M7.3 33.3h16M-0.7 37.3h8M11.3 37.3h12M-8.7 41.3h8M15.3 41.3h12M-16.7 45.3h8M15.3 45.3h12M-20.7 49.3h8M15.3 49.3h8M-20.7 53.3h8M15.3 53.3h8M-16.7 57.3h8M11.3 57.3h12M-12.7 61.3h12M3.3 61.3h16M-8.7 65.3h24"/>
<path stroke="#fafdb7" d="M-24.7 -82.7h48M-28.7 -78.7h44M-32.7 -74.7h44M-32.7 -70.7h40M-36.7 -66.7h44M-36.7 -62.7h40M-36.7 -58.7h40M-36.7 -54.7h36M-36.7 -50.7h36M-36.7 -46.7h36M-32.7 -42.7h32M-24.7 -38.7h24M-20.7 -34.7h20M-12.7 -30.7h12M-8.7 -26.7h8M-4.7 -22.7h8M-4.7 -18.7h8M-0.7 -14.7h4M-0.7 -10.7h4M3.3 -6.7h4M7.3 1.3h4M11.3 9.3h4M83.3 9.3h4M15.3 13.3h4M39.3 13.3h16M63.3 13.3h24M15.3 17.3h68M15.3 21.3h68M11.3 25.3h72M11.3 29.3h72M3.3 33.3h4M23.3 33.3h56M-4.7 37.3h4M23.3 37.3h56M-16.7 41.3h8M27.3 41.3h48M-24.7 45.3h8M27.3 45.3h48M-24.7 49.3h4M23.3 49.3h32M-24.7 53.3h4M23.3 53.3h28M-24.7 57.3h8M23.3 57.3h28M-20.7 61.3h8M19.3 61.3h32M-16.7 65.3h8M15.3 65.3h32M-12.7 69.3h60M-8.7 73.3h52M-4.7 77.3h44M-0.7 81.3h32M7.3 85.3h8"/>
<path stroke="#fffebe" d="M-36.7 -78.7h8M-44.7 -74.7h12M-48.7 -70.7h16M-56.7 -66.7h20M-60.7 -62.7h24M-64.7 -58.7h28M-68.7 -54.7h32M-68.7 -50.7h32M-72.7 -46.7h36M-76.7 -42.7h44M-76.7 -38.7h52M-80.7 -34.7h60M-80.7 -30.7h68M-80.7 -26.7h72M-84.7 -22.7h80M-84.7 -18.7h56M-12.7 -18.7h8M-84.7 -14.7h48M-4.7 -14.7h4M-84.7 -10.7h44M-84.7 -6.7h44M-0.7 -6.7h4M-76.7 -2.7h32M3.3 -2.7h4M-72.7 1.3h28M-68.7 5.3h24M7.3 5.3h4M-64.7 9.3h20M-60.7 13.3h16M11.3 13.3h4M-56.7 17.3h12M11.3 17.3h4M11.3 21.3h4M7.3 29.3h4M-0.7 33.3h4M-8.7 37.3h4M-36.7 41.3h20M-32.7 45.3h8M-32.7 49.3h8M55.3 49.3h16M-28.7 53.3h4M51.3 53.3h16M-28.7 57.3h4M51.3 57.3h12M-24.7 61.3h4M51.3 61.3h12M-20.7 65.3h4M47.3 65.3h8M-20.7 69.3h8M47.3 69.3h4M-16.7 73.3h8M43.3 73.3h4M-12.7 77.3h8M-12.7 81.3h12M-8.7 85.3h16"/>
<path stroke="#fff8b4" d="M-28.7 -18.7h16M-36.7 -14.7h12M-12.7 -14.7h8M-40.7 -10.7h12M-4.7 -10.7h4M-40.7 -6.7h8M-84.7 -2.7h8M-44.7 -2.7h8M-80.7 1.3h8M-44.7 1.3h4M3.3 1.3h4M-76.7 5.3h8M-44.7 5.3h4M-72.7 9.3h8M-44.7 9.3h4M7.3 9.3h4M-68.7 13.3h8M-44.7 13.3h4M-64.7 17.3h8M-44.7 17.3h4M-60.7 21.3h20M-56.7 25.3h16M7.3 25.3h4M-52.7 29.3h16M3.3 29.3h4M-48.7 33.3h16M-44.7 37.3h20M-12.7 37.3h4M-40.7 41.3h4M-40.7 45.3h8M-36.7 49.3h4M-32.7 53.3h4M-32.7 57.3h4M-28.7 61.3h4M-24.7 65.3h4M-24.7 69.3h4M-20.7 73.3h4M-16.7 77.3h4M-16.7 81.3h4M-12.7 85.3h4"/>
<path stroke="#fff2aa" d="M-24.7 -14.7h12M-28.7 -10.7h4M-8.7 -10.7h4M-32.7 -6.7h4M-4.7 -6.7h4M-36.7 -2.7h4M-0.7 -2.7h4M-84.7 1.3h4M-40.7 1.3h4M-80.7 5.3h4M-40.7 5.3h4M-76.7 9.3h4M-40.7 9.3h4M-72.7 13.3h4M-40.7 13.3h4M7.3 13.3h4M-68.7 17.3h4M-40.7 17.3h4M7.3 17.3h4M-64.7 21.3h4M-40.7 21.3h4M7.3 21.3h4M-60.7 25.3h4M-40.7 25.3h4M-56.7 29.3h4M-36.7 29.3h4M-52.7 33.3h4M-32.7 33.3h4M-4.7 33.3h4M-48.7 37.3h4M-24.7 37.3h12M-44.7 41.3h4M-40.7 49.3h4M-36.7 53.3h4M-32.7 61.3h4M-28.7 65.3h4M-28.7 69.3h4M-24.7 73.3h4M-20.7 77.3h4M-20.7 81.3h4M-16.7 85.3h4"/>
<path stroke="#feeb9d" d="M-24.7 -10.7h16M-28.7 -6.7h4M-32.7 -2.7h4M-36.7 1.3h4M-84.7 5.3h4M3.3 5.3h4M-80.7 9.3h4M-76.7 13.3h4M-72.7 17.3h4M-68.7 21.3h4M-64.7 25.3h4M-36.7 25.3h4M3.3 25.3h4M-60.7 29.3h4M-32.7 29.3h4M-0.7 29.3h4M-56.7 33.3h4M-28.7 33.3h4M-52.7 37.3h4M-48.7 41.3h4M-44.7 45.3h4M-40.7 53.3h4M-36.7 57.3h4M-32.7 65.3h4M-28.7 73.3h4M-24.7 77.3h4M-24.7 81.3h4"/>
<path stroke="#fee593" d="M-24.7 -6.7h4M-8.7 -6.7h4M-4.7 -2.7h4M-0.7 1.3h4M-36.7 5.3h4M-84.7 9.3h4M-36.7 9.3h4M-80.7 13.3h4M-76.7 17.3h4M-72.7 21.3h4M-36.7 21.3h4M-24.7 33.3h4M-8.7 33.3h4M-56.7 37.3h4M-52.7 41.3h4M-48.7 45.3h4M-44.7 49.3h4M-40.7 57.3h4M-36.7 61.3h4M-32.7 69.3h4M-28.7 77.3h4"/>
<path stroke="#fede89" d="M-20.7 -6.7h12M-28.7 -2.7h4M-32.7 1.3h4M3.3 9.3h4M-84.7 13.3h4M-36.7 13.3h4M-36.7 17.3h4M3.3 21.3h4M-68.7 25.3h4M-32.7 25.3h4M-64.7 29.3h4M-60.7 33.3h4M-20.7 33.3h4M-12.7 33.3h4M-48.7 49.3h4M-44.7 53.3h4M-40.7 61.3h4M-36.7 65.3h4M-32.7 73.3h4M-28.7 81.3h4"/>
<path stroke="#fed27f" d="M-32.7 5.3h4M3.3 13.3h4M-80.7 17.3h4M3.3 17.3h4M-76.7 21.3h4M-72.7 25.3h4M-0.7 25.3h4M-68.7 29.3h4M-28.7 29.3h4M-4.7 29.3h4M-64.7 33.3h4M-16.7 33.3h4M-60.7 37.3h4M-56.7 41.3h4M-52.7 45.3h4M-44.7 57.3h4M-36.7 69.3h4M-32.7 77.3h4"/>
<path stroke="#fec877" d="M-24.7 -2.7h4M-8.7 -2.7h4M-28.7 1.3h4M-4.7 1.3h4M-0.7 5.3h4M-84.7 17.3h4M-80.7 21.3h4M-32.7 21.3h4M-52.7 49.3h4M-48.7 53.3h4M-40.7 65.3h4M-36.7 73.3h4"/>
<path stroke="#fdbf6f" d="M-20.7 -2.7h12M-32.7 9.3h4M-32.7 13.3h4M-32.7 17.3h4M-76.7 25.3h4M-72.7 29.3h4M-24.7 29.3h4M-68.7 33.3h4M-64.7 37.3h4M-60.7 41.3h4M-56.7 45.3h4M-44.7 61.3h4M-40.7 69.3h4M-36.7 77.3h4"/>
<path stroke="#fdb365" d="M-0.7 9.3h4M-84.7 21.3h4M-0.7 21.3h4M-28.7 25.3h4M-8.7 29.3h4M-52.7 53.3h4M-48.7 57.3h4M-44.7 65.3h4"/>
<path stroke="#fca85e" d="M-24.7 1.3h4M-8.7 1.3h4M-28.7 5.3h4M-0.7 13.3h4M-0.7 17.3h4M-80.7 25.3h4M-4.7 25.3h4M-76.7 29.3h4M-20.7 29.3h4M-72.7 33.3h4M-64.7 41.3h4M-60.7 45.3h4M-56.7 49.3h4M-48.7 61.3h4M-40.7 73.3h4"/>
<path stroke="#fa9b58" d="M-4.7 5.3h4M-28.7 21.3h4M-84.7 25.3h4M-16.7 29.3h8M-68.7 37.3h4M-52.7 57.3h4M-44.7 69.3h4M-40.7 77.3h4"/>
<path stroke="#f88c51" d="M-20.7 1.3h4M-12.7 1.3h4M-28.7 9.3h4M-24.7 25.3h4M-80.7 29.3h4M-56.7 53.3h4M-48.7 65.3h4M-44.7 73.3h4"/>
<path stroke="#f67f4b" d="M-16.7 1.3h4M-24.7 5.3h4M-28.7 13.3h4M-28.7 17.3h4M-76.7 33.3h4M-72.7 37.3h4M-68.7 41.3h4M-64.7 45.3h4M-60.7 49.3h4M-52.7 61.3h4"/>
<path stroke="#f57245" d="M-4.7 9.3h4M-4.7 21.3h4M-8.7 25.3h4M-80.7 33.3h4M-56.7 57.3h4M-48.7 69.3h4"/>
<path stroke="#ef6645" d="M-8.7 5.3h4M-20.7 25.3h4M-76.7 37.3h4M-72.7 41.3h4M-68.7 45.3h4M-64.7 49.3h4M-60.7 53.3h4M-52.7 65.3h4"/>
<path stroke="#e95c47" d="M-20.7 5.3h4M-24.7 9.3h4M-4.7 13.3h4M-4.7 17.3h4M-24.7 21.3h4M-12.7 25.3h4M-56.7 61.3h4M-52.7 69.3h4"/>
<path stroke="#e3534a" d="M-12.7 5.3h4M-16.7 25.3h4M-60.7 57.3h4"/>
<path stroke="#dc484c" d="M-16.7 5.3h4M-24.7 13.3h4M-24.7 17.3h4M-76.7 41.3h4M-72.7 45.3h4M-68.7 49.3h4M-64.7 53.3h4M-56.7 65.3h4"/>
<path stroke="#d63f4f" d="M-8.7 9.3h4M-8.7 21.3h4M-64.7 57.3h4M-60.7 61.3h4"/>
<path stroke="#cb334d" d="M-20.7 9.3h4M-20.7 21.3h4M-72.7 49.3h4M-68.7 53.3h4"/>
<path stroke="#be254a" d="M-8.7 13.3h4M-8.7 17.3h4"/>
<path stroke="#b41947" d="M-16.7 9.3h8M-20.7 13.3h12M-20.7 17.3h12M-16.7 21.3h8"/>
</g>
<path class="ct" d="M63 -23 67 -23.8 71 -25.4 74 -27.2 77 -30.1 79 -33 80.5 -37 80.9 -41 80.5 -44 79 -47.7 77 -50.6 74.6 -53 71 -55.3 67 -56.9 63 -57.7 55 -57.2 48 -54.1 43 -49.3 41.2 -46 40.4 -43 40.5 -37 43.2 -31 46 -28 48.8 -26 56 -23.3 63 -23M81 -69.9 75 -72.4 68 -74.1 62 -74.7 55 -74.4 48 -73 42 -70.8 36 -67.5 31 -63.6 24.8 -56 21.4 -48 20.3 -40 20.9 -23 19.9 -19 16.6 -12 16 -9 17.2 -5 19 -3.4 21 -2.8 24 -3.5 31 -7.7 35 -8.8 40 -8.6 55 -6.2 62 -6 72 -7.4 81 -10.8M-81 -10.9 -62 4.6 -58 7.2 -55 8.1 -53 7.4 -52 6.1 -47.2 -7 -43.3 -14 -38.9 -19 -33 -23.1 -26 -25.5 -22 -25.8 -18 -25.4 -11 -22.6 -5 -17.2 4 -3.5 11.5 10 13.5 17 13.4 20 12.5 23 10.7 26 8 29 4 32.3 -1 35.4 -6 37.7 -12 39.6 -27.9 42 -29.6 43 -30.3 45 -28.8 51 -23.8 60 -17 69.3 -7 81M-13 34.1 -17 34.1 -21 33.3 -27.2 30 -30.2 27 -32.1 24 -33.7 20 -34.4 16 -34.4 12 -33.7 8 -32.1 4 -30 0.5 -27 -2.7 -24 -4.8 -21 -6.2 -17 -7.1 -14 -7.2 -10 -6.4 -6 -4.5 -3 -2.3 0.2 1 3.5 6 5.2 10 6.1 14 6 18 5.2 21 3.8 24 1.5 27 -1 29.3 -5 31.7 -9 33.3 -13 34.1M-81 13.8 -65 27.6 -50.8 43 -37.7 61 -31.5 71 -26.2 81M-12 30.1 -18 29.8 -23 27.4 -27.1 23 -29.2 17 -29 11 -26.3 5 -22 0.9 -19 -0.6 -16 -1.3 -10 -0.8 -5 1.8 -0.4 7 1.8 13 1.5 19 -1.1 24 -6 28.2 -12 30.1M-81 23.8 -67 35.6 -54 50 -42.9 66 -35.4 81M-9 26 -14 26.9 -18 26.1 -22 23.5 -24.4 20 -25.5 15 -24.5 10 -22 6.3 -18 3.6 -13 2.8 -9 3.7 -5 6.6 -2.2 11 -1.5 16 -2.5 20 -5 23.4 -9 26M-81 31.9 -75 36.3 -69 41.6 -57.1 55 -48.2 69 -45.4 75 -43.4 81M-74.6 81 -81 74.6M-11 23.2 -14 23.5 -17 22.7 -19.4 21 -21.3 18 -21.8 15 -21 11.5 -19 8.8 -16 7 -12 6.7 -9 7.9 -6.7 10 -5.3 13 -5 16 -5.9 19 -8 21.6 -11 23.2M-81 40.7 -76 43.8 -70 48.9 -65 54.3 -60 61.1 -56.6 67 -54.3 73 -53.8 78 -55 81M-63 81 -67 78.8 -72 75.1 -81 65.8"/>
</g>
<use href="#hd"/>
</g>
<text x="1666.9" y="0" class="tt" transform="translate(0 494.7) scale(1 1.12) translate(0 0)">[30] Bra=0.73</text>
<g transform="translate(1891.8 583.4)">
<g clip-path="url(#dc)"><g filter="url(#bl)" class="fd">
<path stroke="#4d65ad" d="M59.3 -50.7h8M59.3 -46.7h12M59.3 -42.7h12M63.3 -38.7h8"/>
<path stroke="#4273b3" d="M55.3 -50.7h4M67.3 -50.7h4M55.3 -46.7h4M71.3 -42.7h4M59.3 -38.7h4M71.3 -38.7h4M67.3 -34.7h4"/>
<path stroke="#3a7eb8" d="M59.3 -54.7h8M55.3 -42.7h4M63.3 -34.7h4M71.3 -34.7h4"/>
<path stroke="#3389bd" d="M55.3 -54.7h4M55.3 -38.7h4M75.3 -38.7h4M59.3 -34.7h4"/>
<path stroke="#3f97b7" d="M55.3 -58.7h8M51.3 -50.7h4M51.3 -46.7h4M75.3 -34.7h4M63.3 -30.7h12"/>
<path stroke="#49a2b2" d="M51.3 -54.7h4M51.3 -42.7h4"/>
<path stroke="#54aead" d="M51.3 -58.7h4M55.3 -34.7h4M59.3 -30.7h4M75.3 -30.7h4"/>
<path stroke="#60bba8" d="M55.3 -62.7h4M47.3 -54.7h4M47.3 -50.7h4M47.3 -46.7h4M51.3 -38.7h4M63.3 -26.7h12"/>
<path stroke="#6bc4a5" d="M51.3 -62.7h4M47.3 -58.7h4M47.3 -42.7h4M55.3 -30.7h4M75.3 -26.7h4"/>
<path stroke="#79c9a5" d="M51.3 -34.7h4M59.3 -26.7h4"/>
<path stroke="#89d0a4" d="M51.3 -66.7h4M47.3 -62.7h4M43.3 -54.7h4M43.3 -50.7h4M47.3 -38.7h4M79.3 -26.7h4M63.3 -22.7h12"/>
<path stroke="#97d5a4" d="M43.3 -58.7h4M43.3 -46.7h4M51.3 -30.7h4M55.3 -26.7h4M75.3 -22.7h4"/>
<path stroke="#a4daa4" d="M47.3 -66.7h4M43.3 -62.7h4M43.3 -42.7h4M47.3 -34.7h4M59.3 -22.7h4M79.3 -22.7h4"/>
<path stroke="#b3e0a2" d="M43.3 -66.7h4M39.3 -54.7h4M39.3 -50.7h4M43.3 -38.7h4M51.3 -26.7h4M67.3 -18.7h8"/>
<path stroke="#bfe5a0" d="M47.3 -70.7h4M39.3 -62.7h4M39.3 -58.7h4M39.3 -46.7h4M47.3 -30.7h4M55.3 -22.7h4M63.3 -18.7h4M75.3 -18.7h4"/>
<path stroke="#caea9e" d="M43.3 -70.7h4M39.3 -66.7h4M39.3 -42.7h4M43.3 -34.7h4M59.3 -18.7h4M79.3 -18.7h4"/>
<path stroke="#d8ef9b" d="M35.3 -58.7h4M35.3 -54.7h4M35.3 -50.7h4M39.3 -38.7h4M43.3 -30.7h4M47.3 -26.7h4M51.3 -22.7h4M55.3 -18.7h4M63.3 -14.7h12"/>
<path stroke="#e4f498" d="M39.3 -70.7h4M35.3 -66.7h4M35.3 -62.7h4M35.3 -46.7h4M35.3 -42.7h4M39.3 -34.7h4M59.3 -14.7h4M75.3 -14.7h4"/>
<path stroke="#eaf79e" d="M39.3 -74.7h4M35.3 -70.7h4M35.3 -38.7h4M39.3 -30.7h4M43.3 -26.7h4M47.3 -22.7h4M51.3 -18.7h4M55.3 -14.7h4M79.3 -14.7h8"/>
<path stroke="#f0f9a7" d="M35.3 -74.7h4M31.3 -66.7h4M31.3 -62.7h4M31.3 -58.7h4M31.3 -54.7h4M31.3 -50.7h4M31.3 -46.7h4M35.3 -34.7h4M43.3 -22.7h4M47.3 -18.7h4M59.3 -10.7h16"/>
<path stroke="#f5fbaf" d="M31.3 -70.7h4M27.3 -58.7h4M27.3 -54.7h4M27.3 -50.7h4M31.3 -42.7h4M31.3 -38.7h4M35.3 -30.7h4M39.3 -26.7h4M43.3 -18.7h4M51.3 -14.7h4M55.3 -10.7h4M75.3 -10.7h8"/>
<path stroke="#fafdb7" d="M31.3 -78.7h4M31.3 -74.7h4M27.3 -70.7h4M27.3 -66.7h4M27.3 -62.7h4M27.3 -46.7h4M27.3 -42.7h4M27.3 -38.7h4M31.3 -34.7h4M31.3 -30.7h4M35.3 -26.7h4M35.3 -22.7h8M-16.7 -18.7h16M39.3 -18.7h4M-20.7 -14.7h28M43.3 -14.7h8M-24.7 -10.7h32M51.3 -10.7h4M83.3 -10.7h4M-24.7 -6.7h32M59.3 -6.7h12M-24.7 -2.7h32M-24.7 1.3h32M-20.7 5.3h28M-20.7 9.3h24"/>
<path stroke="#fffebe" d="M27.3 -78.7h4M27.3 -74.7h4M23.3 -70.7h4M23.3 -66.7h4M23.3 -62.7h4M23.3 -58.7h4M23.3 -54.7h4M23.3 -50.7h4M23.3 -46.7h4M23.3 -42.7h4M23.3 -38.7h4M-20.7 -34.7h28M23.3 -34.7h8M-28.7 -30.7h44M19.3 -30.7h12M-32.7 -26.7h68M-36.7 -22.7h72M-36.7 -18.7h20M-0.7 -18.7h40M-40.7 -14.7h20M7.3 -14.7h20M35.3 -14.7h8M-40.7 -10.7h16M7.3 -10.7h20M43.3 -10.7h8M-40.7 -6.7h16M7.3 -6.7h20M51.3 -6.7h8M71.3 -6.7h8M-40.7 -2.7h16M7.3 -2.7h20M59.3 -2.7h8M-40.7 1.3h16M7.3 1.3h16M-40.7 5.3h20M7.3 5.3h16M-36.7 9.3h16M3.3 9.3h20M-36.7 13.3h56M-32.7 17.3h48M-28.7 21.3h40M-24.7 25.3h32"/>
<path stroke="#fff8b4" d="M23.3 -78.7h4M19.3 -74.7h8M19.3 -70.7h4M19.3 -66.7h4M15.3 -62.7h8M15.3 -58.7h8M11.3 -54.7h12M-16.7 -50.7h40M-28.7 -46.7h52M-36.7 -42.7h60M-40.7 -38.7h64M-44.7 -34.7h24M7.3 -34.7h16M-48.7 -30.7h20M15.3 -30.7h4M-48.7 -26.7h16M-52.7 -22.7h16M-52.7 -18.7h16M-52.7 -14.7h12M27.3 -14.7h8M-56.7 -10.7h16M27.3 -10.7h16M-56.7 -6.7h16M27.3 -6.7h24M79.3 -6.7h8M-56.7 -2.7h16M27.3 -2.7h32M67.3 -2.7h4M-56.7 1.3h16M23.3 1.3h24M51.3 1.3h16M-52.7 5.3h12M23.3 5.3h16M-52.7 9.3h16M23.3 9.3h16M-52.7 13.3h16M19.3 13.3h16M-48.7 17.3h16M15.3 17.3h20M-48.7 21.3h20M11.3 21.3h20M-44.7 25.3h20M7.3 25.3h20M-40.7 29.3h64M-36.7 33.3h56M-32.7 37.3h48M-20.7 41.3h24"/>
<path stroke="#fff2aa" d="M15.3 -82.7h12M11.3 -78.7h12M7.3 -74.7h12M-0.7 -70.7h20M-24.7 -66.7h44M-36.7 -62.7h52M-44.7 -58.7h60M-48.7 -54.7h60M-52.7 -50.7h36M-56.7 -46.7h28M-60.7 -42.7h24M-64.7 -38.7h24M-64.7 -34.7h20M-68.7 -30.7h20M-68.7 -26.7h20M-68.7 -22.7h16M-72.7 -18.7h20M-72.7 -14.7h20M-72.7 -10.7h16M-72.7 -6.7h16M-72.7 -2.7h16M71.3 -2.7h4M-72.7 1.3h16M47.3 1.3h4M67.3 1.3h4M-72.7 5.3h20M39.3 5.3h28M-72.7 9.3h20M39.3 9.3h24M-72.7 13.3h20M35.3 13.3h24M-68.7 17.3h20M35.3 17.3h20M-68.7 21.3h20M31.3 21.3h20M-64.7 25.3h20M27.3 25.3h24M-64.7 29.3h24M23.3 29.3h24M-60.7 33.3h24M19.3 33.3h28M-56.7 37.3h24M15.3 37.3h28M-56.7 41.3h36M3.3 41.3h36M-52.7 45.3h88M-44.7 49.3h76M-40.7 53.3h64M-28.7 57.3h44"/>
<path stroke="#feeb9d" d="M-24.7 -82.7h40M-36.7 -78.7h48M-44.7 -74.7h52M-48.7 -70.7h48M-56.7 -66.7h32M-60.7 -62.7h24M-64.7 -58.7h20M-68.7 -54.7h20M-68.7 -50.7h16M-72.7 -46.7h16M-76.7 -42.7h16M-76.7 -38.7h12M-80.7 -34.7h16M-80.7 -30.7h12M-80.7 -26.7h12M-84.7 -22.7h16M-84.7 -18.7h12M-84.7 -14.7h12M-84.7 -10.7h12M-84.7 -6.7h12M-84.7 -2.7h12M75.3 -2.7h12M-84.7 1.3h12M71.3 1.3h4M-84.7 5.3h12M67.3 5.3h4M-84.7 9.3h12M63.3 9.3h4M-84.7 13.3h12M59.3 13.3h8M-84.7 17.3h16M55.3 17.3h12M-84.7 21.3h16M51.3 21.3h16M-84.7 25.3h20M51.3 25.3h16M-80.7 29.3h16M47.3 29.3h20M-80.7 33.3h20M47.3 33.3h20M-76.7 37.3h20M43.3 37.3h24M-76.7 41.3h20M39.3 41.3h28M-72.7 45.3h20M35.3 45.3h32M-72.7 49.3h28M31.3 49.3h40M-68.7 53.3h28M23.3 53.3h44M-64.7 57.3h36M15.3 57.3h48M-60.7 61.3h124M-56.7 65.3h112M-52.7 69.3h104M-44.7 73.3h92M-40.7 77.3h80M-28.7 81.3h60M-16.7 85.3h32"/>
<path stroke="#fee593" d="M75.3 1.3h4M83.3 1.3h4M71.3 5.3h4M67.3 9.3h4M67.3 13.3h4M67.3 17.3h4M67.3 21.3h4M67.3 25.3h4M67.3 29.3h4M67.3 33.3h4M67.3 37.3h8M67.3 41.3h8M67.3 45.3h8"/>
<path stroke="#fede89" d="M79.3 1.3h4M83.3 5.3h4M71.3 9.3h4M71.3 13.3h4M71.3 21.3h4M71.3 25.3h4M71.3 29.3h4M71.3 33.3h8M75.3 37.3h4"/>
<path stroke="#fed27f" d="M75.3 5.3h8M75.3 9.3h4M83.3 9.3h4M83.3 13.3h4M71.3 17.3h4M75.3 21.3h4M75.3 25.3h8M75.3 29.3h8"/>
<path stroke="#fec877" d="M79.3 9.3h4M75.3 13.3h8M75.3 17.3h8M79.3 21.3h4"/>
</g>
<path class="ct" d="M71 -34 73.8 -36 75.2 -39 75.2 -43 73.2 -48 70 -52 66 -54.6 62 -55.3 59 -54.3 57 -52 56.3 -49 56.7 -45 58.4 -41 61 -37.5 64 -35.1 68 -33.7 71 -34M73.2 -28 76 -29.3 78.1 -31 79.5 -33 80.6 -36 80.6 -42 78.1 -49 73.8 -55 68 -59.6 62 -61.6 59 -61.6 56 -60.7 52.8 -58 50.8 -53 50.9 -47 53.4 -40 57.6 -34 63 -29.6 68 -27.7 73.2 -28M81 -52.3 76.7 -58 71 -63 65 -66.1 59 -67.3 56 -67 53 -66 49.1 -63 46.4 -58 45.6 -52 46.7 -45 49.6 -38 53.7 -32 59 -26.9 65 -23.5 70 -22.4 76 -23.4 81 -26.1M81 -59.5 75 -65.5 68 -70.1 61 -72.5 54 -72.7 48 -70.4 44 -66.5 41.4 -61 40.5 -54 41.5 -46 44.5 -38 49.5 -30 56 -23.4 62 -19.4 68 -17.6 74 -17.8 81 -19.9M81 -66.7 73 -73.3 65 -77.5 57 -79.4 50 -79 46 -77.7 43.2 -76 38.4 -71 35.3 -64 34.3 -56 35.5 -46 38.6 -37 44 -28 51 -20.3 58 -15.1 65 -12.2 71 -12 81 -14.2M32.8 -81 29.2 -76 26.6 -70 24.9 -63 24.2 -56 24.4 -48 25.6 -40 27.7 -33 31.2 -26 36 -20 42.7 -14 51 -8.3 59 -4.4 63 -3.6 66 -3.7 81 -8.2M81 -76.6 75.2 -81M-2.1 21 3 19.2 7 16.8 11 13.3 14.1 9 16.4 4 17.6 -1 17.9 -6 17.2 -11 15.4 -16 13 -19.9 10 -23.1 5.9 -26 1 -28.3 -4 -29.5 -9 -29.8 -14 -29.1 -19 -27.3 -23 -25 -27 -21.5 -30 -17.5 -32.2 -13 -33.5 -8 -33.8 -3 -33.1 2 -31.3 7 -29 11 -25.4 15 -21.4 18 -17 20.1 -12 21.4 -7 21.7 -2.1 21M81 46.9 78 46 76 44.4 72.3 39 69.4 30 68.4 20 69.3 12 71.8 6 76 1.4 78.6 0 81 -0.4"/>
</g>
<use href="#hd"/>
</g>
<text x="1891.8" y="0" class="tt" transform="translate(0 494.7) scale(1 1.12) translate(0 0)">[31] Mus=0.54</text>
</svg></body></html>
